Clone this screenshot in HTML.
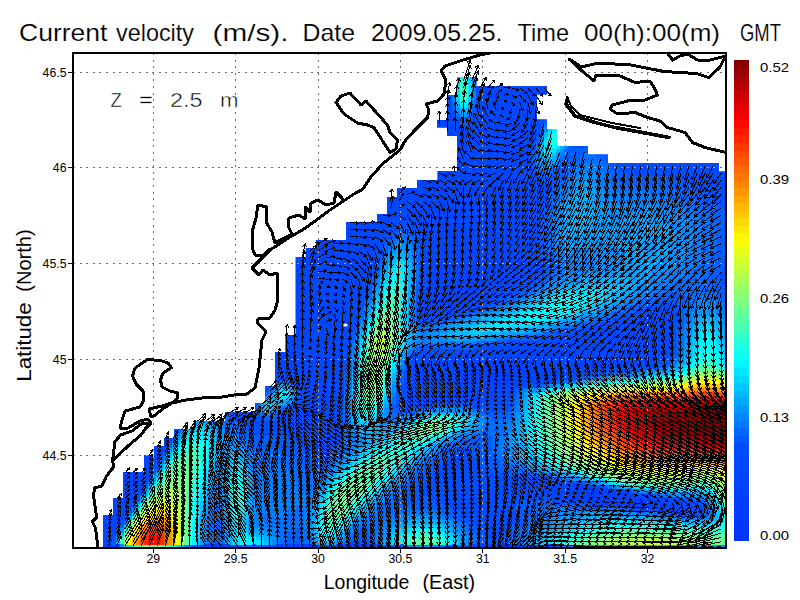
<!DOCTYPE html>
<html lang="en">
<head>
<meta charset="utf-8">
<title>Current velocity (m/s)</title>
<style>
html,body{margin:0;padding:0;background:#fff;}
body{width:800px;height:600px;overflow:hidden;font-family:'Liberation Sans', sans-serif;}
svg{display:block;}
svg text{font-family:'Liberation Sans', sans-serif;fill:#000;}
</style>
</head>
<body>
<svg width="800" height="600" viewBox="0 0 800 600">
<defs>
<clipPath id="sea"><polygon points="103,549 103,515 113,515 113,498 123,498 123,472 144,472 144,455 154,455 154,446 164,446 164,438 174,438 174,429 194,429 194,421 225,421 225,412 255,412 255,403 265,403 265,386 275,386 275,352 285.5,352 285.5,335 295.7,335 295.7,257 305.8,257 305.8,248 316,248 316,240 346,240 346,222 377,222 377,214 387,214 387,197 397,197 397,188 417,188 417,180 437.6,180 437.6,171 457,171 457,136 447,136 447,127.4 437,127.4 437,120 447,120 447,95 457,95 457,77 476.4,77 476.4,86.2 547,86.2 547,94.5 537,94.5 537,119.5 547,119.5 547,129 557,129 557,146 588,146 588,154.5 608,154.5 608,163 719,163 719,171.5 727,171.5 727,549"/></clipPath>
<clipPath id="frame"><rect x="73.0" y="53.0" width="653.0" height="495.0"/></clipPath>
</defs>
<rect width="800" height="600" fill="#fff"/>
<path d="M153.25 53.0V548.0M235.6 53.0V548.0M318.0 53.0V548.0M400.4 53.0V548.0M482.75 53.0V548.0M565.1 53.0V548.0M647.5 53.0V548.0M73.0 72.0H726.0M73.0 167.75H726.0M73.0 263.5H726.0M73.0 359.25H726.0M73.0 455.0H726.0" fill="none" stroke="#6e6e6e" stroke-width="1" stroke-dasharray="2 4.6" shape-rendering="crispEdges"/>
<g clip-path="url(#sea)" shape-rendering="crispEdges">
<rect x="100" y="76" width="627" height="473" fill="#0038ff"/>
<path fill="#0046ff" d="M100 76h344v4.5h-344zM484 76h244v4.5h-244zM100 80h344v4.5h-344zM484 80h244v4.5h-244zM100 84h344v4.5h-344zM484 84h80v4.5h-80zM584 84h144v4.5h-144zM100 88h344v4.5h-344zM484 88h76v4.5h-76zM588 88h140v4.5h-140zM100 92h344v4.5h-344zM484 92h68v4.5h-68zM612 92h116v4.5h-116zM100 96h344v4.5h-344zM484 96h68v4.5h-68zM616 96h112v4.5h-112zM100 100h344v4.5h-344zM484 100h64v4.5h-64zM620 100h108v4.5h-108zM100 104h348v4.5h-348zM480 104h64v4.5h-64zM624 104h104v4.5h-104zM100 108h348v4.5h-348zM480 108h60v4.5h-60zM624 108h104v4.5h-104zM100 112h348v4.5h-348zM480 112h60v4.5h-60zM628 112h100v4.5h-100zM100 116h348v4.5h-348zM480 116h56v4.5h-56zM632 116h96v4.5h-96zM100 120h348v4.5h-348zM480 120h56v4.5h-56zM636 120h92v4.5h-92zM100 124h352v4.5h-352zM476 124h56v4.5h-56zM644 124h84v4.5h-84zM100 128h352v4.5h-352zM476 128h56v4.5h-56zM672 128h56v4.5h-56zM100 132h356v4.5h-356zM472 132h56v4.5h-56zM696 132h32v4.5h-32zM100 136h360v4.5h-360zM468 136h60v4.5h-60zM708 136h20v4.5h-20zM100 140h428v4.5h-428zM720 140h8v4.5h-8zM100 144h424v4.5h-424zM100 148h424v4.5h-424zM100 152h424v4.5h-424zM100 156h420v4.5h-420zM100 160h420v4.5h-420zM100 164h416v4.5h-416zM100 168h416v4.5h-416zM100 172h416v4.5h-416zM100 176h412v4.5h-412zM100 180h408v4.5h-408zM100 184h408v4.5h-408zM100 188h404v4.5h-404zM100 192h404v4.5h-404zM100 196h400v4.5h-400zM100 200h296v4.5h-296zM416 200h84v4.5h-84zM100 204h292v4.5h-292zM420 204h76v4.5h-76zM100 208h288v4.5h-288zM424 208h72v4.5h-72zM100 212h284v4.5h-284zM428 212h64v4.5h-64zM100 216h284v4.5h-284zM428 216h64v4.5h-64zM100 220h280v4.5h-280zM428 220h64v4.5h-64zM100 224h280v4.5h-280zM432 224h60v4.5h-60zM100 228h276v4.5h-276zM432 228h60v4.5h-60zM100 232h276v4.5h-276zM432 232h60v4.5h-60zM100 236h272v4.5h-272zM432 236h60v4.5h-60zM100 240h272v4.5h-272zM432 240h60v4.5h-60zM100 244h272v4.5h-272zM432 244h60v4.5h-60zM100 248h268v4.5h-268zM432 248h60v4.5h-60zM100 252h268v4.5h-268zM436 252h56v4.5h-56zM100 256h268v4.5h-268zM436 256h60v4.5h-60zM100 260h264v4.5h-264zM436 260h60v4.5h-60zM100 264h264v4.5h-264zM436 264h60v4.5h-60zM100 268h264v4.5h-264zM436 268h60v4.5h-60zM100 272h260v4.5h-260zM432 272h64v4.5h-64zM100 276h260v4.5h-260zM432 276h64v4.5h-64zM100 280h260v4.5h-260zM432 280h60v4.5h-60zM100 284h256v4.5h-256zM432 284h56v4.5h-56zM100 288h256v4.5h-256zM432 288h52v4.5h-52zM100 292h252v4.5h-252zM432 292h44v4.5h-44zM100 296h252v4.5h-252zM432 296h36v4.5h-36zM100 300h252v4.5h-252zM432 300h24v4.5h-24zM100 304h248v4.5h-248zM436 304h4v4.5h-4zM100 308h248v4.5h-248zM100 312h248v4.5h-248zM100 316h244v4.5h-244zM100 320h244v4.5h-244zM100 324h244v4.5h-244zM100 328h240v4.5h-240zM100 332h240v4.5h-240zM100 336h236v4.5h-236zM100 340h236v4.5h-236zM100 344h236v4.5h-236zM576 344h72v4.5h-72zM100 348h232v4.5h-232zM516 348h132v4.5h-132zM100 352h232v4.5h-232zM484 352h160v4.5h-160zM100 356h232v4.5h-232zM468 356h24v4.5h-24zM528 356h104v4.5h-104zM100 360h232v4.5h-232zM456 360h24v4.5h-24zM536 360h80v4.5h-80zM100 364h120v4.5h-120zM240 364h92v4.5h-92zM448 364h28v4.5h-28zM540 364h56v4.5h-56zM100 368h116v4.5h-116zM252 368h20v4.5h-20zM292 368h40v4.5h-40zM452 368h20v4.5h-20zM540 368h36v4.5h-36zM100 372h112v4.5h-112zM300 372h32v4.5h-32zM460 372h16v4.5h-16zM544 372h16v4.5h-16zM100 376h108v4.5h-108zM304 376h24v4.5h-24zM468 376h12v4.5h-12zM540 376h8v4.5h-8zM100 380h104v4.5h-104zM308 380h20v4.5h-20zM472 380h12v4.5h-12zM528 380h12v4.5h-12zM100 384h100v4.5h-100zM312 384h12v4.5h-12zM476 384h20v4.5h-20zM500 384h12v4.5h-12zM100 388h100v4.5h-100zM480 388h24v4.5h-24zM100 392h96v4.5h-96zM480 392h20v4.5h-20zM100 396h92v4.5h-92zM484 396h16v4.5h-16zM100 400h88v4.5h-88zM100 404h88v4.5h-88zM100 408h84v4.5h-84zM100 412h80v4.5h-80zM100 416h80v4.5h-80zM100 420h76v4.5h-76zM100 424h72v4.5h-72zM100 428h72v4.5h-72zM100 432h68v4.5h-68zM100 436h68v4.5h-68zM100 440h64v4.5h-64zM100 444h60v4.5h-60zM100 448h60v4.5h-60zM100 452h56v4.5h-56zM100 456h56v4.5h-56zM100 460h52v4.5h-52zM100 464h48v4.5h-48zM100 468h48v4.5h-48zM100 472h44v4.5h-44zM100 476h44v4.5h-44zM100 480h40v4.5h-40zM100 484h40v4.5h-40zM544 484h12v4.5h-12zM584 484h8v4.5h-8zM100 488h36v4.5h-36zM544 488h8v4.5h-8zM608 488h8v4.5h-8zM100 492h32v4.5h-32zM552 492h8v4.5h-8zM632 492h4v4.5h-4zM100 496h32v4.5h-32zM564 496h8v4.5h-8zM652 496h8v4.5h-8zM100 500h28v4.5h-28zM588 500h8v4.5h-8zM668 500h12v4.5h-12zM100 504h28v4.5h-28zM624 504h12v4.5h-12zM676 504h16v4.5h-16zM100 508h24v4.5h-24zM100 512h20v4.5h-20zM100 516h20v4.5h-20zM100 520h16v4.5h-16zM100 524h16v4.5h-16zM100 528h12v4.5h-12zM100 532h12v4.5h-12zM100 536h8v4.5h-8zM100 540h8v4.5h-8zM112 544h4v4.5h-4zM200 544h4v4.5h-4zM228 544h4v4.5h-4zM268 544h8v4.5h-8zM316 544h8v4.5h-8zM328 544h8v4.5h-8zM380 544h4v4.5h-4zM464 544h8v4.5h-8zM520 544h12v4.5h-12zM200 548h4v4.5h-4zM228 548h4v4.5h-4zM264 548h8v4.5h-8zM320 548h8v4.5h-8zM380 548h4v4.5h-4zM464 548h8v4.5h-8zM524 548h8v4.5h-8z"/>
<path fill="#0048ff" d="M444 76h4v4.5h-4zM480 76h4v4.5h-4zM444 80h4v4.5h-4zM480 80h4v4.5h-4zM444 84h4v4.5h-4zM480 84h4v4.5h-4zM564 84h20v4.5h-20zM444 88h4v4.5h-4zM480 88h4v4.5h-4zM560 88h28v4.5h-28zM444 92h4v4.5h-4zM480 92h4v4.5h-4zM552 92h12v4.5h-12zM572 92h40v4.5h-40zM444 96h4v4.5h-4zM480 96h4v4.5h-4zM552 96h8v4.5h-8zM576 96h40v4.5h-40zM444 100h4v4.5h-4zM480 100h4v4.5h-4zM548 100h4v4.5h-4zM580 100h40v4.5h-40zM544 104h8v4.5h-8zM580 104h44v4.5h-44zM448 108h4v4.5h-4zM476 108h4v4.5h-4zM540 108h8v4.5h-8zM584 108h40v4.5h-40zM448 112h4v4.5h-4zM476 112h4v4.5h-4zM540 112h4v4.5h-4zM584 112h44v4.5h-44zM448 116h4v4.5h-4zM476 116h4v4.5h-4zM536 116h8v4.5h-8zM588 116h4v4.5h-4zM600 116h32v4.5h-32zM448 120h8v4.5h-8zM472 120h8v4.5h-8zM536 120h4v4.5h-4zM608 120h28v4.5h-28zM452 124h4v4.5h-4zM472 124h4v4.5h-4zM532 124h4v4.5h-4zM612 124h32v4.5h-32zM452 128h24v4.5h-24zM532 128h4v4.5h-4zM616 128h56v4.5h-56zM456 132h16v4.5h-16zM528 132h8v4.5h-8zM616 132h80v4.5h-80zM460 136h8v4.5h-8zM528 136h4v4.5h-4zM620 136h88v4.5h-88zM528 140h4v4.5h-4zM624 140h96v4.5h-96zM524 144h8v4.5h-8zM628 144h100v4.5h-100zM524 148h4v4.5h-4zM640 148h88v4.5h-88zM524 152h4v4.5h-4zM676 152h52v4.5h-52zM520 156h8v4.5h-8zM692 156h36v4.5h-36zM520 160h8v4.5h-8zM704 160h24v4.5h-24zM516 164h12v4.5h-12zM712 164h16v4.5h-16zM516 168h12v4.5h-12zM720 168h8v4.5h-8zM516 172h12v4.5h-12zM512 176h16v4.5h-16zM508 180h20v4.5h-20zM508 184h20v4.5h-20zM504 188h24v4.5h-24zM504 192h24v4.5h-24zM500 196h28v4.5h-28zM396 200h20v4.5h-20zM500 200h28v4.5h-28zM392 204h28v4.5h-28zM496 204h32v4.5h-32zM388 208h36v4.5h-36zM496 208h28v4.5h-28zM384 212h16v4.5h-16zM408 212h20v4.5h-20zM492 212h32v4.5h-32zM384 216h12v4.5h-12zM416 216h12v4.5h-12zM492 216h32v4.5h-32zM380 220h12v4.5h-12zM420 220h8v4.5h-8zM492 220h32v4.5h-32zM380 224h8v4.5h-8zM420 224h12v4.5h-12zM492 224h32v4.5h-32zM376 228h8v4.5h-8zM424 228h8v4.5h-8zM492 228h28v4.5h-28zM376 232h8v4.5h-8zM424 232h8v4.5h-8zM492 232h28v4.5h-28zM372 236h8v4.5h-8zM424 236h8v4.5h-8zM492 236h28v4.5h-28zM372 240h8v4.5h-8zM424 240h8v4.5h-8zM492 240h28v4.5h-28zM372 244h4v4.5h-4zM424 244h8v4.5h-8zM492 244h28v4.5h-28zM368 248h8v4.5h-8zM428 248h4v4.5h-4zM492 248h28v4.5h-28zM368 252h8v4.5h-8zM428 252h8v4.5h-8zM492 252h32v4.5h-32zM368 256h4v4.5h-4zM428 256h8v4.5h-8zM496 256h28v4.5h-28zM364 260h8v4.5h-8zM428 260h8v4.5h-8zM496 260h28v4.5h-28zM364 264h8v4.5h-8zM428 264h8v4.5h-8zM496 264h28v4.5h-28zM364 268h4v4.5h-4zM428 268h8v4.5h-8zM496 268h28v4.5h-28zM360 272h8v4.5h-8zM428 272h4v4.5h-4zM496 272h28v4.5h-28zM360 276h8v4.5h-8zM428 276h4v4.5h-4zM496 276h24v4.5h-24zM360 280h4v4.5h-4zM428 280h4v4.5h-4zM492 280h24v4.5h-24zM356 284h8v4.5h-8zM428 284h4v4.5h-4zM488 284h24v4.5h-24zM356 288h8v4.5h-8zM424 288h8v4.5h-8zM484 288h20v4.5h-20zM352 292h8v4.5h-8zM424 292h8v4.5h-8zM476 292h20v4.5h-20zM352 296h8v4.5h-8zM424 296h8v4.5h-8zM468 296h20v4.5h-20zM352 300h4v4.5h-4zM424 300h8v4.5h-8zM456 300h24v4.5h-24zM348 304h8v4.5h-8zM424 304h12v4.5h-12zM440 304h28v4.5h-28zM348 308h8v4.5h-8zM424 308h28v4.5h-28zM348 312h4v4.5h-4zM432 312h4v4.5h-4zM344 316h8v4.5h-8zM344 320h8v4.5h-8zM648 320h8v4.5h-8zM344 324h4v4.5h-4zM624 324h40v4.5h-40zM340 328h8v4.5h-8zM604 328h60v4.5h-60zM340 332h8v4.5h-8zM588 332h80v4.5h-80zM336 336h8v4.5h-8zM568 336h100v4.5h-100zM336 340h8v4.5h-8zM552 340h116v4.5h-116zM336 344h8v4.5h-8zM516 344h60v4.5h-60zM648 344h20v4.5h-20zM332 348h12v4.5h-12zM484 348h32v4.5h-32zM648 348h20v4.5h-20zM332 352h8v4.5h-8zM456 352h28v4.5h-28zM644 352h20v4.5h-20zM332 356h8v4.5h-8zM420 356h48v4.5h-48zM632 356h28v4.5h-28zM332 360h8v4.5h-8zM416 360h40v4.5h-40zM616 360h32v4.5h-32zM220 364h20v4.5h-20zM332 364h8v4.5h-8zM416 364h32v4.5h-32zM596 364h28v4.5h-28zM216 368h36v4.5h-36zM272 368h20v4.5h-20zM332 368h8v4.5h-8zM412 368h40v4.5h-40zM576 368h28v4.5h-28zM212 372h88v4.5h-88zM332 372h8v4.5h-8zM412 372h48v4.5h-48zM560 372h20v4.5h-20zM208 376h68v4.5h-68zM296 376h8v4.5h-8zM328 376h12v4.5h-12zM412 376h56v4.5h-56zM548 376h12v4.5h-12zM204 380h64v4.5h-64zM300 380h8v4.5h-8zM328 380h8v4.5h-8zM412 380h60v4.5h-60zM540 380h4v4.5h-4zM200 384h12v4.5h-12zM224 384h40v4.5h-40zM300 384h12v4.5h-12zM324 384h12v4.5h-12zM412 384h64v4.5h-64zM512 384h8v4.5h-8zM200 388h4v4.5h-4zM232 388h28v4.5h-28zM304 388h32v4.5h-32zM412 388h68v4.5h-68zM504 388h4v4.5h-4zM196 392h4v4.5h-4zM240 392h12v4.5h-12zM304 392h32v4.5h-32zM412 392h28v4.5h-28zM460 392h20v4.5h-20zM500 392h8v4.5h-8zM192 396h4v4.5h-4zM304 396h32v4.5h-32zM472 396h12v4.5h-12zM500 396h4v4.5h-4zM188 400h8v4.5h-8zM304 400h28v4.5h-28zM480 400h24v4.5h-24zM188 404h4v4.5h-4zM304 404h28v4.5h-28zM184 408h4v4.5h-4zM300 408h32v4.5h-32zM180 412h4v4.5h-4zM304 412h24v4.5h-24zM180 416h4v4.5h-4zM312 416h12v4.5h-12zM176 420h4v4.5h-4zM172 424h4v4.5h-4zM172 428h4v4.5h-4zM168 432h4v4.5h-4zM168 436h4v4.5h-4zM164 440h4v4.5h-4zM160 444h4v4.5h-4zM160 448h4v4.5h-4zM156 452h4v4.5h-4zM156 456h4v4.5h-4zM152 460h4v4.5h-4zM148 464h4v4.5h-4zM148 468h4v4.5h-4zM144 472h4v4.5h-4zM144 476h4v4.5h-4zM140 480h4v4.5h-4zM540 480h24v4.5h-24zM140 484h4v4.5h-4zM532 484h12v4.5h-12zM592 484h4v4.5h-4zM136 488h4v4.5h-4zM536 488h8v4.5h-8zM616 488h4v4.5h-4zM132 492h4v4.5h-4zM544 492h8v4.5h-8zM636 492h4v4.5h-4zM132 496h4v4.5h-4zM556 496h8v4.5h-8zM660 496h4v4.5h-4zM128 500h4v4.5h-4zM580 500h8v4.5h-8zM680 500h8v4.5h-8zM128 504h4v4.5h-4zM612 504h12v4.5h-12zM692 504h8v4.5h-8zM124 508h4v4.5h-4zM656 508h44v4.5h-44zM120 512h4v4.5h-4zM120 516h4v4.5h-4zM116 520h4v4.5h-4zM116 524h4v4.5h-4zM112 528h4v4.5h-4zM112 532h4v4.5h-4zM108 536h4v4.5h-4zM108 540h4v4.5h-4zM196 544h4v4.5h-4zM232 544h4v4.5h-4zM264 544h4v4.5h-4zM324 544h4v4.5h-4zM384 544h8v4.5h-8zM460 544h4v4.5h-4zM532 544h8v4.5h-8zM112 548h4v4.5h-4zM196 548h4v4.5h-4zM232 548h8v4.5h-8zM256 548h8v4.5h-8zM384 548h8v4.5h-8zM460 548h4v4.5h-4zM532 548h8v4.5h-8z"/>
<path fill="#004bff" d="M448 76h4v4.5h-4zM476 76h4v4.5h-4zM448 80h4v4.5h-4zM476 80h4v4.5h-4zM448 84h4v4.5h-4zM476 84h4v4.5h-4zM448 88h4v4.5h-4zM476 88h4v4.5h-4zM448 92h4v4.5h-4zM476 92h4v4.5h-4zM564 92h8v4.5h-8zM448 96h4v4.5h-4zM476 96h4v4.5h-4zM560 96h16v4.5h-16zM448 100h4v4.5h-4zM476 100h4v4.5h-4zM552 100h8v4.5h-8zM572 100h8v4.5h-8zM448 104h4v4.5h-4zM476 104h4v4.5h-4zM552 104h4v4.5h-4zM576 104h4v4.5h-4zM548 108h4v4.5h-4zM576 108h8v4.5h-8zM544 112h4v4.5h-4zM580 112h4v4.5h-4zM452 116h4v4.5h-4zM472 116h4v4.5h-4zM580 116h8v4.5h-8zM592 116h8v4.5h-8zM540 120h4v4.5h-4zM580 120h28v4.5h-28zM456 124h16v4.5h-16zM536 124h4v4.5h-4zM580 124h32v4.5h-32zM536 128h4v4.5h-4zM580 128h36v4.5h-36zM580 132h4v4.5h-4zM600 132h16v4.5h-16zM532 136h4v4.5h-4zM608 136h12v4.5h-12zM532 140h4v4.5h-4zM608 140h16v4.5h-16zM612 144h16v4.5h-16zM528 148h4v4.5h-4zM616 148h24v4.5h-24zM528 152h4v4.5h-4zM620 152h56v4.5h-56zM528 156h4v4.5h-4zM620 156h72v4.5h-72zM528 160h4v4.5h-4zM628 160h76v4.5h-76zM528 164h4v4.5h-4zM664 164h48v4.5h-48zM528 168h4v4.5h-4zM684 168h36v4.5h-36zM528 172h4v4.5h-4zM696 172h32v4.5h-32zM528 176h4v4.5h-4zM704 176h24v4.5h-24zM528 180h8v4.5h-8zM712 180h16v4.5h-16zM528 184h8v4.5h-8zM716 184h12v4.5h-12zM528 188h12v4.5h-12zM724 188h4v4.5h-4zM528 192h12v4.5h-12zM528 196h12v4.5h-12zM528 200h12v4.5h-12zM528 204h12v4.5h-12zM524 208h12v4.5h-12zM400 212h8v4.5h-8zM524 212h12v4.5h-12zM396 216h20v4.5h-20zM524 216h12v4.5h-12zM392 220h12v4.5h-12zM408 220h12v4.5h-12zM524 220h12v4.5h-12zM388 224h8v4.5h-8zM412 224h8v4.5h-8zM524 224h12v4.5h-12zM384 228h8v4.5h-8zM416 228h8v4.5h-8zM520 228h12v4.5h-12zM384 232h4v4.5h-4zM420 232h4v4.5h-4zM520 232h12v4.5h-12zM380 236h8v4.5h-8zM420 236h4v4.5h-4zM520 236h12v4.5h-12zM380 240h4v4.5h-4zM420 240h4v4.5h-4zM520 240h12v4.5h-12zM376 244h8v4.5h-8zM420 244h4v4.5h-4zM520 244h12v4.5h-12zM376 248h4v4.5h-4zM424 248h4v4.5h-4zM520 248h12v4.5h-12zM376 252h4v4.5h-4zM424 252h4v4.5h-4zM524 252h12v4.5h-12zM372 256h4v4.5h-4zM424 256h4v4.5h-4zM524 256h12v4.5h-12zM372 260h4v4.5h-4zM424 260h4v4.5h-4zM524 260h12v4.5h-12zM372 264h4v4.5h-4zM424 264h4v4.5h-4zM524 264h12v4.5h-12zM368 268h4v4.5h-4zM424 268h4v4.5h-4zM524 268h12v4.5h-12zM368 272h4v4.5h-4zM424 272h4v4.5h-4zM524 272h12v4.5h-12zM368 276h4v4.5h-4zM424 276h4v4.5h-4zM520 276h12v4.5h-12zM364 280h4v4.5h-4zM424 280h4v4.5h-4zM516 280h12v4.5h-12zM364 284h4v4.5h-4zM424 284h4v4.5h-4zM512 284h12v4.5h-12zM364 288h4v4.5h-4zM504 288h12v4.5h-12zM360 292h4v4.5h-4zM420 292h4v4.5h-4zM496 292h12v4.5h-12zM360 296h4v4.5h-4zM420 296h4v4.5h-4zM488 296h12v4.5h-12zM356 300h4v4.5h-4zM420 300h4v4.5h-4zM480 300h12v4.5h-12zM356 304h4v4.5h-4zM420 304h4v4.5h-4zM468 304h12v4.5h-12zM356 308h4v4.5h-4zM420 308h4v4.5h-4zM452 308h16v4.5h-16zM352 312h4v4.5h-4zM420 312h12v4.5h-12zM436 312h16v4.5h-16zM640 312h28v4.5h-28zM352 316h4v4.5h-4zM424 316h12v4.5h-12zM628 316h44v4.5h-44zM352 320h4v4.5h-4zM612 320h36v4.5h-36zM656 320h16v4.5h-16zM348 324h4v4.5h-4zM600 324h24v4.5h-24zM664 324h8v4.5h-8zM348 328h4v4.5h-4zM584 328h20v4.5h-20zM664 328h8v4.5h-8zM348 332h4v4.5h-4zM568 332h20v4.5h-20zM668 332h4v4.5h-4zM344 336h4v4.5h-4zM552 336h16v4.5h-16zM668 336h4v4.5h-4zM344 340h4v4.5h-4zM524 340h28v4.5h-28zM668 340h4v4.5h-4zM344 344h4v4.5h-4zM492 344h24v4.5h-24zM668 344h4v4.5h-4zM344 348h4v4.5h-4zM460 348h24v4.5h-24zM668 348h4v4.5h-4zM340 352h4v4.5h-4zM420 352h36v4.5h-36zM664 352h8v4.5h-8zM340 356h4v4.5h-4zM416 356h4v4.5h-4zM660 356h8v4.5h-8zM340 360h4v4.5h-4zM412 360h4v4.5h-4zM648 360h12v4.5h-12zM340 364h4v4.5h-4zM408 364h8v4.5h-8zM624 364h20v4.5h-20zM340 368h4v4.5h-4zM408 368h4v4.5h-4zM604 368h12v4.5h-12zM340 372h4v4.5h-4zM408 372h4v4.5h-4zM580 372h12v4.5h-12zM276 376h8v4.5h-8zM288 376h8v4.5h-8zM340 376h4v4.5h-4zM408 376h4v4.5h-4zM560 376h8v4.5h-8zM268 380h4v4.5h-4zM296 380h4v4.5h-4zM336 380h4v4.5h-4zM404 380h8v4.5h-8zM544 380h8v4.5h-8zM212 384h12v4.5h-12zM264 384h8v4.5h-8zM336 384h4v4.5h-4zM404 384h8v4.5h-8zM520 384h8v4.5h-8zM204 388h28v4.5h-28zM260 388h4v4.5h-4zM300 388h4v4.5h-4zM336 388h4v4.5h-4zM404 388h8v4.5h-8zM508 388h4v4.5h-4zM200 392h40v4.5h-40zM252 392h8v4.5h-8zM300 392h4v4.5h-4zM336 392h4v4.5h-4zM404 392h8v4.5h-8zM440 392h20v4.5h-20zM508 392h4v4.5h-4zM196 396h8v4.5h-8zM224 396h32v4.5h-32zM300 396h4v4.5h-4zM336 396h4v4.5h-4zM404 396h68v4.5h-68zM504 396h4v4.5h-4zM196 400h4v4.5h-4zM232 400h20v4.5h-20zM300 400h4v4.5h-4zM332 400h8v4.5h-8zM404 400h32v4.5h-32zM468 400h12v4.5h-12zM504 400h4v4.5h-4zM192 404h4v4.5h-4zM236 404h16v4.5h-16zM296 404h8v4.5h-8zM332 404h8v4.5h-8zM404 404h12v4.5h-12zM484 404h20v4.5h-20zM188 408h4v4.5h-4zM240 408h12v4.5h-12zM292 408h8v4.5h-8zM332 408h4v4.5h-4zM184 412h4v4.5h-4zM244 412h8v4.5h-8zM284 412h20v4.5h-20zM328 412h8v4.5h-8zM284 416h28v4.5h-28zM324 416h12v4.5h-12zM180 420h4v4.5h-4zM284 420h52v4.5h-52zM176 424h4v4.5h-4zM292 424h44v4.5h-44zM300 428h32v4.5h-32zM172 432h4v4.5h-4zM308 432h24v4.5h-24zM316 436h8v4.5h-8zM164 444h4v4.5h-4zM160 452h4v4.5h-4zM156 460h4v4.5h-4zM152 464h4v4.5h-4zM148 472h4v4.5h-4zM144 480h4v4.5h-4zM520 480h20v4.5h-20zM564 480h12v4.5h-12zM516 484h16v4.5h-16zM596 484h4v4.5h-4zM464 488h12v4.5h-12zM520 488h16v4.5h-16zM620 488h4v4.5h-4zM136 492h4v4.5h-4zM460 492h24v4.5h-24zM532 492h12v4.5h-12zM640 492h8v4.5h-8zM460 496h28v4.5h-28zM548 496h8v4.5h-8zM664 496h8v4.5h-8zM132 500h4v4.5h-4zM464 500h24v4.5h-24zM568 500h12v4.5h-12zM688 500h8v4.5h-8zM468 504h24v4.5h-24zM600 504h12v4.5h-12zM700 504h4v4.5h-4zM472 508h24v4.5h-24zM644 508h12v4.5h-12zM700 508h4v4.5h-4zM124 512h4v4.5h-4zM476 512h20v4.5h-20zM484 516h12v4.5h-12zM120 520h4v4.5h-4zM116 528h4v4.5h-4zM236 544h4v4.5h-4zM256 544h8v4.5h-8zM392 544h4v4.5h-4zM456 544h4v4.5h-4zM540 544h8v4.5h-8zM240 548h16v4.5h-16zM392 548h4v4.5h-4zM456 548h4v4.5h-4zM540 548h8v4.5h-8z"/>
<path fill="#006eff" d="M452 76h4v4.5h-4zM472 76h4v4.5h-4zM452 100h4v4.5h-4zM472 100h4v4.5h-4zM564 104h4v4.5h-4zM556 108h4v4.5h-4zM568 108h4v4.5h-4zM456 112h4v4.5h-4zM468 112h4v4.5h-4zM552 112h4v4.5h-4zM460 116h8v4.5h-8zM548 116h4v4.5h-4zM568 136h4v4.5h-4zM536 140h4v4.5h-4zM568 140h4v4.5h-4zM536 144h4v4.5h-4zM564 148h4v4.5h-4zM564 152h4v4.5h-4zM584 152h12v4.5h-12zM560 156h4v4.5h-4zM580 156h20v4.5h-20zM576 160h28v4.5h-28zM536 164h4v4.5h-4zM556 164h4v4.5h-4zM572 164h8v4.5h-8zM596 164h12v4.5h-12zM536 168h8v4.5h-8zM548 168h8v4.5h-8zM568 168h8v4.5h-8zM600 168h8v4.5h-8zM544 172h4v4.5h-4zM564 172h8v4.5h-8zM604 172h8v4.5h-8zM564 176h4v4.5h-4zM604 176h12v4.5h-12zM560 180h8v4.5h-8zM608 180h12v4.5h-12zM560 184h4v4.5h-4zM612 184h48v4.5h-48zM556 188h4v4.5h-4zM616 188h60v4.5h-60zM556 192h4v4.5h-4zM652 192h36v4.5h-36zM552 196h8v4.5h-8zM672 196h24v4.5h-24zM552 200h4v4.5h-4zM680 200h20v4.5h-20zM552 204h4v4.5h-4zM688 204h16v4.5h-16zM548 208h8v4.5h-8zM692 208h16v4.5h-16zM548 212h4v4.5h-4zM696 212h16v4.5h-16zM548 216h4v4.5h-4zM700 216h12v4.5h-12zM548 220h4v4.5h-4zM700 220h16v4.5h-16zM548 224h4v4.5h-4zM704 224h12v4.5h-12zM548 228h4v4.5h-4zM704 228h12v4.5h-12zM400 232h8v4.5h-8zM548 232h4v4.5h-4zM704 232h12v4.5h-12zM396 236h16v4.5h-16zM548 236h4v4.5h-4zM704 236h12v4.5h-12zM392 240h4v4.5h-4zM408 240h4v4.5h-4zM548 240h4v4.5h-4zM704 240h12v4.5h-12zM388 244h4v4.5h-4zM412 244h4v4.5h-4zM548 244h4v4.5h-4zM704 244h12v4.5h-12zM412 248h4v4.5h-4zM548 248h4v4.5h-4zM704 248h12v4.5h-12zM384 252h4v4.5h-4zM548 252h8v4.5h-8zM700 252h16v4.5h-16zM548 256h8v4.5h-8zM700 256h12v4.5h-12zM380 260h4v4.5h-4zM552 260h8v4.5h-8zM696 260h16v4.5h-16zM380 264h4v4.5h-4zM416 264h4v4.5h-4zM552 264h8v4.5h-8zM696 264h16v4.5h-16zM416 268h4v4.5h-4zM552 268h12v4.5h-12zM692 268h16v4.5h-16zM376 272h4v4.5h-4zM416 272h4v4.5h-4zM552 272h8v4.5h-8zM688 272h20v4.5h-20zM416 276h4v4.5h-4zM548 276h8v4.5h-8zM680 276h28v4.5h-28zM544 280h4v4.5h-4zM672 280h36v4.5h-36zM372 284h4v4.5h-4zM536 284h8v4.5h-8zM664 284h48v4.5h-48zM532 288h4v4.5h-4zM660 288h52v4.5h-52zM524 292h4v4.5h-4zM652 292h12v4.5h-12zM684 292h32v4.5h-32zM368 296h4v4.5h-4zM516 296h4v4.5h-4zM644 296h12v4.5h-12zM688 296h12v4.5h-12zM708 296h12v4.5h-12zM508 300h4v4.5h-4zM636 300h8v4.5h-8zM688 300h8v4.5h-8zM716 300h8v4.5h-8zM364 304h4v4.5h-4zM412 304h4v4.5h-4zM496 304h8v4.5h-8zM624 304h12v4.5h-12zM688 304h4v4.5h-4zM720 304h4v4.5h-4zM412 308h4v4.5h-4zM484 308h8v4.5h-8zM616 308h8v4.5h-8zM684 308h8v4.5h-8zM724 308h4v4.5h-4zM412 312h4v4.5h-4zM472 312h8v4.5h-8zM604 312h8v4.5h-8zM684 312h4v4.5h-4zM724 312h4v4.5h-4zM360 316h4v4.5h-4zM412 316h4v4.5h-4zM456 316h8v4.5h-8zM596 316h8v4.5h-8zM684 316h4v4.5h-4zM416 320h4v4.5h-4zM440 320h8v4.5h-8zM580 320h8v4.5h-8zM684 320h4v4.5h-4zM416 324h20v4.5h-20zM568 324h8v4.5h-8zM356 328h4v4.5h-4zM552 328h8v4.5h-8zM680 328h4v4.5h-4zM536 332h8v4.5h-8zM680 332h4v4.5h-4zM508 336h12v4.5h-12zM680 336h4v4.5h-4zM352 340h4v4.5h-4zM476 340h16v4.5h-16zM680 340h4v4.5h-4zM416 344h8v4.5h-8zM680 344h4v4.5h-4zM412 348h4v4.5h-4zM680 348h4v4.5h-4zM408 352h4v4.5h-4zM404 356h4v4.5h-4zM676 356h4v4.5h-4zM348 360h4v4.5h-4zM672 360h4v4.5h-4zM348 364h4v4.5h-4zM664 364h4v4.5h-4zM348 368h4v4.5h-4zM400 368h4v4.5h-4zM644 368h8v4.5h-8zM348 372h4v4.5h-4zM400 372h4v4.5h-4zM612 372h12v4.5h-12zM588 376h8v4.5h-8zM280 380h8v4.5h-8zM564 380h4v4.5h-4zM292 384h4v4.5h-4zM396 384h4v4.5h-4zM544 384h4v4.5h-4zM520 388h4v4.5h-4zM344 392h4v4.5h-4zM516 392h4v4.5h-4zM260 396h4v4.5h-4zM344 396h4v4.5h-4zM392 396h4v4.5h-4zM516 396h4v4.5h-4zM292 400h4v4.5h-4zM344 400h4v4.5h-4zM392 400h4v4.5h-4zM516 400h4v4.5h-4zM256 404h4v4.5h-4zM284 404h4v4.5h-4zM344 404h4v4.5h-4zM444 404h16v4.5h-16zM512 404h4v4.5h-4zM196 408h20v4.5h-20zM276 408h4v4.5h-4zM344 408h4v4.5h-4zM420 408h8v4.5h-8zM472 408h8v4.5h-8zM512 408h4v4.5h-4zM192 412h4v4.5h-4zM216 412h8v4.5h-8zM260 412h4v4.5h-4zM272 412h4v4.5h-4zM344 412h4v4.5h-4zM388 412h8v4.5h-8zM404 412h8v4.5h-8zM480 412h8v4.5h-8zM508 412h4v4.5h-4zM188 416h4v4.5h-4zM220 416h8v4.5h-8zM344 416h4v4.5h-4zM392 416h8v4.5h-8zM488 416h4v4.5h-4zM504 416h8v4.5h-8zM224 420h8v4.5h-8zM344 420h4v4.5h-4zM488 420h20v4.5h-20zM228 424h8v4.5h-8zM344 424h4v4.5h-4zM484 424h20v4.5h-20zM232 428h8v4.5h-8zM344 428h4v4.5h-4zM480 428h24v4.5h-24zM176 432h4v4.5h-4zM236 432h8v4.5h-8zM344 432h4v4.5h-4zM472 432h12v4.5h-12zM488 432h16v4.5h-16zM240 436h8v4.5h-8zM344 436h8v4.5h-8zM460 436h12v4.5h-12zM492 436h8v4.5h-8zM244 440h8v4.5h-8zM344 440h8v4.5h-8zM452 440h8v4.5h-8zM492 440h8v4.5h-8zM248 444h4v4.5h-4zM344 444h4v4.5h-4zM444 444h8v4.5h-8zM492 444h8v4.5h-8zM248 448h8v4.5h-8zM264 448h20v4.5h-20zM340 448h8v4.5h-8zM440 448h4v4.5h-4zM492 448h8v4.5h-8zM164 452h4v4.5h-4zM252 452h36v4.5h-36zM340 452h4v4.5h-4zM436 452h4v4.5h-4zM492 452h12v4.5h-12zM252 456h44v4.5h-44zM336 456h4v4.5h-4zM428 456h8v4.5h-8zM496 456h8v4.5h-8zM256 460h44v4.5h-44zM328 460h8v4.5h-8zM424 460h8v4.5h-8zM500 460h8v4.5h-8zM256 464h12v4.5h-12zM284 464h20v4.5h-20zM324 464h8v4.5h-8zM420 464h8v4.5h-8zM504 464h12v4.5h-12zM288 468h20v4.5h-20zM316 468h12v4.5h-12zM416 468h8v4.5h-8zM512 468h12v4.5h-12zM152 472h4v4.5h-4zM292 472h32v4.5h-32zM412 472h8v4.5h-8zM532 472h12v4.5h-12zM292 476h28v4.5h-28zM408 476h8v4.5h-8zM560 476h8v4.5h-8zM148 480h4v4.5h-4zM296 480h20v4.5h-20zM404 480h8v4.5h-8zM588 480h4v4.5h-4zM296 484h16v4.5h-16zM400 484h8v4.5h-8zM608 484h4v4.5h-4zM300 488h8v4.5h-8zM396 488h8v4.5h-8zM632 488h4v4.5h-4zM140 492h4v4.5h-4zM392 492h8v4.5h-8zM656 492h8v4.5h-8zM388 496h12v4.5h-12zM692 496h8v4.5h-8zM384 500h12v4.5h-12zM704 500h4v4.5h-4zM216 504h4v4.5h-4zM296 504h4v4.5h-4zM380 504h36v4.5h-36zM540 504h28v4.5h-28zM708 504h4v4.5h-4zM212 508h8v4.5h-8zM288 508h16v4.5h-16zM380 508h60v4.5h-60zM532 508h20v4.5h-20zM600 508h20v4.5h-20zM708 508h4v4.5h-4zM128 512h4v4.5h-4zM212 512h8v4.5h-8zM260 512h8v4.5h-8zM284 512h20v4.5h-20zM372 512h28v4.5h-28zM440 512h8v4.5h-8zM532 512h12v4.5h-12zM648 512h12v4.5h-12zM212 516h8v4.5h-8zM260 516h44v4.5h-44zM368 516h24v4.5h-24zM448 516h8v4.5h-8zM528 516h12v4.5h-12zM212 520h12v4.5h-12zM264 520h40v4.5h-40zM364 520h20v4.5h-20zM456 520h8v4.5h-8zM528 520h8v4.5h-8zM208 524h8v4.5h-8zM220 524h4v4.5h-4zM272 524h32v4.5h-32zM360 524h20v4.5h-20zM460 524h8v4.5h-8zM524 524h8v4.5h-8zM208 528h8v4.5h-8zM220 528h4v4.5h-4zM276 528h16v4.5h-16zM300 528h8v4.5h-8zM356 528h4v4.5h-4zM368 528h12v4.5h-12zM464 528h8v4.5h-8zM520 528h8v4.5h-8zM208 532h8v4.5h-8zM220 532h4v4.5h-4zM280 532h8v4.5h-8zM300 532h8v4.5h-8zM352 532h4v4.5h-4zM368 532h8v4.5h-8zM468 532h8v4.5h-8zM516 532h8v4.5h-8zM208 536h16v4.5h-16zM280 536h8v4.5h-8zM304 536h4v4.5h-4zM348 536h4v4.5h-4zM372 536h4v4.5h-4zM472 536h4v4.5h-4zM512 536h8v4.5h-8zM208 540h4v4.5h-4zM220 540h4v4.5h-4zM280 540h4v4.5h-4zM304 540h4v4.5h-4zM344 540h4v4.5h-4zM372 540h4v4.5h-4zM472 540h8v4.5h-8zM508 540h8v4.5h-8zM188 544h4v4.5h-4zM404 544h4v4.5h-4zM440 544h4v4.5h-4zM564 544h8v4.5h-8zM404 548h4v4.5h-4zM440 548h4v4.5h-4zM564 548h12v4.5h-12z"/>
<path fill="#00c3ff" d="M456 76h4v4.5h-4zM468 76h4v4.5h-4zM456 100h4v4.5h-4zM468 100h4v4.5h-4zM560 140h4v4.5h-4zM556 148h4v4.5h-4zM552 152h4v4.5h-4zM544 156h8v4.5h-8zM576 212h8v4.5h-8zM576 216h4v4.5h-4zM396 256h8v4.5h-8zM392 260h4v4.5h-4zM404 260h4v4.5h-4zM404 264h4v4.5h-4zM388 268h4v4.5h-4zM384 276h4v4.5h-4zM380 284h4v4.5h-4zM576 284h44v4.5h-44zM560 288h8v4.5h-8zM608 288h12v4.5h-12zM552 292h4v4.5h-4zM608 292h8v4.5h-8zM376 296h4v4.5h-4zM540 296h8v4.5h-8zM604 296h8v4.5h-8zM532 300h8v4.5h-8zM600 300h4v4.5h-4zM372 304h4v4.5h-4zM524 304h8v4.5h-8zM592 304h8v4.5h-8zM516 308h4v4.5h-4zM584 308h4v4.5h-4zM404 312h4v4.5h-4zM504 312h8v4.5h-8zM576 312h4v4.5h-4zM368 316h4v4.5h-4zM404 316h4v4.5h-4zM492 316h8v4.5h-8zM564 316h4v4.5h-4zM480 320h8v4.5h-8zM548 320h8v4.5h-8zM704 320h8v4.5h-8zM364 324h4v4.5h-4zM468 324h8v4.5h-8zM528 324h8v4.5h-8zM700 324h4v4.5h-4zM712 324h4v4.5h-4zM460 328h16v4.5h-16zM500 328h16v4.5h-16zM696 328h4v4.5h-4zM716 328h4v4.5h-4zM468 332h12v4.5h-12zM716 332h4v4.5h-4zM360 336h4v4.5h-4zM692 336h4v4.5h-4zM404 340h4v4.5h-4zM692 340h4v4.5h-4zM720 340h4v4.5h-4zM692 344h4v4.5h-4zM720 344h4v4.5h-4zM400 348h4v4.5h-4zM356 356h4v4.5h-4zM688 356h4v4.5h-4zM724 356h4v4.5h-4zM356 360h4v4.5h-4zM356 364h4v4.5h-4zM676 368h4v4.5h-4zM392 372h4v4.5h-4zM660 372h8v4.5h-8zM624 376h8v4.5h-8zM592 380h4v4.5h-4zM388 384h4v4.5h-4zM564 384h4v4.5h-4zM288 388h4v4.5h-4zM352 388h4v4.5h-4zM544 388h4v4.5h-4zM276 392h4v4.5h-4zM352 392h4v4.5h-4zM276 396h4v4.5h-4zM352 396h4v4.5h-4zM384 396h4v4.5h-4zM528 396h4v4.5h-4zM264 400h12v4.5h-12zM352 400h4v4.5h-4zM528 400h4v4.5h-4zM264 404h4v4.5h-4zM352 404h4v4.5h-4zM352 408h4v4.5h-4zM380 408h4v4.5h-4zM376 412h4v4.5h-4zM432 412h4v4.5h-4zM456 412h8v4.5h-8zM524 412h4v4.5h-4zM356 416h4v4.5h-4zM416 416h4v4.5h-4zM468 416h4v4.5h-4zM524 416h4v4.5h-4zM356 420h4v4.5h-4zM372 420h4v4.5h-4zM468 420h4v4.5h-4zM524 420h4v4.5h-4zM196 424h12v4.5h-12zM364 424h4v4.5h-4zM400 424h4v4.5h-4zM464 424h4v4.5h-4zM524 424h4v4.5h-4zM188 428h4v4.5h-4zM208 428h4v4.5h-4zM392 428h4v4.5h-4zM460 428h4v4.5h-4zM184 432h4v4.5h-4zM388 432h4v4.5h-4zM180 436h4v4.5h-4zM212 436h4v4.5h-4zM384 436h4v4.5h-4zM440 436h4v4.5h-4zM212 440h4v4.5h-4zM376 440h8v4.5h-8zM432 440h4v4.5h-4zM524 440h4v4.5h-4zM212 444h4v4.5h-4zM372 444h4v4.5h-4zM524 444h4v4.5h-4zM172 448h4v4.5h-4zM212 448h4v4.5h-4zM364 448h4v4.5h-4zM420 448h4v4.5h-4zM524 448h4v4.5h-4zM212 452h4v4.5h-4zM360 452h4v4.5h-4zM416 452h4v4.5h-4zM528 452h4v4.5h-4zM212 456h4v4.5h-4zM232 456h8v4.5h-8zM356 456h4v4.5h-4zM412 456h4v4.5h-4zM532 456h4v4.5h-4zM164 460h4v4.5h-4zM212 460h4v4.5h-4zM228 460h4v4.5h-4zM240 460h4v4.5h-4zM408 460h4v4.5h-4zM536 460h4v4.5h-4zM228 464h4v4.5h-4zM544 464h4v4.5h-4zM208 468h4v4.5h-4zM244 468h4v4.5h-4zM340 468h4v4.5h-4zM552 468h8v4.5h-8zM208 472h4v4.5h-4zM244 472h4v4.5h-4zM336 472h4v4.5h-4zM396 472h4v4.5h-4zM568 472h4v4.5h-4zM332 476h4v4.5h-4zM392 476h4v4.5h-4zM588 476h4v4.5h-4zM152 480h4v4.5h-4zM224 480h4v4.5h-4zM388 480h4v4.5h-4zM204 484h4v4.5h-4zM224 484h4v4.5h-4zM384 484h4v4.5h-4zM628 484h4v4.5h-4zM204 488h4v4.5h-4zM224 488h4v4.5h-4zM324 488h4v4.5h-4zM380 488h4v4.5h-4zM656 488h12v4.5h-12zM376 492h4v4.5h-4zM704 492h4v4.5h-4zM320 496h4v4.5h-4zM372 496h4v4.5h-4zM200 500h4v4.5h-4zM368 500h4v4.5h-4zM200 504h4v4.5h-4zM364 504h4v4.5h-4zM716 504h4v4.5h-4zM200 508h4v4.5h-4zM316 508h4v4.5h-4zM360 508h4v4.5h-4zM716 508h4v4.5h-4zM228 512h4v4.5h-4zM244 512h4v4.5h-4zM316 512h4v4.5h-4zM356 512h4v4.5h-4zM716 512h4v4.5h-4zM228 516h4v4.5h-4zM244 516h4v4.5h-4zM352 516h4v4.5h-4zM600 516h32v4.5h-32zM716 516h4v4.5h-4zM348 520h4v4.5h-4zM576 520h16v4.5h-16zM668 520h16v4.5h-16zM708 520h4v4.5h-4zM124 524h4v4.5h-4zM244 524h4v4.5h-4zM344 524h4v4.5h-4zM404 524h8v4.5h-8zM436 524h8v4.5h-8zM568 524h8v4.5h-8zM244 528h4v4.5h-4zM340 528h4v4.5h-4zM396 528h4v4.5h-4zM444 528h4v4.5h-4zM556 528h8v4.5h-8zM120 532h4v4.5h-4zM252 532h4v4.5h-4zM316 532h4v4.5h-4zM392 532h4v4.5h-4zM452 532h4v4.5h-4zM548 532h8v4.5h-8zM260 536h4v4.5h-4zM544 536h4v4.5h-4zM116 540h4v4.5h-4zM196 540h4v4.5h-4zM264 540h4v4.5h-4zM320 540h12v4.5h-12zM388 540h4v4.5h-4zM456 540h4v4.5h-4zM540 540h4v4.5h-4zM124 544h4v4.5h-4zM628 544h44v4.5h-44zM124 548h4v4.5h-4zM176 548h4v4.5h-4z"/>
<path fill="#09fff6" d="M460 76h8v4.5h-8zM460 100h8v4.5h-8zM556 128h4v4.5h-4zM552 132h8v4.5h-8zM548 136h4v4.5h-4zM556 136h4v4.5h-4zM548 140h4v4.5h-4zM548 144h8v4.5h-8zM392 276h8v4.5h-8zM392 280h8v4.5h-8zM388 284h4v4.5h-4zM400 284h4v4.5h-4zM400 288h4v4.5h-4zM384 292h4v4.5h-4zM400 292h4v4.5h-4zM400 296h4v4.5h-4zM380 300h4v4.5h-4zM400 300h4v4.5h-4zM564 300h8v4.5h-8zM400 304h4v4.5h-4zM552 304h16v4.5h-16zM376 308h4v4.5h-4zM400 308h4v4.5h-4zM544 308h16v4.5h-16zM400 320h4v4.5h-4zM400 324h4v4.5h-4zM368 328h4v4.5h-4zM400 328h4v4.5h-4zM400 332h4v4.5h-4zM400 336h4v4.5h-4zM364 340h4v4.5h-4zM704 344h8v4.5h-8zM396 348h4v4.5h-4zM704 348h8v4.5h-8zM700 352h4v4.5h-4zM712 352h4v4.5h-4zM392 356h4v4.5h-4zM716 356h4v4.5h-4zM360 360h4v4.5h-4zM696 360h4v4.5h-4zM360 364h4v4.5h-4zM692 364h4v4.5h-4zM360 368h4v4.5h-4zM388 368h4v4.5h-4zM656 376h8v4.5h-8zM616 380h8v4.5h-8zM384 384h4v4.5h-4zM584 384h4v4.5h-4zM556 388h4v4.5h-4zM536 396h4v4.5h-4zM536 400h4v4.5h-4zM536 404h4v4.5h-4zM360 408h4v4.5h-4zM372 408h4v4.5h-4zM536 408h4v4.5h-4zM364 412h4v4.5h-4zM536 412h4v4.5h-4zM428 416h8v4.5h-8zM452 416h4v4.5h-4zM416 420h4v4.5h-4zM456 420h4v4.5h-4zM408 424h4v4.5h-4zM404 428h4v4.5h-4zM448 428h4v4.5h-4zM536 428h4v4.5h-4zM400 432h4v4.5h-4zM440 432h4v4.5h-4zM536 432h4v4.5h-4zM192 436h8v4.5h-8zM400 436h4v4.5h-4zM428 436h4v4.5h-4zM536 436h4v4.5h-4zM184 440h4v4.5h-4zM200 440h4v4.5h-4zM396 440h4v4.5h-4zM420 440h4v4.5h-4zM536 440h4v4.5h-4zM180 444h4v4.5h-4zM204 444h4v4.5h-4zM388 444h8v4.5h-8zM412 444h4v4.5h-4zM540 444h4v4.5h-4zM204 448h4v4.5h-4zM380 448h8v4.5h-8zM408 448h4v4.5h-4zM540 448h4v4.5h-4zM204 452h4v4.5h-4zM376 452h4v4.5h-4zM404 452h4v4.5h-4zM544 452h4v4.5h-4zM172 456h4v4.5h-4zM204 456h4v4.5h-4zM368 456h4v4.5h-4zM400 456h4v4.5h-4zM548 456h4v4.5h-4zM396 460h4v4.5h-4zM552 460h4v4.5h-4zM356 464h4v4.5h-4zM392 464h4v4.5h-4zM560 464h4v4.5h-4zM164 468h4v4.5h-4zM200 468h4v4.5h-4zM352 468h4v4.5h-4zM388 468h4v4.5h-4zM572 468h4v4.5h-4zM200 472h4v4.5h-4zM236 472h4v4.5h-4zM384 472h4v4.5h-4zM584 472h4v4.5h-4zM232 476h8v4.5h-8zM380 476h4v4.5h-4zM600 476h4v4.5h-4zM156 480h4v4.5h-4zM232 480h4v4.5h-4zM240 480h4v4.5h-4zM376 480h4v4.5h-4zM620 480h4v4.5h-4zM196 484h4v4.5h-4zM240 484h4v4.5h-4zM372 484h4v4.5h-4zM648 484h12v4.5h-12zM680 484h24v4.5h-24zM196 488h4v4.5h-4zM240 488h4v4.5h-4zM332 488h4v4.5h-4zM148 492h4v4.5h-4zM240 492h4v4.5h-4zM240 496h4v4.5h-4zM716 496h4v4.5h-4zM240 500h4v4.5h-4zM232 504h4v4.5h-4zM324 504h4v4.5h-4zM192 508h4v4.5h-4zM236 508h4v4.5h-4zM724 508h4v4.5h-4zM192 512h4v4.5h-4zM724 512h4v4.5h-4zM192 516h4v4.5h-4zM344 516h4v4.5h-4zM724 516h4v4.5h-4zM192 520h4v4.5h-4zM340 520h4v4.5h-4zM724 520h4v4.5h-4zM192 524h4v4.5h-4zM336 524h4v4.5h-4zM608 524h24v4.5h-24zM648 524h24v4.5h-24zM716 524h4v4.5h-4zM124 528h4v4.5h-4zM192 528h4v4.5h-4zM324 528h4v4.5h-4zM332 528h4v4.5h-4zM420 528h8v4.5h-8zM588 528h8v4.5h-8zM192 532h4v4.5h-4zM408 532h4v4.5h-4zM436 532h4v4.5h-4zM572 532h8v4.5h-8zM120 536h4v4.5h-4zM564 536h4v4.5h-4zM400 540h4v4.5h-4zM556 540h8v4.5h-8zM132 544h4v4.5h-4zM132 548h4v4.5h-4zM168 548h4v4.5h-4z"/>
<path fill="#0080ff" d="M452 80h4v4.5h-4zM472 80h4v4.5h-4zM452 84h4v4.5h-4zM472 84h4v4.5h-4zM452 88h4v4.5h-4zM472 88h4v4.5h-4zM452 92h4v4.5h-4zM472 92h4v4.5h-4zM452 96h4v4.5h-4zM472 96h4v4.5h-4zM560 108h8v4.5h-8zM568 112h4v4.5h-4zM568 116h4v4.5h-4zM568 120h4v4.5h-4zM544 124h4v4.5h-4zM568 124h4v4.5h-4zM568 128h4v4.5h-4zM540 132h4v4.5h-4zM568 132h4v4.5h-4zM564 144h4v4.5h-4zM536 148h4v4.5h-4zM536 152h4v4.5h-4zM560 152h4v4.5h-4zM536 156h4v4.5h-4zM536 160h4v4.5h-4zM556 160h4v4.5h-4zM552 164h4v4.5h-4zM580 164h16v4.5h-16zM544 168h4v4.5h-4zM576 168h24v4.5h-24zM572 172h8v4.5h-8zM596 172h8v4.5h-8zM568 176h8v4.5h-8zM596 176h8v4.5h-8zM568 180h4v4.5h-4zM600 180h8v4.5h-8zM564 184h4v4.5h-4zM600 184h12v4.5h-12zM560 188h8v4.5h-8zM604 188h12v4.5h-12zM560 192h4v4.5h-4zM608 192h44v4.5h-44zM560 196h4v4.5h-4zM608 196h64v4.5h-64zM556 200h4v4.5h-4zM616 200h64v4.5h-64zM556 204h4v4.5h-4zM664 204h24v4.5h-24zM556 208h4v4.5h-4zM676 208h16v4.5h-16zM552 212h4v4.5h-4zM680 212h16v4.5h-16zM552 216h4v4.5h-4zM684 216h16v4.5h-16zM552 220h4v4.5h-4zM688 220h12v4.5h-12zM552 224h4v4.5h-4zM688 224h16v4.5h-16zM552 228h4v4.5h-4zM692 228h12v4.5h-12zM552 232h4v4.5h-4zM692 232h12v4.5h-12zM552 236h4v4.5h-4zM692 236h12v4.5h-12zM396 240h12v4.5h-12zM552 240h4v4.5h-4zM692 240h12v4.5h-12zM392 244h4v4.5h-4zM408 244h4v4.5h-4zM552 244h8v4.5h-8zM692 244h12v4.5h-12zM388 248h4v4.5h-4zM552 248h8v4.5h-8zM688 248h16v4.5h-16zM412 252h4v4.5h-4zM556 252h8v4.5h-8zM688 252h12v4.5h-12zM384 256h4v4.5h-4zM412 256h4v4.5h-4zM556 256h16v4.5h-16zM584 256h12v4.5h-12zM684 256h16v4.5h-16zM412 260h4v4.5h-4zM560 260h40v4.5h-40zM680 260h16v4.5h-16zM560 264h36v4.5h-36zM676 264h20v4.5h-20zM380 268h4v4.5h-4zM564 268h20v4.5h-20zM672 268h20v4.5h-20zM560 272h12v4.5h-12zM668 272h20v4.5h-20zM376 276h4v4.5h-4zM556 276h8v4.5h-8zM664 276h16v4.5h-16zM376 280h4v4.5h-4zM548 280h8v4.5h-8zM656 280h16v4.5h-16zM544 284h4v4.5h-4zM652 284h12v4.5h-12zM372 288h4v4.5h-4zM412 288h4v4.5h-4zM536 288h8v4.5h-8zM648 288h12v4.5h-12zM412 292h4v4.5h-4zM528 292h8v4.5h-8zM640 292h12v4.5h-12zM412 296h4v4.5h-4zM520 296h8v4.5h-8zM632 296h12v4.5h-12zM700 296h8v4.5h-8zM368 300h4v4.5h-4zM412 300h4v4.5h-4zM512 300h8v4.5h-8zM624 300h12v4.5h-12zM696 300h20v4.5h-20zM504 304h4v4.5h-4zM616 304h8v4.5h-8zM692 304h8v4.5h-8zM712 304h8v4.5h-8zM364 308h4v4.5h-4zM492 308h8v4.5h-8zM608 308h8v4.5h-8zM692 308h4v4.5h-4zM716 308h8v4.5h-8zM364 312h4v4.5h-4zM480 312h4v4.5h-4zM600 312h4v4.5h-4zM688 312h4v4.5h-4zM720 312h4v4.5h-4zM464 316h8v4.5h-8zM588 316h8v4.5h-8zM688 316h4v4.5h-4zM724 316h4v4.5h-4zM360 320h4v4.5h-4zM412 320h4v4.5h-4zM448 320h8v4.5h-8zM576 320h4v4.5h-4zM688 320h4v4.5h-4zM724 320h4v4.5h-4zM436 324h8v4.5h-8zM560 324h8v4.5h-8zM684 324h4v4.5h-4zM416 328h20v4.5h-20zM544 328h8v4.5h-8zM684 328h4v4.5h-4zM356 332h4v4.5h-4zM420 332h8v4.5h-8zM524 332h12v4.5h-12zM684 332h4v4.5h-4zM420 336h12v4.5h-12zM496 336h12v4.5h-12zM684 336h4v4.5h-4zM416 340h60v4.5h-60zM352 344h4v4.5h-4zM412 344h4v4.5h-4zM352 348h4v4.5h-4zM408 348h4v4.5h-4zM352 352h4v4.5h-4zM404 352h4v4.5h-4zM680 352h4v4.5h-4zM680 356h4v4.5h-4zM676 360h4v4.5h-4zM400 364h4v4.5h-4zM668 364h8v4.5h-8zM652 368h8v4.5h-8zM624 372h8v4.5h-8zM348 376h4v4.5h-4zM396 376h4v4.5h-4zM596 376h4v4.5h-4zM348 380h4v4.5h-4zM396 380h4v4.5h-4zM568 380h8v4.5h-8zM276 384h4v4.5h-4zM348 384h4v4.5h-4zM548 384h4v4.5h-4zM272 388h4v4.5h-4zM524 388h4v4.5h-4zM268 392h4v4.5h-4zM392 392h4v4.5h-4zM520 392h4v4.5h-4zM292 396h4v4.5h-4zM280 404h4v4.5h-4zM388 404h4v4.5h-4zM516 404h4v4.5h-4zM388 408h4v4.5h-4zM428 408h8v4.5h-8zM464 408h8v4.5h-8zM516 408h4v4.5h-4zM196 412h20v4.5h-20zM264 412h8v4.5h-8zM412 412h4v4.5h-4zM476 412h4v4.5h-4zM512 412h4v4.5h-4zM192 416h4v4.5h-4zM212 416h8v4.5h-8zM388 416h4v4.5h-4zM400 416h4v4.5h-4zM480 416h8v4.5h-8zM512 416h4v4.5h-4zM188 420h4v4.5h-4zM216 420h8v4.5h-8zM388 420h4v4.5h-4zM484 420h4v4.5h-4zM508 420h4v4.5h-4zM184 424h4v4.5h-4zM220 424h8v4.5h-8zM348 424h4v4.5h-4zM480 424h4v4.5h-4zM504 424h8v4.5h-8zM180 428h4v4.5h-4zM224 428h8v4.5h-8zM348 428h4v4.5h-4zM472 428h8v4.5h-8zM504 428h8v4.5h-8zM224 432h12v4.5h-12zM348 432h8v4.5h-8zM464 432h8v4.5h-8zM504 432h4v4.5h-4zM232 436h8v4.5h-8zM352 436h4v4.5h-4zM456 436h4v4.5h-4zM500 436h8v4.5h-8zM172 440h4v4.5h-4zM240 440h4v4.5h-4zM352 440h4v4.5h-4zM448 440h4v4.5h-4zM500 440h8v4.5h-8zM244 444h4v4.5h-4zM348 444h8v4.5h-8zM440 444h4v4.5h-4zM500 444h8v4.5h-8zM244 448h4v4.5h-4zM348 448h4v4.5h-4zM436 448h4v4.5h-4zM500 448h8v4.5h-8zM248 452h4v4.5h-4zM344 452h4v4.5h-4zM428 452h8v4.5h-8zM504 452h4v4.5h-4zM248 456h4v4.5h-4zM340 456h4v4.5h-4zM424 456h4v4.5h-4zM504 456h8v4.5h-8zM160 460h4v4.5h-4zM252 460h4v4.5h-4zM336 460h4v4.5h-4zM420 460h4v4.5h-4zM508 460h8v4.5h-8zM252 464h4v4.5h-4zM268 464h16v4.5h-16zM332 464h4v4.5h-4zM416 464h4v4.5h-4zM516 464h8v4.5h-8zM156 468h4v4.5h-4zM252 468h36v4.5h-36zM328 468h4v4.5h-4zM412 468h4v4.5h-4zM524 468h12v4.5h-12zM256 472h36v4.5h-36zM324 472h4v4.5h-4zM408 472h4v4.5h-4zM544 472h8v4.5h-8zM256 476h36v4.5h-36zM320 476h4v4.5h-4zM404 476h4v4.5h-4zM568 476h4v4.5h-4zM256 480h40v4.5h-40zM316 480h4v4.5h-4zM400 480h4v4.5h-4zM592 480h4v4.5h-4zM256 484h40v4.5h-40zM312 484h8v4.5h-8zM396 484h4v4.5h-4zM612 484h4v4.5h-4zM144 488h4v4.5h-4zM256 488h44v4.5h-44zM308 488h8v4.5h-8zM392 488h4v4.5h-4zM636 488h4v4.5h-4zM216 492h4v4.5h-4zM256 492h56v4.5h-56zM388 492h4v4.5h-4zM664 492h8v4.5h-8zM212 496h8v4.5h-8zM256 496h56v4.5h-56zM384 496h4v4.5h-4zM700 496h4v4.5h-4zM136 500h4v4.5h-4zM212 500h8v4.5h-8zM256 500h56v4.5h-56zM380 500h4v4.5h-4zM208 504h8v4.5h-8zM220 504h4v4.5h-4zM256 504h40v4.5h-40zM300 504h8v4.5h-8zM376 504h4v4.5h-4zM208 508h4v4.5h-4zM220 508h4v4.5h-4zM256 508h32v4.5h-32zM304 508h4v4.5h-4zM372 508h8v4.5h-8zM552 508h48v4.5h-48zM208 512h4v4.5h-4zM220 512h4v4.5h-4zM252 512h8v4.5h-8zM268 512h16v4.5h-16zM304 512h4v4.5h-4zM368 512h4v4.5h-4zM400 512h40v4.5h-40zM544 512h16v4.5h-16zM636 512h12v4.5h-12zM708 512h4v4.5h-4zM208 516h4v4.5h-4zM220 516h4v4.5h-4zM252 516h8v4.5h-8zM304 516h4v4.5h-4zM364 516h4v4.5h-4zM392 516h8v4.5h-8zM440 516h8v4.5h-8zM540 516h12v4.5h-12zM680 516h28v4.5h-28zM124 520h4v4.5h-4zM208 520h4v4.5h-4zM252 520h12v4.5h-12zM304 520h4v4.5h-4zM360 520h4v4.5h-4zM384 520h8v4.5h-8zM452 520h4v4.5h-4zM536 520h12v4.5h-12zM256 524h16v4.5h-16zM304 524h4v4.5h-4zM356 524h4v4.5h-4zM380 524h8v4.5h-8zM456 524h4v4.5h-4zM532 524h12v4.5h-12zM268 528h8v4.5h-8zM352 528h4v4.5h-4zM380 528h4v4.5h-4zM460 528h4v4.5h-4zM528 528h8v4.5h-8zM272 532h8v4.5h-8zM308 532h4v4.5h-4zM348 532h4v4.5h-4zM376 532h8v4.5h-8zM464 532h4v4.5h-4zM524 532h8v4.5h-8zM276 536h4v4.5h-4zM308 536h4v4.5h-4zM344 536h4v4.5h-4zM376 536h4v4.5h-4zM468 536h4v4.5h-4zM520 536h8v4.5h-8zM204 540h4v4.5h-4zM276 540h4v4.5h-4zM308 540h4v4.5h-4zM340 540h4v4.5h-4zM376 540h4v4.5h-4zM468 540h4v4.5h-4zM516 540h8v4.5h-8zM408 544h8v4.5h-8zM432 544h8v4.5h-8zM572 544h8v4.5h-8zM724 544h4v4.5h-4zM184 548h4v4.5h-4zM408 548h8v4.5h-8zM432 548h8v4.5h-8zM576 548h8v4.5h-8zM716 548h12v4.5h-12z"/>
<path fill="#00d4ff" d="M456 80h4v4.5h-4zM468 80h4v4.5h-4zM456 96h4v4.5h-4zM468 96h4v4.5h-4zM556 120h8v4.5h-8zM552 124h4v4.5h-4zM548 128h4v4.5h-4zM544 136h4v4.5h-4zM560 136h4v4.5h-4zM544 152h4v4.5h-4zM396 260h8v4.5h-8zM392 264h4v4.5h-4zM404 268h4v4.5h-4zM388 272h4v4.5h-4zM404 272h4v4.5h-4zM404 276h4v4.5h-4zM384 280h4v4.5h-4zM404 280h4v4.5h-4zM380 288h4v4.5h-4zM404 288h4v4.5h-4zM568 288h40v4.5h-40zM404 292h4v4.5h-4zM556 292h8v4.5h-8zM600 292h8v4.5h-8zM404 296h4v4.5h-4zM548 296h4v4.5h-4zM596 296h8v4.5h-8zM376 300h4v4.5h-4zM404 300h4v4.5h-4zM540 300h4v4.5h-4zM592 300h8v4.5h-8zM404 304h4v4.5h-4zM532 304h4v4.5h-4zM588 304h4v4.5h-4zM372 308h4v4.5h-4zM404 308h4v4.5h-4zM520 308h8v4.5h-8zM576 308h8v4.5h-8zM512 312h8v4.5h-8zM568 312h8v4.5h-8zM500 316h8v4.5h-8zM556 316h8v4.5h-8zM404 320h4v4.5h-4zM488 320h12v4.5h-12zM536 320h12v4.5h-12zM404 324h4v4.5h-4zM476 324h20v4.5h-20zM508 324h20v4.5h-20zM704 324h8v4.5h-8zM364 328h4v4.5h-4zM404 328h4v4.5h-4zM476 328h24v4.5h-24zM700 328h16v4.5h-16zM404 332h4v4.5h-4zM696 332h4v4.5h-4zM712 332h4v4.5h-4zM404 336h4v4.5h-4zM696 336h4v4.5h-4zM716 336h4v4.5h-4zM360 340h4v4.5h-4zM716 340h4v4.5h-4zM692 348h4v4.5h-4zM720 348h4v4.5h-4zM692 352h4v4.5h-4zM720 352h4v4.5h-4zM396 356h4v4.5h-4zM688 360h4v4.5h-4zM724 360h4v4.5h-4zM684 364h4v4.5h-4zM356 368h4v4.5h-4zM392 368h4v4.5h-4zM680 368h4v4.5h-4zM356 372h4v4.5h-4zM668 372h4v4.5h-4zM632 376h8v4.5h-8zM388 380h4v4.5h-4zM596 380h8v4.5h-8zM568 384h4v4.5h-4zM280 388h4v4.5h-4zM288 392h4v4.5h-4zM384 392h4v4.5h-4zM532 392h4v4.5h-4zM280 396h8v4.5h-8zM268 404h4v4.5h-4zM380 404h4v4.5h-4zM528 404h4v4.5h-4zM528 408h4v4.5h-4zM356 412h4v4.5h-4zM436 412h20v4.5h-20zM528 412h4v4.5h-4zM372 416h4v4.5h-4zM420 416h4v4.5h-4zM464 416h4v4.5h-4zM528 416h4v4.5h-4zM360 420h12v4.5h-12zM408 420h4v4.5h-4zM192 428h16v4.5h-16zM396 428h4v4.5h-4zM456 428h4v4.5h-4zM524 428h4v4.5h-4zM208 432h4v4.5h-4zM392 432h4v4.5h-4zM448 432h4v4.5h-4zM524 432h4v4.5h-4zM208 436h4v4.5h-4zM388 436h4v4.5h-4zM524 436h4v4.5h-4zM384 440h4v4.5h-4zM428 440h4v4.5h-4zM528 440h4v4.5h-4zM176 444h4v4.5h-4zM376 444h4v4.5h-4zM424 444h4v4.5h-4zM528 444h4v4.5h-4zM368 448h4v4.5h-4zM416 448h4v4.5h-4zM528 448h4v4.5h-4zM364 452h4v4.5h-4zM412 452h4v4.5h-4zM532 452h4v4.5h-4zM168 456h4v4.5h-4zM408 456h4v4.5h-4zM536 456h4v4.5h-4zM208 460h4v4.5h-4zM232 460h8v4.5h-8zM352 460h4v4.5h-4zM404 460h4v4.5h-4zM540 460h4v4.5h-4zM208 464h4v4.5h-4zM240 464h4v4.5h-4zM348 464h4v4.5h-4zM400 464h4v4.5h-4zM548 464h4v4.5h-4zM160 468h4v4.5h-4zM228 468h4v4.5h-4zM344 468h4v4.5h-4zM396 468h4v4.5h-4zM560 468h4v4.5h-4zM228 472h4v4.5h-4zM340 472h4v4.5h-4zM392 472h4v4.5h-4zM572 472h4v4.5h-4zM204 476h4v4.5h-4zM244 476h4v4.5h-4zM336 476h4v4.5h-4zM388 476h4v4.5h-4zM592 476h4v4.5h-4zM204 480h4v4.5h-4zM244 480h4v4.5h-4zM332 480h4v4.5h-4zM384 480h4v4.5h-4zM608 480h4v4.5h-4zM244 484h4v4.5h-4zM328 484h4v4.5h-4zM380 484h4v4.5h-4zM632 484h4v4.5h-4zM148 488h4v4.5h-4zM376 488h4v4.5h-4zM668 488h36v4.5h-36zM200 492h4v4.5h-4zM324 492h4v4.5h-4zM372 492h4v4.5h-4zM708 492h4v4.5h-4zM200 496h4v4.5h-4zM368 496h4v4.5h-4zM712 496h4v4.5h-4zM140 500h4v4.5h-4zM244 500h4v4.5h-4zM320 500h4v4.5h-4zM364 500h4v4.5h-4zM244 504h4v4.5h-4zM360 504h4v4.5h-4zM228 508h4v4.5h-4zM244 508h4v4.5h-4zM356 508h4v4.5h-4zM132 512h4v4.5h-4zM352 512h4v4.5h-4zM196 516h4v4.5h-4zM316 516h4v4.5h-4zM196 520h4v4.5h-4zM232 520h4v4.5h-4zM240 520h4v4.5h-4zM316 520h4v4.5h-4zM592 520h16v4.5h-16zM652 520h16v4.5h-16zM712 520h4v4.5h-4zM196 524h4v4.5h-4zM232 524h4v4.5h-4zM240 524h4v4.5h-4zM316 524h4v4.5h-4zM412 524h24v4.5h-24zM576 524h8v4.5h-8zM196 528h4v4.5h-4zM232 528h4v4.5h-4zM240 528h4v4.5h-4zM316 528h4v4.5h-4zM400 528h8v4.5h-8zM440 528h4v4.5h-4zM564 528h8v4.5h-8zM196 532h4v4.5h-4zM232 532h4v4.5h-4zM248 532h4v4.5h-4zM336 532h4v4.5h-4zM396 532h4v4.5h-4zM448 532h4v4.5h-4zM556 532h4v4.5h-4zM196 536h4v4.5h-4zM232 536h4v4.5h-4zM256 536h4v4.5h-4zM320 536h4v4.5h-4zM332 536h4v4.5h-4zM392 536h4v4.5h-4zM452 536h4v4.5h-4zM548 536h4v4.5h-4zM232 540h4v4.5h-4zM260 540h4v4.5h-4zM392 540h4v4.5h-4zM544 540h4v4.5h-4zM176 544h4v4.5h-4z"/>
<path fill="#2bffd4" d="M460 80h8v4.5h-8zM460 96h8v4.5h-8zM392 288h4v4.5h-4zM388 292h8v4.5h-8zM388 296h4v4.5h-4zM396 296h4v4.5h-4zM384 300h4v4.5h-4zM396 300h4v4.5h-4zM396 304h4v4.5h-4zM380 308h4v4.5h-4zM396 308h4v4.5h-4zM396 312h4v4.5h-4zM376 316h4v4.5h-4zM396 316h4v4.5h-4zM372 324h4v4.5h-4zM368 332h4v4.5h-4zM396 340h4v4.5h-4zM364 348h4v4.5h-4zM364 352h4v4.5h-4zM388 360h4v4.5h-4zM700 360h16v4.5h-16zM696 364h4v4.5h-4zM716 364h4v4.5h-4zM684 372h4v4.5h-4zM384 376h4v4.5h-4zM672 376h4v4.5h-4zM360 380h4v4.5h-4zM632 380h8v4.5h-8zM360 384h4v4.5h-4zM592 384h8v4.5h-8zM360 388h4v4.5h-4zM380 388h4v4.5h-4zM564 388h4v4.5h-4zM360 392h4v4.5h-4zM548 392h4v4.5h-4zM360 396h4v4.5h-4zM376 396h4v4.5h-4zM360 400h4v4.5h-4zM540 400h4v4.5h-4zM364 404h4v4.5h-4zM540 404h4v4.5h-4zM540 408h4v4.5h-4zM540 412h4v4.5h-4zM540 416h4v4.5h-4zM452 420h4v4.5h-4zM540 420h4v4.5h-4zM448 424h4v4.5h-4zM540 424h4v4.5h-4zM540 428h4v4.5h-4zM408 432h4v4.5h-4zM432 432h4v4.5h-4zM540 432h4v4.5h-4zM408 436h16v4.5h-16zM544 440h4v4.5h-4zM188 444h12v4.5h-12zM544 444h4v4.5h-4zM196 448h4v4.5h-4zM548 448h4v4.5h-4zM384 452h12v4.5h-12zM552 452h4v4.5h-4zM176 456h4v4.5h-4zM376 456h20v4.5h-20zM556 456h4v4.5h-4zM172 460h4v4.5h-4zM368 460h8v4.5h-8zM388 460h4v4.5h-4zM560 460h4v4.5h-4zM364 464h4v4.5h-4zM384 464h4v4.5h-4zM568 464h4v4.5h-4zM196 468h4v4.5h-4zM356 468h4v4.5h-4zM580 468h4v4.5h-4zM164 472h4v4.5h-4zM196 472h4v4.5h-4zM352 472h4v4.5h-4zM380 472h4v4.5h-4zM592 472h4v4.5h-4zM348 476h4v4.5h-4zM376 476h4v4.5h-4zM608 476h4v4.5h-4zM372 480h4v4.5h-4zM632 480h4v4.5h-4zM696 480h8v4.5h-8zM156 484h4v4.5h-4zM192 484h4v4.5h-4zM368 484h4v4.5h-4zM708 484h4v4.5h-4zM192 488h4v4.5h-4zM236 488h4v4.5h-4zM336 488h4v4.5h-4zM364 488h4v4.5h-4zM192 492h4v4.5h-4zM236 492h4v4.5h-4zM332 492h4v4.5h-4zM716 492h4v4.5h-4zM236 496h4v4.5h-4zM720 496h4v4.5h-4zM144 500h4v4.5h-4zM328 500h4v4.5h-4zM344 512h4v4.5h-4zM324 516h4v4.5h-4zM340 516h4v4.5h-4zM324 520h4v4.5h-4zM336 520h4v4.5h-4zM328 524h8v4.5h-8zM604 528h16v4.5h-16zM676 528h12v4.5h-12zM716 528h8v4.5h-8zM420 532h8v4.5h-8zM584 532h8v4.5h-8zM408 536h4v4.5h-4zM436 536h4v4.5h-4zM572 536h8v4.5h-8zM188 540h4v4.5h-4zM404 540h4v4.5h-4zM440 540h4v4.5h-4zM568 540h4v4.5h-4zM136 544h4v4.5h-4zM136 548h4v4.5h-4zM164 548h4v4.5h-4z"/>
<path fill="#00e5ff" d="M456 84h4v4.5h-4zM468 84h4v4.5h-4zM456 88h4v4.5h-4zM468 88h4v4.5h-4zM456 92h4v4.5h-4zM468 92h4v4.5h-4zM460 104h8v4.5h-8zM560 124h4v4.5h-4zM560 128h4v4.5h-4zM548 132h4v4.5h-4zM560 132h4v4.5h-4zM544 140h4v4.5h-4zM544 144h4v4.5h-4zM556 144h4v4.5h-4zM544 148h4v4.5h-4zM552 148h4v4.5h-4zM548 152h4v4.5h-4zM396 264h8v4.5h-8zM392 268h4v4.5h-4zM400 268h4v4.5h-4zM388 276h4v4.5h-4zM384 284h4v4.5h-4zM404 284h4v4.5h-4zM380 292h4v4.5h-4zM564 292h36v4.5h-36zM552 296h8v4.5h-8zM588 296h8v4.5h-8zM544 300h8v4.5h-8zM584 300h8v4.5h-8zM376 304h4v4.5h-4zM536 304h8v4.5h-8zM580 304h8v4.5h-8zM528 308h8v4.5h-8zM572 308h4v4.5h-4zM372 312h4v4.5h-4zM520 312h8v4.5h-8zM560 312h8v4.5h-8zM508 316h16v4.5h-16zM544 316h12v4.5h-12zM368 320h4v4.5h-4zM500 320h36v4.5h-36zM496 324h12v4.5h-12zM364 332h4v4.5h-4zM700 332h12v4.5h-12zM700 336h4v4.5h-4zM712 336h4v4.5h-4zM696 340h4v4.5h-4zM360 344h4v4.5h-4zM400 344h4v4.5h-4zM696 344h4v4.5h-4zM716 344h4v4.5h-4zM360 348h4v4.5h-4zM696 348h4v4.5h-4zM716 348h4v4.5h-4zM396 352h4v4.5h-4zM692 356h4v4.5h-4zM720 356h4v4.5h-4zM392 364h4v4.5h-4zM672 372h4v4.5h-4zM356 376h4v4.5h-4zM388 376h4v4.5h-4zM640 376h8v4.5h-8zM356 380h4v4.5h-4zM604 380h4v4.5h-4zM572 384h8v4.5h-8zM284 388h4v4.5h-4zM548 388h4v4.5h-4zM536 392h4v4.5h-4zM532 396h4v4.5h-4zM380 400h4v4.5h-4zM532 400h4v4.5h-4zM532 404h4v4.5h-4zM356 408h4v4.5h-4zM376 408h4v4.5h-4zM372 412h4v4.5h-4zM360 416h12v4.5h-12zM460 416h4v4.5h-4zM412 420h4v4.5h-4zM464 420h4v4.5h-4zM528 420h4v4.5h-4zM404 424h4v4.5h-4zM460 424h4v4.5h-4zM528 424h4v4.5h-4zM400 428h4v4.5h-4zM452 428h4v4.5h-4zM528 428h4v4.5h-4zM188 432h4v4.5h-4zM200 432h8v4.5h-8zM396 432h4v4.5h-4zM444 432h4v4.5h-4zM528 432h4v4.5h-4zM184 436h4v4.5h-4zM392 436h4v4.5h-4zM436 436h4v4.5h-4zM528 436h4v4.5h-4zM180 440h4v4.5h-4zM208 440h4v4.5h-4zM388 440h4v4.5h-4zM208 444h4v4.5h-4zM380 444h4v4.5h-4zM420 444h4v4.5h-4zM532 444h4v4.5h-4zM208 448h4v4.5h-4zM372 448h4v4.5h-4zM532 448h4v4.5h-4zM208 452h4v4.5h-4zM368 452h4v4.5h-4zM536 452h4v4.5h-4zM208 456h4v4.5h-4zM360 456h4v4.5h-4zM404 456h4v4.5h-4zM540 456h4v4.5h-4zM356 460h4v4.5h-4zM400 460h4v4.5h-4zM544 460h4v4.5h-4zM164 464h4v4.5h-4zM232 464h8v4.5h-8zM352 464h4v4.5h-4zM396 464h4v4.5h-4zM552 464h4v4.5h-4zM204 468h4v4.5h-4zM232 468h4v4.5h-4zM240 468h4v4.5h-4zM392 468h4v4.5h-4zM564 468h4v4.5h-4zM204 472h4v4.5h-4zM240 472h4v4.5h-4zM576 472h4v4.5h-4zM156 476h4v4.5h-4zM228 476h4v4.5h-4zM596 476h4v4.5h-4zM228 480h4v4.5h-4zM612 480h4v4.5h-4zM200 484h4v4.5h-4zM228 484h4v4.5h-4zM636 484h8v4.5h-8zM200 488h4v4.5h-4zM228 488h4v4.5h-4zM244 488h4v4.5h-4zM328 488h4v4.5h-4zM704 488h4v4.5h-4zM228 492h4v4.5h-4zM244 492h4v4.5h-4zM228 496h4v4.5h-4zM244 496h4v4.5h-4zM324 496h4v4.5h-4zM196 500h4v4.5h-4zM228 500h4v4.5h-4zM716 500h4v4.5h-4zM196 504h4v4.5h-4zM228 504h4v4.5h-4zM320 504h4v4.5h-4zM196 508h4v4.5h-4zM320 508h4v4.5h-4zM720 508h4v4.5h-4zM196 512h4v4.5h-4zM240 512h4v4.5h-4zM720 512h4v4.5h-4zM232 516h4v4.5h-4zM240 516h4v4.5h-4zM348 516h4v4.5h-4zM720 516h4v4.5h-4zM236 520h4v4.5h-4zM344 520h4v4.5h-4zM608 520h44v4.5h-44zM716 520h4v4.5h-4zM236 524h4v4.5h-4zM340 524h4v4.5h-4zM584 524h12v4.5h-12zM688 524h24v4.5h-24zM236 528h4v4.5h-4zM408 528h4v4.5h-4zM436 528h4v4.5h-4zM572 528h8v4.5h-8zM236 532h12v4.5h-12zM320 532h4v4.5h-4zM332 532h4v4.5h-4zM400 532h4v4.5h-4zM444 532h4v4.5h-4zM560 532h8v4.5h-8zM236 536h4v4.5h-4zM248 536h8v4.5h-8zM324 536h8v4.5h-8zM396 536h4v4.5h-4zM448 536h4v4.5h-4zM552 536h8v4.5h-8zM236 540h4v4.5h-4zM252 540h8v4.5h-8zM452 540h4v4.5h-4zM548 540h4v4.5h-4zM128 544h4v4.5h-4zM128 548h4v4.5h-4zM172 548h4v4.5h-4z"/>
<path fill="#3cffc3" d="M460 84h8v4.5h-8zM460 88h8v4.5h-8zM460 92h8v4.5h-8zM392 296h4v4.5h-4zM388 300h8v4.5h-8zM384 304h4v4.5h-4zM396 320h4v4.5h-4zM396 324h4v4.5h-4zM396 328h4v4.5h-4zM396 332h4v4.5h-4zM368 336h4v4.5h-4zM396 336h4v4.5h-4zM392 348h4v4.5h-4zM364 356h4v4.5h-4zM364 360h4v4.5h-4zM364 364h4v4.5h-4zM700 364h4v4.5h-4zM712 364h4v4.5h-4zM384 368h4v4.5h-4zM692 368h4v4.5h-4zM720 368h4v4.5h-4zM384 372h4v4.5h-4zM676 376h4v4.5h-4zM640 380h8v4.5h-8zM380 384h4v4.5h-4zM600 384h4v4.5h-4zM568 388h4v4.5h-4zM376 392h4v4.5h-4zM552 392h4v4.5h-4zM544 396h4v4.5h-4zM364 400h4v4.5h-4zM372 400h4v4.5h-4zM368 404h4v4.5h-4zM424 420h4v4.5h-4zM448 420h4v4.5h-4zM416 424h4v4.5h-4zM544 424h4v4.5h-4zM412 428h4v4.5h-4zM440 428h4v4.5h-4zM544 428h4v4.5h-4zM412 432h4v4.5h-4zM428 432h4v4.5h-4zM544 432h4v4.5h-4zM544 436h4v4.5h-4zM548 440h4v4.5h-4zM548 444h4v4.5h-4zM184 448h12v4.5h-12zM552 448h4v4.5h-4zM180 452h4v4.5h-4zM196 452h4v4.5h-4zM556 452h4v4.5h-4zM196 456h4v4.5h-4zM560 456h4v4.5h-4zM196 460h4v4.5h-4zM376 460h12v4.5h-12zM564 460h4v4.5h-4zM172 464h4v4.5h-4zM196 464h4v4.5h-4zM368 464h16v4.5h-16zM572 464h4v4.5h-4zM168 468h4v4.5h-4zM360 468h8v4.5h-8zM376 468h8v4.5h-8zM584 468h4v4.5h-4zM356 472h4v4.5h-4zM376 472h4v4.5h-4zM596 472h4v4.5h-4zM192 476h4v4.5h-4zM372 476h4v4.5h-4zM612 476h4v4.5h-4zM160 480h4v4.5h-4zM192 480h4v4.5h-4zM344 480h4v4.5h-4zM368 480h4v4.5h-4zM636 480h8v4.5h-8zM684 480h12v4.5h-12zM704 480h4v4.5h-4zM340 484h4v4.5h-4zM364 484h4v4.5h-4zM712 484h4v4.5h-4zM716 488h4v4.5h-4zM360 492h4v4.5h-4zM148 496h4v4.5h-4zM332 496h4v4.5h-4zM356 496h4v4.5h-4zM188 500h4v4.5h-4zM352 500h4v4.5h-4zM724 500h4v4.5h-4zM188 504h4v4.5h-4zM328 504h4v4.5h-4zM348 504h4v4.5h-4zM188 508h4v4.5h-4zM328 508h4v4.5h-4zM344 508h4v4.5h-4zM136 512h4v4.5h-4zM188 512h4v4.5h-4zM340 512h4v4.5h-4zM188 516h4v4.5h-4zM328 516h4v4.5h-4zM336 516h4v4.5h-4zM188 520h4v4.5h-4zM328 520h8v4.5h-8zM128 524h4v4.5h-4zM188 524h4v4.5h-4zM188 528h4v4.5h-4zM620 528h56v4.5h-56zM724 528h4v4.5h-4zM188 532h4v4.5h-4zM592 532h8v4.5h-8zM700 532h20v4.5h-20zM188 536h4v4.5h-4zM412 536h8v4.5h-8zM428 536h8v4.5h-8zM580 536h4v4.5h-4zM120 540h4v4.5h-4zM408 540h4v4.5h-4zM436 540h4v4.5h-4zM572 540h4v4.5h-4zM164 544h4v4.5h-4z"/>
<path fill="#004dff" d="M560 100h12v4.5h-12zM572 104h4v4.5h-4zM452 112h4v4.5h-4zM472 112h4v4.5h-4zM576 112h4v4.5h-4zM544 116h4v4.5h-4zM576 116h4v4.5h-4zM456 120h4v4.5h-4zM468 120h4v4.5h-4zM576 120h4v4.5h-4zM540 124h4v4.5h-4zM576 124h4v4.5h-4zM576 128h4v4.5h-4zM536 132h4v4.5h-4zM576 132h4v4.5h-4zM584 132h16v4.5h-16zM576 136h32v4.5h-32zM572 140h36v4.5h-36zM532 144h4v4.5h-4zM572 144h12v4.5h-12zM600 144h12v4.5h-12zM532 148h4v4.5h-4zM604 148h12v4.5h-12zM608 152h12v4.5h-12zM608 156h12v4.5h-12zM612 160h16v4.5h-16zM616 164h48v4.5h-48zM532 168h4v4.5h-4zM620 168h64v4.5h-64zM532 172h4v4.5h-4zM628 172h68v4.5h-68zM532 176h8v4.5h-8zM668 176h36v4.5h-36zM536 180h16v4.5h-16zM684 180h28v4.5h-28zM536 184h16v4.5h-16zM692 184h24v4.5h-24zM540 188h12v4.5h-12zM700 188h24v4.5h-24zM540 192h8v4.5h-8zM708 192h20v4.5h-20zM540 196h8v4.5h-8zM712 196h16v4.5h-16zM540 200h8v4.5h-8zM716 200h12v4.5h-12zM540 204h4v4.5h-4zM720 204h8v4.5h-8zM536 208h8v4.5h-8zM724 208h4v4.5h-4zM536 212h8v4.5h-8zM724 212h4v4.5h-4zM536 216h8v4.5h-8zM404 220h4v4.5h-4zM536 220h4v4.5h-4zM396 224h16v4.5h-16zM536 224h4v4.5h-4zM392 228h8v4.5h-8zM408 228h8v4.5h-8zM532 228h8v4.5h-8zM388 232h4v4.5h-4zM412 232h8v4.5h-8zM532 232h8v4.5h-8zM388 236h4v4.5h-4zM416 236h4v4.5h-4zM532 236h8v4.5h-8zM384 240h4v4.5h-4zM416 240h4v4.5h-4zM532 240h8v4.5h-8zM532 244h8v4.5h-8zM380 248h4v4.5h-4zM420 248h4v4.5h-4zM532 248h8v4.5h-8zM380 252h4v4.5h-4zM420 252h4v4.5h-4zM536 252h4v4.5h-4zM376 256h4v4.5h-4zM420 256h4v4.5h-4zM536 256h8v4.5h-8zM376 260h4v4.5h-4zM420 260h4v4.5h-4zM536 260h8v4.5h-8zM724 260h4v4.5h-4zM420 264h4v4.5h-4zM536 264h8v4.5h-8zM724 264h4v4.5h-4zM372 268h4v4.5h-4zM420 268h4v4.5h-4zM536 268h8v4.5h-8zM724 268h4v4.5h-4zM372 272h4v4.5h-4zM420 272h4v4.5h-4zM536 272h8v4.5h-8zM720 272h8v4.5h-8zM420 276h4v4.5h-4zM532 276h8v4.5h-8zM720 276h8v4.5h-8zM368 280h4v4.5h-4zM420 280h4v4.5h-4zM528 280h8v4.5h-8zM720 280h8v4.5h-8zM368 284h4v4.5h-4zM420 284h4v4.5h-4zM524 284h8v4.5h-8zM724 284h4v4.5h-4zM420 288h4v4.5h-4zM516 288h8v4.5h-8zM724 288h4v4.5h-4zM364 292h4v4.5h-4zM508 292h8v4.5h-8zM724 292h4v4.5h-4zM364 296h4v4.5h-4zM500 296h8v4.5h-8zM360 300h4v4.5h-4zM492 300h8v4.5h-8zM664 300h8v4.5h-8zM360 304h4v4.5h-4zM480 304h8v4.5h-8zM648 304h28v4.5h-28zM416 308h4v4.5h-4zM468 308h8v4.5h-8zM636 308h44v4.5h-44zM356 312h4v4.5h-4zM452 312h12v4.5h-12zM624 312h16v4.5h-16zM668 312h12v4.5h-12zM356 316h4v4.5h-4zM420 316h4v4.5h-4zM436 316h12v4.5h-12zM612 316h16v4.5h-16zM672 316h8v4.5h-8zM424 320h4v4.5h-4zM600 320h12v4.5h-12zM672 320h8v4.5h-8zM352 324h4v4.5h-4zM584 324h16v4.5h-16zM672 324h8v4.5h-8zM352 328h4v4.5h-4zM572 328h12v4.5h-12zM672 328h4v4.5h-4zM556 332h12v4.5h-12zM672 332h4v4.5h-4zM348 336h4v4.5h-4zM536 336h16v4.5h-16zM672 336h4v4.5h-4zM348 340h4v4.5h-4zM508 340h16v4.5h-16zM672 340h4v4.5h-4zM476 344h16v4.5h-16zM672 344h4v4.5h-4zM420 348h40v4.5h-40zM672 348h4v4.5h-4zM344 352h4v4.5h-4zM412 352h8v4.5h-8zM672 352h4v4.5h-4zM344 356h4v4.5h-4zM412 356h4v4.5h-4zM668 356h4v4.5h-4zM344 360h4v4.5h-4zM408 360h4v4.5h-4zM660 360h8v4.5h-8zM344 364h4v4.5h-4zM644 364h12v4.5h-12zM344 368h4v4.5h-4zM404 368h4v4.5h-4zM616 368h16v4.5h-16zM404 372h4v4.5h-4zM592 372h12v4.5h-12zM284 376h4v4.5h-4zM404 376h4v4.5h-4zM568 376h12v4.5h-12zM272 380h4v4.5h-4zM292 380h4v4.5h-4zM340 380h4v4.5h-4zM552 380h4v4.5h-4zM296 384h4v4.5h-4zM340 384h4v4.5h-4zM400 384h4v4.5h-4zM528 384h12v4.5h-12zM264 388h4v4.5h-4zM340 388h4v4.5h-4zM400 388h4v4.5h-4zM512 388h4v4.5h-4zM260 392h4v4.5h-4zM340 392h4v4.5h-4zM400 392h4v4.5h-4zM512 392h4v4.5h-4zM204 396h20v4.5h-20zM256 396h4v4.5h-4zM340 396h4v4.5h-4zM400 396h4v4.5h-4zM508 396h4v4.5h-4zM200 400h8v4.5h-8zM212 400h20v4.5h-20zM252 400h4v4.5h-4zM296 400h4v4.5h-4zM340 400h4v4.5h-4zM396 400h8v4.5h-8zM436 400h32v4.5h-32zM508 400h4v4.5h-4zM196 404h4v4.5h-4zM224 404h12v4.5h-12zM252 404h4v4.5h-4zM292 404h4v4.5h-4zM396 404h8v4.5h-8zM416 404h16v4.5h-16zM472 404h12v4.5h-12zM504 404h8v4.5h-8zM192 408h4v4.5h-4zM228 408h12v4.5h-12zM252 408h4v4.5h-4zM284 408h8v4.5h-8zM336 408h4v4.5h-4zM400 408h12v4.5h-12zM484 408h24v4.5h-24zM188 412h4v4.5h-4zM232 412h12v4.5h-12zM252 412h4v4.5h-4zM280 412h4v4.5h-4zM336 412h4v4.5h-4zM184 416h4v4.5h-4zM236 416h28v4.5h-28zM276 416h8v4.5h-8zM336 416h4v4.5h-4zM240 420h44v4.5h-44zM336 420h4v4.5h-4zM244 424h48v4.5h-48zM336 424h4v4.5h-4zM176 428h4v4.5h-4zM248 428h52v4.5h-52zM332 428h8v4.5h-8zM252 432h56v4.5h-56zM332 432h8v4.5h-8zM288 436h28v4.5h-28zM324 436h16v4.5h-16zM168 440h4v4.5h-4zM296 440h44v4.5h-44zM300 444h36v4.5h-36zM164 448h4v4.5h-4zM304 448h28v4.5h-28zM460 448h12v4.5h-12zM312 452h16v4.5h-16zM452 452h20v4.5h-20zM448 456h28v4.5h-28zM444 460h36v4.5h-36zM440 464h44v4.5h-44zM152 468h4v4.5h-4zM436 468h56v4.5h-56zM432 472h76v4.5h-76zM148 476h4v4.5h-4zM428 476h124v4.5h-124zM424 480h96v4.5h-96zM576 480h4v4.5h-4zM424 484h92v4.5h-92zM600 484h4v4.5h-4zM140 488h4v4.5h-4zM420 488h44v4.5h-44zM476 488h44v4.5h-44zM624 488h4v4.5h-4zM420 492h40v4.5h-40zM484 492h48v4.5h-48zM648 492h4v4.5h-4zM136 496h4v4.5h-4zM428 496h32v4.5h-32zM488 496h60v4.5h-60zM672 496h8v4.5h-8zM436 500h28v4.5h-28zM488 500h32v4.5h-32zM552 500h16v4.5h-16zM696 500h4v4.5h-4zM444 504h24v4.5h-24zM492 504h24v4.5h-24zM588 504h12v4.5h-12zM128 508h4v4.5h-4zM452 508h20v4.5h-20zM496 508h20v4.5h-20zM632 508h12v4.5h-12zM704 508h4v4.5h-4zM460 512h16v4.5h-16zM496 512h20v4.5h-20zM676 512h28v4.5h-28zM124 516h4v4.5h-4zM464 516h20v4.5h-20zM496 516h20v4.5h-20zM472 520h44v4.5h-44zM476 524h36v4.5h-36zM480 528h28v4.5h-28zM484 532h20v4.5h-20zM112 536h4v4.5h-4zM488 536h12v4.5h-12zM352 540h8v4.5h-8zM116 544h4v4.5h-4zM192 544h4v4.5h-4zM240 544h16v4.5h-16zM396 544h4v4.5h-4zM448 544h8v4.5h-8zM548 544h8v4.5h-8zM192 548h4v4.5h-4zM396 548h4v4.5h-4zM448 548h8v4.5h-8zM548 548h8v4.5h-8z"/>
<path fill="#005eff" d="M452 104h4v4.5h-4zM472 104h4v4.5h-4zM556 104h8v4.5h-8zM568 104h4v4.5h-4zM452 108h4v4.5h-4zM472 108h4v4.5h-4zM552 108h4v4.5h-4zM572 108h4v4.5h-4zM548 112h4v4.5h-4zM572 112h4v4.5h-4zM456 116h4v4.5h-4zM468 116h4v4.5h-4zM572 116h4v4.5h-4zM460 120h8v4.5h-8zM544 120h4v4.5h-4zM572 120h4v4.5h-4zM572 124h4v4.5h-4zM540 128h4v4.5h-4zM572 128h4v4.5h-4zM572 132h4v4.5h-4zM536 136h4v4.5h-4zM572 136h4v4.5h-4zM568 144h4v4.5h-4zM584 144h16v4.5h-16zM568 148h36v4.5h-36zM532 152h4v4.5h-4zM568 152h16v4.5h-16zM596 152h12v4.5h-12zM532 156h4v4.5h-4zM564 156h16v4.5h-16zM600 156h8v4.5h-8zM532 160h4v4.5h-4zM560 160h16v4.5h-16zM604 160h8v4.5h-8zM532 164h4v4.5h-4zM560 164h12v4.5h-12zM608 164h8v4.5h-8zM556 168h12v4.5h-12zM608 168h12v4.5h-12zM536 172h8v4.5h-8zM548 172h16v4.5h-16zM612 172h16v4.5h-16zM540 176h24v4.5h-24zM616 176h52v4.5h-52zM552 180h8v4.5h-8zM620 180h64v4.5h-64zM552 184h8v4.5h-8zM660 184h32v4.5h-32zM552 188h4v4.5h-4zM676 188h24v4.5h-24zM548 192h8v4.5h-8zM688 192h20v4.5h-20zM548 196h4v4.5h-4zM696 196h16v4.5h-16zM548 200h4v4.5h-4zM700 200h16v4.5h-16zM544 204h8v4.5h-8zM704 204h16v4.5h-16zM544 208h4v4.5h-4zM708 208h16v4.5h-16zM544 212h4v4.5h-4zM712 212h12v4.5h-12zM544 216h4v4.5h-4zM712 216h16v4.5h-16zM540 220h8v4.5h-8zM716 220h12v4.5h-12zM540 224h8v4.5h-8zM716 224h12v4.5h-12zM400 228h8v4.5h-8zM540 228h8v4.5h-8zM716 228h12v4.5h-12zM392 232h8v4.5h-8zM408 232h4v4.5h-4zM540 232h8v4.5h-8zM716 232h12v4.5h-12zM392 236h4v4.5h-4zM412 236h4v4.5h-4zM540 236h8v4.5h-8zM716 236h12v4.5h-12zM388 240h4v4.5h-4zM412 240h4v4.5h-4zM540 240h8v4.5h-8zM716 240h12v4.5h-12zM384 244h4v4.5h-4zM416 244h4v4.5h-4zM540 244h8v4.5h-8zM716 244h12v4.5h-12zM384 248h4v4.5h-4zM416 248h4v4.5h-4zM540 248h8v4.5h-8zM716 248h12v4.5h-12zM416 252h4v4.5h-4zM540 252h8v4.5h-8zM716 252h12v4.5h-12zM380 256h4v4.5h-4zM416 256h4v4.5h-4zM544 256h4v4.5h-4zM712 256h16v4.5h-16zM416 260h4v4.5h-4zM544 260h8v4.5h-8zM712 260h12v4.5h-12zM376 264h4v4.5h-4zM544 264h8v4.5h-8zM712 264h12v4.5h-12zM376 268h4v4.5h-4zM544 268h8v4.5h-8zM708 268h16v4.5h-16zM544 272h8v4.5h-8zM708 272h12v4.5h-12zM372 276h4v4.5h-4zM540 276h8v4.5h-8zM708 276h12v4.5h-12zM372 280h4v4.5h-4zM416 280h4v4.5h-4zM536 280h8v4.5h-8zM708 280h12v4.5h-12zM416 284h4v4.5h-4zM532 284h4v4.5h-4zM712 284h12v4.5h-12zM368 288h4v4.5h-4zM416 288h4v4.5h-4zM524 288h8v4.5h-8zM712 288h12v4.5h-12zM368 292h4v4.5h-4zM416 292h4v4.5h-4zM516 292h8v4.5h-8zM664 292h20v4.5h-20zM716 292h8v4.5h-8zM416 296h4v4.5h-4zM508 296h8v4.5h-8zM656 296h32v4.5h-32zM720 296h8v4.5h-8zM364 300h4v4.5h-4zM416 300h4v4.5h-4zM500 300h8v4.5h-8zM644 300h20v4.5h-20zM672 300h16v4.5h-16zM724 300h4v4.5h-4zM416 304h4v4.5h-4zM488 304h8v4.5h-8zM636 304h12v4.5h-12zM676 304h12v4.5h-12zM724 304h4v4.5h-4zM360 308h4v4.5h-4zM476 308h8v4.5h-8zM624 308h12v4.5h-12zM680 308h4v4.5h-4zM360 312h4v4.5h-4zM416 312h4v4.5h-4zM464 312h8v4.5h-8zM612 312h12v4.5h-12zM680 312h4v4.5h-4zM416 316h4v4.5h-4zM448 316h8v4.5h-8zM604 316h8v4.5h-8zM680 316h4v4.5h-4zM356 320h4v4.5h-4zM420 320h4v4.5h-4zM428 320h12v4.5h-12zM588 320h12v4.5h-12zM680 320h4v4.5h-4zM356 324h4v4.5h-4zM576 324h8v4.5h-8zM680 324h4v4.5h-4zM560 328h12v4.5h-12zM676 328h4v4.5h-4zM352 332h4v4.5h-4zM544 332h12v4.5h-12zM676 332h4v4.5h-4zM352 336h4v4.5h-4zM520 336h16v4.5h-16zM676 336h4v4.5h-4zM492 340h16v4.5h-16zM676 340h4v4.5h-4zM348 344h4v4.5h-4zM424 344h52v4.5h-52zM676 344h4v4.5h-4zM348 348h4v4.5h-4zM416 348h4v4.5h-4zM676 348h4v4.5h-4zM348 352h4v4.5h-4zM676 352h4v4.5h-4zM348 356h4v4.5h-4zM408 356h4v4.5h-4zM672 356h4v4.5h-4zM404 360h4v4.5h-4zM668 360h4v4.5h-4zM404 364h4v4.5h-4zM656 364h8v4.5h-8zM632 368h12v4.5h-12zM344 372h4v4.5h-4zM604 372h8v4.5h-8zM344 376h4v4.5h-4zM400 376h4v4.5h-4zM580 376h8v4.5h-8zM276 380h4v4.5h-4zM288 380h4v4.5h-4zM344 380h4v4.5h-4zM400 380h4v4.5h-4zM556 380h8v4.5h-8zM272 384h4v4.5h-4zM344 384h4v4.5h-4zM540 384h4v4.5h-4zM268 388h4v4.5h-4zM296 388h4v4.5h-4zM344 388h4v4.5h-4zM396 388h4v4.5h-4zM516 388h4v4.5h-4zM264 392h4v4.5h-4zM296 392h4v4.5h-4zM396 392h4v4.5h-4zM296 396h4v4.5h-4zM396 396h4v4.5h-4zM512 396h4v4.5h-4zM208 400h4v4.5h-4zM256 400h4v4.5h-4zM512 400h4v4.5h-4zM200 404h24v4.5h-24zM288 404h4v4.5h-4zM340 404h4v4.5h-4zM392 404h4v4.5h-4zM432 404h12v4.5h-12zM460 404h12v4.5h-12zM216 408h12v4.5h-12zM256 408h4v4.5h-4zM280 408h4v4.5h-4zM340 408h4v4.5h-4zM392 408h8v4.5h-8zM412 408h8v4.5h-8zM480 408h4v4.5h-4zM508 408h4v4.5h-4zM224 412h8v4.5h-8zM256 412h4v4.5h-4zM276 412h4v4.5h-4zM340 412h4v4.5h-4zM396 412h8v4.5h-8zM488 412h20v4.5h-20zM228 416h8v4.5h-8zM264 416h12v4.5h-12zM340 416h4v4.5h-4zM492 416h12v4.5h-12zM184 420h4v4.5h-4zM232 420h8v4.5h-8zM340 420h4v4.5h-4zM180 424h4v4.5h-4zM236 424h8v4.5h-8zM340 424h4v4.5h-4zM240 428h8v4.5h-8zM340 428h4v4.5h-4zM244 432h8v4.5h-8zM340 432h4v4.5h-4zM484 432h4v4.5h-4zM172 436h4v4.5h-4zM248 436h40v4.5h-40zM340 436h4v4.5h-4zM472 436h20v4.5h-20zM252 440h44v4.5h-44zM340 440h4v4.5h-4zM460 440h32v4.5h-32zM168 444h4v4.5h-4zM252 444h48v4.5h-48zM336 444h8v4.5h-8zM452 444h40v4.5h-40zM256 448h8v4.5h-8zM284 448h20v4.5h-20zM332 448h8v4.5h-8zM444 448h16v4.5h-16zM472 448h20v4.5h-20zM288 452h24v4.5h-24zM328 452h12v4.5h-12zM440 452h12v4.5h-12zM472 452h20v4.5h-20zM160 456h4v4.5h-4zM296 456h40v4.5h-40zM436 456h12v4.5h-12zM476 456h20v4.5h-20zM300 460h28v4.5h-28zM432 460h12v4.5h-12zM480 460h20v4.5h-20zM156 464h4v4.5h-4zM304 464h20v4.5h-20zM428 464h12v4.5h-12zM484 464h20v4.5h-20zM308 468h8v4.5h-8zM424 468h12v4.5h-12zM492 468h20v4.5h-20zM420 472h12v4.5h-12zM508 472h24v4.5h-24zM416 476h12v4.5h-12zM552 476h8v4.5h-8zM412 480h12v4.5h-12zM580 480h8v4.5h-8zM144 484h4v4.5h-4zM408 484h16v4.5h-16zM604 484h4v4.5h-4zM404 488h16v4.5h-16zM628 488h4v4.5h-4zM400 492h20v4.5h-20zM652 492h4v4.5h-4zM400 496h28v4.5h-28zM680 496h12v4.5h-12zM396 500h40v4.5h-40zM520 500h32v4.5h-32zM700 500h4v4.5h-4zM132 504h4v4.5h-4zM416 504h28v4.5h-28zM516 504h24v4.5h-24zM568 504h20v4.5h-20zM704 504h4v4.5h-4zM440 508h12v4.5h-12zM516 508h16v4.5h-16zM620 508h12v4.5h-12zM448 512h12v4.5h-12zM516 512h16v4.5h-16zM660 512h16v4.5h-16zM704 512h4v4.5h-4zM456 516h8v4.5h-8zM516 516h12v4.5h-12zM464 520h8v4.5h-8zM516 520h12v4.5h-12zM120 524h4v4.5h-4zM216 524h4v4.5h-4zM468 524h8v4.5h-8zM512 524h12v4.5h-12zM216 528h4v4.5h-4zM292 528h8v4.5h-8zM360 528h8v4.5h-8zM472 528h8v4.5h-8zM508 528h12v4.5h-12zM116 532h4v4.5h-4zM216 532h4v4.5h-4zM288 532h12v4.5h-12zM356 532h12v4.5h-12zM476 532h8v4.5h-8zM504 532h12v4.5h-12zM288 536h16v4.5h-16zM352 536h20v4.5h-20zM476 536h12v4.5h-12zM500 536h12v4.5h-12zM112 540h4v4.5h-4zM212 540h8v4.5h-8zM284 540h20v4.5h-20zM348 540h4v4.5h-4zM360 540h12v4.5h-12zM480 540h28v4.5h-28zM400 544h4v4.5h-4zM444 544h4v4.5h-4zM556 544h8v4.5h-8zM116 548h4v4.5h-4zM188 548h4v4.5h-4zM400 548h4v4.5h-4zM444 548h4v4.5h-4zM556 548h8v4.5h-8z"/>
<path fill="#00a2ff" d="M456 104h4v4.5h-4zM468 104h4v4.5h-4zM560 112h4v4.5h-4zM564 116h4v4.5h-4zM564 136h4v4.5h-4zM540 140h4v4.5h-4zM556 152h4v4.5h-4zM540 156h4v4.5h-4zM540 160h12v4.5h-12zM580 180h12v4.5h-12zM576 184h20v4.5h-20zM572 188h24v4.5h-24zM568 192h8v4.5h-8zM588 192h12v4.5h-12zM568 196h4v4.5h-4zM592 196h8v4.5h-8zM564 200h8v4.5h-8zM592 200h8v4.5h-8zM564 204h4v4.5h-4zM592 204h12v4.5h-12zM564 208h4v4.5h-4zM596 208h8v4.5h-8zM564 212h4v4.5h-4zM596 212h12v4.5h-12zM636 212h16v4.5h-16zM560 216h8v4.5h-8zM596 216h16v4.5h-16zM620 216h44v4.5h-44zM560 220h8v4.5h-8zM592 220h76v4.5h-76zM560 224h8v4.5h-8zM592 224h80v4.5h-80zM560 228h8v4.5h-8zM588 228h88v4.5h-88zM560 232h8v4.5h-8zM584 232h92v4.5h-92zM564 236h112v4.5h-112zM564 240h32v4.5h-32zM612 240h64v4.5h-64zM568 244h20v4.5h-20zM616 244h56v4.5h-56zM396 248h12v4.5h-12zM620 248h52v4.5h-52zM392 252h4v4.5h-4zM404 252h4v4.5h-4zM620 252h48v4.5h-48zM388 256h4v4.5h-4zM408 256h4v4.5h-4zM624 256h40v4.5h-40zM388 260h4v4.5h-4zM408 260h4v4.5h-4zM624 260h36v4.5h-36zM620 264h36v4.5h-36zM384 268h4v4.5h-4zM612 268h40v4.5h-40zM596 272h56v4.5h-56zM380 276h4v4.5h-4zM580 276h20v4.5h-20zM628 276h20v4.5h-20zM564 280h16v4.5h-16zM632 280h12v4.5h-12zM556 284h8v4.5h-8zM632 284h8v4.5h-8zM376 288h4v4.5h-4zM548 288h4v4.5h-4zM628 288h8v4.5h-8zM540 292h4v4.5h-4zM624 292h8v4.5h-8zM372 296h4v4.5h-4zM408 296h4v4.5h-4zM532 296h4v4.5h-4zM620 296h4v4.5h-4zM408 300h4v4.5h-4zM524 300h4v4.5h-4zM612 300h8v4.5h-8zM408 304h4v4.5h-4zM516 304h4v4.5h-4zM604 304h8v4.5h-8zM368 308h4v4.5h-4zM408 308h4v4.5h-4zM504 308h4v4.5h-4zM596 308h4v4.5h-4zM408 312h4v4.5h-4zM492 312h8v4.5h-8zM584 312h8v4.5h-8zM700 312h16v4.5h-16zM408 316h4v4.5h-4zM480 316h4v4.5h-4zM576 316h4v4.5h-4zM696 316h4v4.5h-4zM712 316h8v4.5h-8zM408 320h4v4.5h-4zM464 320h8v4.5h-8zM560 320h8v4.5h-8zM692 320h4v4.5h-4zM716 320h4v4.5h-4zM408 324h4v4.5h-4zM452 324h8v4.5h-8zM548 324h4v4.5h-4zM692 324h4v4.5h-4zM720 324h4v4.5h-4zM360 328h4v4.5h-4zM444 328h8v4.5h-8zM528 328h8v4.5h-8zM720 328h4v4.5h-4zM412 332h4v4.5h-4zM440 332h8v4.5h-8zM500 332h12v4.5h-12zM688 332h4v4.5h-4zM448 336h32v4.5h-32zM688 336h4v4.5h-4zM724 336h4v4.5h-4zM356 340h4v4.5h-4zM408 340h4v4.5h-4zM688 340h4v4.5h-4zM724 340h4v4.5h-4zM356 344h4v4.5h-4zM404 348h4v4.5h-4zM400 356h4v4.5h-4zM684 356h4v4.5h-4zM396 364h4v4.5h-4zM676 364h4v4.5h-4zM352 368h4v4.5h-4zM396 368h4v4.5h-4zM668 368h4v4.5h-4zM352 372h4v4.5h-4zM640 372h12v4.5h-12zM608 376h8v4.5h-8zM392 380h4v4.5h-4zM580 380h4v4.5h-4zM280 384h4v4.5h-4zM556 384h4v4.5h-4zM536 388h4v4.5h-4zM272 392h4v4.5h-4zM388 392h4v4.5h-4zM524 392h4v4.5h-4zM268 396h4v4.5h-4zM388 396h4v4.5h-4zM524 396h4v4.5h-4zM280 400h8v4.5h-8zM260 404h4v4.5h-4zM384 404h4v4.5h-4zM520 408h4v4.5h-4zM380 412h4v4.5h-4zM420 412h8v4.5h-8zM468 412h4v4.5h-4zM520 412h4v4.5h-4zM380 416h4v4.5h-4zM408 416h4v4.5h-4zM192 420h8v4.5h-8zM204 420h8v4.5h-8zM352 420h4v4.5h-4zM400 420h4v4.5h-4zM476 420h4v4.5h-4zM516 420h4v4.5h-4zM188 424h4v4.5h-4zM212 424h4v4.5h-4zM352 424h4v4.5h-4zM376 424h8v4.5h-8zM388 424h8v4.5h-8zM472 424h4v4.5h-4zM516 424h4v4.5h-4zM184 428h4v4.5h-4zM216 428h4v4.5h-4zM356 428h4v4.5h-4zM372 428h16v4.5h-16zM464 428h4v4.5h-4zM516 428h4v4.5h-4zM180 432h4v4.5h-4zM216 432h4v4.5h-4zM360 432h24v4.5h-24zM456 432h4v4.5h-4zM512 432h8v4.5h-8zM220 436h4v4.5h-4zM364 436h12v4.5h-12zM448 436h4v4.5h-4zM512 436h4v4.5h-4zM220 440h4v4.5h-4zM364 440h4v4.5h-4zM440 440h4v4.5h-4zM512 440h4v4.5h-4zM172 444h4v4.5h-4zM220 444h16v4.5h-16zM360 444h4v4.5h-4zM432 444h4v4.5h-4zM512 444h8v4.5h-8zM220 448h24v4.5h-24zM356 448h4v4.5h-4zM428 448h4v4.5h-4zM516 448h4v4.5h-4zM220 452h8v4.5h-8zM240 452h4v4.5h-4zM352 452h4v4.5h-4zM516 452h4v4.5h-4zM220 456h8v4.5h-8zM244 456h4v4.5h-4zM348 456h4v4.5h-4zM416 456h4v4.5h-4zM520 456h4v4.5h-4zM216 460h8v4.5h-8zM244 460h4v4.5h-4zM344 460h4v4.5h-4zM412 460h4v4.5h-4zM524 460h4v4.5h-4zM160 464h4v4.5h-4zM216 464h8v4.5h-8zM340 464h4v4.5h-4zM408 464h4v4.5h-4zM532 464h4v4.5h-4zM216 468h8v4.5h-8zM248 468h4v4.5h-4zM336 468h4v4.5h-4zM404 468h4v4.5h-4zM544 468h4v4.5h-4zM212 472h12v4.5h-12zM248 472h4v4.5h-4zM332 472h4v4.5h-4zM400 472h4v4.5h-4zM560 472h4v4.5h-4zM212 476h4v4.5h-4zM220 476h4v4.5h-4zM248 476h4v4.5h-4zM328 476h4v4.5h-4zM396 476h4v4.5h-4zM580 476h4v4.5h-4zM212 480h4v4.5h-4zM220 480h4v4.5h-4zM324 480h4v4.5h-4zM392 480h4v4.5h-4zM600 480h4v4.5h-4zM148 484h4v4.5h-4zM208 484h4v4.5h-4zM220 484h4v4.5h-4zM388 484h4v4.5h-4zM620 484h4v4.5h-4zM208 488h4v4.5h-4zM320 488h4v4.5h-4zM384 488h4v4.5h-4zM644 488h8v4.5h-8zM208 492h4v4.5h-4zM316 492h4v4.5h-4zM380 492h4v4.5h-4zM688 492h16v4.5h-16zM140 496h4v4.5h-4zM316 496h4v4.5h-4zM376 496h4v4.5h-4zM204 500h4v4.5h-4zM372 500h4v4.5h-4zM204 504h4v4.5h-4zM248 504h4v4.5h-4zM312 504h4v4.5h-4zM368 504h4v4.5h-4zM712 504h4v4.5h-4zM204 508h4v4.5h-4zM224 508h4v4.5h-4zM248 508h4v4.5h-4zM312 508h4v4.5h-4zM364 508h4v4.5h-4zM224 512h4v4.5h-4zM248 512h4v4.5h-4zM312 512h4v4.5h-4zM360 512h4v4.5h-4zM580 512h36v4.5h-36zM128 516h4v4.5h-4zM248 516h4v4.5h-4zM312 516h4v4.5h-4zM356 516h4v4.5h-4zM412 516h16v4.5h-16zM564 516h16v4.5h-16zM652 516h16v4.5h-16zM248 520h4v4.5h-4zM352 520h4v4.5h-4zM400 520h8v4.5h-8zM436 520h8v4.5h-8zM556 520h12v4.5h-12zM248 524h4v4.5h-4zM348 524h4v4.5h-4zM392 524h8v4.5h-8zM448 524h4v4.5h-4zM552 524h8v4.5h-8zM252 528h8v4.5h-8zM312 528h4v4.5h-4zM344 528h4v4.5h-4zM388 528h4v4.5h-4zM452 528h4v4.5h-4zM544 528h8v4.5h-8zM200 532h4v4.5h-4zM264 532h4v4.5h-4zM312 532h4v4.5h-4zM456 532h4v4.5h-4zM536 532h8v4.5h-8zM200 536h4v4.5h-4zM268 536h4v4.5h-4zM312 536h4v4.5h-4zM384 536h4v4.5h-4zM460 536h4v4.5h-4zM532 536h8v4.5h-8zM200 540h4v4.5h-4zM268 540h4v4.5h-4zM316 540h4v4.5h-4zM384 540h4v4.5h-4zM528 540h8v4.5h-8zM592 544h12v4.5h-12zM692 544h16v4.5h-16zM180 548h4v4.5h-4zM596 548h16v4.5h-16zM684 548h20v4.5h-20z"/>
<path fill="#0090ff" d="M456 108h4v4.5h-4zM468 108h4v4.5h-4zM460 112h8v4.5h-8zM556 112h4v4.5h-4zM564 112h4v4.5h-4zM552 116h4v4.5h-4zM548 120h4v4.5h-4zM544 128h4v4.5h-4zM540 136h4v4.5h-4zM564 140h4v4.5h-4zM560 148h4v4.5h-4zM556 156h4v4.5h-4zM552 160h4v4.5h-4zM540 164h12v4.5h-12zM580 172h16v4.5h-16zM576 176h20v4.5h-20zM572 180h8v4.5h-8zM592 180h8v4.5h-8zM568 184h8v4.5h-8zM596 184h4v4.5h-4zM568 188h4v4.5h-4zM596 188h8v4.5h-8zM564 192h4v4.5h-4zM600 192h8v4.5h-8zM564 196h4v4.5h-4zM600 196h8v4.5h-8zM560 200h4v4.5h-4zM600 200h16v4.5h-16zM560 204h4v4.5h-4zM604 204h60v4.5h-60zM560 208h4v4.5h-4zM604 208h72v4.5h-72zM556 212h8v4.5h-8zM608 212h28v4.5h-28zM652 212h28v4.5h-28zM556 216h4v4.5h-4zM612 216h8v4.5h-8zM664 216h20v4.5h-20zM556 220h4v4.5h-4zM668 220h20v4.5h-20zM556 224h4v4.5h-4zM672 224h16v4.5h-16zM556 228h4v4.5h-4zM676 228h16v4.5h-16zM556 232h4v4.5h-4zM676 232h16v4.5h-16zM556 236h8v4.5h-8zM676 236h16v4.5h-16zM556 240h8v4.5h-8zM596 240h16v4.5h-16zM676 240h16v4.5h-16zM396 244h12v4.5h-12zM560 244h8v4.5h-8zM588 244h28v4.5h-28zM672 244h20v4.5h-20zM392 248h4v4.5h-4zM408 248h4v4.5h-4zM560 248h60v4.5h-60zM672 248h16v4.5h-16zM388 252h4v4.5h-4zM408 252h4v4.5h-4zM564 252h56v4.5h-56zM668 252h20v4.5h-20zM572 256h12v4.5h-12zM596 256h28v4.5h-28zM664 256h20v4.5h-20zM384 260h4v4.5h-4zM600 260h24v4.5h-24zM660 260h20v4.5h-20zM384 264h4v4.5h-4zM412 264h4v4.5h-4zM596 264h24v4.5h-24zM656 264h20v4.5h-20zM412 268h4v4.5h-4zM584 268h28v4.5h-28zM652 268h20v4.5h-20zM380 272h4v4.5h-4zM412 272h4v4.5h-4zM572 272h24v4.5h-24zM652 272h16v4.5h-16zM412 276h4v4.5h-4zM564 276h16v4.5h-16zM648 276h16v4.5h-16zM412 280h4v4.5h-4zM556 280h8v4.5h-8zM644 280h12v4.5h-12zM376 284h4v4.5h-4zM412 284h4v4.5h-4zM548 284h8v4.5h-8zM640 284h12v4.5h-12zM544 288h4v4.5h-4zM636 288h12v4.5h-12zM372 292h4v4.5h-4zM536 292h4v4.5h-4zM632 292h8v4.5h-8zM528 296h4v4.5h-4zM624 296h8v4.5h-8zM520 300h4v4.5h-4zM620 300h4v4.5h-4zM368 304h4v4.5h-4zM508 304h8v4.5h-8zM612 304h4v4.5h-4zM700 304h12v4.5h-12zM500 308h4v4.5h-4zM600 308h8v4.5h-8zM696 308h20v4.5h-20zM484 312h8v4.5h-8zM592 312h8v4.5h-8zM692 312h8v4.5h-8zM716 312h4v4.5h-4zM364 316h4v4.5h-4zM472 316h8v4.5h-8zM580 316h8v4.5h-8zM692 316h4v4.5h-4zM720 316h4v4.5h-4zM456 320h8v4.5h-8zM568 320h8v4.5h-8zM720 320h4v4.5h-4zM360 324h4v4.5h-4zM412 324h4v4.5h-4zM444 324h8v4.5h-8zM552 324h8v4.5h-8zM688 324h4v4.5h-4zM724 324h4v4.5h-4zM412 328h4v4.5h-4zM436 328h8v4.5h-8zM536 328h8v4.5h-8zM688 328h4v4.5h-4zM724 328h4v4.5h-4zM416 332h4v4.5h-4zM428 332h12v4.5h-12zM512 332h12v4.5h-12zM724 332h4v4.5h-4zM356 336h4v4.5h-4zM412 336h8v4.5h-8zM432 336h16v4.5h-16zM480 336h16v4.5h-16zM412 340h4v4.5h-4zM684 340h4v4.5h-4zM408 344h4v4.5h-4zM684 344h4v4.5h-4zM684 348h4v4.5h-4zM684 352h4v4.5h-4zM352 356h4v4.5h-4zM352 360h4v4.5h-4zM400 360h4v4.5h-4zM680 360h4v4.5h-4zM352 364h4v4.5h-4zM660 368h8v4.5h-8zM396 372h4v4.5h-4zM632 372h8v4.5h-8zM600 376h8v4.5h-8zM576 380h4v4.5h-4zM288 384h4v4.5h-4zM392 384h4v4.5h-4zM552 384h4v4.5h-4zM292 388h4v4.5h-4zM348 388h4v4.5h-4zM392 388h4v4.5h-4zM528 388h8v4.5h-8zM292 392h4v4.5h-4zM348 392h4v4.5h-4zM264 396h4v4.5h-4zM348 396h4v4.5h-4zM520 396h4v4.5h-4zM260 400h4v4.5h-4zM288 400h4v4.5h-4zM348 400h4v4.5h-4zM388 400h4v4.5h-4zM520 400h4v4.5h-4zM276 404h4v4.5h-4zM348 404h4v4.5h-4zM520 404h4v4.5h-4zM260 408h4v4.5h-4zM272 408h4v4.5h-4zM348 408h4v4.5h-4zM384 408h4v4.5h-4zM436 408h28v4.5h-28zM348 412h4v4.5h-4zM384 412h4v4.5h-4zM416 412h4v4.5h-4zM472 412h4v4.5h-4zM516 412h4v4.5h-4zM196 416h16v4.5h-16zM348 416h4v4.5h-4zM384 416h4v4.5h-4zM404 416h4v4.5h-4zM476 416h4v4.5h-4zM516 416h4v4.5h-4zM212 420h4v4.5h-4zM348 420h4v4.5h-4zM380 420h8v4.5h-8zM392 420h8v4.5h-8zM480 420h4v4.5h-4zM512 420h4v4.5h-4zM216 424h4v4.5h-4zM384 424h4v4.5h-4zM476 424h4v4.5h-4zM512 424h4v4.5h-4zM220 428h4v4.5h-4zM352 428h4v4.5h-4zM468 428h4v4.5h-4zM512 428h4v4.5h-4zM220 432h4v4.5h-4zM356 432h4v4.5h-4zM460 432h4v4.5h-4zM508 432h4v4.5h-4zM176 436h4v4.5h-4zM224 436h8v4.5h-8zM356 436h8v4.5h-8zM452 436h4v4.5h-4zM508 436h4v4.5h-4zM224 440h16v4.5h-16zM356 440h8v4.5h-8zM444 440h4v4.5h-4zM508 440h4v4.5h-4zM236 444h8v4.5h-8zM356 444h4v4.5h-4zM436 444h4v4.5h-4zM508 444h4v4.5h-4zM168 448h4v4.5h-4zM352 448h4v4.5h-4zM432 448h4v4.5h-4zM508 448h8v4.5h-8zM244 452h4v4.5h-4zM348 452h4v4.5h-4zM424 452h4v4.5h-4zM508 452h8v4.5h-8zM164 456h4v4.5h-4zM344 456h4v4.5h-4zM420 456h4v4.5h-4zM512 456h8v4.5h-8zM248 460h4v4.5h-4zM340 460h4v4.5h-4zM416 460h4v4.5h-4zM516 460h8v4.5h-8zM248 464h4v4.5h-4zM336 464h4v4.5h-4zM412 464h4v4.5h-4zM524 464h8v4.5h-8zM332 468h4v4.5h-4zM408 468h4v4.5h-4zM536 468h8v4.5h-8zM252 472h4v4.5h-4zM328 472h4v4.5h-4zM404 472h4v4.5h-4zM552 472h8v4.5h-8zM152 476h4v4.5h-4zM216 476h4v4.5h-4zM252 476h4v4.5h-4zM324 476h4v4.5h-4zM400 476h4v4.5h-4zM572 476h8v4.5h-8zM216 480h4v4.5h-4zM252 480h4v4.5h-4zM320 480h4v4.5h-4zM396 480h4v4.5h-4zM596 480h4v4.5h-4zM212 484h8v4.5h-8zM252 484h4v4.5h-4zM320 484h4v4.5h-4zM392 484h4v4.5h-4zM616 484h4v4.5h-4zM212 488h12v4.5h-12zM252 488h4v4.5h-4zM316 488h4v4.5h-4zM388 488h4v4.5h-4zM640 488h4v4.5h-4zM212 492h4v4.5h-4zM220 492h4v4.5h-4zM252 492h4v4.5h-4zM312 492h4v4.5h-4zM384 492h4v4.5h-4zM672 492h16v4.5h-16zM208 496h4v4.5h-4zM220 496h4v4.5h-4zM252 496h4v4.5h-4zM312 496h4v4.5h-4zM380 496h4v4.5h-4zM704 496h4v4.5h-4zM208 500h4v4.5h-4zM220 500h4v4.5h-4zM252 500h4v4.5h-4zM312 500h4v4.5h-4zM376 500h4v4.5h-4zM708 500h4v4.5h-4zM252 504h4v4.5h-4zM308 504h4v4.5h-4zM372 504h4v4.5h-4zM132 508h4v4.5h-4zM252 508h4v4.5h-4zM308 508h4v4.5h-4zM368 508h4v4.5h-4zM712 508h4v4.5h-4zM204 512h4v4.5h-4zM308 512h4v4.5h-4zM364 512h4v4.5h-4zM560 512h20v4.5h-20zM616 512h20v4.5h-20zM712 512h4v4.5h-4zM204 516h4v4.5h-4zM224 516h4v4.5h-4zM308 516h4v4.5h-4zM360 516h4v4.5h-4zM400 516h12v4.5h-12zM428 516h12v4.5h-12zM552 516h12v4.5h-12zM668 516h12v4.5h-12zM708 516h4v4.5h-4zM204 520h4v4.5h-4zM224 520h4v4.5h-4zM308 520h4v4.5h-4zM356 520h4v4.5h-4zM392 520h8v4.5h-8zM444 520h8v4.5h-8zM548 520h8v4.5h-8zM204 524h4v4.5h-4zM224 524h4v4.5h-4zM252 524h4v4.5h-4zM308 524h4v4.5h-4zM352 524h4v4.5h-4zM388 524h4v4.5h-4zM452 524h4v4.5h-4zM544 524h8v4.5h-8zM120 528h4v4.5h-4zM204 528h4v4.5h-4zM224 528h4v4.5h-4zM260 528h8v4.5h-8zM308 528h4v4.5h-4zM348 528h4v4.5h-4zM384 528h4v4.5h-4zM456 528h4v4.5h-4zM536 528h8v4.5h-8zM204 532h4v4.5h-4zM224 532h4v4.5h-4zM268 532h4v4.5h-4zM344 532h4v4.5h-4zM384 532h4v4.5h-4zM460 532h4v4.5h-4zM532 532h4v4.5h-4zM116 536h4v4.5h-4zM204 536h4v4.5h-4zM224 536h4v4.5h-4zM272 536h4v4.5h-4zM340 536h4v4.5h-4zM380 536h4v4.5h-4zM464 536h4v4.5h-4zM528 536h4v4.5h-4zM224 540h4v4.5h-4zM272 540h4v4.5h-4zM312 540h4v4.5h-4zM336 540h4v4.5h-4zM380 540h4v4.5h-4zM464 540h4v4.5h-4zM524 540h4v4.5h-4zM120 544h4v4.5h-4zM184 544h4v4.5h-4zM416 544h16v4.5h-16zM580 544h12v4.5h-12zM708 544h16v4.5h-16zM120 548h4v4.5h-4zM416 548h16v4.5h-16zM584 548h12v4.5h-12zM704 548h12v4.5h-12z"/>
<path fill="#00b2ff" d="M460 108h8v4.5h-8zM556 116h8v4.5h-8zM552 120h4v4.5h-4zM564 120h4v4.5h-4zM548 124h4v4.5h-4zM564 124h4v4.5h-4zM564 128h4v4.5h-4zM544 132h4v4.5h-4zM564 132h4v4.5h-4zM540 144h4v4.5h-4zM560 144h4v4.5h-4zM540 148h4v4.5h-4zM540 152h4v4.5h-4zM552 156h4v4.5h-4zM576 192h12v4.5h-12zM572 196h20v4.5h-20zM572 200h20v4.5h-20zM568 204h24v4.5h-24zM568 208h28v4.5h-28zM568 212h8v4.5h-8zM584 212h12v4.5h-12zM568 216h8v4.5h-8zM580 216h16v4.5h-16zM568 220h24v4.5h-24zM568 224h24v4.5h-24zM568 228h20v4.5h-20zM568 232h16v4.5h-16zM396 252h8v4.5h-8zM392 256h4v4.5h-4zM404 256h4v4.5h-4zM388 264h4v4.5h-4zM408 264h4v4.5h-4zM408 268h4v4.5h-4zM384 272h4v4.5h-4zM408 272h4v4.5h-4zM408 276h4v4.5h-4zM600 276h28v4.5h-28zM380 280h4v4.5h-4zM408 280h4v4.5h-4zM580 280h52v4.5h-52zM408 284h4v4.5h-4zM564 284h12v4.5h-12zM620 284h12v4.5h-12zM408 288h4v4.5h-4zM552 288h8v4.5h-8zM620 288h8v4.5h-8zM376 292h4v4.5h-4zM408 292h4v4.5h-4zM544 292h8v4.5h-8zM616 292h8v4.5h-8zM536 296h4v4.5h-4zM612 296h8v4.5h-8zM372 300h4v4.5h-4zM528 300h4v4.5h-4zM604 300h8v4.5h-8zM520 304h4v4.5h-4zM600 304h4v4.5h-4zM508 308h8v4.5h-8zM588 308h8v4.5h-8zM368 312h4v4.5h-4zM500 312h4v4.5h-4zM580 312h4v4.5h-4zM484 316h8v4.5h-8zM568 316h8v4.5h-8zM700 316h12v4.5h-12zM364 320h4v4.5h-4zM472 320h8v4.5h-8zM556 320h4v4.5h-4zM696 320h8v4.5h-8zM712 320h4v4.5h-4zM460 324h8v4.5h-8zM536 324h12v4.5h-12zM696 324h4v4.5h-4zM716 324h4v4.5h-4zM408 328h4v4.5h-4zM452 328h8v4.5h-8zM516 328h12v4.5h-12zM692 328h4v4.5h-4zM360 332h4v4.5h-4zM408 332h4v4.5h-4zM448 332h20v4.5h-20zM480 332h20v4.5h-20zM692 332h4v4.5h-4zM720 332h4v4.5h-4zM408 336h4v4.5h-4zM720 336h4v4.5h-4zM404 344h4v4.5h-4zM688 344h4v4.5h-4zM724 344h4v4.5h-4zM356 348h4v4.5h-4zM688 348h4v4.5h-4zM724 348h4v4.5h-4zM356 352h4v4.5h-4zM400 352h4v4.5h-4zM688 352h4v4.5h-4zM724 352h4v4.5h-4zM396 360h4v4.5h-4zM684 360h4v4.5h-4zM680 364h4v4.5h-4zM672 368h4v4.5h-4zM652 372h8v4.5h-8zM352 376h4v4.5h-4zM392 376h4v4.5h-4zM616 376h8v4.5h-8zM352 380h4v4.5h-4zM584 380h8v4.5h-8zM284 384h4v4.5h-4zM352 384h4v4.5h-4zM560 384h4v4.5h-4zM276 388h4v4.5h-4zM388 388h4v4.5h-4zM540 388h4v4.5h-4zM528 392h4v4.5h-4zM272 396h4v4.5h-4zM288 396h4v4.5h-4zM276 400h4v4.5h-4zM384 400h4v4.5h-4zM524 400h4v4.5h-4zM272 404h4v4.5h-4zM524 404h4v4.5h-4zM264 408h8v4.5h-8zM524 408h4v4.5h-4zM352 412h4v4.5h-4zM428 412h4v4.5h-4zM464 412h4v4.5h-4zM352 416h4v4.5h-4zM376 416h4v4.5h-4zM412 416h4v4.5h-4zM472 416h4v4.5h-4zM520 416h4v4.5h-4zM200 420h4v4.5h-4zM376 420h4v4.5h-4zM404 420h4v4.5h-4zM472 420h4v4.5h-4zM520 420h4v4.5h-4zM192 424h4v4.5h-4zM208 424h4v4.5h-4zM356 424h8v4.5h-8zM368 424h8v4.5h-8zM396 424h4v4.5h-4zM468 424h4v4.5h-4zM520 424h4v4.5h-4zM212 428h4v4.5h-4zM360 428h12v4.5h-12zM388 428h4v4.5h-4zM520 428h4v4.5h-4zM212 432h4v4.5h-4zM384 432h4v4.5h-4zM452 432h4v4.5h-4zM520 432h4v4.5h-4zM216 436h4v4.5h-4zM376 436h8v4.5h-8zM444 436h4v4.5h-4zM516 436h8v4.5h-8zM176 440h4v4.5h-4zM216 440h4v4.5h-4zM368 440h8v4.5h-8zM436 440h4v4.5h-4zM516 440h8v4.5h-8zM216 444h4v4.5h-4zM364 444h8v4.5h-8zM428 444h4v4.5h-4zM520 444h4v4.5h-4zM216 448h4v4.5h-4zM360 448h4v4.5h-4zM424 448h4v4.5h-4zM520 448h4v4.5h-4zM168 452h4v4.5h-4zM216 452h4v4.5h-4zM228 452h12v4.5h-12zM356 452h4v4.5h-4zM420 452h4v4.5h-4zM520 452h8v4.5h-8zM216 456h4v4.5h-4zM228 456h4v4.5h-4zM240 456h4v4.5h-4zM352 456h4v4.5h-4zM524 456h8v4.5h-8zM224 460h4v4.5h-4zM348 460h4v4.5h-4zM528 460h8v4.5h-8zM212 464h4v4.5h-4zM224 464h4v4.5h-4zM244 464h4v4.5h-4zM344 464h4v4.5h-4zM404 464h4v4.5h-4zM536 464h8v4.5h-8zM212 468h4v4.5h-4zM224 468h4v4.5h-4zM400 468h4v4.5h-4zM548 468h4v4.5h-4zM156 472h4v4.5h-4zM224 472h4v4.5h-4zM564 472h4v4.5h-4zM208 476h4v4.5h-4zM224 476h4v4.5h-4zM584 476h4v4.5h-4zM208 480h4v4.5h-4zM248 480h4v4.5h-4zM328 480h4v4.5h-4zM604 480h4v4.5h-4zM248 484h4v4.5h-4zM324 484h4v4.5h-4zM624 484h4v4.5h-4zM248 488h4v4.5h-4zM652 488h4v4.5h-4zM144 492h4v4.5h-4zM204 492h4v4.5h-4zM224 492h4v4.5h-4zM248 492h4v4.5h-4zM320 492h4v4.5h-4zM204 496h4v4.5h-4zM224 496h4v4.5h-4zM248 496h4v4.5h-4zM708 496h4v4.5h-4zM224 500h4v4.5h-4zM248 500h4v4.5h-4zM316 500h4v4.5h-4zM712 500h4v4.5h-4zM136 504h4v4.5h-4zM224 504h4v4.5h-4zM316 504h4v4.5h-4zM200 512h4v4.5h-4zM200 516h4v4.5h-4zM580 516h20v4.5h-20zM632 516h20v4.5h-20zM712 516h4v4.5h-4zM200 520h4v4.5h-4zM228 520h4v4.5h-4zM244 520h4v4.5h-4zM312 520h4v4.5h-4zM408 520h28v4.5h-28zM568 520h8v4.5h-8zM684 520h24v4.5h-24zM200 524h4v4.5h-4zM228 524h4v4.5h-4zM312 524h4v4.5h-4zM400 524h4v4.5h-4zM444 524h4v4.5h-4zM560 524h8v4.5h-8zM200 528h4v4.5h-4zM228 528h4v4.5h-4zM248 528h4v4.5h-4zM392 528h4v4.5h-4zM448 528h4v4.5h-4zM552 528h4v4.5h-4zM228 532h4v4.5h-4zM256 532h8v4.5h-8zM340 532h4v4.5h-4zM388 532h4v4.5h-4zM544 532h4v4.5h-4zM228 536h4v4.5h-4zM264 536h4v4.5h-4zM316 536h4v4.5h-4zM336 536h4v4.5h-4zM388 536h4v4.5h-4zM456 536h4v4.5h-4zM540 536h4v4.5h-4zM228 540h4v4.5h-4zM332 540h4v4.5h-4zM460 540h4v4.5h-4zM536 540h4v4.5h-4zM180 544h4v4.5h-4zM604 544h24v4.5h-24zM672 544h20v4.5h-20zM612 548h72v4.5h-72z"/>
<path fill="#00f6ff" d="M556 124h4v4.5h-4zM552 128h4v4.5h-4zM556 140h4v4.5h-4zM548 148h4v4.5h-4zM396 268h4v4.5h-4zM392 272h12v4.5h-12zM400 276h4v4.5h-4zM388 280h4v4.5h-4zM400 280h4v4.5h-4zM384 288h4v4.5h-4zM380 296h4v4.5h-4zM560 296h28v4.5h-28zM552 300h12v4.5h-12zM572 300h12v4.5h-12zM544 304h8v4.5h-8zM568 304h12v4.5h-12zM536 308h8v4.5h-8zM560 308h12v4.5h-12zM400 312h4v4.5h-4zM528 312h32v4.5h-32zM372 316h4v4.5h-4zM400 316h4v4.5h-4zM524 316h20v4.5h-20zM368 324h4v4.5h-4zM364 336h4v4.5h-4zM704 336h8v4.5h-8zM400 340h4v4.5h-4zM700 340h16v4.5h-16zM700 344h4v4.5h-4zM712 344h4v4.5h-4zM700 348h4v4.5h-4zM712 348h4v4.5h-4zM360 352h4v4.5h-4zM696 352h4v4.5h-4zM716 352h4v4.5h-4zM360 356h4v4.5h-4zM696 356h4v4.5h-4zM392 360h4v4.5h-4zM692 360h4v4.5h-4zM720 360h4v4.5h-4zM688 364h4v4.5h-4zM724 364h4v4.5h-4zM684 368h4v4.5h-4zM388 372h4v4.5h-4zM676 372h4v4.5h-4zM648 376h8v4.5h-8zM608 380h8v4.5h-8zM356 384h4v4.5h-4zM580 384h4v4.5h-4zM356 388h4v4.5h-4zM384 388h4v4.5h-4zM552 388h4v4.5h-4zM280 392h8v4.5h-8zM356 392h4v4.5h-4zM540 392h4v4.5h-4zM356 396h4v4.5h-4zM380 396h4v4.5h-4zM356 400h4v4.5h-4zM356 404h4v4.5h-4zM376 404h4v4.5h-4zM532 408h4v4.5h-4zM360 412h4v4.5h-4zM368 412h4v4.5h-4zM532 412h4v4.5h-4zM424 416h4v4.5h-4zM456 416h4v4.5h-4zM532 416h4v4.5h-4zM460 420h4v4.5h-4zM532 420h4v4.5h-4zM456 424h4v4.5h-4zM532 424h4v4.5h-4zM532 428h4v4.5h-4zM192 432h8v4.5h-8zM532 432h4v4.5h-4zM188 436h4v4.5h-4zM200 436h8v4.5h-8zM396 436h4v4.5h-4zM432 436h4v4.5h-4zM532 436h4v4.5h-4zM204 440h4v4.5h-4zM392 440h4v4.5h-4zM424 440h4v4.5h-4zM532 440h4v4.5h-4zM384 444h4v4.5h-4zM416 444h4v4.5h-4zM536 444h4v4.5h-4zM176 448h4v4.5h-4zM376 448h4v4.5h-4zM412 448h4v4.5h-4zM536 448h4v4.5h-4zM172 452h4v4.5h-4zM372 452h4v4.5h-4zM408 452h4v4.5h-4zM540 452h4v4.5h-4zM364 456h4v4.5h-4zM544 456h4v4.5h-4zM168 460h4v4.5h-4zM204 460h4v4.5h-4zM360 460h4v4.5h-4zM548 460h4v4.5h-4zM204 464h4v4.5h-4zM556 464h4v4.5h-4zM236 468h4v4.5h-4zM348 468h4v4.5h-4zM568 468h4v4.5h-4zM160 472h4v4.5h-4zM232 472h4v4.5h-4zM344 472h4v4.5h-4zM388 472h4v4.5h-4zM580 472h4v4.5h-4zM200 476h4v4.5h-4zM240 476h4v4.5h-4zM340 476h4v4.5h-4zM384 476h4v4.5h-4zM200 480h4v4.5h-4zM336 480h4v4.5h-4zM380 480h4v4.5h-4zM616 480h4v4.5h-4zM152 484h4v4.5h-4zM332 484h4v4.5h-4zM376 484h4v4.5h-4zM644 484h4v4.5h-4zM372 488h4v4.5h-4zM708 488h4v4.5h-4zM196 492h4v4.5h-4zM328 492h4v4.5h-4zM368 492h4v4.5h-4zM712 492h4v4.5h-4zM144 496h4v4.5h-4zM196 496h4v4.5h-4zM364 496h4v4.5h-4zM324 500h4v4.5h-4zM360 500h4v4.5h-4zM240 504h4v4.5h-4zM356 504h4v4.5h-4zM720 504h4v4.5h-4zM136 508h4v4.5h-4zM232 508h4v4.5h-4zM240 508h4v4.5h-4zM352 508h4v4.5h-4zM232 512h8v4.5h-8zM320 512h4v4.5h-4zM348 512h4v4.5h-4zM236 516h4v4.5h-4zM320 516h4v4.5h-4zM128 520h4v4.5h-4zM320 520h4v4.5h-4zM720 520h4v4.5h-4zM320 524h4v4.5h-4zM596 524h12v4.5h-12zM672 524h16v4.5h-16zM712 524h4v4.5h-4zM320 528h4v4.5h-4zM336 528h4v4.5h-4zM412 528h8v4.5h-8zM428 528h8v4.5h-8zM580 528h8v4.5h-8zM324 532h8v4.5h-8zM404 532h4v4.5h-4zM440 532h4v4.5h-4zM568 532h4v4.5h-4zM192 536h4v4.5h-4zM240 536h8v4.5h-8zM400 536h4v4.5h-4zM444 536h4v4.5h-4zM560 536h4v4.5h-4zM192 540h4v4.5h-4zM240 540h12v4.5h-12zM396 540h4v4.5h-4zM448 540h4v4.5h-4zM552 540h4v4.5h-4zM172 544h4v4.5h-4z"/>
<path fill="#1affe5" d="M552 136h4v4.5h-4zM552 140h4v4.5h-4zM392 284h8v4.5h-8zM388 288h4v4.5h-4zM396 288h4v4.5h-4zM396 292h4v4.5h-4zM384 296h4v4.5h-4zM380 304h4v4.5h-4zM376 312h4v4.5h-4zM372 320h4v4.5h-4zM364 344h4v4.5h-4zM396 344h4v4.5h-4zM392 352h4v4.5h-4zM704 352h8v4.5h-8zM700 356h16v4.5h-16zM716 360h4v4.5h-4zM388 364h4v4.5h-4zM720 364h4v4.5h-4zM688 368h4v4.5h-4zM724 368h4v4.5h-4zM360 372h4v4.5h-4zM680 372h4v4.5h-4zM360 376h4v4.5h-4zM664 376h8v4.5h-8zM384 380h4v4.5h-4zM624 380h8v4.5h-8zM588 384h4v4.5h-4zM560 388h4v4.5h-4zM380 392h4v4.5h-4zM544 392h4v4.5h-4zM540 396h4v4.5h-4zM376 400h4v4.5h-4zM360 404h4v4.5h-4zM372 404h4v4.5h-4zM364 408h8v4.5h-8zM436 416h16v4.5h-16zM536 416h4v4.5h-4zM420 420h4v4.5h-4zM536 420h4v4.5h-4zM412 424h4v4.5h-4zM452 424h4v4.5h-4zM536 424h4v4.5h-4zM408 428h4v4.5h-4zM444 428h4v4.5h-4zM404 432h4v4.5h-4zM436 432h4v4.5h-4zM404 436h4v4.5h-4zM424 436h4v4.5h-4zM540 436h4v4.5h-4zM188 440h12v4.5h-12zM400 440h20v4.5h-20zM540 440h4v4.5h-4zM184 444h4v4.5h-4zM200 444h4v4.5h-4zM396 444h16v4.5h-16zM180 448h4v4.5h-4zM200 448h4v4.5h-4zM388 448h20v4.5h-20zM544 448h4v4.5h-4zM176 452h4v4.5h-4zM200 452h4v4.5h-4zM380 452h4v4.5h-4zM396 452h8v4.5h-8zM548 452h4v4.5h-4zM200 456h4v4.5h-4zM372 456h4v4.5h-4zM396 456h4v4.5h-4zM552 456h4v4.5h-4zM200 460h4v4.5h-4zM364 460h4v4.5h-4zM392 460h4v4.5h-4zM556 460h4v4.5h-4zM168 464h4v4.5h-4zM200 464h4v4.5h-4zM360 464h4v4.5h-4zM388 464h4v4.5h-4zM564 464h4v4.5h-4zM384 468h4v4.5h-4zM576 468h4v4.5h-4zM348 472h4v4.5h-4zM588 472h4v4.5h-4zM160 476h4v4.5h-4zM196 476h4v4.5h-4zM344 476h4v4.5h-4zM604 476h4v4.5h-4zM196 480h4v4.5h-4zM236 480h4v4.5h-4zM340 480h4v4.5h-4zM624 480h8v4.5h-8zM232 484h8v4.5h-8zM336 484h4v4.5h-4zM660 484h20v4.5h-20zM704 484h4v4.5h-4zM152 488h4v4.5h-4zM232 488h4v4.5h-4zM368 488h4v4.5h-4zM712 488h4v4.5h-4zM232 492h4v4.5h-4zM364 492h4v4.5h-4zM192 496h4v4.5h-4zM232 496h4v4.5h-4zM328 496h4v4.5h-4zM360 496h4v4.5h-4zM192 500h4v4.5h-4zM232 500h8v4.5h-8zM356 500h4v4.5h-4zM720 500h4v4.5h-4zM140 504h4v4.5h-4zM192 504h4v4.5h-4zM236 504h4v4.5h-4zM352 504h4v4.5h-4zM724 504h4v4.5h-4zM324 508h4v4.5h-4zM348 508h4v4.5h-4zM324 512h4v4.5h-4zM132 516h4v4.5h-4zM324 524h4v4.5h-4zM632 524h16v4.5h-16zM720 524h8v4.5h-8zM328 528h4v4.5h-4zM596 528h8v4.5h-8zM688 528h28v4.5h-28zM412 532h8v4.5h-8zM428 532h8v4.5h-8zM580 532h4v4.5h-4zM404 536h4v4.5h-4zM440 536h4v4.5h-4zM568 536h4v4.5h-4zM444 540h4v4.5h-4zM564 540h4v4.5h-4zM168 544h4v4.5h-4z"/>
<path fill="#4dffb2" d="M388 304h8v4.5h-8zM384 308h4v4.5h-4zM392 308h4v4.5h-4zM380 312h4v4.5h-4zM392 312h4v4.5h-4zM376 320h4v4.5h-4zM372 328h4v4.5h-4zM368 340h4v4.5h-4zM392 344h4v4.5h-4zM388 356h4v4.5h-4zM384 364h4v4.5h-4zM704 364h8v4.5h-8zM364 368h4v4.5h-4zM696 368h4v4.5h-4zM716 368h4v4.5h-4zM364 372h4v4.5h-4zM688 372h4v4.5h-4zM724 372h4v4.5h-4zM364 376h4v4.5h-4zM680 376h4v4.5h-4zM380 380h4v4.5h-4zM648 380h8v4.5h-8zM604 384h4v4.5h-4zM572 388h8v4.5h-8zM556 392h4v4.5h-4zM364 396h4v4.5h-4zM372 396h4v4.5h-4zM368 400h4v4.5h-4zM544 400h4v4.5h-4zM544 404h4v4.5h-4zM544 408h4v4.5h-4zM544 412h4v4.5h-4zM544 416h4v4.5h-4zM428 420h20v4.5h-20zM544 420h4v4.5h-4zM420 424h4v4.5h-4zM444 424h4v4.5h-4zM416 428h4v4.5h-4zM436 428h4v4.5h-4zM416 432h12v4.5h-12zM548 432h4v4.5h-4zM548 436h4v4.5h-4zM552 444h4v4.5h-4zM556 448h4v4.5h-4zM184 452h12v4.5h-12zM180 456h16v4.5h-16zM176 460h4v4.5h-4zM192 460h4v4.5h-4zM568 460h4v4.5h-4zM192 464h4v4.5h-4zM576 464h4v4.5h-4zM172 468h4v4.5h-4zM192 468h4v4.5h-4zM368 468h8v4.5h-8zM588 468h4v4.5h-4zM168 472h4v4.5h-4zM192 472h4v4.5h-4zM360 472h16v4.5h-16zM600 472h4v4.5h-4zM164 476h4v4.5h-4zM352 476h8v4.5h-8zM368 476h4v4.5h-4zM616 476h8v4.5h-8zM348 480h4v4.5h-4zM364 480h4v4.5h-4zM644 480h40v4.5h-40zM708 480h4v4.5h-4zM188 484h4v4.5h-4zM344 484h4v4.5h-4zM156 488h4v4.5h-4zM188 488h4v4.5h-4zM340 488h4v4.5h-4zM360 488h4v4.5h-4zM152 492h4v4.5h-4zM188 492h4v4.5h-4zM336 492h4v4.5h-4zM356 492h4v4.5h-4zM720 492h4v4.5h-4zM188 496h4v4.5h-4zM352 496h4v4.5h-4zM332 500h4v4.5h-4zM348 500h4v4.5h-4zM328 512h4v4.5h-4zM332 516h4v4.5h-4zM124 532h4v4.5h-4zM600 532h12v4.5h-12zM688 532h12v4.5h-12zM720 532h8v4.5h-8zM420 536h8v4.5h-8zM584 536h8v4.5h-8zM412 540h4v4.5h-4zM432 540h4v4.5h-4zM576 540h4v4.5h-4zM140 544h4v4.5h-4zM160 544h4v4.5h-4zM140 548h4v4.5h-4zM160 548h4v4.5h-4z"/>
<path fill="#5effa2" d="M388 308h4v4.5h-4zM384 312h8v4.5h-8zM380 316h4v4.5h-4zM392 316h4v4.5h-4zM392 320h4v4.5h-4zM376 324h4v4.5h-4zM392 324h4v4.5h-4zM372 332h4v4.5h-4zM392 340h4v4.5h-4zM368 344h4v4.5h-4zM368 348h4v4.5h-4zM388 352h4v4.5h-4zM384 360h4v4.5h-4zM700 368h4v4.5h-4zM712 368h4v4.5h-4zM380 372h4v4.5h-4zM692 372h4v4.5h-4zM380 376h4v4.5h-4zM364 380h4v4.5h-4zM656 380h8v4.5h-8zM364 384h4v4.5h-4zM376 384h4v4.5h-4zM608 384h8v4.5h-8zM364 388h4v4.5h-4zM376 388h4v4.5h-4zM580 388h4v4.5h-4zM364 392h4v4.5h-4zM372 392h4v4.5h-4zM368 396h4v4.5h-4zM548 396h4v4.5h-4zM548 400h4v4.5h-4zM548 404h4v4.5h-4zM548 408h4v4.5h-4zM548 412h4v4.5h-4zM548 416h4v4.5h-4zM548 420h4v4.5h-4zM424 424h4v4.5h-4zM436 424h8v4.5h-8zM548 424h4v4.5h-4zM420 428h16v4.5h-16zM548 428h4v4.5h-4zM552 436h4v4.5h-4zM552 440h4v4.5h-4zM556 444h4v4.5h-4zM560 452h4v4.5h-4zM564 456h4v4.5h-4zM180 460h12v4.5h-12zM572 460h4v4.5h-4zM176 464h16v4.5h-16zM580 464h4v4.5h-4zM176 468h4v4.5h-4zM188 468h4v4.5h-4zM592 468h4v4.5h-4zM172 472h4v4.5h-4zM188 472h4v4.5h-4zM604 472h4v4.5h-4zM168 476h4v4.5h-4zM188 476h4v4.5h-4zM360 476h8v4.5h-8zM624 476h4v4.5h-4zM692 476h12v4.5h-12zM164 480h4v4.5h-4zM188 480h4v4.5h-4zM352 480h12v4.5h-12zM712 480h4v4.5h-4zM160 484h4v4.5h-4zM348 484h4v4.5h-4zM356 484h8v4.5h-8zM716 484h4v4.5h-4zM344 488h4v4.5h-4zM356 488h4v4.5h-4zM340 492h4v4.5h-4zM352 492h4v4.5h-4zM336 496h4v4.5h-4zM348 496h4v4.5h-4zM724 496h4v4.5h-4zM336 500h4v4.5h-4zM332 504h4v4.5h-4zM344 504h4v4.5h-4zM140 508h4v4.5h-4zM332 508h12v4.5h-12zM332 512h8v4.5h-8zM612 532h12v4.5h-12zM676 532h12v4.5h-12zM592 536h8v4.5h-8zM704 536h24v4.5h-24zM416 540h16v4.5h-16zM580 540h8v4.5h-8zM724 540h4v4.5h-4zM144 544h8v4.5h-8zM156 544h4v4.5h-4zM144 548h16v4.5h-16z"/>
<path fill="#6eff90" d="M384 316h8v4.5h-8zM380 320h4v4.5h-4zM392 328h4v4.5h-4zM392 332h4v4.5h-4zM372 336h4v4.5h-4zM392 336h4v4.5h-4zM388 348h4v4.5h-4zM368 352h4v4.5h-4zM368 356h4v4.5h-4zM368 360h4v4.5h-4zM368 364h4v4.5h-4zM368 368h4v4.5h-4zM380 368h4v4.5h-4zM704 368h8v4.5h-8zM368 372h4v4.5h-4zM720 372h4v4.5h-4zM684 376h4v4.5h-4zM376 380h4v4.5h-4zM664 380h8v4.5h-8zM368 384h4v4.5h-4zM616 384h8v4.5h-8zM368 388h8v4.5h-8zM584 388h4v4.5h-4zM368 392h4v4.5h-4zM560 392h4v4.5h-4zM552 396h4v4.5h-4zM428 424h8v4.5h-8zM552 424h4v4.5h-4zM552 428h4v4.5h-4zM552 432h4v4.5h-4zM556 436h4v4.5h-4zM556 440h4v4.5h-4zM560 444h4v4.5h-4zM560 448h4v4.5h-4zM564 452h4v4.5h-4zM568 456h4v4.5h-4zM576 460h4v4.5h-4zM584 464h4v4.5h-4zM180 468h8v4.5h-8zM596 468h4v4.5h-4zM176 472h12v4.5h-12zM608 472h4v4.5h-4zM172 476h4v4.5h-4zM184 476h4v4.5h-4zM628 476h8v4.5h-8zM680 476h12v4.5h-12zM704 476h4v4.5h-4zM168 480h4v4.5h-4zM184 480h4v4.5h-4zM164 484h4v4.5h-4zM184 484h4v4.5h-4zM352 484h4v4.5h-4zM160 488h4v4.5h-4zM184 488h4v4.5h-4zM348 488h8v4.5h-8zM720 488h4v4.5h-4zM156 492h4v4.5h-4zM184 492h4v4.5h-4zM344 492h8v4.5h-8zM724 492h4v4.5h-4zM152 496h4v4.5h-4zM184 496h4v4.5h-4zM340 496h8v4.5h-8zM148 500h4v4.5h-4zM184 500h4v4.5h-4zM340 500h8v4.5h-8zM144 504h4v4.5h-4zM184 504h4v4.5h-4zM336 504h8v4.5h-8zM184 508h4v4.5h-4zM184 512h4v4.5h-4zM184 516h4v4.5h-4zM132 520h4v4.5h-4zM184 520h4v4.5h-4zM184 524h4v4.5h-4zM184 528h4v4.5h-4zM184 532h4v4.5h-4zM624 532h52v4.5h-52zM184 536h4v4.5h-4zM600 536h8v4.5h-8zM692 536h12v4.5h-12zM184 540h4v4.5h-4zM588 540h4v4.5h-4zM708 540h16v4.5h-16zM152 544h4v4.5h-4z"/>
<path fill="#80ff80" d="M384 320h8v4.5h-8zM380 324h4v4.5h-4zM388 324h4v4.5h-4zM376 328h4v4.5h-4zM372 340h4v4.5h-4zM388 344h4v4.5h-4zM384 356h4v4.5h-4zM380 364h4v4.5h-4zM376 372h4v4.5h-4zM696 372h4v4.5h-4zM716 372h4v4.5h-4zM368 376h12v4.5h-12zM688 376h4v4.5h-4zM368 380h8v4.5h-8zM672 380h4v4.5h-4zM372 384h4v4.5h-4zM624 384h8v4.5h-8zM588 388h4v4.5h-4zM564 392h4v4.5h-4zM556 396h4v4.5h-4zM552 400h4v4.5h-4zM552 404h4v4.5h-4zM552 408h4v4.5h-4zM552 412h4v4.5h-4zM552 416h4v4.5h-4zM552 420h4v4.5h-4zM556 428h4v4.5h-4zM556 432h4v4.5h-4zM560 440h4v4.5h-4zM564 448h4v4.5h-4zM568 452h4v4.5h-4zM572 456h4v4.5h-4zM580 460h4v4.5h-4zM588 464h4v4.5h-4zM600 468h4v4.5h-4zM612 472h8v4.5h-8zM176 476h8v4.5h-8zM636 476h12v4.5h-12zM664 476h16v4.5h-16zM708 476h4v4.5h-4zM172 480h12v4.5h-12zM716 480h4v4.5h-4zM180 484h4v4.5h-4zM720 484h4v4.5h-4zM180 488h4v4.5h-4zM136 516h4v4.5h-4zM128 528h4v4.5h-4zM124 536h4v4.5h-4zM608 536h8v4.5h-8zM684 536h8v4.5h-8zM592 540h8v4.5h-8zM700 540h8v4.5h-8z"/>
<path fill="#91ff6e" d="M384 324h4v4.5h-4zM380 328h4v4.5h-4zM388 328h4v4.5h-4zM376 332h4v4.5h-4zM388 332h4v4.5h-4zM388 336h4v4.5h-4zM388 340h4v4.5h-4zM372 344h4v4.5h-4zM372 348h4v4.5h-4zM372 352h4v4.5h-4zM384 352h4v4.5h-4zM372 356h4v4.5h-4zM372 360h4v4.5h-4zM380 360h4v4.5h-4zM372 364h8v4.5h-8zM372 368h8v4.5h-8zM372 372h4v4.5h-4zM700 372h16v4.5h-16zM724 376h4v4.5h-4zM676 380h4v4.5h-4zM632 384h8v4.5h-8zM592 388h4v4.5h-4zM568 392h4v4.5h-4zM556 416h4v4.5h-4zM556 420h4v4.5h-4zM556 424h4v4.5h-4zM560 432h4v4.5h-4zM560 436h4v4.5h-4zM564 444h4v4.5h-4zM568 448h4v4.5h-4zM572 452h4v4.5h-4zM576 456h4v4.5h-4zM584 460h4v4.5h-4zM592 464h4v4.5h-4zM604 468h4v4.5h-4zM620 472h4v4.5h-4zM692 472h12v4.5h-12zM648 476h16v4.5h-16zM712 476h4v4.5h-4zM168 484h12v4.5h-12zM164 488h4v4.5h-4zM176 488h4v4.5h-4zM724 488h4v4.5h-4zM160 492h4v4.5h-4zM180 492h4v4.5h-4zM156 496h4v4.5h-4zM180 496h4v4.5h-4zM180 500h4v4.5h-4zM180 504h4v4.5h-4zM140 512h4v4.5h-4zM616 536h20v4.5h-20zM668 536h16v4.5h-16zM600 540h8v4.5h-8zM692 540h8v4.5h-8z"/>
<path fill="#a2ff5e" d="M384 328h4v4.5h-4zM380 332h4v4.5h-4zM376 336h4v4.5h-4zM384 348h4v4.5h-4zM380 352h4v4.5h-4zM376 356h8v4.5h-8zM376 360h4v4.5h-4zM692 376h4v4.5h-4zM720 376h4v4.5h-4zM680 380h4v4.5h-4zM640 384h12v4.5h-12zM596 388h8v4.5h-8zM572 392h4v4.5h-4zM560 396h4v4.5h-4zM556 400h4v4.5h-4zM556 404h4v4.5h-4zM556 408h4v4.5h-4zM556 412h4v4.5h-4zM560 424h4v4.5h-4zM560 428h4v4.5h-4zM564 436h4v4.5h-4zM564 440h4v4.5h-4zM568 444h4v4.5h-4zM572 448h4v4.5h-4zM576 452h4v4.5h-4zM580 456h4v4.5h-4zM588 460h4v4.5h-4zM596 464h4v4.5h-4zM608 468h4v4.5h-4zM624 472h8v4.5h-8zM680 472h12v4.5h-12zM704 472h8v4.5h-8zM716 476h4v4.5h-4zM720 480h4v4.5h-4zM724 484h4v4.5h-4zM168 488h8v4.5h-8zM164 492h4v4.5h-4zM176 492h4v4.5h-4zM176 496h4v4.5h-4zM152 500h4v4.5h-4zM148 504h4v4.5h-4zM144 508h4v4.5h-4zM180 508h4v4.5h-4zM180 512h4v4.5h-4zM180 516h4v4.5h-4zM636 536h32v4.5h-32zM124 540h4v4.5h-4zM608 540h12v4.5h-12zM680 540h12v4.5h-12z"/>
<path fill="#b3ff4c" d="M384 332h4v4.5h-4zM380 336h8v4.5h-8zM376 340h4v4.5h-4zM384 340h4v4.5h-4zM376 344h12v4.5h-12zM376 348h8v4.5h-8zM376 352h4v4.5h-4zM696 376h4v4.5h-4zM716 376h4v4.5h-4zM684 380h4v4.5h-4zM652 384h12v4.5h-12zM604 388h4v4.5h-4zM576 392h4v4.5h-4zM564 396h4v4.5h-4zM560 400h4v4.5h-4zM560 404h4v4.5h-4zM560 408h4v4.5h-4zM560 412h4v4.5h-4zM560 416h4v4.5h-4zM560 420h4v4.5h-4zM564 428h4v4.5h-4zM564 432h4v4.5h-4zM568 440h4v4.5h-4zM572 444h4v4.5h-4zM576 448h4v4.5h-4zM580 452h4v4.5h-4zM584 456h4v4.5h-4zM592 460h4v4.5h-4zM600 464h4v4.5h-4zM612 468h8v4.5h-8zM632 472h16v4.5h-16zM664 472h16v4.5h-16zM712 472h4v4.5h-4zM724 480h4v4.5h-4zM168 492h8v4.5h-8zM160 496h4v4.5h-4zM172 496h4v4.5h-4zM176 500h4v4.5h-4zM176 504h4v4.5h-4zM180 520h4v4.5h-4zM132 524h4v4.5h-4zM180 524h4v4.5h-4zM180 528h4v4.5h-4zM128 532h4v4.5h-4zM180 532h4v4.5h-4zM180 536h4v4.5h-4zM180 540h4v4.5h-4zM620 540h24v4.5h-24zM660 540h20v4.5h-20z"/>
<path fill="#c3ff3c" d="M380 340h4v4.5h-4zM700 376h16v4.5h-16zM688 380h4v4.5h-4zM664 384h8v4.5h-8zM608 388h8v4.5h-8zM580 392h4v4.5h-4zM568 396h4v4.5h-4zM564 420h4v4.5h-4zM564 424h4v4.5h-4zM568 432h4v4.5h-4zM568 436h4v4.5h-4zM572 440h4v4.5h-4zM588 456h4v4.5h-4zM596 460h4v4.5h-4zM604 464h4v4.5h-4zM620 468h4v4.5h-4zM696 468h8v4.5h-8zM648 472h16v4.5h-16zM716 472h4v4.5h-4zM720 476h4v4.5h-4zM164 496h8v4.5h-8zM156 500h4v4.5h-4zM172 500h4v4.5h-4zM152 504h4v4.5h-4zM176 508h4v4.5h-4zM136 520h4v4.5h-4zM644 540h16v4.5h-16z"/>
<path fill="#0044ff" d="M492 356h36v4.5h-36zM480 360h20v4.5h-20zM512 360h24v4.5h-24zM476 364h12v4.5h-12zM524 364h16v4.5h-16zM472 368h12v4.5h-12zM528 368h12v4.5h-12zM476 372h8v4.5h-8zM532 372h12v4.5h-12zM480 376h8v4.5h-8zM532 376h8v4.5h-8zM484 380h12v4.5h-12zM516 380h12v4.5h-12zM496 384h4v4.5h-4zM556 484h28v4.5h-28zM552 488h8v4.5h-8zM604 488h4v4.5h-4zM560 492h8v4.5h-8zM628 492h4v4.5h-4zM572 496h8v4.5h-8zM644 496h8v4.5h-8zM596 500h12v4.5h-12zM660 500h8v4.5h-8zM636 504h40v4.5h-40zM204 544h8v4.5h-8zM220 544h8v4.5h-8zM276 544h8v4.5h-8zM308 544h8v4.5h-8zM336 544h4v4.5h-4zM372 544h8v4.5h-8zM472 544h8v4.5h-8zM508 544h12v4.5h-12zM204 548h8v4.5h-8zM224 548h4v4.5h-4zM272 548h8v4.5h-8zM312 548h8v4.5h-8zM328 548h8v4.5h-8zM372 548h8v4.5h-8zM472 548h8v4.5h-8zM512 548h12v4.5h-12z"/>
<path fill="#0042ff" d="M500 360h12v4.5h-12zM488 364h36v4.5h-36zM484 368h12v4.5h-12zM516 368h12v4.5h-12zM484 372h8v4.5h-8zM520 372h12v4.5h-12zM488 376h8v4.5h-8zM520 376h12v4.5h-12zM496 380h20v4.5h-20zM560 488h8v4.5h-8zM596 488h8v4.5h-8zM568 492h4v4.5h-4zM620 492h8v4.5h-8zM580 496h8v4.5h-8zM636 496h8v4.5h-8zM608 500h12v4.5h-12zM648 500h12v4.5h-12zM212 544h8v4.5h-8zM284 544h24v4.5h-24zM340 544h32v4.5h-32zM480 544h28v4.5h-28zM108 548h4v4.5h-4zM212 548h12v4.5h-12zM280 548h32v4.5h-32zM336 548h12v4.5h-12zM360 548h12v4.5h-12zM480 548h32v4.5h-32z"/>
<path fill="#0040ff" d="M496 368h20v4.5h-20zM492 372h28v4.5h-28zM496 376h24v4.5h-24zM568 488h28v4.5h-28zM572 492h48v4.5h-48zM588 496h48v4.5h-48zM620 500h28v4.5h-28zM108 544h4v4.5h-4zM104 548h4v4.5h-4zM348 548h12v4.5h-12z"/>
<path fill="#d5ff2a" d="M692 380h4v4.5h-4zM724 380h4v4.5h-4zM672 384h4v4.5h-4zM616 388h4v4.5h-4zM584 392h4v4.5h-4zM564 400h4v4.5h-4zM564 404h4v4.5h-4zM564 408h4v4.5h-4zM564 412h4v4.5h-4zM564 416h4v4.5h-4zM568 424h4v4.5h-4zM568 428h4v4.5h-4zM572 436h4v4.5h-4zM576 440h4v4.5h-4zM576 444h4v4.5h-4zM580 448h4v4.5h-4zM584 452h4v4.5h-4zM592 456h4v4.5h-4zM600 460h4v4.5h-4zM608 464h8v4.5h-8zM624 468h12v4.5h-12zM680 468h16v4.5h-16zM704 468h8v4.5h-8zM724 476h4v4.5h-4zM160 500h12v4.5h-12zM172 504h4v4.5h-4zM148 508h4v4.5h-4zM144 512h4v4.5h-4zM176 512h4v4.5h-4zM140 516h4v4.5h-4zM176 516h4v4.5h-4z"/>
<path fill="#f7ff08" d="M696 380h8v4.5h-8zM712 380h8v4.5h-8zM680 384h4v4.5h-4zM628 388h12v4.5h-12zM592 392h8v4.5h-8zM576 396h4v4.5h-4zM572 400h4v4.5h-4zM572 420h4v4.5h-4zM572 424h4v4.5h-4zM576 432h4v4.5h-4zM580 440h4v4.5h-4zM584 444h4v4.5h-4zM588 448h4v4.5h-4zM592 452h4v4.5h-4zM600 456h4v4.5h-4zM608 460h4v4.5h-4zM620 464h8v4.5h-8zM716 468h4v4.5h-4zM724 472h4v4.5h-4zM160 504h8v4.5h-8zM152 508h4v4.5h-4zM172 512h4v4.5h-4zM136 524h4v4.5h-4zM176 528h4v4.5h-4zM176 532h4v4.5h-4zM176 536h4v4.5h-4zM128 540h4v4.5h-4zM176 540h4v4.5h-4z"/>
<path fill="#fff700" d="M704 380h8v4.5h-8zM684 384h4v4.5h-4zM640 388h12v4.5h-12zM600 392h4v4.5h-4zM580 396h4v4.5h-4zM572 404h4v4.5h-4zM572 408h4v4.5h-4zM572 412h4v4.5h-4zM572 416h4v4.5h-4zM576 424h4v4.5h-4zM576 428h4v4.5h-4zM580 432h4v4.5h-4zM580 436h4v4.5h-4zM584 440h4v4.5h-4zM588 444h4v4.5h-4zM592 448h4v4.5h-4zM596 452h4v4.5h-4zM604 456h4v4.5h-4zM612 460h8v4.5h-8zM628 464h12v4.5h-12zM684 464h28v4.5h-28zM720 468h4v4.5h-4zM156 508h4v4.5h-4zM164 508h8v4.5h-8zM148 512h4v4.5h-4zM144 516h4v4.5h-4zM172 516h4v4.5h-4zM140 520h4v4.5h-4zM132 532h4v4.5h-4z"/>
<path fill="#e5ff1a" d="M720 380h4v4.5h-4zM676 384h4v4.5h-4zM620 388h8v4.5h-8zM588 392h4v4.5h-4zM572 396h4v4.5h-4zM568 400h4v4.5h-4zM568 404h4v4.5h-4zM568 408h4v4.5h-4zM568 412h4v4.5h-4zM568 416h4v4.5h-4zM568 420h4v4.5h-4zM572 428h4v4.5h-4zM572 432h4v4.5h-4zM576 436h4v4.5h-4zM580 444h4v4.5h-4zM584 448h4v4.5h-4zM588 452h4v4.5h-4zM596 456h4v4.5h-4zM604 460h4v4.5h-4zM616 464h4v4.5h-4zM636 468h44v4.5h-44zM712 468h4v4.5h-4zM720 472h4v4.5h-4zM156 504h4v4.5h-4zM168 504h4v4.5h-4zM172 508h4v4.5h-4zM176 520h4v4.5h-4zM176 524h4v4.5h-4zM132 528h4v4.5h-4zM128 536h4v4.5h-4z"/>
<path fill="#ffe500" d="M688 384h4v4.5h-4zM724 384h4v4.5h-4zM652 388h16v4.5h-16zM604 392h4v4.5h-4zM584 396h4v4.5h-4zM576 400h4v4.5h-4zM576 404h4v4.5h-4zM576 408h4v4.5h-4zM576 412h4v4.5h-4zM576 416h4v4.5h-4zM576 420h4v4.5h-4zM580 428h4v4.5h-4zM584 436h4v4.5h-4zM588 440h4v4.5h-4zM592 444h4v4.5h-4zM596 448h4v4.5h-4zM600 452h4v4.5h-4zM608 456h4v4.5h-4zM620 460h8v4.5h-8zM640 464h44v4.5h-44zM712 464h4v4.5h-4zM724 468h4v4.5h-4zM160 508h4v4.5h-4zM152 512h4v4.5h-4zM168 512h4v4.5h-4zM172 520h4v4.5h-4z"/>
<path fill="#ffd500" d="M692 384h8v4.5h-8zM720 384h4v4.5h-4zM668 388h8v4.5h-8zM608 392h8v4.5h-8zM588 396h4v4.5h-4zM580 400h4v4.5h-4zM580 420h4v4.5h-4zM580 424h4v4.5h-4zM584 432h4v4.5h-4zM588 436h4v4.5h-4zM600 448h4v4.5h-4zM604 452h4v4.5h-4zM612 456h8v4.5h-8zM628 460h8v4.5h-8zM716 464h8v4.5h-8zM156 512h4v4.5h-4zM164 512h4v4.5h-4zM148 516h4v4.5h-4zM168 516h4v4.5h-4zM172 524h4v4.5h-4zM136 528h4v4.5h-4zM172 528h4v4.5h-4zM132 536h4v4.5h-4z"/>
<path fill="#ffc300" d="M700 384h20v4.5h-20zM676 388h8v4.5h-8zM616 392h8v4.5h-8zM592 396h4v4.5h-4zM584 400h4v4.5h-4zM580 404h4v4.5h-4zM580 408h4v4.5h-4zM580 412h4v4.5h-4zM580 416h4v4.5h-4zM584 424h4v4.5h-4zM584 428h4v4.5h-4zM588 432h4v4.5h-4zM592 440h4v4.5h-4zM596 444h4v4.5h-4zM604 448h4v4.5h-4zM608 452h8v4.5h-8zM620 456h4v4.5h-4zM636 460h16v4.5h-16zM688 460h20v4.5h-20zM724 464h4v4.5h-4zM160 512h4v4.5h-4zM144 520h4v4.5h-4zM168 520h4v4.5h-4zM140 524h4v4.5h-4zM172 532h4v4.5h-4zM172 536h4v4.5h-4zM172 540h4v4.5h-4z"/>
<path fill="#ffb300" d="M684 388h4v4.5h-4zM624 392h8v4.5h-8zM596 396h4v4.5h-4zM588 400h4v4.5h-4zM584 404h4v4.5h-4zM584 408h4v4.5h-4zM584 412h4v4.5h-4zM584 416h4v4.5h-4zM584 420h4v4.5h-4zM588 428h4v4.5h-4zM592 436h4v4.5h-4zM596 440h4v4.5h-4zM600 444h4v4.5h-4zM608 448h4v4.5h-4zM616 452h4v4.5h-4zM624 456h8v4.5h-8zM652 460h36v4.5h-36zM708 460h8v4.5h-8zM152 516h4v4.5h-4zM164 516h4v4.5h-4zM168 524h4v4.5h-4zM136 532h4v4.5h-4zM132 540h4v4.5h-4z"/>
<path fill="#ffa200" d="M688 388h4v4.5h-4zM724 388h4v4.5h-4zM632 392h16v4.5h-16zM600 396h8v4.5h-8zM588 404h4v4.5h-4zM588 416h4v4.5h-4zM588 420h4v4.5h-4zM588 424h4v4.5h-4zM592 428h4v4.5h-4zM592 432h4v4.5h-4zM596 436h4v4.5h-4zM600 440h4v4.5h-4zM604 444h4v4.5h-4zM612 448h4v4.5h-4zM620 452h8v4.5h-8zM632 456h12v4.5h-12zM716 460h8v4.5h-8zM156 516h8v4.5h-8zM148 520h4v4.5h-4zM164 520h4v4.5h-4zM168 528h4v4.5h-4z"/>
<path fill="#ff9100" d="M692 388h8v4.5h-8zM716 388h8v4.5h-8zM648 392h20v4.5h-20zM608 396h4v4.5h-4zM592 400h4v4.5h-4zM588 408h4v4.5h-4zM588 412h4v4.5h-4zM592 420h4v4.5h-4zM592 424h4v4.5h-4zM596 432h4v4.5h-4zM600 436h4v4.5h-4zM604 440h4v4.5h-4zM608 444h4v4.5h-4zM616 448h4v4.5h-4zM628 452h4v4.5h-4zM644 456h20v4.5h-20zM696 456h4v4.5h-4zM724 460h4v4.5h-4zM152 520h4v4.5h-4zM160 520h4v4.5h-4zM144 524h4v4.5h-4zM140 528h4v4.5h-4zM168 532h4v4.5h-4zM136 536h4v4.5h-4zM168 536h4v4.5h-4zM168 540h4v4.5h-4z"/>
<path fill="#ff8000" d="M700 388h16v4.5h-16zM668 392h12v4.5h-12zM612 396h4v4.5h-4zM596 400h4v4.5h-4zM592 404h4v4.5h-4zM592 408h4v4.5h-4zM592 412h4v4.5h-4zM592 416h4v4.5h-4zM596 424h4v4.5h-4zM596 428h4v4.5h-4zM600 432h4v4.5h-4zM604 436h4v4.5h-4zM608 440h4v4.5h-4zM612 444h8v4.5h-8zM620 448h8v4.5h-8zM632 452h8v4.5h-8zM664 456h32v4.5h-32zM700 456h16v4.5h-16zM156 520h4v4.5h-4zM164 524h4v4.5h-4zM136 540h4v4.5h-4z"/>
<path fill="#ff6e00" d="M680 392h8v4.5h-8zM616 396h8v4.5h-8zM600 400h4v4.5h-4zM596 404h4v4.5h-4zM596 408h4v4.5h-4zM596 412h4v4.5h-4zM596 416h4v4.5h-4zM596 420h4v4.5h-4zM600 428h4v4.5h-4zM604 432h4v4.5h-4zM608 436h4v4.5h-4zM612 440h4v4.5h-4zM620 444h4v4.5h-4zM628 448h4v4.5h-4zM640 452h12v4.5h-12zM716 456h12v4.5h-12zM148 524h4v4.5h-4zM160 524h4v4.5h-4zM144 528h4v4.5h-4zM164 528h4v4.5h-4zM140 532h4v4.5h-4z"/>
<path fill="#ff5e00" d="M688 392h4v4.5h-4zM720 392h8v4.5h-8zM624 396h12v4.5h-12zM604 400h8v4.5h-8zM600 404h4v4.5h-4zM600 416h4v4.5h-4zM600 420h4v4.5h-4zM600 424h4v4.5h-4zM604 428h4v4.5h-4zM608 432h4v4.5h-4zM612 436h4v4.5h-4zM616 440h4v4.5h-4zM624 444h4v4.5h-4zM632 448h8v4.5h-8zM652 452h28v4.5h-28zM152 524h8v4.5h-8zM164 532h4v4.5h-4zM140 536h4v4.5h-4zM164 536h4v4.5h-4zM164 540h4v4.5h-4z"/>
<path fill="#ff4c00" d="M692 392h8v4.5h-8zM716 392h4v4.5h-4zM636 396h16v4.5h-16zM612 400h4v4.5h-4zM604 404h4v4.5h-4zM600 408h4v4.5h-4zM600 412h4v4.5h-4zM604 420h4v4.5h-4zM604 424h4v4.5h-4zM608 428h4v4.5h-4zM612 432h4v4.5h-4zM616 436h4v4.5h-4zM620 440h4v4.5h-4zM628 444h8v4.5h-8zM640 448h12v4.5h-12zM680 452h40v4.5h-40zM148 528h4v4.5h-4zM160 528h4v4.5h-4zM144 532h4v4.5h-4zM140 540h4v4.5h-4z"/>
<path fill="#ff3c00" d="M700 392h16v4.5h-16zM652 396h28v4.5h-28zM616 400h8v4.5h-8zM608 404h4v4.5h-4zM604 408h4v4.5h-4zM604 412h4v4.5h-4zM604 416h4v4.5h-4zM608 420h4v4.5h-4zM608 424h4v4.5h-4zM612 428h4v4.5h-4zM616 432h4v4.5h-4zM620 436h4v4.5h-4zM624 440h8v4.5h-8zM636 444h4v4.5h-4zM652 448h12v4.5h-12zM720 452h8v4.5h-8zM152 528h8v4.5h-8zM160 532h4v4.5h-4z"/>
<path fill="#ff2a00" d="M680 396h8v4.5h-8zM724 396h4v4.5h-4zM624 400h4v4.5h-4zM612 404h4v4.5h-4zM608 408h4v4.5h-4zM608 412h4v4.5h-4zM608 416h4v4.5h-4zM612 424h4v4.5h-4zM616 428h4v4.5h-4zM620 432h4v4.5h-4zM624 436h4v4.5h-4zM632 440h4v4.5h-4zM640 444h8v4.5h-8zM664 448h28v4.5h-28zM148 532h12v4.5h-12zM144 536h4v4.5h-4zM160 536h4v4.5h-4zM144 540h4v4.5h-4zM160 540h4v4.5h-4z"/>
<path fill="#ff1a00" d="M688 396h12v4.5h-12zM716 396h8v4.5h-8zM628 400h12v4.5h-12zM616 404h4v4.5h-4zM612 408h4v4.5h-4zM612 412h4v4.5h-4zM612 416h4v4.5h-4zM612 420h4v4.5h-4zM616 424h4v4.5h-4zM620 428h4v4.5h-4zM624 432h4v4.5h-4zM628 436h4v4.5h-4zM636 440h8v4.5h-8zM648 444h12v4.5h-12zM692 448h32v4.5h-32zM148 536h4v4.5h-4zM156 536h4v4.5h-4zM156 540h4v4.5h-4z"/>
<path fill="#ff0800" d="M700 396h16v4.5h-16zM640 400h28v4.5h-28zM620 404h8v4.5h-8zM616 408h8v4.5h-8zM616 412h4v4.5h-4zM616 416h4v4.5h-4zM616 420h8v4.5h-8zM620 424h4v4.5h-4zM624 428h4v4.5h-4zM628 432h4v4.5h-4zM632 436h8v4.5h-8zM644 440h8v4.5h-8zM660 444h16v4.5h-16zM724 448h4v4.5h-4zM152 536h4v4.5h-4zM148 540h8v4.5h-8z"/>
<path fill="#f70000" d="M668 400h20v4.5h-20zM724 400h4v4.5h-4zM628 404h8v4.5h-8zM624 408h4v4.5h-4zM620 412h4v4.5h-4zM620 416h4v4.5h-4zM624 420h4v4.5h-4zM624 424h4v4.5h-4zM628 428h4v4.5h-4zM632 432h8v4.5h-8zM640 436h8v4.5h-8zM652 440h8v4.5h-8zM676 444h32v4.5h-32z"/>
<path fill="#e50000" d="M688 400h12v4.5h-12zM716 400h8v4.5h-8zM636 404h12v4.5h-12zM628 408h4v4.5h-4zM624 412h8v4.5h-8zM624 416h8v4.5h-8zM628 420h4v4.5h-4zM628 424h8v4.5h-8zM632 428h8v4.5h-8zM640 432h4v4.5h-4zM648 436h8v4.5h-8zM660 440h16v4.5h-16zM708 444h20v4.5h-20z"/>
<path fill="#d50000" d="M700 400h16v4.5h-16zM648 404h32v4.5h-32zM632 408h12v4.5h-12zM632 412h4v4.5h-4zM632 416h4v4.5h-4zM632 420h4v4.5h-4zM636 424h4v4.5h-4zM640 428h4v4.5h-4zM644 432h8v4.5h-8zM656 436h12v4.5h-12zM676 440h20v4.5h-20z"/>
<path fill="#c30000" d="M680 404h20v4.5h-20zM716 404h12v4.5h-12zM644 408h12v4.5h-12zM636 412h8v4.5h-8zM636 416h8v4.5h-8zM636 420h8v4.5h-8zM640 424h8v4.5h-8zM644 428h8v4.5h-8zM652 432h12v4.5h-12zM668 436h12v4.5h-12zM696 440h32v4.5h-32z"/>
<path fill="#b30000" d="M700 404h16v4.5h-16zM656 408h28v4.5h-28zM724 408h4v4.5h-4zM644 412h16v4.5h-16zM644 416h12v4.5h-12zM644 420h8v4.5h-8zM648 424h8v4.5h-8zM652 428h12v4.5h-12zM664 432h12v4.5h-12zM680 436h24v4.5h-24z"/>
<path fill="#a20000" d="M684 408h40v4.5h-40zM660 412h24v4.5h-24zM724 412h4v4.5h-4zM656 416h16v4.5h-16zM652 420h16v4.5h-16zM656 424h16v4.5h-16zM664 428h16v4.5h-16zM676 432h20v4.5h-20zM704 436h24v4.5h-24z"/>
<path fill="#910000" d="M684 412h40v4.5h-40zM672 416h28v4.5h-28zM716 416h12v4.5h-12zM668 420h28v4.5h-28zM720 420h8v4.5h-8zM672 424h28v4.5h-28zM716 424h12v4.5h-12zM680 428h48v4.5h-48zM696 432h32v4.5h-32z"/>
<path fill="#800000" d="M700 416h16v4.5h-16zM696 420h24v4.5h-24zM700 424h16v4.5h-16z"/>
<path fill="#003dff" d="M100 544h8v4.5h-8zM100 548h4v4.5h-4z"/>
<path d="M153.25 53.0V548.0M235.6 53.0V548.0M318.0 53.0V548.0M400.4 53.0V548.0M482.75 53.0V548.0M565.1 53.0V548.0M647.5 53.0V548.0M73.0 72.0H726.0M73.0 167.75H726.0M73.0 263.5H726.0M73.0 359.25H726.0M73.0 455.0H726.0" fill="none" stroke="#c9a67a" stroke-width="1" stroke-dasharray="2 4.6"/>
</g>
<g clip-path="url(#frame)">
<path d="M108.7 546l1.6 -7.5m-1.7 1.7l1.7 -1.7l.9 2.2M116.8 546l4.5 -9.7m-2 1.3l2 -1.3l.3 2.4M124.9 546l7.7 -12.3m-2.2 1l2.2 -1l0 2.4M132.9 546l9 -14.3m-2.2 1l2.2 -1l0 2.4M141 546l7.8 -16.6m-2 1.3l2 -1.3l.3 2.4M149 546l8 -17.1m-2 1.3l2 -1.3l.3 2.4M157.1 546l6.5 -17.4m-1.9 1.4l1.9 -1.4l.5 2.3M165.2 546l5.2 -16.7m-1.8 1.5l1.8 -1.5l.6 2.3M173.2 546l3.6 -15.4m-1.7 1.7l1.7 -1.7l.8 2.3M181.3 546l2.4 -13.8m-1.6 1.8l1.6 -1.8l1 2.2M189.3 546l0 -12.3m-1.3 2l1.3 -2l1.3 2M197.4 546l-1.1 -10.8m-1.1 2.1l1.1 -2.1l1.5 1.9M205.5 546l-4.5 -9m-.3 2.4l.3 -2.4l2.1 1.2M213.5 546l-6.5 -7.4m.4 2.4l-.4 -2.4l2.3 .6M221.6 546l-7.3 -7.6m.6 3.1l-.6 -3.1l3.1 .7M229.6 546l-7.8 -9.7m.4 3.7l-.4 -3.7l3.6 1.2M237.7 546l-8.3 -12.1m.1 3.9l-.1 -3.9l3.6 1.5M245.8 546l-7 -13.9m-.4 3.9l.4 -3.9l3.4 2M253.8 546l-3 -15.1m-1.4 3.6l1.4 -3.6l2.7 2.8M261.9 546l-.9 -14.4m-1.9 3.4l1.9 -3.4l2.3 3.1M269.9 546l-.5 -13m-2 3.3l2 -3.3l2.2 3.2M278 546l-.4 -11.6m-1.8 3l1.8 -3l2 2.9M286.1 546l-.5 -10.6m-1.6 2.8l1.6 -2.8l1.9 2.6M294.1 546l-.7 -10m-1.5 2.6l1.5 -2.6l1.8 2.4M302.2 546l-1.1 -9.9m-1.3 2.7l1.3 -2.7l1.9 2.3M310.2 546l-2 -10.2m-1.1 2.9l1.1 -2.9l2.2 2.2M318.3 546l-6 -.2m2.2 1.5l-2.2 -1.5l2.3 -1.4M326.4 546l-4.4 10.6m2.8 -2l-2.8 2l-.6 -3.4M334.4 546l-3.5 10.2m2.5 -2l-2.5 2l-.8 -3.1M342.5 546l-3.3 9.1m2.3 -1.8l-2.3 1.8l-.7 -2.8M350.5 546l-3.2 8.6m2.2 -1.6l-2.2 1.6l-.6 -2.7M358.6 546l-3.2 8.6m2.2 -1.6l-2.2 1.6l-.6 -2.7M366.7 546l-3.5 9m2.3 -1.7l-2.3 1.7l-.6 -2.8M374.7 546l-3.8 9.7m2.5 -1.8l-2.5 1.8l-.6 -3.1M382.8 546l-4.2 10.8m2.8 -2l-2.8 2l-.7 -3.4M390.8 546l-4.6 12.3m3.1 -2.3l-3.1 2.3l-.8 -3.8M398.9 546l-4.5 14.3m3 -2.5l-3 2.5l-1 -3.8M407 546l-2.4 16.8m2.6 -2.9l-2.6 2.9l-1.6 -3.5M415 546l-.5 18.6m2.2 -3.2l-2.2 3.2l-2 -3.3M423.1 546l-.1 19.6m2.1 -3.3l-2.1 3.3l-2.1 -3.3M431.1 546l0 19.7m2.1 -3.3l-2.1 3.3l-2.1 -3.3M439.2 546l-.1 18.8m2.1 -3.3l-2.1 3.3l-2.1 -3.3M447.3 546l-.2 17.3m2.2 -3.2l-2.2 3.2l-2.1 -3.3M455.3 546l-.7 15.5m2.3 -3.2l-2.3 3.2l-2 -3.4M463.4 546l-1.3 13.6m2.4 -3.1l-2.4 3.1l-1.8 -3.5M471.4 546l-1.6 12.1m2.4 -2.8l-2.4 2.8l-1.6 -3.3M479.5 546l-1.7 11m2.2 -2.5l-2.2 2.5l-1.4 -3M487.6 546l-1.8 10.4m2.2 -2.3l-2.2 2.3l-1.2 -2.9M495.6 546l-2.6 9.9m2.3 -2.1l-2.3 2.1l-1 -2.9M503.7 546l-5 9m2.7 -1.4l-2.7 1.4l-.2 -3.1M511.7 546l-6.9 8.1m3.1 -.9l-3.1 .9l.4 -3.2M519.8 546l-7.7 8m3.2 -.8l-3.2 .8l.6 -3.3M527.9 546l-8.2 8.4m3.4 -.8l-3.4 .8l.7 -3.5M535.9 546l-9.3 8.5m3.7 -.6l-3.7 .6l.9 -3.7M544 546l-13.1 3.4m3.7 1.2l-3.7 -1.2l2.6 -2.9M552 546l-14.5 -.8m3.1 2.3l-3.1 -2.3l3.4 -1.9M560.1 546l-15.5 -1.3m3.1 2.4l-3.1 -2.4l3.4 -1.8M568.2 546l-16.5 -1.4m3.1 2.4l-3.1 -2.4l3.4 -1.8M576.2 546l-17.5 -1.4m3.1 2.4l-3.1 -2.4l3.4 -1.9M584.3 546l-18.5 -.2m3.2 2.2l-3.2 -2.2l3.3 -2.1M592.3 546l-19.4 0m3.3 2.1l-3.3 -2.1l3.3 -2.1M600.4 546l-20.2 0m3.3 2.1l-3.3 -2.1l3.3 -2.1M608.5 546l-20.8 0m3.3 2.1l-3.3 -2.1l3.3 -2.1M616.5 546l-21.3 0m3.3 2.1l-3.3 -2.1l3.3 -2.1M624.6 546l-21.8 0m3.3 2.1l-3.3 -2.1l3.3 -2.1M632.6 546l-22.1 0m3.3 2.1l-3.3 -2.1l3.3 -2.1M640.7 546l-22.2 0m3.3 2.1l-3.3 -2.1l3.3 -2.1M648.8 546l-22.3 0m3.3 2.1l-3.3 -2.1l3.3 -2.1M656.8 546l-22.3 .1m3.3 2.1l-3.3 -2.1l3.3 -2.1M664.9 546l-22.1 .7m3.3 2l-3.3 -2l3.2 -2.2M672.9 546l-21.8 .8m3.3 2l-3.3 -2l3.2 -2.2M681 546l-21.4 .8m3.3 2l-3.3 -2l3.2 -2.2M689.1 546l-20.8 .8m3.3 2l-3.3 -2l3.2 -2.2M697.1 546l-20.1 2.6m3.5 1.7l-3.5 -1.7l3 -2.5M705.2 546l-19.1 4.3m3.7 1.4l-3.7 -1.4l2.7 -2.8M713.2 546l-18.5 4m3.6 1.4l-3.6 -1.4l2.7 -2.8M721.3 546l-17.9 3.9m3.6 1.4l-3.6 -1.4l2.8 -2.8M108.7 541.7l1.4 -7.2m-1.7 1.7l1.7 -1.7l.9 2.2M116.8 541.7l3.3 -8.9m-1.9 1.4l1.9 -1.4l.5 2.3M124.9 541.7l7.3 -11.7m-2.2 1l2.2 -1l0 2.4M132.9 541.7l8.7 -13.9m-2.2 1l2.2 -1l0 2.4M141 541.7l9.4 -15.1m-2.2 1l2.2 -1l0 2.4M149 541.7l7.8 -16.7m-2 1.3l2 -1.3l.3 2.4M157.1 541.7l6.4 -17m-1.9 1.4l1.9 -1.4l.5 2.3M165.2 541.7l5.1 -16.4m-1.8 1.5l1.8 -1.5l.6 2.3M173.2 541.7l3.6 -15.3m-1.7 1.7l1.7 -1.7l.8 2.3M181.3 541.7l2.4 -13.8m-1.6 1.8l1.6 -1.8l1 2.2M189.3 541.7l0 -12.3m-1.3 2l1.3 -2l1.3 2M197.4 541.7l-1.1 -10.9m-1.1 2.1l1.1 -2.1l1.5 1.9M205.5 541.7l-4.7 -9m-.2 2.4l.2 -2.4l2.1 1.2M213.5 541.7l-6.6 -7.4m.4 2.4l-.4 -2.4l2.3 .6M221.6 541.7l-7.4 -7.8m.6 3.2l-.6 -3.2l3.1 .8M229.6 541.7l-8.1 -10.1m.4 3.9l-.4 -3.9l3.7 1.2M237.7 541.7l-8.7 -12.6m.1 3.9l-.1 -3.9l3.6 1.5M245.8 541.7l-7.2 -14.4m-.4 3.9l.4 -3.9l3.4 2M253.8 541.7l-3.1 -15.5m-1.4 3.6l1.4 -3.6l2.7 2.8M261.9 541.7l-.9 -14.8m-1.9 3.4l1.9 -3.4l2.3 3.1M269.9 541.7l-.5 -13.4m-2 3.3l2 -3.3l2.2 3.2M278 541.7l-.4 -11.9m-1.8 3.1l1.8 -3.1l2.1 2.9M286.1 541.7l-.5 -10.9m-1.7 2.8l1.7 -2.8l1.9 2.7M294.1 541.7l-.8 -10.3m-1.5 2.7l1.5 -2.7l1.9 2.5M302.2 541.7l-1.2 -10.1m-1.3 2.7l1.3 -2.7l2 2.3M310.2 541.7l-2.2 -10.5m-1.1 3l1.1 -3l2.3 2.3M318.3 541.7l-6.3 1.2m2.5 1l-2.5 -1l1.9 -1.9M326.4 541.7l-4.6 11.4m3 -2.1l-3 2.1l-.7 -3.6M334.4 541.7l-3.8 10.9m2.7 -2.1l-2.7 2.1l-.8 -3.4M342.5 541.7l-3.5 9.6m2.4 -1.9l-2.4 1.9l-.7 -3M350.5 541.7l-3.3 8.9m2.3 -1.7l-2.3 1.7l-.6 -2.8M358.6 541.7l-3.3 8.7m2.3 -1.7l-2.3 1.7l-.6 -2.7M366.7 541.7l-3.5 9m2.4 -1.7l-2.4 1.7l-.6 -2.9M374.7 541.7l-3.8 9.7m2.6 -1.8l-2.6 1.8l-.6 -3.1M382.8 541.7l-4.2 10.8m2.8 -2l-2.8 2l-.7 -3.4M390.8 541.7l-4.5 12.3m3.1 -2.3l-3.1 2.3l-.9 -3.8M398.9 541.7l-4.3 14.3m3 -2.5l-3 2.5l-1.1 -3.7M407 541.7l-2.5 16.6m2.6 -2.9l-2.6 2.9l-1.6 -3.6M415 541.7l-.7 18.4m2.2 -3.2l-2.2 3.2l-2 -3.3M423.1 541.7l-.2 19.4m2.2 -3.3l-2.2 3.3l-2.1 -3.3M431.1 541.7l-.1 19.6m2.1 -3.3l-2.1 3.3l-2.1 -3.3M439.2 541.7l-.1 18.8m2.1 -3.3l-2.1 3.3l-2.1 -3.3M447.3 541.7l-.2 17.3m2.2 -3.2l-2.2 3.2l-2.1 -3.3M455.3 541.7l-.6 15.5m2.3 -3.2l-2.3 3.2l-2 -3.4M463.4 541.7l-1.1 13.7m2.4 -3.1l-2.4 3.1l-1.8 -3.4M471.4 541.7l-1.5 12.2m2.4 -2.8l-2.4 2.8l-1.6 -3.3M479.5 541.7l-1.6 11.1m2.2 -2.5l-2.2 2.5l-1.4 -3.1M487.6 541.7l-1.8 10.4m2.2 -2.3l-2.2 2.3l-1.3 -2.9M495.6 541.7l-2.7 10m2.3 -2.1l-2.3 2.1l-1 -2.9M503.7 541.7l-5.1 9.1m2.8 -1.5l-2.8 1.5l-.2 -3.1M511.7 541.7l-6.9 8.2m3.1 -.9l-3.1 .9l.4 -3.2M519.8 541.7l-7.6 8.1m3.2 -.8l-3.2 .8l.6 -3.3M527.9 541.7l-8.2 8.5m3.4 -.8l-3.4 .8l.7 -3.5M535.9 541.7l-9.2 8.6m3.7 -.7l-3.7 .7l.9 -3.7M544 541.7l-13 3.5m3.7 1.2l-3.7 -1.2l2.6 -2.9M552 541.7l-14.4 -.8m3.2 2.3l-3.2 -2.3l3.4 -2M560.1 541.7l-15.4 -1.2m3.1 2.4l-3.1 -2.4l3.4 -1.9M568.2 541.7l-16.5 -1.4m3.1 2.4l-3.1 -2.4l3.4 -1.8M576.2 541.7l-17.5 -1.4m3.1 2.4l-3.1 -2.4l3.4 -1.9M584.3 541.7l-18.6 -.2m3.2 2.2l-3.2 -2.2l3.3 -2.1M592.3 541.7l-19.5 0m3.3 2.1l-3.3 -2.1l3.3 -2.1M600.4 541.7l-20.3 0m3.3 2.1l-3.3 -2.1l3.3 -2.1M608.5 541.7l-21 0m3.3 2.1l-3.3 -2.1l3.3 -2.1M616.5 541.7l-21.6 0m3.3 2.1l-3.3 -2.1l3.3 -2.1M624.6 541.7l-22 0m3.3 2.1l-3.3 -2.1l3.3 -2.1M632.6 541.7l-22.4 0m3.3 2.1l-3.3 -2.1l3.3 -2.1M640.7 541.7l-22.6 0m3.3 2.1l-3.3 -2.1l3.3 -2.1M648.8 541.7l-22.7 0m3.3 2.1l-3.3 -2.1l3.3 -2.1M656.8 541.7l-22.6 .1m3.3 2.1l-3.3 -2.1l3.3 -2.1M664.9 541.7l-22.5 .7m3.3 2l-3.3 -2l3.2 -2.2M672.9 541.7l-22.1 .8m3.3 2l-3.3 -2l3.2 -2.2M681 541.7l-21.7 .8m3.3 2l-3.3 -2l3.2 -2.2M689.1 541.7l-21.1 .9m3.4 2l-3.4 -2l3.2 -2.3M697.1 541.7l-20.2 3.4m3.6 1.6l-3.6 -1.6l2.9 -2.6M705.2 541.7l-19.2 4.9m3.7 1.3l-3.7 -1.3l2.6 -2.9M713.2 541.7l-18.8 4.3m3.7 1.3l-3.7 -1.3l2.7 -2.8M721.3 541.7l-18.3 4m3.7 1.4l-3.7 -1.4l2.7 -2.8M108.7 537.4l1.3 -7m-1.7 1.7l1.7 -1.7l.9 2.2M116.8 537.4l2.9 -7.9m-1.9 1.4l1.9 -1.4l.5 2.3M124.9 537.4l6.7 -10.7m-2.2 1l2.2 -1l0 2.4M132.9 537.4l8.3 -13.3m-2.2 1l2.2 -1l0 2.4M141 537.4l9.1 -14.5m-2.2 1l2.2 -1l0 2.4M149 537.4l7.5 -16.1m-2 1.3l2 -1.3l.3 2.4M157.1 537.4l6.2 -16.5m-1.9 1.4l1.9 -1.4l.5 2.3M165.2 537.4l5 -16m-1.8 1.5l1.8 -1.5l.6 2.3M173.2 537.4l3.5 -15.1m-1.7 1.7l1.7 -1.7l.8 2.3M181.3 537.4l2.3 -13.7m-1.6 1.8l1.6 -1.8l1 2.2M189.3 537.4l0 -12.3m-1.3 2l1.3 -2l1.3 2M197.4 537.4l-1.1 -11m-1.1 2.1l1.1 -2.1l1.5 1.9M205.5 537.4l-4.7 -9.1m-.2 2.4l.2 -2.4l2.1 1.2M213.5 537.4l-6.7 -7.5m.4 2.4l-.4 -2.4l2.3 .6M221.6 537.4l-7.5 -7.9m.6 3.2l-.6 -3.2l3.2 .8M229.6 537.4l-8.3 -10.3m.4 3.9l-.4 -3.9l3.7 1.2M237.7 537.4l-8.8 -12.8m.1 3.9l-.1 -3.9l3.6 1.5M245.8 537.4l-7.2 -14.4m-.4 3.9l.4 -3.9l3.4 2M253.8 537.4l-3.1 -15.2m-1.4 3.6l1.4 -3.6l2.7 2.8M261.9 537.4l-.9 -14.6m-1.9 3.4l1.9 -3.4l2.3 3.1M269.9 537.4l-.5 -13.3m-2 3.3l2 -3.3l2.2 3.2M278 537.4l-.5 -12.1m-1.9 3.1l1.9 -3.1l2.1 3M286.1 537.4l-.6 -11.1m-1.7 2.9l1.7 -2.9l2 2.7M294.1 537.4l-.9 -10.5m-1.5 2.8l1.5 -2.8l1.9 2.5M302.2 537.4l-1.3 -10.3m-1.4 2.8l1.4 -2.8l2 2.4M310.2 537.4l-2.4 -10.7m-1.2 3.1l1.2 -3.1l2.3 2.3M318.3 537.4l-6.5 1.9m2.6 .8l-2.6 -.8l1.8 -2M326.4 537.4l-4.9 12.1m3.2 -2.2l-3.2 2.2l-.8 -3.8M334.4 537.4l-4.1 11.7m2.9 -2.3l-2.9 2.3l-.9 -3.6M342.5 537.4l-3.7 10.2m2.6 -2l-2.6 2l-.7 -3.2M350.5 537.4l-3.4 9.2m2.4 -1.8l-2.4 1.8l-.6 -2.9M358.6 537.4l-3.4 8.9m2.3 -1.7l-2.3 1.7l-.6 -2.8M366.7 537.4l-3.6 9.1m2.4 -1.7l-2.4 1.7l-.6 -2.9M374.7 537.4l-3.8 9.7m2.5 -1.8l-2.5 1.8l-.6 -3.1M382.8 537.4l-4 10.8m2.8 -2l-2.8 2l-.7 -3.4M390.8 537.4l-4.2 12.2m3.1 -2.4l-3.1 2.4l-.9 -3.8M398.9 537.4l-3.9 14.1m2.9 -2.6l-2.9 2.6l-1.2 -3.7M407 537.4l-2.5 16.2m2.6 -2.9l-2.6 2.9l-1.6 -3.6M415 537.4l-.9 17.9m2.3 -3.2l-2.3 3.2l-2 -3.4M423.1 537.4l-.3 18.9m2.2 -3.2l-2.2 3.2l-2.1 -3.3M431.1 537.4l-.1 19m2.1 -3.3l-2.1 3.3l-2.1 -3.3M439.2 537.4l-.1 18.3m2.1 -3.3l-2.1 3.3l-2.1 -3.3M447.3 537.4l-.2 17m2.2 -3.2l-2.2 3.2l-2.1 -3.3M455.3 537.4l-.5 15.3m2.2 -3.2l-2.2 3.2l-2 -3.3M463.4 537.4l-.9 13.6m2.3 -3.1l-2.3 3.1l-1.9 -3.4M471.4 537.4l-1.3 12.2m2.3 -2.9l-2.3 2.9l-1.7 -3.3M479.5 537.4l-1.5 11.1m2.2 -2.6l-2.2 2.6l-1.4 -3M487.6 537.4l-1.7 10.5m2.1 -2.4l-2.1 2.4l-1.3 -2.9M495.6 537.4l-2.6 10m2.3 -2.1l-2.3 2.1l-1 -2.9M503.7 537.4l-5 9.1m2.7 -1.5l-2.7 1.5l-.2 -3.1M511.7 537.4l-6.7 8.2m3 -1l-3 1l.3 -3.2M519.8 537.4l-7.4 8.2m3.2 -.9l-3.2 .9l.5 -3.3M527.9 537.4l-7.9 8.6m3.4 -.9l-3.4 .9l.6 -3.4M535.9 537.4l-8.8 8.7m3.6 -.8l-3.6 .8l.8 -3.6M544 537.4l-12.6 3.9m3.8 1.1l-3.8 -1.1l2.5 -3M552 537.4l-14.1 -.6m3.2 2.3l-3.2 -2.3l3.4 -2M560.1 537.4l-15.1 -1.1m3.1 2.3l-3.1 -2.3l3.4 -1.9M568.2 537.4l-16.1 -1.2m3.1 2.4l-3.1 -2.4l3.4 -1.9M576.2 537.4l-17.1 -1.3m3.1 2.4l-3.1 -2.4l3.4 -1.9M584.3 537.4l-18.1 -.2m3.2 2.2l-3.2 -2.2l3.3 -2.1M592.3 537.4l-19 0m3.3 2.1l-3.3 -2.1l3.3 -2.1M600.4 537.4l-19.8 0m3.3 2.1l-3.3 -2.1l3.3 -2.1M608.5 537.4l-20.5 0m3.3 2.1l-3.3 -2.1l3.3 -2.1M616.5 537.4l-21.1 -.1m3.3 2.1l-3.3 -2.1l3.3 -2.1M624.6 537.4l-21.6 -.1m3.3 2.1l-3.3 -2.1l3.3 -2.1M632.6 537.4l-22 0m3.3 2.1l-3.3 -2.1l3.3 -2.1M640.7 537.4l-22.2 0m3.3 2.1l-3.3 -2.1l3.3 -2.1M648.8 537.4l-22.3 0m3.3 2.1l-3.3 -2.1l3.3 -2.1M656.8 537.4l-22.3 0m3.3 2.1l-3.3 -2.1l3.3 -2.1M664.9 537.4l-22.1 .6m3.3 2l-3.3 -2l3.2 -2.2M672.9 537.4l-21.8 .7m3.3 2l-3.3 -2l3.2 -2.2M681 537.4l-21.3 .7m3.3 2l-3.3 -2l3.2 -2.2M689.1 537.4l-20.7 1m3.4 2l-3.4 -2l3.2 -2.3M697.1 537.4l-19.4 5m3.7 1.2l-3.7 -1.2l2.6 -2.9M705.2 537.4l-18.5 6.1m3.8 1l-3.8 -1l2.4 -3M713.2 537.4l-18.4 5m3.7 1.2l-3.7 -1.2l2.6 -2.9M721.3 537.4l-18.2 4.3m3.7 1.3l-3.7 -1.3l2.7 -2.8M108.7 533.1l1.4 -6.8m-1.7 1.7l1.7 -1.7l.9 2.2M116.8 533.1l2.7 -7.1m-1.9 1.4l1.9 -1.4l.5 2.3M124.9 533.1l5.9 -9.5m-2.2 1l2.2 -1l0 2.4M132.9 533.1l7.8 -12.4m-2.2 1l2.2 -1l0 2.4M141 533.1l8.6 -13.8m-2.2 1l2.2 -1l0 2.4M149 533.1l7.2 -15.4m-2 1.3l2 -1.3l.3 2.4M157.1 533.1l6 -15.9m-1.9 1.4l1.9 -1.4l.5 2.3M165.2 533.1l4.9 -15.6m-1.8 1.5l1.8 -1.5l.6 2.3M173.2 533.1l3.5 -14.8m-1.7 1.7l1.7 -1.7l.8 2.3M181.3 533.1l2.3 -13.6m-1.6 1.8l1.6 -1.8l1 2.2M189.3 533.1l0 -12.3m-1.3 2l1.3 -2l1.3 2M197.4 533.1l-1 -11m-1.1 2.1l1.1 -2.1l1.5 1.9M205.5 533.1l-4.5 -9.3m-.3 2.4l.3 -2.4l2.1 1.2M213.5 533.1l-6.6 -7.6m.3 2.4l-.3 -2.4l2.3 .7M221.6 533.1l-7.6 -8m.6 3.3l-.6 -3.3l3.2 .8M229.6 533.1l-8.4 -10.4m.4 3.9l-.4 -3.9l3.7 1.2M237.7 533.1l-8.9 -12.8m.1 3.9l-.1 -3.9l3.6 1.5M245.8 533.1l-7.2 -14m-.4 3.9l.4 -3.9l3.4 1.9M253.8 533.1l-3.1 -14.5m-1.4 3.6l1.4 -3.6l2.8 2.8M261.9 533.1l-1 -14m-1.9 3.4l1.9 -3.4l2.3 3.1M269.9 533.1l-.6 -13.1m-2 3.4l2 -3.4l2.3 3.2M278 533.1l-.5 -12.1m-1.8 3.1l1.8 -3.1l2.1 3M286.1 533.1l-.7 -11.3m-1.7 2.9l1.7 -2.9l2 2.7M294.1 533.1l-1 -10.7m-1.5 2.8l1.5 -2.8l2 2.5M302.2 533.1l-1.4 -10.5m-1.4 2.9l1.4 -2.9l2.1 2.4M310.2 533.1l-2.4 -10.9m-1.2 3.1l1.2 -3.1l2.4 2.3M318.3 533.1l-6.7 1.7m2.6 .9l-2.6 -.9l1.8 -2M326.4 533.1l-5.2 12.7m3.2 -2.2l-3.2 2.2l-.7 -3.8M334.4 533.1l-4.5 12.5m3.1 -2.4l-3.1 2.4l-.9 -3.8M342.5 533.1l-4.1 10.9m2.8 -2.1l-2.8 2.1l-.8 -3.4M350.5 533.1l-3.6 9.6m2.5 -1.8l-2.5 1.8l-.6 -3M358.6 533.1l-3.5 9.1m2.4 -1.7l-2.4 1.7l-.6 -2.9M366.7 533.1l-3.6 9.2m2.4 -1.7l-2.4 1.7l-.6 -2.9M374.7 533.1l-3.8 9.7m2.5 -1.8l-2.5 1.8l-.6 -3.1M382.8 533.1l-3.9 10.7m2.7 -2.1l-2.7 2.1l-.8 -3.3M390.8 533.1l-3.8 12m2.9 -2.4l-2.9 2.4l-1 -3.7M398.9 533.1l-3.4 13.7m2.9 -2.7l-2.9 2.7l-1.3 -3.7M407 533.1l-2.4 15.6m2.6 -2.9l-2.6 2.9l-1.6 -3.6M415 533.1l-1.1 17.1m2.3 -3.1l-2.3 3.1l-1.9 -3.4M423.1 533.1l-.4 18.1m2.2 -3.2l-2.2 3.2l-2.1 -3.3M431.1 533.1l-.2 18.2m2.2 -3.3l-2.2 3.3l-2.1 -3.3M439.2 533.1l-.1 17.6m2.1 -3.3l-2.1 3.3l-2.1 -3.3M447.3 533.1l-.2 16.4m2.2 -3.2l-2.2 3.2l-2.1 -3.3M455.3 533.1l-.4 14.9m2.2 -3.2l-2.2 3.2l-2 -3.3M463.4 533.1l-.7 13.4m2.3 -3.1l-2.3 3.1l-1.9 -3.4M471.4 533.1l-1.1 12.1m2.2 -2.9l-2.2 2.9l-1.7 -3.2M479.5 533.1l-1.4 11.1m2.2 -2.6l-2.2 2.6l-1.5 -3M487.6 533.1l-1.6 10.5m2.1 -2.4l-2.1 2.4l-1.3 -2.9M495.6 533.1l-2.5 10m2.3 -2.1l-2.3 2.1l-1 -2.9M503.7 533.1l-4.7 9.2m2.7 -1.5l-2.7 1.5l-.3 -3.1M511.7 533.1l-6.3 8.4m3 -1.1l-3 1.1l.2 -3.1M519.8 533.1l-6.9 8.4m3.1 -1l-3.1 1l.4 -3.2M527.9 533.1l-7.3 8.8m3.3 -1l-3.3 1l.4 -3.4M535.9 533.1l-8.1 8.9m3.5 -.9l-3.5 .9l.6 -3.6M544 533.1l-12.1 4.4m3.8 .9l-3.8 -.9l2.3 -3.1M552 533.1l-13.7 -.3m3.2 2.2l-3.2 -2.2l3.3 -2.1M560.1 533.1l-14.5 -.7m3.2 2.3l-3.2 -2.3l3.4 -2M568.2 533.1l-15.4 -.9m3.1 2.3l-3.1 -2.3l3.4 -1.9M576.2 533.1l-16.3 -1m3.1 2.3l-3.1 -2.3l3.4 -1.9M584.3 533.1l-17.2 -.3m3.2 2.2l-3.2 -2.2l3.3 -2.1M592.3 533.1l-18.1 0m3.3 2.1l-3.3 -2.1l3.3 -2.1M600.4 533.1l-18.9 0m3.3 2.1l-3.3 -2.1l3.3 -2.1M608.5 533.1l-19.6 0m3.3 2.1l-3.3 -2.1l3.3 -2.1M616.5 533.1l-20.2 -.3m3.2 2.2l-3.2 -2.2l3.3 -2.1M624.6 533.1l-20.6 -.4m3.2 2.2l-3.2 -2.2l3.3 -2.1M632.6 533.1l-21 -.1m3.3 2.1l-3.3 -2.1l3.3 -2.1M640.7 533.1l-21.2 -.1m3.3 2.1l-3.3 -2.1l3.3 -2.1M648.8 533.1l-21.3 -.1m3.3 2.1l-3.3 -2.1l3.3 -2.1M656.8 533.1l-21.2 -.3m3.2 2.2l-3.2 -2.2l3.3 -2.1M664.9 533.1l-21.1 .4m3.3 2.1l-3.3 -2.1l3.2 -2.2M672.9 533.1l-20.7 .7m3.3 2l-3.3 -2l3.2 -2.2M681 533.1l-20.3 .7m3.3 2l-3.3 -2l3.2 -2.2M689.1 533.1l-19.7 1.4m3.4 1.9l-3.4 -1.9l3.1 -2.4M697.1 533.1l-17.7 7.2m3.8 .7l-3.8 -.7l2.2 -3.2M705.2 533.1l-16.8 8m3.9 .5l-3.9 -.5l2 -3.3M713.2 533.1l-17.2 6.4m3.8 .9l-3.8 -.9l2.3 -3.1M721.3 533.1l-17.6 5.1m3.7 1.1l-3.7 -1.1l2.6 -3M108.7 528.8l1.6 -6.7m-1.7 1.7l1.7 -1.7l.8 2.3M116.8 528.8l3 -6.4m-2 1.3l2 -1.3l.3 2.4M124.9 528.8l5.1 -8.2m-2.2 1l2.2 -1l0 2.4M132.9 528.8l7.2 -11.5m-2.2 1l2.2 -1l0 2.4M141 528.8l8.1 -13m-2.2 1l2.2 -1l0 2.4M149 528.8l6.8 -14.6m-2 1.3l2 -1.3l.3 2.4M157.1 528.8l5.7 -15.2m-1.9 1.4l1.9 -1.4l.5 2.3M165.2 528.8l4.7 -15m-1.8 1.5l1.8 -1.5l.6 2.3M173.2 528.8l3.4 -14.4m-1.7 1.7l1.7 -1.7l.8 2.3M181.3 528.8l2.3 -13.4m-1.6 1.8l1.6 -1.8l1 2.2M189.3 528.8l0 -12.3m-1.3 2l1.3 -2l1.3 2M197.4 528.8l-.7 -11.1m-1.2 2.1l1.2 -2.1l1.4 1.9M205.5 528.8l-4.1 -9.5m-.4 2.4l.4 -2.4l2 1.3M213.5 528.8l-6.5 -7.9m.3 2.4l-.3 -2.4l2.3 .7M221.6 528.8l-7.6 -8.1m.6 3.3l-.6 -3.3l3.2 .8M229.6 528.8l-8.6 -10.5m.4 3.9l-.4 -3.9l3.7 1.2M237.7 528.8l-9.1 -12.8m.2 3.9l-.2 -3.9l3.6 1.4M245.8 528.8l-7.4 -13.4m-.3 3.9l.3 -3.9l3.4 1.8M253.8 528.8l-3.4 -13.8m-1.3 3.7l1.3 -3.7l2.9 2.7M261.9 528.8l-1.3 -13.4m-1.8 3.5l1.8 -3.5l2.4 3.1M269.9 528.8l-.8 -12.8m-1.9 3.4l1.9 -3.4l2.3 3.1M278 528.8l-.7 -12.1m-1.8 3.2l1.8 -3.2l2.2 2.9M286.1 528.8l-.8 -11.4m-1.7 3l1.7 -3l2.1 2.8M294.1 528.8l-1 -10.9m-1.5 2.9l1.5 -2.9l2 2.6M302.2 528.8l-1.4 -10.6m-1.4 2.9l1.4 -2.9l2.1 2.4M310.2 528.8l-2.4 -11m-1.2 3.2l1.2 -3.2l2.4 2.4M318.3 528.8l-6.9 .2m2.3 1.4l-2.3 -1.4l2.2 -1.5M326.4 528.8l-5.8 13.1m3.3 -2.1l-3.3 2.1l-.6 -3.8M334.4 528.8l-5.2 13.1m3.2 -2.3l-3.2 2.3l-.8 -3.8M342.5 528.8l-4.7 11.5m3.1 -2.1l-3.1 2.1l-.7 -3.7M350.5 528.8l-4 10m2.7 -1.9l-2.7 1.9l-.6 -3.2M358.6 528.8l-3.7 9.3m2.5 -1.7l-2.5 1.7l-.6 -3M366.7 528.8l-3.7 9.3m2.4 -1.7l-2.4 1.7l-.6 -2.9M374.7 528.8l-3.7 9.7m2.5 -1.8l-2.5 1.8l-.6 -3M382.8 528.8l-3.6 10.5m2.6 -2.1l-2.6 2.1l-.8 -3.2M390.8 528.8l-3.4 11.8m2.8 -2.4l-2.8 2.4l-1.1 -3.5M398.9 528.8l-3 13.3m2.8 -2.7l-2.8 2.7l-1.4 -3.7M407 528.8l-2.2 14.8m2.6 -2.9l-2.6 2.9l-1.6 -3.5M415 528.8l-1.2 16.2m2.4 -3.1l-2.4 3.1l-1.9 -3.4M423.1 528.8l-.5 17m2.2 -3.2l-2.2 3.2l-2 -3.3M431.1 528.8l-.2 17.2m2.2 -3.2l-2.2 3.2l-2.1 -3.3M439.2 528.8l-.2 16.7m2.2 -3.2l-2.2 3.2l-2.1 -3.3M447.3 528.8l-.2 15.7m2.2 -3.2l-2.2 3.2l-2.1 -3.3M455.3 528.8l-.3 14.4m2.2 -3.2l-2.2 3.2l-2.1 -3.3M463.4 528.8l-.6 13.1m2.3 -3.2l-2.3 3.2l-2 -3.4M471.4 528.8l-.9 11.9m2.2 -2.9l-2.2 2.9l-1.7 -3.1M479.5 528.8l-1.2 11m2.1 -2.6l-2.1 2.6l-1.5 -3M487.6 528.8l-1.5 10.5m2.1 -2.4l-2.1 2.4l-1.3 -2.9M495.6 528.8l-2.4 10m2.2 -2.1l-2.2 2.1l-1 -2.9M503.7 528.8l-4.4 9.3m2.6 -1.6l-2.6 1.6l-.4 -3.1M511.7 528.8l-5.7 8.7m2.9 -1.3l-2.9 1.3l0 -3.1M519.8 528.8l-6.2 8.8m3 -1.2l-3 1.2l.1 -3.2M527.9 528.8l-6.6 9.1m3.1 -1.2l-3.1 1.2l.2 -3.4M535.9 528.8l-7.2 9.3m3.3 -1.2l-3.3 1.2l.3 -3.5M544 528.8l-11.4 4.9m3.7 .6l-3.7 -.6l2.1 -3.1M552 528.8l-13.2 .1m3.3 2.1l-3.3 -2.1l3.3 -2.1M560.1 528.8l-14 -.4m3.2 2.2l-3.2 -2.2l3.3 -2M568.2 528.8l-14.8 -.5m3.2 2.2l-3.2 -2.2l3.3 -2M576.2 528.8l-15.6 -.6m3.2 2.3l-3.2 -2.3l3.4 -2M584.3 528.8l-16.3 -.4m3.2 2.2l-3.2 -2.2l3.3 -2M592.3 528.8l-17 -.1m3.3 2.1l-3.3 -2.1l3.3 -2.1M600.4 528.8l-17.8 -.1m3.3 2.1l-3.3 -2.1l3.3 -2.1M608.5 528.8l-18.4 -.2m3.3 2.2l-3.3 -2.2l3.3 -2.1M616.5 528.8l-19 -1.1m3.1 2.3l-3.1 -2.3l3.4 -1.9M624.6 528.8l-19.4 -1.3m3.1 2.3l-3.1 -2.3l3.4 -1.9M632.6 528.8l-19.8 -.6m3.2 2.2l-3.2 -2.2l3.3 -2M640.7 528.8l-19.9 -.4m3.2 2.2l-3.2 -2.2l3.3 -2.1M648.8 528.8l-19.9 -.5m3.2 2.2l-3.2 -2.2l3.3 -2M656.8 528.8l-19.7 -.7m3.2 2.2l-3.2 -2.2l3.3 -2M664.9 528.8l-19.5 0m3.3 2.1l-3.3 -2.1l3.3 -2.1M672.9 528.8l-19.3 .5m3.3 2l-3.3 -2l3.2 -2.2M681 528.8l-18.8 .8m3.4 2l-3.4 -2l3.2 -2.3M689.1 528.8l-18.1 2.4m3.5 1.7l-3.5 -1.7l3 -2.5M697.1 528.8l-15.7 8.2m3.9 .4l-3.9 -.4l1.9 -3.4M705.2 528.8l-14.7 9.2m3.9 .1l-3.9 -.1l1.6 -3.5M713.2 528.8l-15.4 8.2m3.9 .3l-3.9 -.3l1.9 -3.4M721.3 528.8l-16.5 6.7m3.8 .7l-3.8 -.7l2.2 -3.2M108.7 524.5l2.1 -6.6m-1.8 1.5l1.8 -1.5l.6 2.3M116.8 524.5l2.9 -6.1m-2 1.3l2 -1.3l.3 2.4M124.9 524.5l4.4 -7m-2.2 1l2.2 -1l0 2.4M132.9 524.5l6.4 -10.3m-2.2 1l2.2 -1l0 2.4M141 524.5l7.6 -12.2m-2.2 1l2.2 -1l0 2.4M149 524.5l6.5 -13.8m-2 1.3l2 -1.3l.3 2.4M157.1 524.5l6.6 -14m-2 1.3l2 -1.3l.3 2.4M165.2 524.5l5.3 -14.2m-1.9 1.4l1.9 -1.4l.5 2.3M173.2 524.5l3.7 -14m-1.8 1.6l1.8 -1.6l.7 2.3M181.3 524.5l2.5 -13.2m-1.7 1.7l1.7 -1.7l.9 2.2M189.3 524.5l2.1 -12m-1.6 1.8l1.6 -1.8l1 2.2M197.4 524.5l-.2 -11.2m-1.3 2l1.3 -2l1.3 2M205.5 524.5l-3.2 -10m-.6 2.3l.6 -2.3l1.9 1.5M213.5 524.5l-6.1 -8.3m.1 2.4l-.1 -2.4l2.2 .9M221.6 524.5l-7.5 -8.4m.5 3.3l-.5 -3.3l3.3 .9M229.6 524.5l-9 -10.6m.5 3.9l-.5 -3.9l3.7 1.1M237.7 524.5l-9.8 -12.6m.3 3.9l-.3 -3.9l3.7 1.3M245.8 524.5l-8.4 -12.7m0 3.9l0 -3.9l3.6 1.6M253.8 524.5l-4.8 -13m-.9 3.8l.9 -3.8l3.1 2.3M261.9 524.5l-2.3 -13m-1.5 3.6l1.5 -3.6l2.7 2.9M269.9 524.5l-1.4 -12.7m-1.7 3.4l1.7 -3.4l2.4 3M278 524.5l-1 -12.2m-1.7 3.2l1.7 -3.2l2.2 2.9M286.1 524.5l-.9 -11.6m-1.7 3.1l1.7 -3.1l2.1 2.8M294.1 524.5l-1.1 -11.1m-1.5 3l1.5 -3l2.1 2.6M302.2 524.5l-1.5 -10.8m-1.4 3l1.4 -3l2.1 2.5M310.2 524.5l-2.3 -11.2m-1.2 3.2l1.2 -3.2l2.4 2.4M318.3 524.5l-6.7 -3.1m1.4 2.3l-1.4 -2.3l2.7 -.4M326.4 524.5l-6.9 12.9m3.4 -1.9l-3.4 1.9l-.3 -3.9M334.4 524.5l-6.4 13.4m3.3 -2l-3.3 2l-.5 -3.9M342.5 524.5l-5.8 11.9m3.3 -2l-3.3 2l-.5 -3.9M350.5 524.5l-4.6 10.5m2.9 -1.9l-2.9 1.9l-.6 -3.4M358.6 524.5l-4 9.7m2.6 -1.8l-2.6 1.8l-.6 -3.1M366.7 524.5l-3.8 9.4m2.5 -1.7l-2.5 1.7l-.6 -3M374.7 524.5l-3.7 9.7m2.5 -1.8l-2.5 1.8l-.6 -3M382.8 524.5l-3.5 10.4m2.6 -2l-2.6 2l-.8 -3.2M390.8 524.5l-3 11.5m2.6 -2.4l-2.6 2.4l-1.1 -3.4M398.9 524.5l-2.6 12.7m2.7 -2.8l-2.7 2.8l-1.4 -3.6M407 524.5l-2.1 14m2.6 -2.9l-2.6 2.9l-1.6 -3.5M415 524.5l-1.3 15.2m2.4 -3.1l-2.4 3.1l-1.8 -3.4M423.1 524.5l-.6 15.9m2.2 -3.2l-2.2 3.2l-2 -3.3M431.1 524.5l-.3 16.1m2.2 -3.2l-2.2 3.2l-2.1 -3.3M439.2 524.5l-.2 15.7m2.2 -3.2l-2.2 3.2l-2.1 -3.3M447.3 524.5l-.2 14.9m2.2 -3.2l-2.2 3.2l-2.1 -3.3M455.3 524.5l-.2 13.8m2.2 -3.2l-2.2 3.2l-2.1 -3.3M463.4 524.5l-.4 12.7m2.2 -3.1l-2.2 3.1l-2 -3.3M471.4 524.5l-.7 11.7m2.1 -2.8l-2.1 2.8l-1.7 -3.1M479.5 524.5l-1 11m2 -2.6l-2 2.6l-1.6 -2.9M487.6 524.5l-1.3 10.4m2 -2.4l-2 2.4l-1.4 -2.8M495.6 524.5l-2.2 10m2.2 -2.2l-2.2 2.2l-1.1 -2.9M503.7 524.5l-4 9.4m2.5 -1.7l-2.5 1.7l-.5 -3M511.7 524.5l-5 9.1m2.7 -1.5l-2.7 1.5l-.2 -3.1M519.8 524.5l-5.4 9.2m2.9 -1.4l-2.9 1.4l-.2 -3.2M527.9 524.5l-5.6 9.5m3 -1.5l-3 1.5l-.1 -3.3M535.9 524.5l-6.2 9.8m3.2 -1.4l-3.2 1.4l0 -3.5M544 524.5l-10.8 5.6m3.6 .4l-3.6 -.4l1.8 -3.2M552 524.5l-12.8 .4m3.3 2l-3.3 -2l3.1 -2.2M560.1 524.5l-13.4 -.1m3.3 2.1l-3.3 -2.1l3.3 -2.1M568.2 524.5l-14.1 -.2m3.2 2.2l-3.2 -2.2l3.3 -2.1M576.2 524.5l-14.8 -.5m3.2 2.2l-3.2 -2.2l3.3 -2M584.3 524.5l-15.4 -1m3.1 2.3l-3.1 -2.3l3.4 -1.9M592.3 524.5l-15.9 -.2m3.2 2.2l-3.2 -2.2l3.3 -2.1M600.4 524.5l-16.6 -.1m3.3 2.2l-3.3 -2.2l3.3 -2.1M608.5 524.5l-17.2 -.4m3.2 2.2l-3.2 -2.2l3.3 -2M616.5 524.5l-17.6 -2m3 2.5l-3 -2.5l3.5 -1.7M624.6 524.5l-18 -2.1m3 2.5l-3 -2.5l3.5 -1.7M632.6 524.5l-18.3 -1.5m3.1 2.4l-3.1 -2.4l3.4 -1.9M640.7 524.5l-18.4 -1.1m3.1 2.3l-3.1 -2.3l3.4 -1.9M648.8 524.5l-18.2 -.9m3.2 2.3l-3.2 -2.3l3.4 -2M656.8 524.5l-17.8 -.5m3.2 2.2l-3.2 -2.2l3.3 -2M664.9 524.5l-17.6 0m3.3 2.1l-3.3 -2.1l3.3 -2.1M672.9 524.5l-17.4 .6m3.3 2l-3.3 -2l3.2 -2.2M681 524.5l-17.1 1.4m3.4 1.9l-3.4 -1.9l3.1 -2.4M689.1 524.5l-16.3 3.4m3.6 1.4l-3.6 -1.4l2.8 -2.8M697.1 524.5l-14.2 7.5m3.9 .3l-3.9 -.3l1.9 -3.4M705.2 524.5l-13.1 9m3.9 -.1l-3.9 .1l1.5 -3.6M713.2 524.5l-13.5 9m3.9 0l-3.9 0l1.5 -3.6M721.3 524.5l-14.8 8.4m3.9 .2l-3.9 -.2l1.8 -3.5M108.7 520.2l2.4 -6.4m-1.9 1.4l1.9 -1.4l.5 2.3M116.8 520.2l3.5 -5.6m-2.2 1l2.2 -1l0 2.4M124.9 520.2l3.9 -6.2m-2.2 1l2.2 -1l0 2.4M132.9 520.2l5.7 -9.1m-2.2 1l2.2 -1l0 2.4M141 520.2l7 -11.3m-2.2 1l2.2 -1l0 2.4M149 520.2l6.1 -13m-2 1.3l2 -1.3l.3 2.4M157.1 520.2l6.2 -13.3m-2 1.3l2 -1.3l.3 2.4M165.2 520.2l5.1 -13.7m-1.9 1.4l1.9 -1.4l.5 2.3M173.2 520.2l4.2 -13.4m-1.8 1.5l1.8 -1.5l.6 2.3M181.3 520.2l2.7 -13m-1.7 1.7l1.7 -1.7l.9 2.2M189.3 520.2l2 -12m-1.6 1.8l1.6 -1.8l1 2.2M197.4 520.2l0 -11.2m-1.3 2l1.3 -2l1.3 2M205.5 520.2l-2.1 -10.4m-.9 2.2l.9 -2.2l1.7 1.7M213.5 520.2l-5.3 -9m-.1 2.4l.1 -2.4l2.1 1.1M221.6 520.2l-7.4 -8.8m.4 3.4l-.4 -3.4l3.3 1M229.6 520.2l-9.6 -10.6m.6 3.9l-.6 -3.9l3.8 1M237.7 520.2l-11.2 -12.1m.7 3.8l-.7 -3.8l3.8 1M245.8 520.2l-10.1 -11.7m.5 3.9l-.5 -3.9l3.7 1.1M253.8 520.2l-7.2 -11.8m-.1 3.9l.1 -3.9l3.5 1.7M261.9 520.2l-4.3 -12.4m-.9 3.8l.9 -3.8l3.1 2.4M269.9 520.2l-2.8 -12.6m-1.4 3.6l1.4 -3.6l2.7 2.7M278 520.2l-1.7 -12.3m-1.6 3.4l1.6 -3.4l2.4 2.8M286.1 520.2l-1.2 -11.8m-1.6 3.2l1.6 -3.2l2.2 2.8M294.1 520.2l-1.3 -11.2m-1.5 3l1.5 -3l2.2 2.6M302.2 520.2l-1.6 -10.9m-1.4 3l1.4 -3l2.2 2.5M310.2 520.2l-2.3 -11.2m-1.2 3.2l1.2 -3.2l2.4 2.4M318.3 520.2l-5.8 -7m.3 2.7l-.3 -2.7l2.6 .8M326.4 520.2l-8.4 10.8m3.7 -1.3l-3.7 1.3l.3 -3.9M334.4 520.2l-8 13.2m3.5 -1.7l-3.5 1.7l-.1 -3.9M342.5 520.2l-7.1 12.2m3.5 -1.8l-3.5 1.8l-.2 -3.9M350.5 520.2l-5.4 11m3.1 -1.9l-3.1 1.9l-.5 -3.6M358.6 520.2l-4.3 10.1m2.7 -1.8l-2.7 1.8l-.6 -3.2M366.7 520.2l-4 9.6m2.6 -1.8l-2.6 1.8l-.6 -3.1M374.7 520.2l-3.8 9.7m2.5 -1.8l-2.5 1.8l-.6 -3.1M382.8 520.2l-3.4 10.3m2.5 -2l-2.5 2l-.8 -3.1M390.8 520.2l-2.9 11.2m2.6 -2.3l-2.6 2.3l-1.1 -3.3M398.9 520.2l-2.5 12.2m2.6 -2.7l-2.6 2.7l-1.4 -3.5M407 520.2l-2 13.3m2.6 -2.9l-2.6 2.9l-1.6 -3.6M415 520.2l-1.3 14.3m2.4 -3.1l-2.4 3.1l-1.8 -3.5M423.1 520.2l-.7 14.9m2.3 -3.2l-2.3 3.2l-2 -3.4M431.1 520.2l-.4 15.1m2.2 -3.2l-2.2 3.2l-2 -3.3M439.2 520.2l-.3 14.8m2.2 -3.2l-2.2 3.2l-2.1 -3.3M447.3 520.2l-.2 14.2m2.2 -3.2l-2.2 3.2l-2.1 -3.3M455.3 520.2l-.2 13.3m2.2 -3.2l-2.2 3.2l-2.1 -3.3M463.4 520.2l-.3 12.4m2.1 -3.1l-2.1 3.1l-2 -3.2M471.4 520.2l-.5 11.5m2 -2.8l-2 2.8l-1.8 -3M479.5 520.2l-.7 10.9m2 -2.6l-2 2.6l-1.6 -2.9M487.6 520.2l-1.1 10.4m2 -2.5l-2 2.5l-1.4 -2.8M495.6 520.2l-2 10.1m2.2 -2.2l-2.2 2.2l-1.1 -2.9M503.7 520.2l-3.6 9.6m2.5 -1.8l-2.5 1.8l-.7 -3M511.7 520.2l-4.3 9.4m2.6 -1.7l-2.6 1.7l-.4 -3.1M519.8 520.2l-4.6 9.6m2.7 -1.7l-2.7 1.7l-.4 -3.2M527.9 520.2l-4.8 9.9m2.8 -1.7l-2.8 1.7l-.4 -3.3M535.9 520.2l-5.3 10.1m3 -1.7l-3 1.7l-.3 -3.4M544 520.2l-9.8 6.8m3.6 -.1l-3.6 .1l1.4 -3.3M552 520.2l-12.4 1m3.3 1.8l-3.3 -1.8l3 -2.3M560.1 520.2l-12.9 .1m3.3 2.1l-3.3 -2.1l3.2 -2.1M568.2 520.2l-13.4 -.2m3.2 2.2l-3.2 -2.2l3.3 -2.1M576.2 520.2l-13.9 -.9m3.1 2.3l-3.1 -2.3l3.4 -1.9M584.3 520.2l-14.2 -2m2.9 2.6l-2.9 -2.6l3.5 -1.6M592.3 520.2l-14.6 -.7m3.2 2.3l-3.2 -2.3l3.4 -2M600.4 520.2l-15.2 -.4m3.2 2.2l-3.2 -2.2l3.3 -2M608.5 520.2l-15.8 -1.1m3.1 2.3l-3.1 -2.3l3.4 -1.9M616.5 520.2l-16.1 -2.3m2.9 2.6l-2.9 -2.6l3.5 -1.6M624.6 520.2l-16.3 -2.1m3 2.5l-3 -2.5l3.5 -1.7M632.6 520.2l-16.6 -1.7m3 2.4l-3 -2.4l3.5 -1.8M640.7 520.2l-16.7 -1.2m3.1 2.4l-3.1 -2.4l3.4 -1.9M648.8 520.2l-16.1 -.7m3.2 2.3l-3.2 -2.3l3.4 -2M656.8 520.2l-15.1 -.2m3.2 2.2l-3.2 -2.2l3.3 -2.1M664.9 520.2l-14.9 .4m3.3 2l-3.3 -2l3.2 -2.2M672.9 520.2l-15.2 1.1m3.4 1.9l-3.4 -1.9l3.1 -2.4M681 520.2l-15 2.2m3.5 1.6l-3.5 -1.6l2.9 -2.6M689.1 520.2l-14.3 3.6m3.7 1.3l-3.7 -1.3l2.6 -2.9M697.1 520.2l-12.9 6.1m3.9 .5l-3.9 -.5l2 -3.3M705.2 520.2l-11.7 8.3m3.9 -.2l-3.9 .2l1.4 -3.6M713.2 520.2l-12 9.2m3.9 -.3l-3.9 .3l1.3 -3.7M721.3 520.2l-13 10m3.9 -.3l-3.9 .3l1.3 -3.7M108.7 515.9l2.9 -6.2m-2 1.3l2 -1.3l.3 2.4M116.8 515.9l3.5 -5.6m-2.2 1l2.2 -1l0 2.4M124.9 515.9l3.6 -5.7m-2.2 1l2.2 -1l0 2.4M132.9 515.9l4.9 -7.8m-2.2 1l2.2 -1l0 2.4M141 515.9l6.4 -10.3m-2.2 1l2.2 -1l0 2.4M149 515.9l7.1 -11.4m-2.2 1l2.2 -1l0 2.4M157.1 515.9l5.9 -12.6m-2 1.3l2 -1.3l.3 2.4M165.2 515.9l4.9 -13.2m-1.9 1.4l1.9 -1.4l.5 2.3M173.2 515.9l4.1 -13.1m-1.8 1.5l1.8 -1.5l.6 2.3M181.3 515.9l3 -12.8m-1.7 1.7l1.7 -1.7l.8 2.3M189.3 515.9l2.1 -12m-1.6 1.8l1.6 -1.8l1 2.2M197.4 515.9l0 -11.3m-1.3 2l1.3 -2l1.3 2M205.5 515.9l-1.4 -10.6m-1 2.2l1 -2.2l1.6 1.8M213.5 515.9l-4.8 -9.5m-.3 2.4l.3 -2.4l2.1 1.2M221.6 515.9l-7.3 -9.2m.3 3.5l-.3 -3.5l3.3 1.1M229.6 515.9l-10.2 -10.7m.7 3.8l-.7 -3.8l3.8 .9M237.7 515.9l-12.4 -11.8m.9 3.8l-.9 -3.8l3.8 .7M245.8 515.9l-11.4 -11m.9 3.8l-.9 -3.8l3.8 .7M253.8 515.9l-8.8 -10.9m.4 3.9l-.4 -3.9l3.7 1.2M261.9 515.9l-5.9 -11.9m-.5 3.9l.5 -3.9l3.4 2M269.9 515.9l-4 -12.4m-1 3.8l1 -3.8l3 2.5M278 515.9l-2.7 -12.3m-1.3 3.5l1.3 -3.5l2.7 2.7M286.1 515.9l-1.7 -11.9m-1.5 3.3l1.5 -3.3l2.4 2.7M294.1 515.9l-1.6 -11.4m-1.5 3.1l1.5 -3.1l2.3 2.6M302.2 515.9l-1.9 -11m-1.3 3.1l1.3 -3.1l2.3 2.5M310.2 515.9l-2.5 -11.2m-1.2 3.2l1.2 -3.2l2.5 2.4M318.3 515.9l-5.4 -10m-.3 3.4l.3 -3.4l3 1.6M326.4 515.9l-9.9 7.9m3.8 -.4l-3.8 .4l1.2 -3.6M334.4 515.9l-9.1 12.9m3.6 -1.4l-3.6 1.4l.1 -3.9M342.5 515.9l-8.1 12.5m3.6 -1.6l-3.6 1.6l0 -3.9M350.5 515.9l-6.2 11.5m3.4 -1.9l-3.4 1.9l-.3 -3.9M358.6 515.9l-4.8 10.6m2.9 -1.9l-2.9 1.9l-.5 -3.4M366.7 515.9l-4.2 10m2.7 -1.8l-2.7 1.8l-.6 -3.2M374.7 515.9l-3.9 9.8m2.6 -1.8l-2.6 1.8l-.6 -3.1M382.8 515.9l-3.6 10.1m2.5 -2l-2.5 2l-.8 -3.1M390.8 515.9l-3 10.8m2.5 -2.2l-2.5 2.2l-1 -3.2M398.9 515.9l-2.5 11.7m2.5 -2.5l-2.5 2.5l-1.3 -3.4M407 515.9l-2 12.6m2.6 -2.9l-2.6 2.9l-1.6 -3.5M415 515.9l-1.3 13.5m2.4 -3l-2.4 3l-1.8 -3.5M423.1 515.9l-.7 14m2.3 -3.2l-2.3 3.2l-1.9 -3.4M431.1 515.9l-.5 14.2m2.2 -3.2l-2.2 3.2l-2 -3.3M439.2 515.9l-.3 14m2.2 -3.2l-2.2 3.2l-2 -3.3M447.3 515.9l-.2 13.5m2.2 -3.2l-2.2 3.2l-2.1 -3.3M455.3 515.9l-.2 12.8m2.1 -3.2l-2.1 3.2l-2.1 -3.2M463.4 515.9l-.2 12.1m2 -3l-2 3l-1.9 -3.1M471.4 515.9l-.3 11.4m1.9 -2.8l-1.9 2.8l-1.8 -2.9M479.5 515.9l-.4 10.8m1.9 -2.7l-1.9 2.7l-1.7 -2.8M487.6 515.9l-.8 10.4m1.9 -2.5l-1.9 2.5l-1.5 -2.7M495.6 515.9l-1.8 10.1m2.1 -2.3l-2.1 2.3l-1.2 -2.8M503.7 515.9l-3.2 9.7m2.4 -1.9l-2.4 1.9l-.8 -3M511.7 515.9l-3.8 9.6m2.5 -1.8l-2.5 1.8l-.6 -3M519.8 515.9l-4 9.8m2.6 -1.8l-2.6 1.8l-.6 -3.1M527.9 515.9l-4.2 10.1m2.7 -1.9l-2.7 1.9l-.6 -3.2M535.9 515.9l-4.7 10.3m2.9 -1.8l-2.9 1.8l-.5 -3.4M544 515.9l-8.2 8.3m3.4 -.8l-3.4 .8l.7 -3.4M552 515.9l-11.6 2.6m3.4 1.2l-3.4 -1.2l2.5 -2.6M560.1 515.9l-12.1 .4m3.1 1.9l-3.1 -1.9l3 -2.1M568.2 515.9l-12.5 -.3m3.1 2.1l-3.1 -2.1l3.2 -2M576.2 515.9l-12.7 -1.8m2.9 2.5l-2.9 -2.5l3.5 -1.6M584.3 515.9l-12.7 -2.8m2.7 2.8l-2.7 -2.8l3.6 -1.4M592.3 515.9l-12.8 -1.7m3 2.5l-3 -2.5l3.5 -1.7M600.4 515.9l-13.3 -1.3m3.1 2.4l-3.1 -2.4l3.5 -1.8M608.5 515.9l-14 -2m2.9 2.6l-2.9 -2.6l3.5 -1.7M616.5 515.9l-14.1 -2.2m2.9 2.6l-2.9 -2.6l3.6 -1.6M624.6 515.9l-14.1 -1.9m3 2.5l-3 -2.5l3.5 -1.7M632.6 515.9l-14.5 -1.4m3 2.4l-3 -2.4l3.5 -1.8M640.7 515.9l-14.6 -.9m3.1 2.3l-3.1 -2.3l3.4 -1.9M648.8 515.9l-13.4 -.3m3.2 2.2l-3.2 -2.2l3.3 -2.1M656.8 515.9l-11.5 .3m2.9 1.8l-2.9 -1.8l2.8 -1.9M664.9 515.9l-11.4 .9m3 1.6l-3 -1.6l2.7 -2.1M672.9 515.9l-12.5 1.8m3.4 1.6l-3.4 -1.6l2.8 -2.5M681 515.9l-12.8 2.9m3.7 1.3l-3.7 -1.3l2.7 -2.8M689.1 515.9l-12.3 3.7m3.7 1.1l-3.7 -1.1l2.5 -2.9M697.1 515.9l-11.5 5.3m3.7 .6l-3.7 -.6l2 -3.2M705.2 515.9l-10.2 7.9m3.9 -.3l-3.9 .3l1.3 -3.7M713.2 515.9l-9.9 10.1m3.8 -.9l-3.8 .9l.8 -3.8M721.3 515.9l-9.6 12.7m3.7 -1.3l-3.7 1.3l.3 -3.9M116.8 511.6l3.5 -5.5m-2.2 1l2.2 -1l0 2.4M124.9 511.6l3.4 -5.4m-2.2 1l2.2 -1l0 2.4M132.9 511.6l4.2 -6.7m-2.2 1l2.2 -1l0 2.4M141 511.6l5.8 -9.3m-2.2 1l2.2 -1l0 2.4M149 511.6l6.7 -10.7m-2.2 1l2.2 -1l0 2.4M157.1 511.6l5.6 -12m-2 1.3l2 -1.3l.3 2.4M165.2 511.6l4.8 -12.7m-1.9 1.4l1.9 -1.4l.5 2.3M173.2 511.6l4.7 -12.6m-1.9 1.4l1.9 -1.4l.5 2.3M181.3 511.6l3.4 -12.6m-1.8 1.6l1.8 -1.6l.7 2.3M189.3 511.6l2.1 -12.1m-1.6 1.8l1.6 -1.8l1 2.2M197.4 511.6l0 -11.5m-1.3 2l1.3 -2l1.3 2M205.5 511.6l-1.5 -10.8m-1 2.2l1 -2.2l1.6 1.8M213.5 511.6l-4.9 -9.6m-.2 2.4l.2 -2.4l2.1 1.2M221.6 511.6l-7.4 -9.4m.3 3.6l-.3 -3.6l3.4 1.2M229.6 511.6l-10.5 -11m.7 3.8l-.7 -3.8l3.8 .9M237.7 511.6l-13.1 -11.9m1 3.8l-1 -3.8l3.8 .6M245.8 511.6l-12.1 -11m1 3.8l-1 -3.8l3.8 .6M253.8 511.6l-9.4 -10.7m.6 3.9l-.6 -3.9l3.8 1.1M261.9 511.6l-6.5 -11.9m-.3 3.9l.3 -3.9l3.4 1.9M269.9 511.6l-4.6 -12.4m-.8 3.8l.8 -3.8l3.1 2.3M278 511.6l-3.4 -12.4m-1.2 3.7l1.2 -3.7l2.9 2.6M286.1 511.6l-2.1 -12.1m-1.4 3.4l1.4 -3.4l2.5 2.7M294.1 511.6l-1.8 -11.5m-1.4 3.2l1.4 -3.2l2.3 2.6M302.2 511.6l-2.1 -11.1m-1.3 3.1l1.3 -3.1l2.3 2.4M310.2 511.6l-2.7 -11.2m-1.1 3.3l1.1 -3.3l2.5 2.4M318.3 511.6l-5.3 -11.6m-.6 3.8l.6 -3.8l3.2 2M326.4 511.6l-10.5 5.2m3.5 .4l-3.5 -.4l1.8 -3M334.4 511.6l-9.7 12.7m3.7 -1.3l-3.7 1.3l.3 -3.9M342.5 511.6l-8.8 12.9m3.6 -1.5l-3.6 1.5l.1 -3.9M350.5 511.6l-7.2 12m3.5 -1.7l-3.5 1.7l-.1 -3.9M358.6 511.6l-5.5 11.1m3.2 -1.9l-3.2 1.9l-.4 -3.7M366.7 511.6l-4.6 10.3m2.9 -1.8l-2.9 1.8l-.5 -3.4M374.7 511.6l-4.2 9.9m2.7 -1.8l-2.7 1.8l-.6 -3.2M382.8 511.6l-3.8 10m2.6 -1.9l-2.6 1.9l-.7 -3.1M390.8 511.6l-3.3 10.6m2.6 -2.1l-2.6 2.1l-.9 -3.2M398.9 511.6l-2.7 11.3m2.5 -2.4l-2.5 2.4l-1.2 -3.3M407 511.6l-2 12.1m2.5 -2.7l-2.5 2.7l-1.5 -3.4M415 511.6l-1.3 12.8m2.4 -3l-2.4 3l-1.8 -3.4M423.1 511.6l-.8 13.3m2.3 -3.1l-2.3 3.1l-1.9 -3.4M431.1 511.6l-.5 13.5m2.3 -3.2l-2.3 3.2l-2 -3.4M439.2 511.6l-.4 13.3m2.2 -3.2l-2.2 3.2l-2 -3.3M447.3 511.6l-.2 13m2.2 -3.2l-2.2 3.2l-2.1 -3.3M455.3 511.6l-.1 12.4m2.1 -3.1l-2.1 3.1l-2 -3.1M463.4 511.6l-.1 11.8m2 -3l-2 3l-1.9 -3M471.4 511.6l-.1 11.2m1.9 -2.8l-1.9 2.8l-1.8 -2.8M479.5 511.6l-.1 10.8m1.8 -2.7l-1.8 2.7l-1.7 -2.7M487.6 511.6l-.3 10.4m1.8 -2.6l-1.8 2.6l-1.6 -2.7M495.6 511.6l-1.3 10.2m2 -2.3l-2 2.3l-1.3 -2.8M503.7 511.6l-2.8 9.8m2.3 -2l-2.3 2l-.9 -2.9M511.7 511.6l-3.3 9.8m2.4 -1.9l-2.4 1.9l-.8 -3M519.8 511.6l-3.5 9.9m2.5 -1.9l-2.5 1.9l-.7 -3.1M527.9 511.6l-3.7 10.2m2.6 -2l-2.6 2l-.7 -3.2M535.9 511.6l-4.5 10.2m2.8 -1.8l-2.8 1.8l-.5 -3.3M544 511.6l-6.7 9.1m3.2 -1.2l-3.2 1.2l.2 -3.4M552 511.6l-9.7 5.5m3.4 .2l-3.4 -.2l1.5 -3M560.1 511.6l-10.9 1.3m2.9 1.5l-2.9 -1.5l2.5 -2.1M568.2 511.6l-11 -.9m2.6 2l-2.6 -2l2.9 -1.6M576.2 511.6l-11 -2.6m2.3 2.5l-2.3 -2.5l3.2 -1.1M584.3 511.6l-10.6 -2.9m2.2 2.5l-2.2 -2.5l3.1 -1M592.3 511.6l-10.3 -2.4m2.2 2.3l-2.2 -2.3l3 -1.1M600.4 511.6l-10.7 -2.1m2.4 2.3l-2.4 -2.3l3 -1.2M608.5 511.6l-11.5 -2.2m2.5 2.4l-2.5 -2.4l3.3 -1.3M616.5 511.6l-11.3 -1.9m2.5 2.3l-2.5 -2.3l3.2 -1.4M624.6 511.6l-10.7 -1.4m2.5 2.1l-2.5 -2.1l2.9 -1.4M632.6 511.6l-11.4 -1m2.7 2.1l-2.7 -2.1l3 -1.6M640.7 511.6l-12 -.5m2.9 2.1l-2.9 -2.1l3.1 -1.8M648.8 511.6l-10.2 .2m2.6 1.6l-2.6 -1.6l2.5 -1.7M656.8 511.6l-7.4 .7m2.4 1.3l-2.4 -1.3l2.1 -1.7M664.9 511.6l-7.5 1.3m2.5 1.1l-2.5 -1.1l2 -1.8M672.9 511.6l-9.6 2.7m2.8 .9l-2.8 -.9l2 -2.2M681 511.6l-10.4 4m3.3 .7l-3.3 -.7l2 -2.7M689.1 511.6l-10.4 4.3m3.3 .6l-3.3 -.6l1.9 -2.8M697.1 511.6l-9.7 5.9m3.4 .1l-3.4 -.1l1.5 -3.1M705.2 511.6l-7.7 9.2m3.4 -1.1l-3.4 1.1l.4 -3.6M713.2 511.6l-5.9 12.2m3.3 -2l-3.3 2l-.5 -3.9M721.3 511.6l-4.3 15.2m2.9 -2.6l-2.9 2.6l-1.2 -3.7M116.8 507.3l3.5 -5.5m-2.2 1l2.2 -1l0 2.4M124.9 507.3l3.3 -5.3m-2.2 1l2.2 -1l0 2.4M132.9 507.3l3.7 -5.9m-2.2 1l2.2 -1l0 2.4M141 507.3l5.2 -8.3m-2.2 1l2.2 -1l0 2.4M149 507.3l6.2 -10m-2.2 1l2.2 -1l0 2.4M157.1 507.3l5.4 -11.5m-2 1.3l2 -1.3l.3 2.4M165.2 507.3l4.6 -12.3m-1.9 1.4l1.9 -1.4l.5 2.3M173.2 507.3l4.7 -12.4m-1.9 1.4l1.9 -1.4l.5 2.3M181.3 507.3l3.4 -12.5m-1.8 1.6l1.8 -1.6l.7 2.3M189.3 507.3l2.1 -12.2m-1.6 1.8l1.6 -1.8l1 2.2M197.4 507.3l0 -11.7m-1.3 2l1.3 -2l1.3 2M205.5 507.3l-1.7 -11m-1 2.2l1 -2.2l1.6 1.8M213.5 507.3l-5.2 -9.7m-.2 2.4l.2 -2.4l2.1 1.2M221.6 507.3l-7.6 -9.6m.3 3.7l-.3 -3.7l3.5 1.2M229.6 507.3l-10.8 -11.3m.7 3.8l-.7 -3.8l3.8 .9M237.7 507.3l-13.5 -12.3m1 3.8l-1 -3.8l3.8 .6M245.8 507.3l-12.5 -11.2m1 3.8l-1 -3.8l3.9 .6M253.8 507.3l-9.6 -10.8m.6 3.9l-.6 -3.9l3.8 1M261.9 507.3l-6.7 -12m-.3 3.9l.3 -3.9l3.4 1.8M269.9 507.3l-4.9 -12.5m-.8 3.8l.8 -3.8l3.2 2.3M278 507.3l-3.7 -12.5m-1.1 3.7l1.1 -3.7l3 2.5M286.1 507.3l-2.4 -12.2m-1.4 3.5l1.4 -3.5l2.6 2.7M294.1 507.3l-2 -11.6m-1.4 3.3l1.4 -3.3l2.4 2.6M302.2 507.3l-2.4 -11.1m-1.2 3.2l1.2 -3.2l2.4 2.4M310.2 507.3l-2.9 -11.1m-1.1 3.3l1.1 -3.3l2.5 2.3M318.3 507.3l-4.8 -11.6m-.7 3.7l.7 -3.7l3.1 2.1M326.4 507.3l-10.6 2.3m3 1.2l-3 -1.2l2.3 -2.3M334.4 507.3l-10.1 12.4m3.7 -1.2l-3.7 1.2l.4 -3.9M342.5 507.3l-9.4 13.1m3.6 -1.4l-3.6 1.4l.2 -3.9M350.5 507.3l-8.2 12.3m3.6 -1.5l-3.6 1.5l.1 -3.9M358.6 507.3l-6.6 11.4m3.5 -1.8l-3.5 1.8l-.2 -3.9M366.7 507.3l-5.4 10.7m3.1 -1.8l-3.1 1.8l-.4 -3.6M374.7 507.3l-4.6 10.1m2.8 -1.8l-2.8 1.8l-.5 -3.3M382.8 507.3l-4.1 10.1m2.7 -1.9l-2.7 1.9l-.6 -3.2M390.8 507.3l-3.6 10.4m2.6 -2l-2.6 2l-.8 -3.2M398.9 507.3l-3 11m2.5 -2.3l-2.5 2.3l-1.1 -3.3M407 507.3l-2.2 11.7m2.5 -2.6l-2.5 2.6l-1.4 -3.3M415 507.3l-1.4 12.3m2.4 -2.9l-2.4 2.9l-1.7 -3.3M423.1 507.3l-.9 12.7m2.3 -3l-2.3 3l-1.8 -3.4M431.1 507.3l-.7 12.9m2.3 -3.1l-2.3 3.1l-1.9 -3.4M439.2 507.3l-.5 12.8m2.2 -3.2l-2.2 3.2l-2 -3.3M447.3 507.3l-.3 12.5m2.1 -3.1l-2.1 3.1l-2 -3.2M455.3 507.3l-.1 12.1m2 -3l-2 3l-1.9 -3.1M463.4 507.3l0 11.6m1.9 -2.9l-1.9 2.9l-1.9 -2.9M471.4 507.3l.1 11.1m1.8 -2.8l-1.8 2.8l-1.8 -2.8M479.5 507.3l.2 10.7m1.7 -2.7l-1.7 2.7l-1.8 -2.7M487.6 507.3l.2 10.4m1.7 -2.6l-1.7 2.6l-1.7 -2.6M495.6 507.3l-.6 10.2m1.8 -2.5l-1.8 2.5l-1.5 -2.7M503.7 507.3l-2.1 10m2.2 -2.2l-2.2 2.2l-1.1 -2.9M511.7 507.3l-2.7 9.9m2.3 -2.1l-2.3 2.1l-1 -2.9M519.8 507.3l-2.9 10.1m2.4 -2.1l-2.4 2.1l-.9 -3M527.9 507.3l-3.2 10.2m2.5 -2l-2.5 2l-.9 -3.1M535.9 507.3l-4.5 9.9m2.7 -1.8l-2.7 1.8l-.5 -3.2M544 507.3l-6.1 8.8m3 -1.2l-3 1.2l.1 -3.2M552 507.3l-7.4 6.8m3 -.5l-3 .5l.8 -2.9M560.1 507.3l-9 2.1m2.6 .9l-2.6 -.9l1.9 -2M568.2 507.3l-8.8 -1.8m1.9 1.9l-1.9 -1.9l2.5 -1M576.2 507.3l-8.7 -2.8m1.7 2.1l-1.7 -2.1l2.7 -.7M584.3 507.3l-8.2 -2.6m1.7 2.1l-1.7 -2.1l2.6 -.7M592.3 507.3l-7.3 -2.1m1.8 2l-1.8 -2l2.6 -.8M600.4 507.3l-7.7 -2m1.8 2l-1.8 -2l2.6 -.9M608.5 507.3l-8.6 -1.9m1.9 1.9l-1.9 -1.9l2.5 -.9M616.5 507.3l-7.9 -1.5m2 1.9l-2 -1.9l2.5 -1M624.6 507.3l-6.7 -.9m2 1.8l-2 -1.8l2.4 -1.2M632.6 507.3l-7.9 -.6m2.2 1.6l-2.2 -1.6l2.4 -1.3M640.7 507.3l-9.2 .1m2.3 1.5l-2.3 -1.5l2.3 -1.5M648.8 507.3l-7.3 .8m2.4 1.2l-2.4 -1.2l2.1 -1.7M656.8 507.3l-4.1 1m2.5 .9l-2.5 -.9l1.9 -2M664.9 507.3l-4.3 1.9m2.7 .5l-2.7 -.5l1.5 -2.2M672.9 507.3l-6.5 4.6m2.7 -.1l-2.7 .1l1 -2.5M681 507.3l-7 7m2.9 -.6l-2.9 .6l.6 -2.9M689.1 507.3l-7.5 7.3m3.1 -.6l-3.1 .6l.7 -3.1M697.1 507.3l-5.5 9.2m2.9 -1.4l-2.9 1.4l-.1 -3.2M705.2 507.3l-2.2 11.4m2.4 -2.5l-2.4 2.5l-1.3 -3.2M713.2 507.3l-1.4 13.4m2.5 -3l-2.5 3l-1.8 -3.5M721.3 507.3l-.6 16m2.2 -3.2l-2.2 3.2l-2 -3.3M116.8 503l3.5 -5.6m-2.2 1l2.2 -1l0 2.4M124.9 503l4.3 -4.6m-2.3 .6l2.3 -.6l-.4 2.4M132.9 503l3.4 -5.5m-2.2 1l2.2 -1l0 2.4M141 503l4.6 -7.3m-2.2 1l2.2 -1l0 2.4M149 503l5.8 -9.3m-2.2 1l2.2 -1l0 2.4M157.1 503l5.1 -11m-2 1.3l2 -1.3l.3 2.4M165.2 503l4.5 -12m-1.9 1.4l1.9 -1.4l.5 2.3M173.2 503l4.6 -12.3m-1.9 1.4l1.9 -1.4l.5 2.3M181.3 503l3 -12.7m-1.7 1.7l1.7 -1.7l.8 2.3M189.3 503l2.1 -12.4m-1.6 1.8l1.6 -1.8l1 2.2M197.4 503l0 -11.9m-1.3 2l1.3 -2l1.3 2M205.5 503l-1.8 -11.2m-1 2.2l1 -2.2l1.6 1.8M213.5 503l-5.4 -9.8m-.2 2.4l.2 -2.4l2.1 1.1M221.6 503l-7.7 -9.8m.3 3.7l-.3 -3.7l3.5 1.2M229.6 503l-11 -11.6m.7 3.8l-.7 -3.8l3.8 .9M237.7 503l-13.9 -12.6m1 3.8l-1 -3.8l3.8 .6M245.8 503l-12.7 -11.4m1 3.8l-1 -3.8l3.9 .6M253.8 503l-9.8 -10.9m.6 3.9l-.6 -3.9l3.8 1M261.9 503l-6.8 -12.1m-.2 3.9l.2 -3.9l3.5 1.8M269.9 503l-5 -12.7m-.8 3.8l.8 -3.8l3.2 2.3M278 503l-3.8 -12.6m-1.1 3.7l1.1 -3.7l3 2.5M286.1 503l-2.5 -12.3m-1.4 3.5l1.4 -3.5l2.6 2.7M294.1 503l-2.1 -11.7m-1.4 3.3l1.4 -3.3l2.4 2.6M302.2 503l-2.5 -11.1m-1.2 3.2l1.2 -3.2l2.4 2.4M310.2 503l-2.9 -11m-1.1 3.2l1.1 -3.2l2.5 2.3M318.3 503l-4.4 -11.4m-.8 3.6l.8 -3.6l3 2.2M326.4 503l-10.2 -1.1m2.4 1.9l-2.4 -1.9l2.7 -1.4M334.4 503l-10.5 11.8m3.8 -1l-3.8 1l.6 -3.9M342.5 503l-9.9 13m3.7 -1.3l-3.7 1.3l.3 -3.9M350.5 503l-9.4 12.4m3.7 -1.3l-3.7 1.3l.3 -3.9M358.6 503l-8.1 11.5m3.6 -1.4l-3.6 1.4l.2 -3.9M366.7 503l-6.4 10.9m3.4 -1.7l-3.4 1.7l-.2 -3.8M374.7 503l-5.2 10.4m3 -1.8l-3 1.8l-.4 -3.5M382.8 503l-4.5 10.2m2.8 -1.8l-2.8 1.8l-.5 -3.3M390.8 503l-4 10.3m2.7 -1.9l-2.7 1.9l-.7 -3.2M398.9 503l-3.3 10.8m2.6 -2.2l-2.6 2.2l-.9 -3.3M407 503l-2.4 11.4m2.5 -2.5l-2.5 2.5l-1.2 -3.3M415 503l-1.7 11.9m2.4 -2.7l-2.4 2.7l-1.5 -3.3M423.1 503l-1.2 12.3m2.3 -2.9l-2.3 2.9l-1.7 -3.3M431.1 503l-.9 12.5m2.3 -3l-2.3 3l-1.8 -3.3M439.2 503l-.6 12.4m2.2 -3l-2.2 3l-1.9 -3.2M447.3 503l-.4 12.2m2.1 -3l-2.1 3l-1.9 -3.1M455.3 503l-.2 11.9m2 -3l-2 3l-1.9 -3M463.4 503l0 11.4m1.9 -2.9l-1.9 2.9l-1.9 -2.9M471.4 503l.3 11m1.7 -2.8l-1.7 2.8l-1.9 -2.7M479.5 503l.5 10.6m1.6 -2.8l-1.6 2.8l-1.9 -2.6M487.6 503l.6 10.4m1.5 -2.7l-1.5 2.7l-1.9 -2.5M495.6 503l.2 10.2m1.6 -2.6l-1.6 2.6l-1.7 -2.5M503.7 503l-.9 10.1m1.9 -2.4l-1.9 2.4l-1.4 -2.7M511.7 503l-1.6 10.1m2 -2.3l-2 2.3l-1.3 -2.8M519.8 503l-1.8 10.2m2.1 -2.3l-2.1 2.3l-1.2 -2.9M527.9 503l-2.4 10.2m2.3 -2.2l-2.3 2.2l-1.1 -3M535.9 503l-4.5 9.5m2.7 -1.7l-2.7 1.7l-.4 -3.1M544 503l-5.8 8m2.8 -1.1l-2.8 1.1l.2 -3M552 503l-6.2 5.9m2.7 -.5l-2.7 .5l.6 -2.6M560.1 503l-6.9 1.4m2.5 1l-2.5 -1l1.9 -1.9M568.2 503l-6.2 -2.1m1.7 2.1l-1.7 -2.1l2.6 -.7M576.2 503l-6.3 -2.6m1.5 2.2l-1.5 -2.2l2.7 -.5M584.3 503l-5.6 -2.2m1.6 2.2l-1.6 -2.2l2.6 -.6M592.3 503l-4.5 -1.6m1.6 2.1l-1.6 -2.1l2.6 -.6M600.4 503l-4.8 -1.6m1.7 2.1l-1.7 -2.1l2.6 -.7M608.5 503l-5.9 -1.6m1.8 2l-1.8 -2l2.6 -.8M616.5 503l-5 -1.1m1.9 1.9l-1.9 -1.9l2.5 -1M624.6 503l-3.5 -.5m2 1.8l-2 -1.8l2.4 -1.2M632.6 503l-5.2 -.1m2.2 1.5l-2.2 -1.5l2.3 -1.4M640.7 503l-7.1 1.1m2.5 1.1l-2.5 -1.1l2 -1.8M648.8 503l-5.3 2.5m2.7 .4l-2.7 -.4l1.4 -2.3M656.8 503l-1.9 2.1m2.6 -.7l-2.6 .7l.4 -2.7M664.9 503l-.9 3.3m2 -1.8l-2 1.8l-.8 -2.6M672.9 503l.5 7.4m1.3 -2.4l-1.3 2.4l-1.6 -2.2M681 503l2.2 9.6m1 -2.8l-1 2.8l-2.1 -2.1M689.1 503l1.8 10.5m1.3 -2.9l-1.3 2.9l-2.2 -2.3M697.1 503l4.2 10.2m.6 -3.3l-.6 3.3l-2.7 -1.9M705.2 503l3.3 11.6m1.1 -3.5l-1.1 3.5l-2.7 -2.4M713.2 503l.8 13.9m1.9 -3.4l-1.9 3.4l-2.3 -3.2M721.3 503l.7 16.5m2 -3.4l-2 3.4l-2.3 -3.2M116.8 498.7l4.5 -4.8m-2.3 .6l2.3 -.6l-.4 2.4M124.9 498.7l4.3 -4.6m-2.3 .6l2.3 -.6l-.4 2.4M132.9 498.7l4.2 -4.5m-2.3 .6l2.3 -.6l-.4 2.4M141 498.7l4 -6.5m-2.2 1l2.2 -1l0 2.4M149 498.7l5.4 -8.6m-2.2 1l2.2 -1l0 2.4M157.1 498.7l4.9 -10.5m-2 1.3l2 -1.3l.3 2.4M165.2 498.7l4.4 -11.7m-1.9 1.4l1.9 -1.4l.5 2.3M173.2 498.7l3.9 -12.4m-1.8 1.5l1.8 -1.5l.6 2.3M181.3 498.7l3 -12.7m-1.7 1.7l1.7 -1.7l.8 2.3M189.3 498.7l2.1 -12.6m-1.6 1.8l1.6 -1.8l1 2.2M197.4 498.7l0 -12.2m-1.3 2l1.3 -2l1.3 2M205.5 498.7l-1.9 -11.4m-1 2.2l1 -2.2l1.6 1.8M213.5 498.7l-5.5 -10m-.2 2.4l.2 -2.4l2.1 1.1M221.6 498.7l-7.8 -10m.3 3.8l-.3 -3.8l3.6 1.2M229.6 498.7l-11.2 -11.8m.7 3.8l-.7 -3.8l3.8 .9M237.7 498.7l-14.1 -12.8m1 3.8l-1 -3.8l3.8 .6M245.8 498.7l-12.9 -11.5m1 3.8l-1 -3.8l3.9 .6M253.8 498.7l-10 -10.9m.6 3.8l-.6 -3.8l3.8 1M261.9 498.7l-7 -12.1m-.2 3.9l.2 -3.9l3.5 1.8M269.9 498.7l-5.1 -12.7m-.7 3.8l.7 -3.8l3.2 2.2M278 498.7l-3.9 -12.7m-1.1 3.7l1.1 -3.7l3 2.5M286.1 498.7l-2.5 -12.4m-1.4 3.5l1.4 -3.5l2.7 2.7M294.1 498.7l-2.2 -11.7m-1.4 3.3l1.4 -3.3l2.5 2.6M302.2 498.7l-2.5 -11.1m-1.2 3.2l1.2 -3.2l2.4 2.4M310.2 498.7l-2.9 -10.9m-1 3.2l1 -3.2l2.5 2.3M318.3 498.7l-4.1 -11.3m-.8 3.5l.8 -3.5l2.9 2.2M326.4 498.7l-9.2 -4.6m1.6 2.7l-1.6 -2.7l3.1 -.3M334.4 498.7l-11.1 10.6m3.8 -.7l-3.8 .7l.9 -3.8M342.5 498.7l-10.5 12.5m3.7 -1.1l-3.7 1.1l.5 -3.9M350.5 498.7l-10.5 12.1m3.8 -1.1l-3.8 1.1l.5 -3.9M358.6 498.7l-9.6 11.3m3.7 -1.1l-3.7 1.1l.5 -3.9M366.7 498.7l-7.7 11m3.6 -1.5l-3.6 1.5l.1 -3.9M374.7 498.7l-5.9 10.7m3.2 -1.7l-3.2 1.7l-.3 -3.7M382.8 498.7l-4.9 10.3m2.9 -1.8l-2.9 1.8l-.4 -3.4M390.8 498.7l-4.4 10.3m2.8 -1.9l-2.8 1.9l-.6 -3.3M398.9 498.7l-3.8 10.6m2.7 -2l-2.7 2l-.8 -3.3M407 498.7l-2.9 11.1m2.5 -2.3l-2.5 2.3l-1.1 -3.3M415 498.7l-2 11.6m2.4 -2.6l-2.4 2.6l-1.4 -3.3M423.1 498.7l-1.5 12m2.3 -2.8l-2.3 2.8l-1.6 -3.3M431.1 498.7l-1.1 12.1m2.3 -2.9l-2.3 2.9l-1.7 -3.2M439.2 498.7l-.8 12.1m2.2 -2.9l-2.2 2.9l-1.8 -3.2M447.3 498.7l-.5 12m2.1 -2.9l-2.1 2.9l-1.8 -3.1M455.3 498.7l-.2 11.7m2 -2.9l-2 2.9l-1.9 -3M463.4 498.7l.1 11.3m1.8 -2.9l-1.8 2.9l-1.9 -2.8M471.4 498.7l.4 10.9m1.7 -2.8l-1.7 2.8l-1.9 -2.7M479.5 498.7l.7 10.6m1.5 -2.8l-1.5 2.8l-1.9 -2.5M487.6 498.7l.9 10.3m1.4 -2.7l-1.4 2.7l-1.9 -2.4M495.6 498.7l.9 10.1m1.4 -2.7l-1.4 2.7l-1.9 -2.4M503.7 498.7l.5 10.1m1.5 -2.6l-1.5 2.6l-1.8 -2.4M511.7 498.7l.2 10.1m1.6 -2.6l-1.6 2.6l-1.7 -2.5M519.8 498.7l-.1 10.1m1.7 -2.5l-1.7 2.5l-1.6 -2.6M527.9 498.7l-1 10.1m1.9 -2.4l-1.9 2.4l-1.4 -2.7M535.9 498.7l-4.1 9m2.5 -1.6l-2.5 1.6l-.4 -2.9M544 498.7l-5.6 7m2.6 -.9l-2.6 .9l.3 -2.7M552 498.7l-5.4 4.3m2.7 -.3l-2.7 .3l.9 -2.6M560.1 498.7l-4.8 -.1m2.2 1.5l-2.2 -1.5l2.3 -1.4M568.2 498.7l-3.8 -1.9m1.4 2.3l-1.4 -2.3l2.7 -.3M576.2 498.7l-4.1 -2.3m1.3 2.4l-1.3 -2.4l2.7 -.2M584.3 498.7l-3.6 -1.9m1.3 2.4l-1.3 -2.4l2.7 -.2M592.3 498.7l-2.4 -1.3m1.3 2.4l-1.3 -2.4l2.7 -.3M600.4 498.7l-2.8 -1.4m1.4 2.3l-1.4 -2.3l2.7 -.3M608.5 498.7l-4.2 -1.8m1.5 2.3l-1.5 -2.3l2.7 -.4M616.5 498.7l-3.6 -1.2m1.7 2.1l-1.7 -2.1l2.6 -.6M624.6 498.7l-2.1 -.3m2 1.8l-2 -1.8l2.5 -1.1M632.6 498.7l-3.4 2.2m2.7 0l-2.7 0l1.1 -2.5M640.7 498.7l2 6.5m.8 -2.6l-.8 2.6l-2.1 -1.7M648.8 498.7l3.7 5m-.2 -2.7l.2 2.7l-2.5 -.9M656.8 498.7l2.3 2.5m-.5 -2.7l.5 2.7l-2.6 -.6M664.9 498.7l3 2.9m-.6 -2.6l.6 2.6l-2.7 -.5M672.9 498.7l6.2 5.5m-.7 -2.6l.7 2.6l-2.7 -.4M681 498.7l8.3 7.3m-.9 -3.2l.9 3.2l-3.3 -.5M689.1 498.7l8.8 7.9m-.9 -3.4l.9 3.4l-3.5 -.5M697.1 498.7l9.2 7.8m-1 -3.5l1 3.5l-3.6 -.5M705.2 498.7l6.7 11m.1 -3.9l-.1 3.9l-3.5 -1.7M713.2 498.7l2.2 14.6m1.6 -3.5l-1.6 3.5l-2.6 -2.9M721.3 498.7l1.5 17.1m1.8 -3.4l-1.8 3.4l-2.4 -3.1M124.9 494.4l4.3 -4.6m-2.3 .6l2.3 -.6l-.4 2.4M132.9 494.4l4.2 -4.4m-2.3 .6l2.3 -.6l-.4 2.4M141 494.4l3.6 -5.8m-2.2 1l2.2 -1l0 2.4M149 494.4l5 -8m-2.2 1l2.2 -1l0 2.4M157.1 494.4l4.7 -10.1m-2 1.3l2 -1.3l.3 2.4M165.2 494.4l4.3 -11.5m-1.9 1.4l1.9 -1.4l.5 2.3M173.2 494.4l3.9 -12.3m-1.8 1.5l1.8 -1.5l.6 2.3M181.3 494.4l3 -12.8m-1.7 1.7l1.7 -1.7l.8 2.3M189.3 494.4l2.2 -12.8m-1.6 1.8l1.6 -1.8l1 2.2M197.4 494.4l0 -12.5m-1.3 2l1.3 -2l1.3 2M205.5 494.4l-1.8 -11.7m-1 2.2l1 -2.2l1.6 1.8M213.5 494.4l-5.4 -10.3m-.2 2.4l.2 -2.4l2.1 1.2M221.6 494.4l-7.9 -10.2m.3 3.8l-.3 -3.8l3.6 1.3M229.6 494.4l-11.3 -11.9m.7 3.8l-.7 -3.8l3.8 .9M237.7 494.4l-14.2 -12.8m1 3.8l-1 -3.8l3.9 .6M245.8 494.4l-13 -11.5m1 3.8l-1 -3.8l3.9 .6M253.8 494.4l-10.2 -10.8m.7 3.8l-.7 -3.8l3.8 .9M261.9 494.4l-7.3 -12m-.1 3.9l.1 -3.9l3.5 1.7M269.9 494.4l-5.3 -12.7m-.7 3.8l.7 -3.8l3.2 2.2M278 494.4l-3.9 -12.7m-1.1 3.8l1.1 -3.8l3 2.5M286.1 494.4l-2.5 -12.4m-1.4 3.5l1.4 -3.5l2.7 2.7M294.1 494.4l-2.2 -11.7m-1.4 3.3l1.4 -3.3l2.5 2.6M302.2 494.4l-2.5 -11.1m-1.2 3.2l1.2 -3.2l2.5 2.4M310.2 494.4l-3 -10.8m-1 3.2l1 -3.2l2.5 2.2M318.3 494.4l-3.9 -11m-.8 3.4l.8 -3.4l2.8 2.1M326.4 494.4l-8.2 -7.7m.8 3.3l-.8 -3.3l3.3 .6M334.4 494.4l-12 7.9m3.9 0l-3.9 0l1.6 -3.6M342.5 494.4l-11.3 11.5m3.8 -.9l-3.8 .9l.8 -3.8M350.5 494.4l-11.5 11.6m3.8 -.8l-3.8 .8l.8 -3.8M358.6 494.4l-10.8 11.2m3.8 -.9l-3.8 .9l.7 -3.8M366.7 494.4l-9 11m3.7 -1.2l-3.7 1.2l.4 -3.9M374.7 494.4l-6.9 10.9m3.5 -1.6l-3.5 1.6l0 -3.9M382.8 494.4l-5.5 10.6m3.1 -1.8l-3.1 1.8l-.3 -3.6M390.8 494.4l-4.9 10.4m2.9 -1.8l-2.9 1.8l-.5 -3.4M398.9 494.4l-4.2 10.5m2.8 -1.9l-2.8 1.9l-.6 -3.3M407 494.4l-3.3 10.9m2.6 -2.2l-2.6 2.2l-.9 -3.3M415 494.4l-2.4 11.4m2.5 -2.5l-2.5 2.5l-1.2 -3.3M423.1 494.4l-1.8 11.7m2.4 -2.6l-2.4 2.6l-1.5 -3.2M431.1 494.4l-1.4 11.9m2.3 -2.8l-2.3 2.8l-1.6 -3.2M439.2 494.4l-1 11.9m2.2 -2.8l-2.2 2.8l-1.7 -3.2M447.3 494.4l-.6 11.8m2.1 -2.9l-2.1 2.9l-1.8 -3.1M455.3 494.4l-.3 11.5m2 -2.8l-2 2.8l-1.8 -3M463.4 494.4l0 11.2m1.8 -2.8l-1.8 2.8l-1.8 -2.8M471.4 494.4l.5 10.8m1.7 -2.8l-1.7 2.8l-1.9 -2.6M479.5 494.4l.9 10.5m1.5 -2.8l-1.5 2.8l-1.9 -2.5M487.6 494.4l1.1 10.2m1.4 -2.7l-1.4 2.7l-1.9 -2.4M495.6 494.4l1.4 10m1.3 -2.7l-1.3 2.7l-2 -2.3M503.7 494.4l1.8 9.8m1.1 -2.8l-1.1 2.8l-2.1 -2.2M511.7 494.4l2.1 9.6m1 -2.8l-1 2.8l-2.1 -2.1M519.8 494.4l2 9.6m1.1 -2.7l-1.1 2.7l-2.1 -2.1M527.9 494.4l1.1 9.3m1.2 -2.5l-1.2 2.5l-1.8 -2.1M535.9 494.4l-2.4 7.3m2.1 -1.7l-2.1 1.7l-.7 -2.6M544 494.4l-4.6 5.4m2.6 -.8l-2.6 .8l.4 -2.7M552 494.4l-4.4 2.2m2.7 .3l-2.7 -.3l1.4 -2.3M560.1 494.4l-3 -1.2m1.5 2.2l-1.5 -2.2l2.7 -.5M568.2 494.4l-1.9 -1.8m.7 2.6l-.7 -2.6l2.7 .5M576.2 494.4l-2.3 -2.5m.5 2.7l-.5 -2.7l2.6 .7M584.3 494.4l-2 -2.4m.3 2.7l-.3 -2.7l2.6 .8M592.3 494.4l-1.1 -1.7m0 2.7l0 -2.7l2.5 1.1M600.4 494.4l-.8 -2.4m-.7 2.6l.7 -2.6l2.1 1.7M608.5 494.4l1.5 -3.9m-2.2 1.6l2.2 -1.6l.5 2.6M616.5 494.4l3.6 -1m-2.6 -.8l2.6 .8l-1.8 2M624.6 494.4l2.3 .3m-2.1 -1.7l2.1 1.7l-2.4 1.2M632.6 494.4l4.5 1.3m-1.8 -2l1.8 2l-2.6 .8M640.7 494.4l7.7 2.9m-1.6 -2.2l1.6 2.2l-2.6 .6M648.8 494.4l7.6 3.2m-1.5 -2.2l1.5 2.2l-2.7 .5M656.8 494.4l5.4 2.5m-1.4 -2.3l1.4 2.3l-2.7 .4M664.9 494.4l6.1 3m-1.4 -2.3l1.4 2.3l-2.7 .3M672.9 494.4l9.4 4.9m-1.6 -2.8l1.6 2.8l-3.1 .3M681 494.4l11.2 6.2m-1.8 -3.4l1.8 3.4l-3.8 .3M689.1 494.4l11.2 7.1m-1.6 -3.5l1.6 3.5l-3.9 0M697.1 494.4l10.9 7.6m-1.5 -3.6l1.5 3.6l-3.9 -.1M705.2 494.4l9 10.7m-.5 -3.9l.5 3.9l-3.7 -1.1M713.2 494.4l4.7 14.8m1 -3.8l-1 3.8l-3 -2.5M721.3 494.4l3.6 17.3m1.4 -3.6l-1.4 3.6l-2.7 -2.8M124.9 490.1l4.4 -4.6m-2.3 .6l2.3 -.6l-.4 2.4M132.9 490.1l4.2 -4.5m-2.3 .6l2.3 -.6l-.4 2.4M141 490.1l4.4 -4.7m-2.3 .6l2.3 -.6l-.4 2.4M149 490.1l4.5 -7.3m-2.2 1l2.2 -1l0 2.4M157.1 490.1l4.6 -9.7m-2 1.3l2 -1.3l.3 2.4M165.2 490.1l5.1 -10.9m-2 1.3l2 -1.3l.3 2.4M173.2 490.1l3.8 -12.3m-1.8 1.5l1.8 -1.5l.6 2.3M181.3 490.1l3 -13m-1.7 1.7l1.7 -1.7l.8 2.3M189.3 490.1l2.2 -13.1m-1.6 1.8l1.6 -1.8l1 2.2M197.4 490.1l0 -12.8m-1.3 2l1.3 -2l1.3 2M205.5 490.1l-1.7 -12.1m-1 2.2l1 -2.2l1.6 1.8M213.5 490.1l-5.2 -10.7m-.3 2.4l.3 -2.4l2.1 1.2M221.6 490.1l-7.7 -10.4m.2 3.9l-.2 -3.9l3.7 1.4M229.6 490.1l-11.2 -12m.7 3.8l-.7 -3.8l3.8 .9M237.7 490.1l-14.2 -12.8m1 3.8l-1 -3.8l3.9 .6M245.8 490.1l-13.1 -11.4m1.1 3.8l-1.1 -3.8l3.9 .6M253.8 490.1l-10.5 -10.5m.8 3.8l-.8 -3.8l3.8 .8M261.9 490.1l-7.8 -11.7m.1 3.9l-.1 -3.9l3.6 1.5M269.9 490.1l-5.7 -12.5m-.6 3.9l.6 -3.9l3.3 2.1M278 490.1l-4.1 -12.7m-1 3.8l1 -3.8l3 2.5M286.1 490.1l-2.6 -12.4m-1.4 3.5l1.4 -3.5l2.7 2.7M294.1 490.1l-2.3 -11.7m-1.3 3.3l1.3 -3.3l2.5 2.6M302.2 490.1l-2.6 -11m-1.1 3.2l1.1 -3.2l2.5 2.3M310.2 490.1l-3.1 -10.6m-1 3.2l1 -3.2l2.5 2.2M318.3 490.1l-4 -10.6m-.7 3.3l.7 -3.3l2.8 2M326.4 490.1l-7.7 -9.8m.3 3.7l-.3 -3.7l3.5 1.2M334.4 490.1l-12.3 2.8m3.6 1.3l-3.6 -1.3l2.6 -2.7M342.5 490.1l-12 10m3.9 -.5l-3.9 .5l1.2 -3.7M350.5 490.1l-12 11.1m3.8 -.7l-3.8 .7l1 -3.8M358.6 490.1l-11.5 11.1m3.8 -.7l-3.8 .7l.9 -3.8M366.7 490.1l-10.1 10.9m3.8 -1l-3.8 1l.7 -3.8M374.7 490.1l-8.1 11m3.7 -1.4l-3.7 1.4l.2 -3.9M382.8 490.1l-6.4 10.8m3.4 -1.7l-3.4 1.7l-.1 -3.8M390.8 490.1l-5.5 10.5m3.1 -1.7l-3.1 1.7l-.3 -3.5M398.9 490.1l-4.7 10.4m2.9 -1.9l-2.9 1.9l-.5 -3.4M407 490.1l-3.8 10.8m2.7 -2.1l-2.7 2.1l-.8 -3.3M415 490.1l-2.9 11.2m2.5 -2.3l-2.5 2.3l-1.1 -3.3M423.1 490.1l-2.2 11.5m2.4 -2.5l-2.4 2.5l-1.3 -3.2M431.1 490.1l-1.7 11.7m2.3 -2.7l-2.3 2.7l-1.5 -3.2M439.2 490.1l-1.3 11.7m2.2 -2.7l-2.2 2.7l-1.6 -3.1M447.3 490.1l-.8 11.6m2.1 -2.8l-2.1 2.8l-1.7 -3.1M455.3 490.1l-.4 11.4m2 -2.8l-2 2.8l-1.7 -2.9M463.4 490.1l0 11.1m1.8 -2.8l-1.8 2.8l-1.8 -2.8M471.4 490.1l.5 10.7m1.6 -2.8l-1.6 2.8l-1.9 -2.6M479.5 490.1l.9 10.4m1.5 -2.8l-1.5 2.8l-1.9 -2.5M487.6 490.1l1.2 10.1m1.4 -2.7l-1.4 2.7l-1.9 -2.4M495.6 490.1l1.6 9.8m1.2 -2.7l-1.2 2.7l-2 -2.2M503.7 490.1l2.7 9.4m.9 -2.8l-.9 2.8l-2.2 -1.9M511.7 490.1l3.6 9m.6 -2.8l-.6 2.8l-2.4 -1.7M519.8 490.1l3.7 8.8m.5 -2.8l-.5 2.8l-2.4 -1.6M527.9 490.1l3.1 7.9m.5 -2.6l-.5 2.6l-2.2 -1.6M535.9 490.1l.8 5.9m1.1 -2.4l-1.1 2.4l-1.8 -2M544 490.1l-1.7 4m2.2 -1.5l-2.2 1.5l-.5 -2.7M552 490.1l-2.7 -.1m2.2 1.5l-2.2 -1.5l2.3 -1.4M560.1 490.1l-1 -2.2m-.4 2.7l.4 -2.7l2.3 1.4M568.2 490.1l-.2 -2m-1.2 2.4l1.2 -2.4l1.7 2.1M576.2 490.1l.7 -2.9m-2 1.9l2 -1.9l.9 2.5M584.3 490.1l1.7 -2.5m-2.5 1.1l2.5 -1.1l0 2.7M592.3 490.1l1.7 -1.2m-2.7 .2l2.7 -.2l-.9 2.5M600.4 490.1l2.6 -.9m-2.6 -.6l2.6 .6l-1.7 2.1M608.5 490.1l4.8 -.6m-2.4 -1.2l2.4 1.2l-2.1 1.7M616.5 490.1l5.3 .1m-2.2 -1.5l2.2 1.5l-2.3 1.4M624.6 490.1l4.6 .6m-2.1 -1.7l2.1 1.7l-2.4 1.2M632.6 490.1l7 1.4m-1.9 -1.9l1.9 1.9l-2.5 1M640.7 490.1l10.5 2.7m-2.2 -2.4l2.2 2.4l-3.1 1M648.8 490.1l11 3.3m-2.2 -2.6l2.2 2.6l-3.3 1M656.8 490.1l9.5 3.2m-1.9 -2.4l1.9 2.4l-2.9 .8M664.9 490.1l10.1 3.6m-1.9 -2.6l1.9 2.6l-3.1 .7M672.9 490.1l12.3 4.8m-2.3 -3.2l2.3 3.2l-3.8 .8M681 490.1l13.3 5.9m-2.1 -3.3l2.1 3.3l-3.9 .6M689.1 490.1l12.6 7.5m-1.7 -3.5l1.7 3.5l-3.9 .2M697.1 490.1l12 8.1m-1.5 -3.6l1.5 3.6l-3.9 -.1M705.2 490.1l10 11.1m-.6 -3.9l.6 3.9l-3.8 -1M713.2 490.1l7.4 14.4m.4 -3.9l-.4 3.9l-3.4 -1.9M721.3 490.1l7.1 16.7m.7 -3.8l-.7 3.8l-3.2 -2.2M124.9 485.8l4.4 -4.7m-2.3 .6l2.3 -.6l-.4 2.4M132.9 485.8l4.2 -4.5m-2.3 .6l2.3 -.6l-.4 2.4M141 485.8l4.2 -4.5m-2.3 .6l2.3 -.6l-.4 2.4M149 485.8l4.1 -6.6m-2.2 1l2.2 -1l0 2.4M157.1 485.8l5.4 -8.7m-2.2 1l2.2 -1l0 2.4M165.2 485.8l5 -10.7m-2 1.3l2 -1.3l.3 2.4M173.2 485.8l4.5 -12.1m-1.9 1.4l1.9 -1.4l.5 2.3M181.3 485.8l3.1 -13.1m-1.7 1.7l1.7 -1.7l.8 2.3M189.3 485.8l2.3 -13.3m-1.6 1.8l1.6 -1.8l1 2.2M197.4 485.8l0 -13.1m-1.3 2l1.3 -2l1.3 2M205.5 485.8l-1.5 -12.4m-1.1 2.2l1.1 -2.2l1.5 1.8M213.5 485.8l-4.7 -11.2m-.4 2.4l.4 -2.4l2 1.4M221.6 485.8l-7.2 -10.9m0 3.9l0 -3.9l3.6 1.6M229.6 485.8l-10.9 -12.2m.6 3.9l-.6 -3.9l3.8 1M237.7 485.8l-14 -12.7m1 3.8l-1 -3.8l3.9 .6M245.8 485.8l-13 -11.3m1.1 3.7l-1.1 -3.7l3.9 .5M253.8 485.8l-10.6 -10.3m.9 3.8l-.9 -3.8l3.8 .7M261.9 485.8l-8.4 -11.2m.3 3.9l-.3 -3.9l3.7 1.3M269.9 485.8l-6.4 -12.1m-.3 3.9l.3 -3.9l3.4 1.9M278 485.8l-4.7 -12.4m-.8 3.8l.8 -3.8l3.1 2.3M286.1 485.8l-3 -12.3m-1.3 3.6l1.3 -3.6l2.7 2.6M294.1 485.8l-2.5 -11.6m-1.3 3.3l1.3 -3.3l2.5 2.5M302.2 485.8l-2.8 -10.9m-1.1 3.2l1.1 -3.2l2.5 2.3M310.2 485.8l-3.4 -10.4m-.8 3.2l.8 -3.2l2.6 2M318.3 485.8l-4.5 -10.1m-.5 3.3l.5 -3.3l2.8 1.8M326.4 485.8l-6.9 -9.7m.1 3.6l-.1 -3.6l3.3 1.3M334.4 485.8l-11.9 -2.6m2.6 2.6l-2.6 -2.6l3.4 -1.3M342.5 485.8l-12.6 8.1m3.9 0l-3.9 0l1.6 -3.6M350.5 485.8l-12.1 10.5m3.9 -.5l-3.9 .5l1.1 -3.7M358.6 485.8l-11.9 10.9m3.8 -.6l-3.8 .6l1 -3.8M366.7 485.8l-11.1 10.8m3.8 -.8l-3.8 .8l.9 -3.8M374.7 485.8l-9.5 10.8m3.8 -1.1l-3.8 1.1l.6 -3.9M382.8 485.8l-7.7 10.7m3.6 -1.4l-3.6 1.4l.2 -3.9M390.8 485.8l-6.3 10.5m3.3 -1.6l-3.3 1.6l-.1 -3.7M398.9 485.8l-5.2 10.5m3 -1.8l-3 1.8l-.4 -3.5M407 485.8l-4.2 10.7m2.8 -2l-2.8 2l-.7 -3.4M415 485.8l-3.3 11m2.6 -2.2l-2.6 2.2l-1 -3.3M423.1 485.8l-2.5 11.3m2.5 -2.4l-2.5 2.4l-1.2 -3.3M431.1 485.8l-2 11.4m2.4 -2.5l-2.4 2.5l-1.4 -3.2M439.2 485.8l-1.6 11.5m2.3 -2.6l-2.3 2.6l-1.5 -3.2M447.3 485.8l-1 11.4m2.1 -2.7l-2.1 2.7l-1.6 -3M455.3 485.8l-.6 11.2m2 -2.7l-2 2.7l-1.7 -2.9M463.4 485.8l-.1 11m1.8 -2.7l-1.8 2.7l-1.8 -2.8M471.4 485.8l.4 10.6m1.6 -2.7l-1.6 2.7l-1.8 -2.6M479.5 485.8l.8 10.3m1.5 -2.7l-1.5 2.7l-1.9 -2.5M487.6 485.8l1.2 10m1.3 -2.7l-1.3 2.7l-1.9 -2.3M495.6 485.8l1.7 9.7m1.1 -2.7l-1.1 2.7l-2 -2.2M503.7 485.8l3.2 9.1m.7 -2.8l-.7 2.8l-2.3 -1.8M511.7 485.8l4.4 8.4m.3 -2.8l-.3 2.8l-2.5 -1.4M519.8 485.8l4.9 7.9m.1 -2.8l-.1 2.8l-2.5 -1.2M527.9 485.8l5 6.9m-.2 -2.7l.2 2.7l-2.5 -1M535.9 485.8l4.8 4.7m-.6 -2.6l.6 2.6l-2.6 -.5M544 485.8l4.1 2.9m-1 -2.5l1 2.5l-2.7 -.1M552 485.8l3 -.6m-2.5 -1l2.5 1l-1.9 1.9M560.1 485.8l1.8 -2m-2.6 .7l2.6 -.7l-.4 2.7M568.2 485.8l1.8 -1.4m-2.7 .2l2.7 -.2l-.9 2.6M576.2 485.8l3.4 -1.3m-2.6 -.6l2.6 .6l-1.6 2.2M584.3 485.8l3.9 -.9m-2.5 -.9l2.5 .9l-1.9 2M592.3 485.8l3.4 -.6m-2.5 -1l2.5 1l-2 1.8M600.4 485.8l4.3 -.4m-2.4 -1.3l2.4 1.3l-2.1 1.7M608.5 485.8l7 0m-2.3 -1.5l2.3 1.5l-2.3 1.5M616.5 485.8l8.4 .7m-2.1 -1.6l2.1 1.6l-2.4 1.3M624.6 485.8l8.5 1.1m-2.1 -1.8l2.1 1.8l-2.4 1.2M632.6 485.8l10.8 1.9m-2.4 -2.2l2.4 2.2l-3 1.3M640.7 485.8l13.6 2.9m-2.7 -2.8l2.7 2.8l-3.6 1.4M648.8 485.8l14.3 3.5m-2.7 -2.8l2.7 2.8l-3.7 1.3M656.8 485.8l13.6 3.6m-2.6 -2.9l2.6 2.9l-3.7 1.2M664.9 485.8l13.9 3.9m-2.6 -2.9l2.6 2.9l-3.7 1.2M672.9 485.8l14.9 4.8m-2.5 -3l2.5 3l-3.8 1M681 485.8l15 5.7m-2.3 -3.2l2.3 3.2l-3.8 .8M689.1 485.8l13.9 7.7m-1.8 -3.4l1.8 3.4l-3.9 .3M697.1 485.8l13.2 8.2m-1.7 -3.5l1.7 3.5l-3.9 .1M705.2 485.8l10.9 11.4m-.7 -3.8l.7 3.8l-3.8 -.9M713.2 485.8l8.8 14.4m.1 -3.9l-.1 3.9l-3.5 -1.7M721.3 485.8l9.1 16.2m.3 -3.9l-.3 3.9l-3.5 -1.8M124.9 481.5l4.5 -4.8m-2.3 .6l2.3 -.6l-.4 2.4M132.9 481.5l4.3 -4.6m-2.3 .6l2.3 -.6l-.4 2.4M141 481.5l4.2 -4.5m-2.3 .6l2.3 -.6l-.4 2.4M149 481.5l3.8 -6m-2.2 1l2.2 -1l0 2.4M157.1 481.5l5.2 -8.3m-2.2 1l2.2 -1l0 2.4M165.2 481.5l4.9 -10.5m-2 1.3l2 -1.3l.3 2.4M173.2 481.5l4.5 -12m-1.9 1.4l1.9 -1.4l.5 2.3M181.3 481.5l3.5 -13.1m-1.8 1.6l1.8 -1.6l.7 2.3M189.3 481.5l2.3 -13.6m-1.6 1.8l1.6 -1.8l1 2.2M197.4 481.5l0 -13.4m-1.3 2l1.3 -2l1.3 2M205.5 481.5l-1.5 -12.7m-1.1 2.1l1.1 -2.1l1.5 1.9M213.5 481.5l-4.1 -11.6m-.6 2.3l.6 -2.3l1.9 1.5M221.6 481.5l-6.4 -11.5m-.3 3.9l.3 -3.9l3.4 1.8M229.6 481.5l-10.3 -12.5m.4 3.9l-.4 -3.9l3.7 1.2M237.7 481.5l-13.6 -12.5m1 3.8l-1 -3.8l3.8 .7M245.8 481.5l-12.8 -11.1m1.1 3.7l-1.1 -3.7l3.9 .5M253.8 481.5l-10.6 -10m.9 3.8l-.9 -3.8l3.8 .7M261.9 481.5l-8.7 -10.7m.4 3.9l-.4 -3.9l3.7 1.2M269.9 481.5l-7.2 -11.5m-.1 3.9l.1 -3.9l3.5 1.6M278 481.5l-5.7 -11.9m-.5 3.9l.5 -3.9l3.3 2M286.1 481.5l-3.7 -12m-1 3.6l1 -3.6l2.9 2.4M294.1 481.5l-3 -11.4m-1.1 3.4l1.1 -3.4l2.6 2.4M302.2 481.5l-3.3 -10.7m-.9 3.2l.9 -3.2l2.6 2.2M310.2 481.5l-4 -10m-.6 3.2l.6 -3.2l2.6 1.9M318.3 481.5l-5 -9.6m-.3 3.2l.3 -3.2l2.8 1.6M326.4 481.5l-6.6 -9.3m.1 3.4l-.1 -3.4l3.2 1.3M334.4 481.5l-10.9 -6.2m1.7 3.4l-1.7 -3.4l3.8 -.2M342.5 481.5l-13 5.7m3.8 .6l-3.8 -.6l2.1 -3.3M350.5 481.5l-12 9.7m3.9 -.4l-3.9 .4l1.2 -3.7M358.6 481.5l-12 10.6m3.9 -.6l-3.9 .6l1.1 -3.8M366.7 481.5l-11.7 10.6m3.9 -.6l-3.9 .6l1 -3.8M374.7 481.5l-10.7 10.4m3.8 -.8l-3.8 .8l.9 -3.8M382.8 481.5l-9.1 10.5m3.8 -1.1l-3.8 1.1l.5 -3.9M390.8 481.5l-7.3 10.6m3.6 -1.5l-3.6 1.5l.1 -3.9M398.9 481.5l-5.8 10.6m3.2 -1.7l-3.2 1.7l-.3 -3.6M407 481.5l-4.7 10.6m2.9 -1.9l-2.9 1.9l-.6 -3.4M415 481.5l-3.6 10.9m2.7 -2.1l-2.7 2.1l-.9 -3.3M423.1 481.5l-2.9 11.1m2.5 -2.3l-2.5 2.3l-1.1 -3.3M431.1 481.5l-2.4 11.2m2.4 -2.4l-2.4 2.4l-1.2 -3.2M439.2 481.5l-2 11.3m2.3 -2.5l-2.3 2.5l-1.3 -3.2M447.3 481.5l-1.3 11.2m2.2 -2.6l-2.2 2.6l-1.5 -3M455.3 481.5l-.8 11.1m2 -2.7l-2 2.7l-1.6 -2.9M463.4 481.5l-.3 10.8m1.8 -2.7l-1.8 2.7l-1.7 -2.8M471.4 481.5l.3 10.5m1.7 -2.7l-1.7 2.7l-1.8 -2.6M479.5 481.5l.7 10.2m1.5 -2.7l-1.5 2.7l-1.9 -2.5M487.6 481.5l1.1 9.9m1.3 -2.7l-1.3 2.7l-1.9 -2.3M495.6 481.5l1.8 9.6m1.1 -2.7l-1.1 2.7l-2 -2.1M503.7 481.5l3.6 8.9m.6 -2.8l-.6 2.8l-2.4 -1.7M511.7 481.5l5 8m0 -2.8l0 2.8l-2.6 -1.2M519.8 481.5l5.7 7.4m-.2 -2.8l.2 2.8l-2.6 -.9M527.9 481.5l6.4 6.5m-.6 -2.7l.6 2.7l-2.7 -.6M535.9 481.5l7.1 5.2m-1 -2.5l1 2.5l-2.7 -.1M544 481.5l6.6 4.1m-1.1 -2.4l1.1 2.4l-2.7 0M552 481.5l5.6 1.6m-1.8 -2l1.8 2l-2.6 .8M560.1 481.5l3.8 -.9m-2.5 -.9l2.5 .9l-1.9 2M568.2 481.5l3.6 -.7m-2.5 -1l2.5 1l-1.9 1.9M576.2 481.5l5.1 0m-2.3 -1.5l2.3 1.5l-2.3 1.5M584.3 481.5l6.1 .2m-2.2 -1.5l2.2 1.5l-2.3 1.4M592.3 481.5l6 -.1m-2.3 -1.4l2.3 1.4l-2.2 1.5M600.4 481.5l7.2 0m-2.3 -1.5l2.3 1.5l-2.3 1.5M608.5 481.5l10 .6m-2.4 -1.8l2.4 1.8l-2.6 1.5M616.5 481.5l12 1.4m-2.8 -2.3l2.8 2.3l-3.2 1.6M624.6 481.5l12.8 1.9m-2.9 -2.6l2.9 2.6l-3.5 1.6M632.6 481.5l14.5 2.5m-2.9 -2.6l2.9 2.6l-3.6 1.5M640.7 481.5l16.3 3.2m-2.8 -2.7l2.8 2.7l-3.6 1.5M648.8 481.5l16.8 3.6m-2.7 -2.8l2.7 2.8l-3.6 1.4M656.8 481.5l16.6 3.4m-2.8 -2.7l2.8 2.7l-3.6 1.4M664.9 481.5l16.6 3.5m-2.8 -2.8l2.8 2.8l-3.6 1.4M672.9 481.5l16.7 4.4m-2.6 -2.9l2.6 2.9l-3.7 1.2M681 481.5l16.4 5.4m-2.4 -3l2.4 3l-3.8 1M689.1 481.5l15.5 6.9m-2.1 -3.3l2.1 3.3l-3.9 .6M697.1 481.5l14.9 7.3m-2 -3.3l2 3.3l-3.9 .5M705.2 481.5l12.8 10.7m-1.2 -3.7l1.2 3.7l-3.9 -.5M713.2 481.5l9.9 14.6m-.1 -3.9l.1 3.9l-3.6 -1.5M721.3 481.5l9.9 16.2m.1 -3.9l-.1 3.9l-3.5 -1.7M124.9 477.2l4.5 -4.8m-2.3 .6l2.3 -.6l-.4 2.4M132.9 477.2l4.4 -4.6m-2.3 .6l2.3 -.6l-.4 2.4M141 477.2l4.2 -4.5m-2.3 .6l2.3 -.6l-.4 2.4M149 477.2l3.6 -5.7m-2.2 1l2.2 -1l0 2.4M157.1 477.2l4.8 -7.7m-2.2 1l2.2 -1l0 2.4M165.2 477.2l4.8 -10.3m-2 1.3l2 -1.3l.3 2.4M173.2 477.2l4.5 -12m-1.9 1.4l1.9 -1.4l.5 2.3M181.3 477.2l3.6 -13.3m-1.8 1.6l1.8 -1.6l.7 2.3M189.3 477.2l2.4 -13.9m-1.6 1.8l1.6 -1.8l1 2.2M197.4 477.2l0 -13.8m-1.3 2l1.3 -2l1.3 2M205.5 477.2l-1.6 -13m-1 2.2l1 -2.2l1.5 1.8M213.5 477.2l-3.8 -12m-.6 2.3l.6 -2.3l1.9 1.5M221.6 477.2l-5.8 -11.9m-.5 3.9l.5 -3.9l3.3 2M229.6 477.2l-9.5 -12.7m.3 3.9l-.3 -3.9l3.7 1.3M237.7 477.2l-13.1 -12.4m.9 3.8l-.9 -3.8l3.8 .7M245.8 477.2l-12.4 -10.9m1.1 3.8l-1.1 -3.8l3.9 .6M253.8 477.2l-10.4 -9.9m.9 3.8l-.9 -3.8l3.8 .7M261.9 477.2l-8.7 -10.6m.4 3.9l-.4 -3.9l3.7 1.2M269.9 477.2l-7.5 -11.2m.1 3.9l-.1 -3.9l3.6 1.5M278 477.2l-6.2 -11.4m-.3 3.9l.3 -3.9l3.4 1.9M286.1 477.2l-4.3 -11.6m-.8 3.6l.8 -3.6l3 2.2M294.1 477.2l-3.5 -11.2m-1 3.4l1 -3.4l2.7 2.2M302.2 477.2l-3.7 -10.4m-.8 3.2l.8 -3.2l2.6 2M310.2 477.2l-4.4 -9.6m-.5 3.2l.5 -3.2l2.7 1.7M318.3 477.2l-5.3 -9.1m-.2 3.2l.2 -3.2l2.8 1.4M326.4 477.2l-6.3 -8.9m.1 3.3l-.1 -3.3l3 1.2M334.4 477.2l-9.3 -7.5m1.1 3.4l-1.1 -3.4l3.6 .4M342.5 477.2l-13.1 2.5m3.6 1.5l-3.6 -1.5l2.8 -2.7M350.5 477.2l-12 8.5m3.9 -.1l-3.9 .1l1.5 -3.6M358.6 477.2l-12 10m3.9 -.5l-3.9 .5l1.2 -3.7M366.7 477.2l-12.1 10.2m3.9 -.5l-3.9 .5l1.1 -3.7M374.7 477.2l-11.7 10.1m3.9 -.5l-3.9 .5l1.1 -3.7M382.8 477.2l-10.4 10.1m3.8 -.7l-3.8 .7l.9 -3.8M390.8 477.2l-8.5 10.5m3.7 -1.2l-3.7 1.2l.4 -3.9M398.9 477.2l-6.6 10.6m3.4 -1.6l-3.4 1.6l-.1 -3.7M407 477.2l-5.2 10.6m3 -1.8l-3 1.8l-.4 -3.5M415 477.2l-4.1 10.8m2.8 -2l-2.8 2l-.7 -3.4M423.1 477.2l-3.3 10.9m2.6 -2.2l-2.6 2.2l-1 -3.3M431.1 477.2l-2.9 11m2.5 -2.3l-2.5 2.3l-1.1 -3.2M439.2 477.2l-2.4 11m2.4 -2.4l-2.4 2.4l-1.2 -3.2M447.3 477.2l-1.7 11m2.2 -2.5l-2.2 2.5l-1.4 -3M455.3 477.2l-1 10.9m2 -2.6l-2 2.6l-1.5 -2.9M463.4 477.2l-.4 10.7m1.9 -2.6l-1.9 2.6l-1.6 -2.8M471.4 477.2l.1 10.4m1.7 -2.6l-1.7 2.6l-1.7 -2.6M479.5 477.2l.6 10.2m1.5 -2.7l-1.5 2.7l-1.8 -2.5M487.6 477.2l1.1 9.9m1.3 -2.7l-1.3 2.7l-1.9 -2.3M495.6 477.2l1.9 9.6m1.1 -2.7l-1.1 2.7l-2 -2.1M503.7 477.2l3.8 8.8m.5 -2.9l-.5 2.9l-2.4 -1.6M511.7 477.2l5.4 7.9m-.1 -2.9l.1 2.9l-2.7 -1.1M519.8 477.2l6.1 7.3m-.3 -2.8l.3 2.8l-2.7 -.8M527.9 477.2l6.9 6.5m-.7 -2.8l.7 2.8l-2.8 -.5M535.9 477.2l7.4 5.7m-.9 -2.6l.9 2.6l-2.8 -.2M544 477.2l7.1 5.1m-1 -2.5l1 2.5l-2.7 -.1M552 477.2l6.7 3.3m-1.4 -2.3l1.4 2.3l-2.7 .3M560.1 477.2l6 .3m-2.2 -1.6l2.2 1.6l-2.3 1.4M568.2 477.2l6 .1m-2.2 -1.5l2.2 1.5l-2.3 1.4M576.2 477.2l7.5 1.2m-2 -1.8l2 1.8l-2.5 1.1M584.3 477.2l8.7 1.5m-2 -1.8l2 1.8l-2.5 1.1M592.3 477.2l9.2 .8m-2.2 -1.7l2.2 1.7l-2.5 1.3M600.4 477.2l10.6 .5m-2.6 -1.9l2.6 1.9l-2.8 1.6M608.5 477.2l13.1 1.4m-3 -2.5l3 2.5l-3.5 1.8M616.5 477.2l15 2.4m-2.9 -2.6l2.9 2.6l-3.6 1.6M624.6 477.2l16 2.8m-2.9 -2.6l2.9 2.6l-3.6 1.5M632.6 477.2l17.2 3.1m-2.8 -2.7l2.8 2.7l-3.6 1.5M640.7 477.2l18.1 3.5m-2.8 -2.7l2.8 2.7l-3.6 1.5M648.8 477.2l18.4 3.7m-2.8 -2.7l2.8 2.7l-3.6 1.4M656.8 477.2l18.4 3.3m-2.8 -2.7l2.8 2.7l-3.6 1.5M664.9 477.2l18.3 3.4m-2.8 -2.7l2.8 2.7l-3.6 1.5M672.9 477.2l18.1 4.2m-2.7 -2.8l2.7 2.8l-3.7 1.3M681 477.2l17.6 5.1m-2.6 -2.9l2.6 2.9l-3.7 1.1M689.1 477.2l16.9 6m-2.4 -3.1l2.4 3.1l-3.8 .9M697.1 477.2l16.3 6.5m-2.3 -3.2l2.3 3.2l-3.8 .8M705.2 477.2l15.1 9.1m-1.7 -3.5l1.7 3.5l-3.9 .1M713.2 477.2l11.7 14.2m-.4 -3.9l.4 3.9l-3.7 -1.2M721.3 477.2l10.9 16.2m-.1 -3.9l.1 3.9l-3.6 -1.5M124.9 472.9l4.6 -4.9m-2.3 .6l2.3 -.6l-.4 2.4M132.9 472.9l4.4 -4.7m-2.3 .6l2.3 -.6l-.4 2.4M141 472.9l4.3 -4.6m-2.3 .6l2.3 -.6l-.4 2.4M149 472.9l3.5 -5.5m-2.2 1l2.2 -1l0 2.4M157.1 472.9l4.5 -7.1m-2.2 1l2.2 -1l0 2.4M165.2 472.9l4.7 -10m-2 1.3l2 -1.3l.3 2.4M173.2 472.9l4.5 -11.9m-1.9 1.4l1.9 -1.4l.5 2.3M181.3 472.9l3.2 -13.5m-1.7 1.7l1.7 -1.7l.8 2.3M189.3 472.9l2.4 -14.1m-1.6 1.8l1.6 -1.8l1 2.2M197.4 472.9l0 -14.1m-1.3 2l1.3 -2l1.3 2M205.5 472.9l-1.7 -13.3m-1 2.2l1 -2.2l1.6 1.8M213.5 472.9l-3.8 -12.2m-.7 2.3l.7 -2.3l1.8 1.5M221.6 472.9l-5.5 -12m-.6 3.9l.6 -3.9l3.3 2.1M229.6 472.9l-9 -12.7m.2 3.9l-.2 -3.9l3.6 1.4M237.7 472.9l-12.6 -12.1m.9 3.8l-.9 -3.8l3.8 .7M245.8 472.9l-12 -10.6m1.1 3.8l-1.1 -3.8l3.9 .6M253.8 472.9l-10.1 -9.8m.9 3.8l-.9 -3.8l3.8 .8M261.9 472.9l-8.4 -10.5m.4 3.9l-.4 -3.9l3.7 1.2M269.9 472.9l-7.2 -11.1m0 3.9l0 -3.9l3.6 1.6M278 472.9l-6.1 -11.3m-.3 3.8l.3 -3.8l3.4 1.8M286.1 472.9l-4.4 -11.4m-.8 3.6l.8 -3.6l3 2.2M294.1 472.9l-3.7 -10.9m-.9 3.4l.9 -3.4l2.7 2.1M302.2 472.9l-4 -10.2m-.7 3.2l.7 -3.2l2.7 1.9M310.2 472.9l-4.7 -9.4m-.4 3.1l.4 -3.1l2.7 1.6M318.3 472.9l-5.3 -8.8m-.1 3.1l.1 -3.1l2.8 1.3M326.4 472.9l-6.1 -8.6m.1 3.2l-.1 -3.2l2.9 1.2M334.4 472.9l-8.2 -7.8m.8 3.3l-.8 -3.3l3.3 .6M342.5 472.9l-12.4 -1.5m2.9 2.4l-2.9 -2.4l3.4 -1.7M350.5 472.9l-12.5 6.1m3.9 .5l-3.9 -.5l2 -3.3M358.6 472.9l-12.1 9m3.9 -.3l-3.9 .3l1.3 -3.7M366.7 472.9l-12.3 9.7m3.9 -.4l-3.9 .4l1.3 -3.7M374.7 472.9l-12.3 9.7m3.9 -.4l-3.9 .4l1.3 -3.7M382.8 472.9l-11.5 9.8m3.9 -.5l-3.9 .5l1.1 -3.7M390.8 472.9l-9.7 10.3m3.8 -.9l-3.8 .9l.7 -3.8M398.9 472.9l-7.6 10.6m3.6 -1.4l-3.6 1.4l.2 -3.9M407 472.9l-5.9 10.6m3.2 -1.7l-3.2 1.7l-.2 -3.6M415 472.9l-4.6 10.7m2.9 -1.9l-2.9 1.9l-.6 -3.4M423.1 472.9l-3.7 10.7m2.7 -2.1l-2.7 2.1l-.8 -3.3M431.1 472.9l-3.4 10.7m2.6 -2.1l-2.6 2.1l-.9 -3.2M439.2 472.9l-2.9 10.7m2.5 -2.2l-2.5 2.2l-1 -3.2M447.3 472.9l-2 10.8m2.3 -2.4l-2.3 2.4l-1.3 -3M455.3 472.9l-1.2 10.7m2.1 -2.5l-2.1 2.5l-1.4 -2.9M463.4 472.9l-.7 10.6m1.9 -2.5l-1.9 2.5l-1.6 -2.8M471.4 472.9l-.1 10.3m1.7 -2.6l-1.7 2.6l-1.7 -2.6M479.5 472.9l.4 10.1m1.6 -2.6l-1.6 2.6l-1.7 -2.5M487.6 472.9l.9 9.9m1.4 -2.6l-1.4 2.6l-1.8 -2.4M495.6 472.9l1.8 9.6m1.1 -2.7l-1.1 2.7l-2 -2.1M503.7 472.9l3.9 8.9m.5 -2.9l-.5 2.9l-2.5 -1.6M511.7 472.9l5.6 8m-.1 -2.9l.1 2.9l-2.7 -1.1M519.8 472.9l6.4 7.5m-.4 -2.9l.4 2.9l-2.8 -.8M527.9 472.9l7.3 6.9m-.7 -2.9l.7 2.9l-3 -.5M535.9 472.9l8 6.2m-1 -2.9l1 2.9l-3 -.3M544 472.9l8 6m-1 -2.8l1 2.8l-3 -.2M552 472.9l8 4.8m-1.2 -2.5l1.2 2.5l-2.8 .1M560.1 472.9l8.3 1.8m-1.9 -1.9l1.9 1.9l-2.5 1M568.2 472.9l8.7 1.4m-2 -1.8l2 1.8l-2.5 1.1M576.2 472.9l10 2.6m-2.1 -2.3l2.1 2.3l-2.9 1M584.3 472.9l11.3 3m-2.4 -2.6l2.4 2.6l-3.3 1.1M592.3 472.9l12.3 2.3m-2.7 -2.6l2.7 2.6l-3.5 1.4M600.4 472.9l13.7 1.6m-3 -2.5l3 2.5l-3.5 1.7M608.5 472.9l15.5 2.5m-2.9 -2.6l2.9 2.6l-3.6 1.6M616.5 472.9l17.1 3.2m-2.8 -2.7l2.8 2.7l-3.6 1.5M624.6 472.9l18.1 3.6m-2.8 -2.7l2.8 2.7l-3.6 1.4M632.6 472.9l18.7 3.9m-2.8 -2.7l2.8 2.7l-3.6 1.4M640.7 472.9l19.2 4.1m-2.8 -2.8l2.8 2.8l-3.6 1.4M648.8 472.9l19.4 4.1m-2.8 -2.8l2.8 2.8l-3.6 1.4M656.8 472.9l19.5 3.6m-2.8 -2.7l2.8 2.7l-3.6 1.5M664.9 472.9l19.4 3.7m-2.8 -2.7l2.8 2.7l-3.6 1.5M672.9 472.9l19.1 4.4m-2.7 -2.8l2.7 2.8l-3.7 1.3M681 472.9l18.7 5.1m-2.6 -2.9l2.6 2.9l-3.7 1.2M689.1 472.9l18.2 5.7m-2.5 -3l2.5 3l-3.8 1.1M697.1 472.9l17.6 6.2m-2.4 -3.1l2.4 3.1l-3.8 .9M705.2 472.9l17.1 7.7m-2.1 -3.3l2.1 3.3l-3.9 .6M713.2 472.9l15 12.2m-1.2 -3.7l1.2 3.7l-3.9 -.4M721.3 472.9l13.6 14.9m-.6 -3.8l.6 3.8l-3.8 -1M149 468.6l3.4 -5.5m-2.2 1l2.2 -1l0 2.4M157.1 468.6l4.1 -6.6m-2.2 1l2.2 -1l0 2.4M165.2 468.6l4.5 -9.6m-2 1.3l2 -1.3l.3 2.4M173.2 468.6l4.4 -11.8m-1.9 1.4l1.9 -1.4l.5 2.3M181.3 468.6l3.2 -13.5m-1.7 1.7l1.7 -1.7l.8 2.3M189.3 468.6l2.4 -14.3m-1.6 1.8l1.6 -1.8l1 2.2M197.4 468.6l.3 -14.4m-1.3 2l1.3 -2l1.3 2M205.5 468.6l-1.7 -13.6m-1 2.2l1 -2.2l1.6 1.8M213.5 468.6l-3.7 -12.4m-.7 2.3l.7 -2.3l1.8 1.5M221.6 468.6l-5.3 -12m-.6 3.8l.6 -3.8l3.3 2.1M229.6 468.6l-8.6 -12.5m.1 3.9l-.1 -3.9l3.6 1.5M237.7 468.6l-12 -11.7m.9 3.8l-.9 -3.8l3.8 .8M245.8 468.6l-11.6 -10.3m1 3.8l-1 -3.8l3.9 .6M253.8 468.6l-9.6 -9.8m.8 3.8l-.8 -3.8l3.8 .8M261.9 468.6l-7.8 -10.6m.2 3.9l-.2 -3.9l3.6 1.4M269.9 468.6l-6.6 -11.2m-.2 3.9l.2 -3.9l3.5 1.7M278 468.6l-5.4 -11.4m-.5 3.7l.5 -3.7l3.2 2M286.1 468.6l-4 -11.3m-.8 3.5l.8 -3.5l2.9 2.2M294.1 468.6l-3.6 -10.8m-.9 3.3l.9 -3.3l2.7 2.1M302.2 468.6l-4 -10m-.6 3.2l.6 -3.2l2.6 1.9M310.2 468.6l-4.7 -9.2m-.3 3.1l.3 -3.1l2.7 1.5M318.3 468.6l-5.3 -8.6m-.1 3l.1 -3l2.7 1.3M326.4 468.6l-6 -8.3m.2 3.1l-.2 -3.1l2.9 1.1M334.4 468.6l-7.6 -7.6m.7 3.1l-.7 -3.1l3.2 .7M342.5 468.6l-10.9 -4.3m2.1 2.9l-2.1 -2.9l3.4 -.7M350.5 468.6l-12.9 1.9m3.6 1.6l-3.6 -1.6l2.9 -2.6M358.6 468.6l-12.3 7.3m3.9 .2l-3.9 -.2l1.7 -3.5M366.7 468.6l-12.3 9m3.9 -.2l-3.9 .2l1.4 -3.6M374.7 468.6l-12.6 9.4m3.9 -.3l-3.9 .3l1.4 -3.7M382.8 468.6l-12.1 9.5m3.9 -.3l-3.9 .3l1.3 -3.7M390.8 468.6l-10.8 9.9m3.8 -.7l-3.8 .7l1 -3.8M398.9 468.6l-8.8 10.3m3.7 -1.1l-3.7 1.1l.5 -3.9M407 468.6l-7 10.5m3.5 -1.5l-3.5 1.5l0 -3.8M415 468.6l-5.3 10.6m3.1 -1.8l-3.1 1.8l-.4 -3.5M423.1 468.6l-4.3 10.5m2.8 -2l-2.8 2l-.7 -3.4M431.1 468.6l-3.8 10.4m2.7 -2l-2.7 2l-.7 -3.3M439.2 468.6l-3.3 10.5m2.5 -2.1l-2.5 2.1l-.9 -3.2M447.3 468.6l-2.4 10.6m2.3 -2.3l-2.3 2.3l-1.1 -3.1M455.3 468.6l-1.5 10.5m2.1 -2.4l-2.1 2.4l-1.3 -2.9M463.4 468.6l-.9 10.4m1.9 -2.5l-1.9 2.5l-1.5 -2.8M471.4 468.6l-.4 10.2m1.8 -2.5l-1.8 2.5l-1.6 -2.6M479.5 468.6l0 10.1m1.6 -2.5l-1.6 2.5l-1.6 -2.5M487.6 468.6l.4 9.9m1.5 -2.6l-1.5 2.6l-1.7 -2.4M495.6 468.6l1.5 9.8m1.2 -2.7l-1.2 2.7l-2 -2.2M503.7 468.6l4 9.1m.5 -2.9l-.5 2.9l-2.5 -1.6M511.7 468.6l5.9 8.2m-.1 -3l.1 3l-2.8 -1.1M519.8 468.6l6.8 7.7m-.4 -3.1l.4 3.1l-3 -.8M527.9 468.6l7.9 7.1m-.8 -3.1l.8 3.1l-3.1 -.5M535.9 468.6l8.8 6.5m-1.1 -3.1l1.1 3.1l-3.3 -.2M544 468.6l9.1 6.5m-1.2 -3.1l1.2 3.1l-3.4 -.1M552 468.6l9.4 5.9m-1.4 -3l1.4 3l-3.3 .1M560.1 468.6l10.4 3.4m-2.1 -2.6l2.1 2.6l-3.2 .8M568.2 468.6l11.1 3m-2.3 -2.6l2.3 2.6l-3.3 1.1M576.2 468.6l12.2 3.9m-2.4 -3l2.4 3l-3.7 1M584.3 468.6l13.5 4.4m-2.5 -3l2.5 3l-3.8 1M592.3 468.6l14.6 4m-2.6 -2.9l2.6 2.9l-3.7 1.2M600.4 468.6l15.9 3.2m-2.8 -2.7l2.8 2.7l-3.6 1.4M608.5 468.6l17.3 3.8m-2.7 -2.8l2.7 2.8l-3.7 1.4M616.5 468.6l18.4 4.1m-2.7 -2.8l2.7 2.8l-3.7 1.4M624.6 468.6l19.2 4.4m-2.7 -2.8l2.7 2.8l-3.7 1.3M632.6 468.6l19.6 4.9m-2.7 -2.8l2.7 2.8l-3.7 1.3M640.7 468.6l20 5m-2.7 -2.9l2.7 2.9l-3.7 1.3M648.8 468.6l20.2 4.8m-2.7 -2.8l2.7 2.8l-3.7 1.3M656.8 468.6l20.4 4.3m-2.8 -2.8l2.8 2.8l-3.6 1.4M664.9 468.6l20.3 4.4m-2.8 -2.8l2.8 2.8l-3.6 1.4M672.9 468.6l20 5m-2.7 -2.9l2.7 2.9l-3.7 1.3M681 468.6l19.7 5.4m-2.6 -2.9l2.6 2.9l-3.7 1.2M689.1 468.6l19.4 5.6m-2.5 -3l2.5 3l-3.7 1.1M697.1 468.6l19 6m-2.5 -3l2.5 3l-3.8 1M705.2 468.6l18.8 6.5m-2.4 -3.1l2.4 3.1l-3.8 .9M713.2 468.6l18.5 8.5m-2.1 -3.3l2.1 3.3l-3.9 .6M721.3 468.6l18.2 10.5m-1.8 -3.5l1.8 3.5l-3.9 .2M149 464.3l3.5 -5.5m-2.2 1l2.2 -1l0 2.4M157.1 464.3l3.9 -6.2m-2.2 1l2.2 -1l0 2.4M165.2 464.3l4.3 -9.1m-2 1.3l2 -1.3l.3 2.4M173.2 464.3l4.3 -11.6m-1.9 1.4l1.9 -1.4l.5 2.3M181.3 464.3l3.2 -13.5m-1.7 1.7l1.7 -1.7l.8 2.3M189.3 464.3l2.5 -14.4m-1.6 1.8l1.6 -1.8l1 2.2M197.4 464.3l0 -14.6m-1.3 2l1.3 -2l1.3 2M205.5 464.3l-1.5 -13.8m-1.1 2.1l1.1 -2.1l1.5 1.9M213.5 464.3l-3.6 -12.6m-.7 2.3l.7 -2.3l1.8 1.6M221.6 464.3l-5.2 -12m-.7 3.8l.7 -3.8l3.2 2.2M229.6 464.3l-8.2 -12.2m.1 3.9l-.1 -3.9l3.6 1.5M237.7 464.3l-11.4 -11.3m.8 3.8l-.8 -3.8l3.8 .8M245.8 464.3l-11 -10m1 3.8l-1 -3.8l3.8 .6M253.8 464.3l-9 -9.9m.6 3.8l-.6 -3.8l3.8 1M261.9 464.3l-6.8 -10.9m-.1 3.9l.1 -3.9l3.5 1.6M269.9 464.3l-5.4 -11.5m-.5 3.8l.5 -3.8l3.2 2M278 464.3l-4.3 -11.6m-.8 3.6l.8 -3.6l3 2.2M286.1 464.3l-3.4 -11.3m-1 3.4l1 -3.4l2.7 2.3M294.1 464.3l-3.4 -10.7m-.9 3.2l.9 -3.2l2.6 2.1M302.2 464.3l-3.9 -9.9m-.6 3.1l.6 -3.1l2.6 1.8M310.2 464.3l-4.7 -9m-.3 3l.3 -3l2.7 1.5M318.3 464.3l-5.4 -8.3m0 3l0 -3l2.7 1.2M326.4 464.3l-6 -7.9m.2 3l-.2 -3l2.8 1M334.4 464.3l-7.5 -7.1m.7 3l-.7 -3l3 .6M342.5 464.3l-9.7 -5.3m1.6 2.9l-1.6 -2.9l3.3 -.3M350.5 464.3l-12 -2.1m2.7 2.5l-2.7 -2.5l3.4 -1.4M358.6 464.3l-12.7 4.5m3.8 .9l-3.8 -.9l2.4 -3.1M366.7 464.3l-12.1 8.1m3.9 -.1l-3.9 .1l1.5 -3.6M374.7 464.3l-12.5 8.9m3.9 -.2l-3.9 .2l1.4 -3.6M382.8 464.3l-12.5 9.2m3.9 -.2l-3.9 .2l1.4 -3.6M390.8 464.3l-11.7 9.5m3.9 -.4l-3.9 .4l1.2 -3.7M398.9 464.3l-10.3 9.8m3.8 -.7l-3.8 .7l.9 -3.8M407 464.3l-8.4 10.1m3.7 -1.2l-3.7 1.2l.5 -3.9M415 464.3l-6.3 10.4m3.3 -1.6l-3.3 1.6l-.1 -3.7M423.1 464.3l-4.9 10.4m2.9 -1.8l-2.9 1.8l-.5 -3.4M431.1 464.3l-4.3 10.3m2.7 -1.9l-2.7 1.9l-.6 -3.3M439.2 464.3l-3.7 10.2m2.6 -2l-2.6 2l-.7 -3.2M447.3 464.3l-2.8 10.3m2.4 -2.1l-2.4 2.1l-1 -3M455.3 464.3l-1.9 10.3m2.2 -2.3l-2.2 2.3l-1.2 -2.9M463.4 464.3l-1.3 10.2m2 -2.4l-2 2.4l-1.3 -2.8M471.4 464.3l-.8 10.1m1.9 -2.4l-1.9 2.4l-1.4 -2.7M479.5 464.3l-.5 10m1.8 -2.4l-1.8 2.4l-1.5 -2.6M487.6 464.3l-.2 9.9m1.7 -2.5l-1.7 2.5l-1.6 -2.5M495.6 464.3l.9 9.9m1.4 -2.6l-1.4 2.6l-1.8 -2.3M503.7 464.3l4 9.2m.5 -3l-.5 3l-2.5 -1.7M511.7 464.3l6.2 8.2m-.2 -3.1l.2 3.1l-2.9 -1.1M519.8 464.3l7.1 7.9m-.5 -3.2l.5 3.2l-3.1 -.8M527.9 464.3l8.3 7.3m-.9 -3.2l.9 3.2l-3.3 -.5M535.9 464.3l9.5 6.7m-1.3 -3.2l1.3 3.2l-3.5 -.1M544 464.3l10.2 6.6m-1.5 -3.3l1.5 3.3l-3.6 0M552 464.3l10.7 6.5m-1.6 -3.4l1.6 3.4l-3.7 .1M560.1 464.3l11.9 4.9m-2.2 -3.2l2.2 3.2l-3.8 .7M568.2 464.3l12.9 4.5m-2.4 -3.1l2.4 3.1l-3.8 .9M576.2 464.3l13.9 5.1m-2.3 -3.1l2.3 3.1l-3.8 .9M584.3 464.3l15 5.6m-2.3 -3.1l2.3 3.1l-3.8 .9M592.3 464.3l16 5.6m-2.4 -3.1l2.4 3.1l-3.8 .9M600.4 464.3l17.3 4.9m-2.6 -2.9l2.6 2.9l-3.7 1.1M608.5 464.3l18.4 5m-2.6 -2.9l2.6 2.9l-3.7 1.2M616.5 464.3l19.3 5.1m-2.6 -2.9l2.6 2.9l-3.7 1.2M624.6 464.3l19.9 5.4m-2.6 -2.9l2.6 2.9l-3.7 1.2M632.6 464.3l20.3 5.7m-2.6 -2.9l2.6 2.9l-3.7 1.2M640.7 464.3l20.6 5.7m-2.6 -2.9l2.6 2.9l-3.7 1.2M648.8 464.3l20.9 5.6m-2.6 -2.9l2.6 2.9l-3.7 1.2M656.8 464.3l21.1 5.3m-2.7 -2.9l2.7 2.9l-3.7 1.3M664.9 464.3l21.1 5.3m-2.7 -2.9l2.7 2.9l-3.7 1.3M672.9 464.3l20.9 5.7m-2.6 -2.9l2.6 2.9l-3.7 1.2M681 464.3l20.7 5.8m-2.6 -2.9l2.6 2.9l-3.7 1.2M689.1 464.3l20.5 5.8m-2.6 -2.9l2.6 2.9l-3.7 1.2M697.1 464.3l20.3 5.9m-2.5 -3l2.5 3l-3.7 1.1M705.2 464.3l20.3 6m-2.5 -3l2.5 3l-3.7 1.1M713.2 464.3l20.5 6.5m-2.5 -3l2.5 3l-3.8 1M721.3 464.3l20.8 7.1m-2.4 -3.1l2.4 3.1l-3.8 1M149 460l3.5 -5.6m-2.2 1l2.2 -1l0 2.4M157.1 460l3.7 -6m-2.2 1l2.2 -1l0 2.4M165.2 460l4 -8.5m-2 1.3l2 -1.3l.3 2.4M173.2 460l4.2 -11.3m-1.9 1.4l1.9 -1.4l.5 2.3M181.3 460l3.1 -13.4m-1.7 1.7l1.7 -1.7l.8 2.3M189.3 460l2.5 -14.4m-1.6 1.8l1.6 -1.8l1 2.2M197.4 460l0 -14.7m-1.3 2l1.3 -2l1.3 2M205.5 460l-1.1 -14.1m-1.1 2.1l1.1 -2.1l1.5 1.9M213.5 460l-3.3 -12.8m-.8 2.3l.8 -2.3l1.8 1.6M221.6 460l-4.9 -12.1m-.7 3.8l.7 -3.8l3.2 2.2M229.6 460l-7.7 -12m0 3.9l0 -3.9l3.6 1.6M237.7 460l-10.7 -10.9m.8 3.8l-.8 -3.8l3.8 .9M245.8 460l-10.3 -9.9m.9 3.8l-.9 -3.8l3.8 .7M253.8 460l-8.1 -10.2m.4 3.9l-.4 -3.9l3.7 1.2M261.9 460l-5.2 -11.4m-.6 3.7l.6 -3.7l3.2 2M269.9 460l-3.7 -11.8m-1 3.6l1 -3.6l2.9 2.4M278 460l-2.9 -11.7m-1.2 3.4l1.2 -3.4l2.6 2.5M286.1 460l-2.7 -11.2m-1.2 3.3l1.2 -3.3l2.5 2.4M294.1 460l-3.1 -10.6m-1 3.2l1 -3.2l2.5 2.2M302.2 460l-3.8 -9.7m-.6 3.1l.6 -3.1l2.5 1.8M310.2 460l-4.7 -8.8m-.3 3l.3 -3l2.6 1.4M318.3 460l-5.5 -8m.1 2.9l-.1 -2.9l2.7 1.1M326.4 460l-6.1 -7.5m.3 2.9l-.3 -2.9l2.8 .9M334.4 460l-7.5 -6.5m.8 2.9l-.8 -2.9l2.9 .4M342.5 460l-9 -5.4m1.4 2.8l-1.4 -2.8l3.2 -.1M350.5 460l-10.7 -4.1m2 2.8l-2 -2.8l3.4 -.7M358.6 460l-12.6 1.2m3.4 1.7l-3.4 -1.7l3 -2.4M366.7 460l-12 6.8m3.9 .2l-3.9 -.2l1.8 -3.5M374.7 460l-12.2 8.3m3.9 -.1l-3.9 .1l1.5 -3.6M382.8 460l-12.6 8.7m3.9 -.1l-3.9 .1l1.5 -3.6M390.8 460l-12.4 8.9m3.9 -.2l-3.9 .2l1.4 -3.6M398.9 460l-11.5 9m3.9 -.3l-3.9 .3l1.3 -3.7M407 460l-10 9.4m3.8 -.7l-3.8 .7l.9 -3.8M415 460l-7.7 10.1m3.6 -1.3l-3.6 1.3l.3 -3.8M423.1 460l-5.8 10.3m3.1 -1.6l-3.1 1.6l-.2 -3.5M431.1 460l-4.8 10.1m2.9 -1.8l-2.9 1.8l-.4 -3.3M439.2 460l-4 10m2.6 -1.9l-2.6 1.9l-.6 -3.2M447.3 460l-3.1 10.1m2.4 -2l-2.4 2l-.9 -3M455.3 460l-2.4 10.1m2.2 -2.1l-2.2 2.1l-1 -2.9M463.4 460l-1.8 10m2.1 -2.2l-2.1 2.2l-1.2 -2.8M471.4 460l-1.3 10m1.9 -2.3l-1.9 2.3l-1.3 -2.7M479.5 460l-1 9.9m1.9 -2.3l-1.9 2.3l-1.4 -2.7M487.6 460l-.7 9.9m1.8 -2.4l-1.8 2.4l-1.4 -2.6M495.6 460l.3 10m1.6 -2.6l-1.6 2.6l-1.7 -2.5M503.7 460l4.2 9.2m.5 -3l-.5 3l-2.6 -1.6M511.7 460l6.5 8.2m-.3 -3.1l.3 3.1l-3 -1M519.8 460l7.3 8.1m-.5 -3.2l.5 3.2l-3.2 -.8M527.9 460l8.6 7.6m-.9 -3.3l.9 3.3l-3.4 -.5M535.9 460l10 6.8m-1.4 -3.4l1.4 3.4l-3.6 -.1M544 460l10.9 6.7m-1.7 -3.5l1.7 3.5l-3.8 .1M552 460l11.7 6.7m-1.8 -3.5l1.8 3.5l-3.9 .2M560.1 460l12.9 5.9m-2.1 -3.3l2.1 3.3l-3.9 .6M568.2 460l14 5.6m-2.3 -3.2l2.3 3.2l-3.8 .8M576.2 460l15 6m-2.2 -3.2l2.2 3.2l-3.8 .8M584.3 460l16 6.4m-2.2 -3.2l2.2 3.2l-3.8 .8M592.3 460l16.9 6.7m-2.3 -3.2l2.3 3.2l-3.8 .8M600.4 460l18.1 6.1m-2.4 -3.1l2.4 3.1l-3.8 1M608.5 460l19.1 5.9m-2.5 -3l2.5 3l-3.7 1.1M616.5 460l19.9 6m-2.5 -3l2.5 3l-3.7 1.1M624.6 460l20.5 6.2m-2.5 -3l2.5 3l-3.7 1.1M632.6 460l20.9 6.4m-2.5 -3l2.5 3l-3.7 1.1M640.7 460l21.3 6.4m-2.5 -3l2.5 3l-3.7 1.1M648.8 460l21.6 6.3m-2.6 -3l2.6 3l-3.7 1.1M656.8 460l21.8 6.2m-2.6 -2.9l2.6 2.9l-3.7 1.1M664.9 460l21.8 6.2m-2.6 -2.9l2.6 2.9l-3.7 1.1M672.9 460l21.8 6.3m-2.5 -3l2.5 3l-3.7 1.1M681 460l21.8 6.4m-2.5 -3l2.5 3l-3.7 1.1M689.1 460l21.7 6.3m-2.5 -3l2.5 3l-3.7 1.1M697.1 460l21.6 6.3m-2.5 -3l2.5 3l-3.7 1.1M705.2 460l21.6 6.3m-2.5 -3l2.5 3l-3.7 1.1M713.2 460l21.8 6.4m-2.5 -3l2.5 3l-3.7 1.1M721.3 460l22.1 6.6m-2.5 -3l2.5 3l-3.7 1.1M149 455.7l3.6 -5.7m-2.2 1l2.2 -1l0 2.4M157.1 455.7l3.7 -5.9m-2.2 1l2.2 -1l0 2.4M165.2 455.7l3.7 -7.8m-2 1.3l2 -1.3l.3 2.4M173.2 455.7l4.1 -10.8m-1.9 1.4l1.9 -1.4l.5 2.3M181.3 455.7l3.5 -13m-1.8 1.6l1.8 -1.6l.7 2.3M189.3 455.7l2.4 -14.4m-1.6 1.8l1.6 -1.8l1 2.2M197.4 455.7l0 -14.8m-1.3 2l1.3 -2l1.3 2M205.5 455.7l-.5 -14.2m-1.2 2.1l1.2 -2.1l1.4 2M213.5 455.7l-2.8 -13m-.9 2.2l.9 -2.2l1.7 1.7M221.6 455.7l-4.4 -12.1m-.9 3.8l.9 -3.8l3.1 2.3M229.6 455.7l-6.7 -12m-.2 3.9l.2 -3.9l3.5 1.8M237.7 455.7l-9.6 -10.9m.6 3.9l-.6 -3.9l3.8 1M245.8 455.7l-9.2 -10.1m.6 3.8l-.6 -3.8l3.8 1M253.8 455.7l-6.6 -10.7m-.1 3.8l.1 -3.8l3.4 1.6M261.9 455.7l-3.1 -11.8m-1.2 3.5l1.2 -3.5l2.7 2.5M269.9 455.7l-1.6 -12m-1.5 3.3l1.5 -3.3l2.4 2.7M278 455.7l-1.6 -11.7m-1.5 3.2l1.5 -3.2l2.3 2.7M286.1 455.7l-2.1 -11.1m-1.3 3.1l1.3 -3.1l2.3 2.5M294.1 455.7l-2.8 -10.4m-1 3.1l1 -3.1l2.4 2.2M302.2 455.7l-3.8 -9.5m-.6 3l.6 -3l2.5 1.8M310.2 455.7l-5 -8.5m-.1 3l.1 -3l2.6 1.3M318.3 455.7l-5.8 -7.7m.2 2.9l-.2 -2.9l2.7 1M326.4 455.7l-6.4 -7m.5 2.8l-.5 -2.8l2.8 .7M334.4 455.7l-7.5 -6.1m.9 2.8l-.9 -2.8l2.9 .3M342.5 455.7l-8.6 -5.3m1.3 2.7l-1.3 -2.7l3 -.1M350.5 455.7l-9.9 -4.6m1.7 2.8l-1.7 -2.8l3.2 -.5M358.6 455.7l-11.8 -1.3m2.8 2.3l-2.8 -2.3l3.2 -1.6M366.7 455.7l-12.1 4.6m3.8 .8l-3.8 -.8l2.3 -3.2M374.7 455.7l-11.9 7.4m3.9 .1l-3.9 -.1l1.7 -3.5M382.8 455.7l-12.4 8.1m3.9 0l-3.9 0l1.6 -3.6M390.8 455.7l-12.8 8.2m3.9 0l-3.9 0l1.6 -3.6M398.9 455.7l-12.4 8.2m3.9 0l-3.9 0l1.6 -3.6M407 455.7l-11.3 8.6m3.9 -.3l-3.9 .3l1.3 -3.7M415 455.7l-9.3 9.5m3.8 -.9l-3.8 .9l.8 -3.8M423.1 455.7l-7.3 9.8m3.4 -1.3l-3.4 1.3l.2 -3.7M431.1 455.7l-5.7 9.9m3 -1.6l-3 1.6l-.2 -3.4M439.2 455.7l-4.4 9.9m2.7 -1.8l-2.7 1.8l-.5 -3.2M447.3 455.7l-3.5 9.9m2.5 -1.9l-2.5 1.9l-.7 -3.1M455.3 455.7l-2.9 9.8m2.3 -2l-2.3 2l-.9 -2.9M463.4 455.7l-2.3 9.8m2.2 -2.1l-2.2 2.1l-1 -2.8M471.4 455.7l-1.7 9.8m2 -2.2l-2 2.2l-1.2 -2.7M479.5 455.7l-1.4 9.8m1.9 -2.2l-1.9 2.2l-1.2 -2.7M487.6 455.7l-1.2 9.8m1.9 -2.3l-1.9 2.3l-1.3 -2.7M495.6 455.7l-.2 9.9m1.7 -2.5l-1.7 2.5l-1.6 -2.5M503.7 455.7l4.4 9.2m.4 -3l-.4 3l-2.6 -1.6M511.7 455.7l6.7 8.2m-.3 -3.1l.3 3.1l-3 -1M519.8 455.7l7.5 8.2m-.5 -3.3l.5 3.3l-3.2 -.8M527.9 455.7l8.8 7.7m-1 -3.4l1 3.4l-3.5 -.5M535.9 455.7l10.4 7m-1.5 -3.4l1.5 3.4l-3.7 -.1M544 455.7l11.5 6.8m-1.7 -3.5l1.7 3.5l-3.9 .2M552 455.7l12.3 6.9m-1.8 -3.5l1.8 3.5l-3.9 .3M560.1 455.7l13.5 6.5m-2 -3.3l2 3.3l-3.9 .5M568.2 455.7l14.7 6.3m-2.2 -3.2l2.2 3.2l-3.8 .7M576.2 455.7l15.7 6.7m-2.2 -3.2l2.2 3.2l-3.8 .7M584.3 455.7l16.7 7.1m-2.2 -3.2l2.2 3.2l-3.8 .7M592.3 455.7l17.6 7.4m-2.2 -3.2l2.2 3.2l-3.8 .7M600.4 455.7l18.7 7m-2.3 -3.1l2.3 3.1l-3.8 .8M608.5 455.7l19.7 6.7m-2.4 -3.1l2.4 3.1l-3.8 1M616.5 455.7l20.4 6.9m-2.4 -3.1l2.4 3.1l-3.8 1M624.6 455.7l21 7.1m-2.4 -3.1l2.4 3.1l-3.8 1M632.6 455.7l21.5 7.2m-2.4 -3.1l2.4 3.1l-3.8 1M640.7 455.7l21.9 7.2m-2.5 -3l2.5 3l-3.8 1M648.8 455.7l22.3 7.1m-2.5 -3l2.5 3l-3.8 1M656.8 455.7l22.5 7.1m-2.5 -3l2.5 3l-3.8 1M664.9 455.7l22.6 7.2m-2.5 -3l2.5 3l-3.8 1M672.9 455.7l22.7 7.2m-2.5 -3l2.5 3l-3.8 1M681 455.7l22.7 7.2m-2.5 -3l2.5 3l-3.8 1M689.1 455.7l22.7 7.1m-2.5 -3l2.5 3l-3.8 1M697.1 455.7l22.7 7.1m-2.5 -3l2.5 3l-3.8 1M705.2 455.7l22.7 7.1m-2.5 -3l2.5 3l-3.8 1M713.2 455.7l22.8 7.2m-2.5 -3l2.5 3l-3.8 1M721.3 455.7l23 7.3m-2.5 -3l2.5 3l-3.8 1M157.1 451.4l3.4 -6.1m-2.4 1.3l2.4 -1.3l.2 2.7M165.2 451.4l3.5 -7.2m-2.3 1.4l2.3 -1.4l.3 2.7M173.2 451.4l3.9 -10.2m-2.6 1.9l2.6 -1.9l.7 3.2M181.3 451.4l3.6 -12.6m-2.9 2.6l2.9 -2.6l1.1 3.7M189.3 451.4l2.5 -14.2m-2.7 2.8l2.7 -2.8l1.5 3.6M197.4 451.4l1.2 -14.7m-2.4 3.1l2.4 -3.1l1.8 3.4M205.5 451.4l0 -14.3m-2.1 3.3l2.1 -3.3l2.1 3.3M213.5 451.4l-2.2 -13.1m-1.6 3.6l1.6 -3.6l2.6 2.9M221.6 451.4l-3.8 -12.2m-1 3.7l1 -3.7l2.9 2.5M229.6 451.4l-5.5 -12.1m-.6 3.9l.6 -3.9l3.3 2.1M237.7 451.4l-8.1 -11.2m.2 3.9l-.2 -3.9l3.6 1.4M245.8 451.4l-7.8 -10.5m.3 3.9l-.3 -3.9l3.7 1.3M253.8 451.4l-5 -11.1m-.6 3.6l.6 -3.6l3.1 2M261.9 451.4l-1.2 -11.8m-1.6 3.2l1.6 -3.2l2.2 2.8M269.9 451.4l0 -11.8m-1.9 3l1.9 -3l1.9 3M278 451.4l-.6 -11.4m-1.7 3l1.7 -3l2 2.8M286.1 451.4l-1.7 -10.9m-1.4 3l1.4 -3l2.2 2.5M294.1 451.4l-2.8 -10.2m-1 3l1 -3l2.4 2.1M302.2 451.4l-4.1 -9.2m-.5 3l.5 -3l2.5 1.7M310.2 451.4l-5.4 -8.1m0 2.9l0 -2.9l2.7 1.2M318.3 451.4l-6.1 -7.2m.4 2.8l-.4 -2.8l2.7 .8M326.4 451.4l-6.6 -6.6m.6 2.7l-.6 -2.7l2.7 .6M334.4 451.4l-7.5 -5.8m.9 2.7l-.9 -2.7l2.8 .2M342.5 451.4l-8.4 -5.2m1.3 2.7l-1.3 -2.7l2.9 -.1M350.5 451.4l-9.4 -4.6m1.6 2.7l-1.6 -2.7l3.1 -.4M358.6 451.4l-11 -2.5m2.4 2.4l-2.4 -2.4l3.2 -1.2M366.7 451.4l-12.1 1.5m3.3 1.6l-3.3 -1.6l2.8 -2.4M374.7 451.4l-11.9 5.8m3.9 .5l-3.9 -.5l2 -3.3M382.8 451.4l-12.2 7.1m3.9 .2l-3.9 -.2l1.7 -3.5M390.8 451.4l-12.8 7.3m3.9 .2l-3.9 -.2l1.8 -3.5M398.9 451.4l-12.9 7.5m3.9 .2l-3.9 -.2l1.8 -3.5M407 451.4l-12.2 7.9m3.9 0l-3.9 0l1.6 -3.6M415 451.4l-10.8 8.6m3.9 -.4l-3.9 .4l1.2 -3.7M423.1 451.4l-9.1 8.9m3.8 -.8l-3.8 .8l.8 -3.7M431.1 451.4l-7.1 9.3m3.3 -1.2l-3.3 1.2l.3 -3.5M439.2 451.4l-5.1 9.7m2.9 -1.6l-2.9 1.6l-.3 -3.3M447.3 451.4l-4 9.7m2.6 -1.8l-2.6 1.8l-.6 -3.1M455.3 451.4l-3.4 9.6m2.4 -1.8l-2.4 1.8l-.7 -3M463.4 451.4l-3 9.5m2.3 -1.9l-2.3 1.9l-.8 -2.9M471.4 451.4l-2.4 9.5m2.1 -2l-2.1 2l-1 -2.8M479.5 451.4l-1.8 9.6m2 -2.1l-2 2.1l-1.1 -2.7M487.6 451.4l-1.4 9.6m1.9 -2.2l-1.9 2.2l-1.2 -2.7M495.6 451.4l-.4 9.8m1.7 -2.4l-1.7 2.4l-1.5 -2.5M503.7 451.4l4.7 8.9m.3 -3l-.3 3l-2.6 -1.5M511.7 451.4l6.8 8.1m-.4 -3.1l.4 3.1l-3 -.9M519.8 451.4l7.6 8.2m-.6 -3.3l.6 3.3l-3.2 -.8M527.9 451.4l8.9 7.8m-1 -3.4l1 3.4l-3.5 -.5M535.9 451.4l10.6 7m-1.5 -3.5l1.5 3.5l-3.8 0M544 451.4l11.8 6.8m-1.8 -3.5l1.8 3.5l-3.9 .2M552 451.4l12.8 7m-1.8 -3.4l1.8 3.4l-3.9 .3M560.1 451.4l14 6.9m-2 -3.4l2 3.4l-3.9 .5M568.2 451.4l15.1 6.8m-2.1 -3.3l2.1 3.3l-3.9 .6M576.2 451.4l16.1 7.2m-2.1 -3.3l2.1 3.3l-3.9 .6M584.3 451.4l17.1 7.6m-2.1 -3.3l2.1 3.3l-3.9 .6M592.3 451.4l18 8m-2.1 -3.3l2.1 3.3l-3.9 .6M600.4 451.4l19.1 7.8m-2.2 -3.2l2.2 3.2l-3.8 .7M608.5 451.4l20 7.6m-2.3 -3.1l2.3 3.1l-3.8 .8M616.5 451.4l20.8 7.9m-2.3 -3.1l2.3 3.1l-3.8 .8M624.6 451.4l21.4 8.1m-2.3 -3.1l2.3 3.1l-3.8 .8M632.6 451.4l21.9 8.3m-2.3 -3.1l2.3 3.1l-3.8 .8M640.7 451.4l22.4 8.2m-2.3 -3.1l2.3 3.1l-3.8 .9M648.8 451.4l22.8 8.2m-2.4 -3.1l2.4 3.1l-3.8 .9M656.8 451.4l23 8.3m-2.4 -3.1l2.4 3.1l-3.8 .9M664.9 451.4l23.2 8.3m-2.4 -3.1l2.4 3.1l-3.8 .9M672.9 451.4l23.3 8.4m-2.4 -3.1l2.4 3.1l-3.8 .9M681 451.4l23.5 8.3m-2.4 -3.1l2.4 3.1l-3.8 .9M689.1 451.4l23.5 8.3m-2.4 -3.1l2.4 3.1l-3.8 .9M697.1 451.4l23.6 8.3m-2.4 -3.1l2.4 3.1l-3.8 .9M705.2 451.4l23.6 8.3m-2.4 -3.1l2.4 3.1l-3.8 .9M713.2 451.4l23.7 8.3m-2.4 -3.1l2.4 3.1l-3.8 .9M721.3 451.4l23.8 8.4m-2.4 -3.1l2.4 3.1l-3.8 .9M157.1 447.1l3.4 -6.1m-2.4 1.3l2.4 -1.3l.2 2.7M165.2 447.1l3.4 -6.8m-2.3 1.4l2.3 -1.4l.3 2.7M173.2 447.1l3.7 -9.4m-2.5 1.8l2.5 -1.8l.6 3M181.3 447.1l4 -12m-3 2.4l3 -2.4l1 3.7M189.3 447.1l3 -13.7m-2.8 2.7l2.8 -2.7l1.4 3.6M197.4 447.1l1.5 -14.5m-2.4 3l2.4 -3l1.8 3.5M205.5 447.1l.4 -14.2m-2.2 3.2l2.2 -3.2l2 3.3M213.5 447.1l-1.9 -13.1m-1.6 3.5l1.6 -3.5l2.6 2.9M221.6 447.1l-3.3 -12.2m-1.2 3.6l1.2 -3.6l2.8 2.5M229.6 447.1l-4.5 -12m-.8 3.8l.8 -3.8l3.1 2.3M237.7 447.1l-6.7 -11.4m-.2 3.9l.2 -3.9l3.5 1.7M245.8 447.1l-6.6 -10.6m-.1 3.8l.1 -3.8l3.4 1.6M253.8 447.1l-4 -11.1m-.8 3.4l.8 -3.4l2.8 2.1M261.9 447.1l-.2 -11.5m-1.8 2.9l1.8 -2.9l1.9 2.9M269.9 447.1l.9 -11.4m-2.1 2.7l2.1 -2.7l1.6 3M278 447.1l.1 -11.2m-1.9 2.8l1.9 -2.8l1.8 2.8M286.1 447.1l-1.4 -10.7m-1.4 2.9l1.4 -2.9l2.1 2.4M294.1 447.1l-3 -9.9m-.8 3l.8 -3l2.4 2M302.2 447.1l-4.6 -8.7m-.3 3l.3 -3l2.6 1.4M310.2 447.1l-5.9 -7.5m.2 2.8l-.2 -2.8l2.7 .9M318.3 447.1l-6.5 -6.7m.5 2.7l-.5 -2.7l2.7 .6M326.4 447.1l-6.8 -6.2m.7 2.7l-.7 -2.7l2.7 .5M334.4 447.1l-7.4 -5.7m.9 2.6l-.9 -2.6l2.8 .2M342.5 447.1l-8.2 -5.1m1.2 2.6l-1.2 -2.6l2.9 -.1M350.5 447.1l-9.3 -4.3m1.6 2.6l-1.6 -2.6l3 -.4M358.6 447.1l-10.5 -2.8m2.2 2.4l-2.2 -2.4l3.1 -1M366.7 447.1l-11.6 -.9m2.8 2.1l-2.8 -2.1l3.1 -1.7M374.7 447.1l-12 3.3m3.6 1.1l-3.6 -1.1l2.5 -2.8M382.8 447.1l-12 5.7m3.9 .5l-3.9 -.5l2 -3.3M390.8 447.1l-12.8 6.1m3.9 .5l-3.9 -.5l2 -3.3M398.9 447.1l-13.1 6.7m3.9 .4l-3.9 -.4l1.9 -3.4M407 447.1l-12.9 7.2m3.9 .3l-3.9 -.3l1.8 -3.5M415 447.1l-12.2 7.5m3.9 .1l-3.9 -.1l1.7 -3.5M423.1 447.1l-10.9 7.8m3.9 -.2l-3.9 .2l1.4 -3.6M431.1 447.1l-8.9 8.5m3.6 -.7l-3.6 .7l.9 -3.6M439.2 447.1l-6.3 9.4m3.1 -1.3l-3.1 1.3l.1 -3.4M447.3 447.1l-4.8 9.4m2.8 -1.6l-2.8 1.6l-.3 -3.2M455.3 447.1l-4.2 9.2m2.6 -1.6l-2.6 1.6l-.4 -3M463.4 447.1l-4 9m2.5 -1.6l-2.5 1.6l-.5 -2.9M471.4 447.1l-3.5 9m2.4 -1.7l-2.4 1.7l-.6 -2.8M479.5 447.1l-2.4 9.2m2.1 -1.9l-2.1 1.9l-.9 -2.7M487.6 447.1l-1.7 9.3m2 -2.1l-2 2.1l-1.1 -2.6M495.6 447.1l-.4 9.6m1.7 -2.3l-1.7 2.3l-1.5 -2.5M503.7 447.1l5 8.5m.1 -3l-.1 3l-2.6 -1.3M511.7 447.1l6.8 7.8m-.4 -3.1l.4 3.1l-3 -.9M519.8 447.1l7.6 8m-.6 -3.3l.6 3.3l-3.2 -.8M527.9 447.1l9 7.7m-1 -3.4l1 3.4l-3.5 -.5M535.9 447.1l10.8 7m-1.6 -3.5l1.6 3.5l-3.9 0M544 447.1l12.1 6.8m-1.8 -3.5l1.8 3.5l-3.9 .3M552 447.1l13.1 7m-1.9 -3.4l1.9 3.4l-3.9 .3M560.1 447.1l14.3 7.2m-2 -3.4l2 3.4l-3.9 .4M568.2 447.1l15.4 7.3m-2 -3.3l2 3.3l-3.9 .5M576.2 447.1l16.4 7.7m-2.1 -3.3l2.1 3.3l-3.9 .5M584.3 447.1l17.4 8.2m-2.1 -3.3l2.1 3.3l-3.9 .5M592.3 447.1l18.3 8.6m-2.1 -3.3l2.1 3.3l-3.9 .5M600.4 447.1l19.3 8.6m-2.1 -3.3l2.1 3.3l-3.9 .6M608.5 447.1l20.3 8.7m-2.2 -3.2l2.2 3.2l-3.8 .7M616.5 447.1l21 9m-2.2 -3.2l2.2 3.2l-3.8 .7M624.6 447.1l21.6 9.2m-2.2 -3.2l2.2 3.2l-3.8 .7M632.6 447.1l22.2 9.5m-2.2 -3.2l2.2 3.2l-3.8 .7M640.7 447.1l22.7 9.5m-2.2 -3.2l2.2 3.2l-3.8 .7M648.8 447.1l23.2 9.4m-2.2 -3.2l2.2 3.2l-3.8 .7M656.8 447.1l23.5 9.6m-2.2 -3.2l2.2 3.2l-3.8 .7M664.9 447.1l23.7 9.6m-2.2 -3.2l2.2 3.2l-3.8 .7M672.9 447.1l23.9 9.7m-2.2 -3.2l2.2 3.2l-3.8 .7M681 447.1l24.1 9.6m-2.2 -3.2l2.2 3.2l-3.8 .8M689.1 447.1l24.2 9.6m-2.3 -3.2l2.3 3.2l-3.8 .8M697.1 447.1l24.3 9.6m-2.3 -3.2l2.3 3.2l-3.8 .8M705.2 447.1l24.4 9.6m-2.3 -3.2l2.3 3.2l-3.8 .8M713.2 447.1l24.4 9.6m-2.3 -3.2l2.3 3.2l-3.8 .8M721.3 447.1l24.5 9.7m-2.3 -3.2l2.3 3.2l-3.8 .8M165.2 442.8l3.3 -6.6m-2.3 1.4l2.3 -1.4l.3 2.7M173.2 442.8l3.7 -8.5m-2.3 1.5l2.3 -1.5l.5 2.8M181.3 442.8l4.7 -11.1m-3 2l3 -2l.6 3.6M189.3 442.8l3.8 -13.1m-3 2.5l3 -2.5l1.1 3.7M197.4 442.8l1.8 -14.1m-2.5 3l2.5 -3l1.7 3.5M205.5 442.8l.8 -13.9m-2.3 3.1l2.3 -3.1l1.9 3.4M213.5 442.8l-1.5 -13m-1.7 3.5l1.7 -3.5l2.5 3M221.6 442.8l-3 -12m-1.2 3.5l1.2 -3.5l2.7 2.5M229.6 442.8l-3.9 -11.8m-.9 3.6l.9 -3.6l2.9 2.3M237.7 442.8l-5.8 -11.1m-.4 3.8l.4 -3.8l3.3 1.9M245.8 442.8l-5.8 -10.5m-.2 3.6l.2 -3.6l3.2 1.7M253.8 442.8l-3.7 -10.8m-.8 3.3l.8 -3.3l2.7 2.1M261.9 442.8l.1 -11.2m-1.9 2.8l1.9 -2.8l1.8 2.8M269.9 442.8l1.3 -11m-2.1 2.6l2.1 -2.6l1.5 3M278 442.8l.6 -10.8m-1.9 2.6l1.9 -2.6l1.6 2.8M286.1 442.8l-1.5 -10.4m-1.3 2.9l1.3 -2.9l2.1 2.4M294.1 442.8l-3.8 -9.4m-.6 3l.6 -3l2.5 1.7M302.2 442.8l-5.3 -8.1m0 2.9l0 -2.9l2.7 1.2M310.2 442.8l-6.2 -7m.4 2.8l-.4 -2.8l2.7 .7M318.3 442.8l-6.6 -6.3m.6 2.7l-.6 -2.7l2.7 .5M326.4 442.8l-6.8 -6m.7 2.6l-.7 -2.6l2.7 .4M334.4 442.8l-7.2 -5.7m.9 2.6l-.9 -2.6l2.7 .2M342.5 442.8l-8.1 -5m1.2 2.6l-1.2 -2.6l2.9 0M350.5 442.8l-9.3 -3.9m1.7 2.5l-1.7 -2.5l3 -.5M358.6 442.8l-10.3 -2.8m2.1 2.4l-2.1 -2.4l3.1 -1M366.7 442.8l-11.1 -2m2.5 2.3l-2.5 -2.3l3.1 -1.3M374.7 442.8l-11.8 1.1m3.1 1.6l-3.1 -1.6l2.8 -2.2M382.8 442.8l-12 3.8m3.6 1l-3.6 -1l2.4 -2.9M390.8 442.8l-12.7 4.4m3.8 .9l-3.8 -.9l2.4 -3.1M398.9 442.8l-13.1 5.6m3.8 .7l-3.8 -.7l2.2 -3.2M407 442.8l-13.4 6.4m3.9 .5l-3.9 -.5l2 -3.3M415 442.8l-13.2 6.5m3.9 .5l-3.9 -.5l2 -3.4M423.1 442.8l-12.4 6.9m3.9 .3l-3.9 -.3l1.8 -3.4M431.1 442.8l-10.7 7.5m3.9 -.2l-3.9 .2l1.4 -3.6M439.2 442.8l-8.2 8.7m3.5 -.9l-3.5 .9l.6 -3.5M447.3 442.8l-6.3 9m3.1 -1.2l-3.1 1.2l.1 -3.3M455.3 442.8l-5.5 8.7m2.8 -1.3l-2.8 1.3l0 -3.1M463.4 442.8l-5.7 8.1m2.8 -1.1l-2.8 1.1l.1 -3M471.4 442.8l-5.5 7.9m2.7 -1.1l-2.7 1.1l.1 -2.9M479.5 442.8l-3.8 8.5m2.3 -1.5l-2.3 1.5l-.4 -2.8M487.6 442.8l-2.2 8.8m2 -1.9l-2 1.9l-.9 -2.6M495.6 442.8l-.2 9.1m1.5 -2.3l-1.5 2.3l-1.4 -2.3M503.7 442.8l5.3 7.8m0 -2.8l0 2.8l-2.6 -1.1M511.7 442.8l6.8 7.4m-.5 -3l.5 3l-2.9 -.8M519.8 442.8l7.6 7.7m-.7 -3.2l.7 3.2l-3.2 -.7M527.9 442.8l9.1 7.5m-1.1 -3.4l1.1 3.4l-3.5 -.4M535.9 442.8l10.9 6.8m-1.6 -3.5l1.6 3.5l-3.9 .1M544 442.8l12.3 6.7m-1.9 -3.4l1.9 3.4l-3.9 .3M552 442.8l13.4 7m-1.9 -3.4l1.9 3.4l-3.9 .4M560.1 442.8l14.5 7.3m-2 -3.4l2 3.4l-3.9 .4M568.2 442.8l15.6 7.7m-2 -3.3l2 3.3l-3.9 .5M576.2 442.8l16.6 8.2m-2 -3.3l2 3.3l-3.9 .5M584.3 442.8l17.6 8.6m-2 -3.3l2 3.3l-3.9 .5M592.3 442.8l18.6 9.1m-2 -3.3l2 3.3l-3.9 .5M600.4 442.8l19.6 9.3m-2 -3.3l2 3.3l-3.9 .5M608.5 442.8l20.5 9.6m-2.1 -3.3l2.1 3.3l-3.9 .5M616.5 442.8l21.2 9.9m-2.1 -3.3l2.1 3.3l-3.9 .5M624.6 442.8l21.9 10.2m-2.1 -3.3l2.1 3.3l-3.9 .5M632.6 442.8l22.5 10.5m-2.1 -3.3l2.1 3.3l-3.9 .5M640.7 442.8l23.1 10.5m-2.1 -3.3l2.1 3.3l-3.9 .6M648.8 442.8l23.5 10.5m-2.1 -3.3l2.1 3.3l-3.9 .6M656.8 442.8l23.9 10.7m-2.1 -3.3l2.1 3.3l-3.9 .6M664.9 442.8l24.1 10.8m-2.1 -3.3l2.1 3.3l-3.9 .6M672.9 442.8l24.3 10.8m-2.1 -3.3l2.1 3.3l-3.9 .6M681 442.8l24.6 10.7m-2.1 -3.3l2.1 3.3l-3.8 .6M689.1 442.8l24.8 10.7m-2.2 -3.2l2.2 3.2l-3.8 .7M697.1 442.8l24.9 10.7m-2.2 -3.2l2.2 3.2l-3.8 .7M705.2 442.8l25 10.7m-2.2 -3.2l2.2 3.2l-3.8 .7M713.2 442.8l25 10.8m-2.2 -3.2l2.2 3.2l-3.8 .7M721.3 442.8l25 10.8m-2.2 -3.2l2.2 3.2l-3.8 .7M165.2 438.5l3.3 -6.6m-2.3 1.4l2.3 -1.4l.3 2.7M173.2 438.5l3.9 -7.6m-2.3 1.3l2.3 -1.3l.3 2.7M181.3 438.5l5.6 -9.8m-3 1.6l3 -1.6l.2 3.4M189.3 438.5l5.1 -12m-3.2 2.2l3.2 -2.2l.7 3.8M197.4 438.5l2.6 -13.5m-2.7 2.8l2.7 -2.8l1.5 3.6M205.5 438.5l2.3 -13.4m-2.6 2.9l2.6 -2.9l1.5 3.6M213.5 438.5l-.2 -12.9m-2.1 3.3l2.1 -3.3l2.1 3.2M221.6 438.5l-2.7 -11.9m-1.3 3.4l1.3 -3.4l2.6 2.5M229.6 438.5l-3.6 -11.5m-1 3.5l1 -3.5l2.8 2.3M237.7 438.5l-5.1 -10.9m-.5 3.6l.5 -3.6l3.1 1.9M245.8 438.5l-5.4 -10.2m-.3 3.4l.3 -3.4l3 1.7M253.8 438.5l-3.6 -10.4m-.8 3.2l.8 -3.2l2.6 2M261.9 438.5l.2 -10.9m-1.8 2.7l1.8 -2.7l1.7 2.8M269.9 438.5l1.5 -10.7m-2.1 2.4l2.1 -2.4l1.4 2.9M278 438.5l.8 -10.5m-1.9 2.5l1.9 -2.5l1.5 2.8M286.1 438.5l-1.9 -10m-1.1 2.8l1.1 -2.8l2.1 2.2M294.1 438.5l-4.7 -8.7m-.2 2.9l.2 -2.9l2.6 1.4M302.2 438.5l-5.9 -7.5m.3 2.8l-.3 -2.8l2.7 .9M310.2 438.5l-6.4 -6.6m.5 2.7l-.5 -2.7l2.7 .6M318.3 438.5l-6.7 -6.1m.7 2.6l-.7 -2.6l2.7 .4M326.4 438.5l-6.8 -5.9m.8 2.6l-.8 -2.6l2.7 .4M334.4 438.5l-7.1 -5.7m.8 2.6l-.8 -2.6l2.7 .3M342.5 438.5l-8 -5.1m1.2 2.6l-1.2 -2.6l2.8 0M350.5 438.5l-9.4 -3.5m1.8 2.4l-1.8 -2.4l3 -.7M358.6 438.5l-10.3 -2.8m2.1 2.4l-2.1 -2.4l3.1 -1M366.7 438.5l-10.9 -2.4m2.4 2.4l-2.4 -2.4l3.1 -1.2M374.7 438.5l-11.4 0m2.9 1.9l-2.9 -1.9l2.9 -1.9M382.8 438.5l-11.7 2.3m3.3 1.3l-3.3 -1.3l2.6 -2.5M390.8 438.5l-12.5 2.9m3.6 1.3l-3.6 -1.3l2.7 -2.8M398.9 438.5l-13.1 4.3m3.8 1l-3.8 -1l2.5 -3M407 438.5l-13.7 5.4m3.8 .8l-3.8 -.8l2.3 -3.2M415 438.5l-14.2 5.6m3.8 .8l-3.8 -.8l2.3 -3.2M423.1 438.5l-13.7 6.1m3.8 .6l-3.8 -.6l2.1 -3.3M431.1 438.5l-12.5 6.7m3.9 .3l-3.9 -.3l1.9 -3.4M439.2 438.5l-10.5 7.6m3.9 -.2l-3.9 .2l1.4 -3.6M447.3 438.5l-8.6 8.1m3.5 -.6l-3.5 .6l.8 -3.5M455.3 438.5l-7.6 7.8m3.2 -.7l-3.2 .7l.6 -3.2M463.4 438.5l-7.8 6.5m3 -.4l-3 .4l.9 -2.9M471.4 438.5l-7.7 5.7m2.9 -.2l-2.9 .2l1 -2.7M479.5 438.5l-6 6.7m2.6 -.7l-2.6 .7l.4 -2.7M487.6 438.5l-3.1 8m2.2 -1.6l-2.2 1.6l-.5 -2.6M495.6 438.5l.6 8.4m1.3 -2.4l-1.3 2.4l-1.6 -2.2M503.7 438.5l5.3 7m-.2 -2.7l.2 2.7l-2.5 -.9M511.7 438.5l6.5 6.9m-.5 -2.8l.5 2.8l-2.8 -.7M519.8 438.5l7.5 7.3m-.7 -3.1l.7 3.1l-3.1 -.6M527.9 438.5l9 7.3m-1.1 -3.3l1.1 3.3l-3.5 -.4M535.9 438.5l10.9 6.7m-1.6 -3.5l1.6 3.5l-3.8 .1M544 438.5l12.4 6.7m-1.9 -3.4l1.9 3.4l-3.9 .3M552 438.5l13.6 7.1m-1.9 -3.4l1.9 3.4l-3.9 .4M560.1 438.5l14.7 7.5m-2 -3.4l2 3.4l-3.9 .4M568.2 438.5l15.8 7.9m-2 -3.4l2 3.4l-3.9 .4M576.2 438.5l16.9 8.5m-2 -3.4l2 3.4l-3.9 .4M584.3 438.5l17.9 9m-2 -3.4l2 3.4l-3.9 .4M592.3 438.5l18.9 9.5m-2 -3.4l2 3.4l-3.9 .4M600.4 438.5l19.9 9.8m-2 -3.4l2 3.4l-3.9 .5M608.5 438.5l20.7 10.2m-2 -3.3l2 3.3l-3.9 .5M616.5 438.5l21.5 10.6m-2 -3.3l2 3.3l-3.9 .5M624.6 438.5l22.2 10.9m-2 -3.3l2 3.3l-3.9 .5M632.6 438.5l22.8 11.2m-2 -3.3l2 3.3l-3.9 .5M640.7 438.5l23.4 11.2m-2 -3.3l2 3.3l-3.9 .5M648.8 438.5l23.9 11.3m-2 -3.3l2 3.3l-3.9 .5M656.8 438.5l24.2 11.5m-2 -3.3l2 3.3l-3.9 .5M664.9 438.5l24.5 11.6m-2.1 -3.3l2.1 3.3l-3.9 .5M672.9 438.5l24.8 11.7m-2.1 -3.3l2.1 3.3l-3.9 .5M681 438.5l25 11.5m-2.1 -3.3l2.1 3.3l-3.9 .6M689.1 438.5l25.3 11.5m-2.1 -3.3l2.1 3.3l-3.9 .6M697.1 438.5l25.4 11.5m-2.1 -3.3l2.1 3.3l-3.9 .6M705.2 438.5l25.5 11.5m-2.1 -3.3l2.1 3.3l-3.9 .6M713.2 438.5l25.5 11.6m-2.1 -3.3l2.1 3.3l-3.9 .6M721.3 438.5l25.5 11.6m-2.1 -3.3l2.1 3.3l-3.9 .6M181.3 434.2l6.1 -8.5m-2.9 1.1l2.9 -1.1l-.1 3.1M189.3 434.2l6.2 -10.7m-3.3 1.7l3.3 -1.7l.2 3.7M197.4 434.2l4.3 -12.5m-3.1 2.4l3.1 -2.4l1 3.8M205.5 434.2l5.4 -12m-3.3 2.1l3.3 -2.1l.6 3.9M213.5 434.2l3 -12.2m-2.7 2.6l2.7 -2.6l1.2 3.6M221.6 434.2l-1.8 -11.7m-1.5 3.2l1.5 -3.2l2.4 2.7M229.6 434.2l-2.7 -11.3m-1.2 3.3l1.2 -3.3l2.5 2.4M237.7 434.2l-3.6 -10.9m-.9 3.3l.9 -3.3l2.7 2.2M245.8 434.2l-4.7 -10m-.5 3.3l.5 -3.3l2.8 1.8M253.8 434.2l-3.3 -10.1m-.8 3.1l.8 -3.1l2.5 2M261.9 434.2l.3 -10.5m-1.8 2.6l1.8 -2.6l1.7 2.7M269.9 434.2l1.5 -10.3m-2.1 2.4l2.1 -2.4l1.3 2.8M278 434.2l.8 -10.2m-1.9 2.4l1.9 -2.4l1.5 2.7M286.1 434.2l-2.7 -9.6m-.9 2.9l.9 -2.9l2.2 2M294.1 434.2l-5.5 -7.9m.1 2.9l-.1 -2.9l2.7 1.1M302.2 434.2l-6.1 -7m.4 2.8l-.4 -2.8l2.7 .8M310.2 434.2l-6.4 -6.4m.6 2.7l-.6 -2.7l2.7 .6M318.3 434.2l-6.6 -6m.7 2.6l-.7 -2.6l2.7 .4M326.4 434.2l-6.7 -5.7m.8 2.6l-.8 -2.6l2.7 .4M334.4 434.2l-7 -5.7m.8 2.6l-.8 -2.6l2.7 .3M342.5 434.2l-7.9 -5.1m1.2 2.6l-1.2 -2.6l2.8 0M350.5 434.2l-9.6 -3.2m1.9 2.4l-1.9 -2.4l2.9 -.8M358.6 434.2l-10.5 -2.7m2.2 2.4l-2.2 -2.4l3.1 -1M366.7 434.2l-10.9 -2.4m2.4 2.4l-2.4 -2.4l3.1 -1.2M374.7 434.2l-11.3 -.2m2.8 1.9l-2.8 -1.9l2.9 -1.8M382.8 434.2l-11.4 1.4m3.1 1.5l-3.1 -1.5l2.6 -2.2M390.8 434.2l-12.1 1.9m3.3 1.5l-3.3 -1.5l2.7 -2.4M398.9 434.2l-13 3.1m3.7 1.3l-3.7 -1.3l2.7 -2.8M407 434.2l-13.9 4.3m3.8 1.1l-3.8 -1.1l2.5 -3M415 434.2l-14.8 4.6m3.8 1.1l-3.8 -1.1l2.5 -3M423.1 434.2l-15 5.2m3.8 .9l-3.8 -.9l2.4 -3.1M431.1 434.2l-14.4 5.6m3.8 .8l-3.8 -.8l2.3 -3.2M439.2 434.2l-13.1 6m3.9 .6l-3.9 -.6l2.1 -3.3M447.3 434.2l-11.3 6.6m3.9 .2l-3.9 -.2l1.8 -3.5M455.3 434.2l-10 6.4m3.6 0l-3.6 0l1.5 -3.2M463.4 434.2l-9.6 4.8m3.2 .4l-3.2 -.4l1.6 -2.8M471.4 434.2l-9 3.6m2.8 .6l-2.8 -.6l1.7 -2.4M479.5 434.2l-7.6 4.2m2.7 .2l-2.7 -.2l1.3 -2.4M487.6 434.2l-4.2 6.5m2.5 -1.1l-2.5 1.1l0 -2.7M495.6 434.2l2.1 7.1m.8 -2.6l-.8 2.6l-2.1 -1.8M503.7 434.2l4.8 6.1m-.2 -2.7l.2 2.7l-2.6 -.9M511.7 434.2l6 6.3m-.5 -2.7l.5 2.7l-2.6 -.6M519.8 434.2l7.2 6.9m-.7 -2.9l.7 2.9l-2.9 -.6M527.9 434.2l8.8 7m-1.1 -3.2l1.1 3.2l-3.4 -.3M535.9 434.2l10.8 6.6m-1.6 -3.4l1.6 3.4l-3.8 .1M544 434.2l12.4 6.6m-1.9 -3.4l1.9 3.4l-3.9 .3M552 434.2l13.7 7.1m-1.9 -3.4l1.9 3.4l-3.9 .4M560.1 434.2l14.9 7.6m-1.9 -3.4l1.9 3.4l-3.9 .4M568.2 434.2l16 8.1m-2 -3.4l2 3.4l-3.9 .4M576.2 434.2l17.1 8.7m-2 -3.4l2 3.4l-3.9 .4M584.3 434.2l18.2 9.2m-2 -3.4l2 3.4l-3.9 .4M592.3 434.2l19.2 9.7m-2 -3.4l2 3.4l-3.9 .4M600.4 434.2l20.2 10.2m-2 -3.4l2 3.4l-3.9 .4M608.5 434.2l21.1 10.6m-2 -3.4l2 3.4l-3.9 .4M616.5 434.2l21.9 11m-2 -3.4l2 3.4l-3.9 .4M624.6 434.2l22.6 11.3m-2 -3.4l2 3.4l-3.9 .4M632.6 434.2l23.2 11.6m-2 -3.4l2 3.4l-3.9 .4M640.7 434.2l23.8 11.7m-2 -3.4l2 3.4l-3.9 .5M648.8 434.2l24.3 11.8m-2 -3.3l2 3.3l-3.9 .5M656.8 434.2l24.6 12m-2 -3.3l2 3.3l-3.9 .5M664.9 434.2l24.9 12.1m-2 -3.3l2 3.3l-3.9 .5M672.9 434.2l25.1 12.2m-2 -3.3l2 3.3l-3.9 .5M681 434.2l25.4 12.1m-2 -3.3l2 3.3l-3.9 .5M689.1 434.2l25.6 12m-2.1 -3.3l2.1 3.3l-3.9 .5M697.1 434.2l25.8 12m-2.1 -3.3l2.1 3.3l-3.9 .5M705.2 434.2l25.8 12.1m-2.1 -3.3l2.1 3.3l-3.9 .5M713.2 434.2l25.8 12.1m-2.1 -3.3l2.1 3.3l-3.9 .5M721.3 434.2l25.8 12.1m-2.1 -3.3l2.1 3.3l-3.9 .5M181.3 429.9l6.1 -7.4m-2.7 .9l2.7 -.9l-.3 2.9M189.3 429.9l6.7 -9.5m-3.3 1.3l3.3 -1.3l-.1 3.5M197.4 429.9l6.4 -10.8m-3.4 1.7l3.4 -1.7l.2 3.8M205.5 429.9l8.1 -9.7m-3.6 1.1l3.6 -1.1l-.5 3.8M213.5 429.9l6.6 -10.3m-3.3 1.5l3.3 -1.5l0 3.7M221.6 429.9l.4 -11.5m-2 2.8l2 -2.8l1.8 3M229.6 429.9l.4 -11.2m-1.9 2.7l1.9 -2.7l1.7 2.9M237.7 429.9l1.2 -11m-2.1 2.6l2.1 -2.6l1.5 2.9M245.8 429.9l-2.7 -10.3m-1 3l1 -3l2.4 2.1M253.8 429.9l-2.7 -10m-.9 2.9l.9 -2.9l2.3 2.1M261.9 429.9l.6 -10.2m-1.8 2.5l1.8 -2.5l1.5 2.7M269.9 429.9l1.6 -10m-2 2.3l2 -2.3l1.2 2.8M278 429.9l.8 -9.9m-1.8 2.4l1.8 -2.4l1.4 2.6M286.1 429.9l-3.4 -9.1m-.6 2.8l.6 -2.8l2.3 1.7M294.1 429.9l-5.8 -7.4m.3 2.8l-.3 -2.8l2.7 .9M302.2 429.9l-6.1 -6.8m.4 2.7l-.4 -2.7l2.7 .7M310.2 429.9l-6.3 -6.3m.6 2.6l-.6 -2.6l2.6 .6M318.3 429.9l-6.5 -5.9m.7 2.6l-.7 -2.6l2.7 .4M326.4 429.9l-6.7 -5.6m.8 2.6l-.8 -2.6l2.7 .3M334.4 429.9l-7 -5.5m.9 2.6l-.9 -2.6l2.7 .2M342.5 429.9l-8.1 -4.7m1.3 2.5l-1.3 -2.5l2.8 -.1M350.5 429.9l-10 -2.6m2.1 2.3l-2.1 -2.3l2.9 -1M358.6 429.9l-10.8 -2.3m2.4 2.3l-2.4 -2.3l3.1 -1.2M366.7 429.9l-11.2 -1.8m2.5 2.3l-2.5 -2.3l3.1 -1.4M374.7 429.9l-11.3 .4m2.9 1.7l-2.9 -1.7l2.8 -1.9M382.8 429.9l-11.1 1.1m3 1.5l-3 -1.5l2.6 -2.1M390.8 429.9l-11.5 1.3m3.1 1.6l-3.1 -1.6l2.7 -2.2M398.9 429.9l-12.5 2.3m3.5 1.5l-3.5 -1.5l2.8 -2.6M407 429.9l-13.6 3.4m3.7 1.3l-3.7 -1.3l2.7 -2.9M415 429.9l-14.9 3.7m3.7 1.3l-3.7 -1.3l2.7 -2.9M423.1 429.9l-15.7 4.2m3.7 1.2l-3.7 -1.2l2.6 -2.9M431.1 429.9l-15.8 4.4m3.7 1.2l-3.7 -1.2l2.6 -2.9M439.2 429.9l-15.1 4.4m3.7 1.1l-3.7 -1.1l2.5 -3M447.3 429.9l-13.6 5m3.8 .9l-3.8 -.9l2.3 -3.1M455.3 429.9l-12.1 5m3.8 .7l-3.8 -.7l2.2 -3.2M463.4 429.9l-10.9 3.6m3.3 .9l-3.3 -.9l2.2 -2.7M471.4 429.9l-9.6 2.4m2.8 1l-2.8 -1l2 -2.2M479.5 429.9l-7.8 2.4m2.6 .7l-2.6 -.7l1.7 -2.1M487.6 429.9l-3.8 5.1m2.5 -1l-2.5 1l.1 -2.7M495.6 429.9l2.6 5.4m.3 -2.7l-.3 2.7l-2.3 -1.4M503.7 429.9l3.8 5.2m-.2 -2.7l.2 2.7l-2.5 -1M511.7 429.9l5.3 5.6m-.5 -2.7l.5 2.7l-2.6 -.6M519.8 429.9l6.6 6.4m-.6 -2.7l.6 2.7l-2.7 -.5M527.9 429.9l8.5 6.7m-1 -3.1l1 3.1l-3.2 -.3M535.9 429.9l10.6 6.5m-1.6 -3.4l1.6 3.4l-3.7 .1M544 429.9l12.3 6.6m-1.9 -3.4l1.9 3.4l-3.9 .3M552 429.9l13.8 7.1m-1.9 -3.4l1.9 3.4l-3.9 .4M560.1 429.9l15 7.7m-1.9 -3.4l1.9 3.4l-3.9 .4M568.2 429.9l16.2 8.3m-2 -3.4l2 3.4l-3.9 .4M576.2 429.9l17.4 8.8m-2 -3.4l2 3.4l-3.9 .4M584.3 429.9l18.4 9.4m-2 -3.4l2 3.4l-3.9 .4M592.3 429.9l19.5 9.9m-2 -3.4l2 3.4l-3.9 .4M600.4 429.9l20.4 10.4m-2 -3.4l2 3.4l-3.9 .4M608.5 429.9l21.4 10.8m-2 -3.4l2 3.4l-3.9 .4M616.5 429.9l22.2 11.2m-2 -3.4l2 3.4l-3.9 .4M624.6 429.9l22.9 11.6m-2 -3.4l2 3.4l-3.9 .4M632.6 429.9l23.5 11.9m-2 -3.4l2 3.4l-3.9 .4M640.7 429.9l24.1 12.1m-2 -3.4l2 3.4l-3.9 .4M648.8 429.9l24.5 12.2m-2 -3.4l2 3.4l-3.9 .4M656.8 429.9l24.9 12.4m-2 -3.4l2 3.4l-3.9 .4M664.9 429.9l25.1 12.5m-2 -3.4l2 3.4l-3.9 .4M672.9 429.9l25.4 12.6m-2 -3.4l2 3.4l-3.9 .5M681 429.9l25.6 12.4m-2 -3.3l2 3.3l-3.9 .5M689.1 429.9l25.9 12.3m-2 -3.3l2 3.3l-3.9 .5M697.1 429.9l26 12.3m-2 -3.3l2 3.3l-3.9 .5M705.2 429.9l26 12.4m-2 -3.3l2 3.3l-3.9 .5M713.2 429.9l26 12.4m-2 -3.3l2 3.3l-3.9 .5M721.3 429.9l25.9 12.4m-2 -3.3l2 3.3l-3.9 .5M197.4 425.6l7.9 -9m-3.4 1l3.4 -1l-.5 3.5M205.5 425.6l9.1 -8m-3.6 .5l3.6 -.5l-1 3.5M213.5 425.6l8.2 -8.4m-3.4 .8l3.4 -.8l-.7 3.4M221.6 425.6l3.8 -10.5m-2.7 2l2.7 -2l.8 3.3M229.6 425.6l6 -9m-3 1.3l3 -1.3l0 3.2M237.7 425.6l6.7 -8.2m-3 1l3 -1l-.4 3.2M245.8 425.6l2.3 -10m-2.2 2.1l2.2 -2.1l1.1 2.9M253.8 425.6l-.6 -10m-1.5 2.6l1.5 -2.6l1.8 2.4M261.9 425.6l2.1 -9.8m-2.1 2.1l2.1 -2.1l1.1 2.8M269.9 425.6l2.1 -9.6m-2.1 2.1l2.1 -2.1l1 2.8M278 425.6l.7 -9.5m-1.7 2.3l1.7 -2.3l1.4 2.5M286.1 425.6l-4 -8.5m-.4 2.8l.4 -2.8l2.4 1.5M294.1 425.6l-5.9 -7.1m.3 2.7l-.3 -2.7l2.6 .8M302.2 425.6l-6.1 -6.6m.5 2.7l-.5 -2.7l2.6 .7M310.2 425.6l-6.2 -6.2m.6 2.6l-.6 -2.6l2.6 .6M318.3 425.6l-6.4 -5.8m.7 2.6l-.7 -2.6l2.7 .4M326.4 425.6l-6.7 -5.4m.8 2.6l-.8 -2.6l2.7 .3M334.4 425.6l-7.4 -4.8m1.1 2.5l-1.1 -2.5l2.7 0M342.5 425.6l-9.2 -1.8m2 2l-2 -2l2.6 -1.1M350.5 425.6l-10.4 1.2m2.8 1.4l-2.8 -1.4l2.4 -2M358.6 425.6l-10.9 .4m2.8 1.7l-2.8 -1.7l2.7 -1.9M366.7 425.6l-10.5 1.2m2.8 1.4l-2.8 -1.4l2.4 -2M374.7 425.6l-10.9 2.7m3.2 1.1l-3.2 -1.1l2.3 -2.5M382.8 425.6l-10.9 1.4m3 1.4l-3 -1.4l2.5 -2.1M390.8 425.6l-11 1.1m2.9 1.5l-2.9 -1.5l2.6 -2.1M398.9 425.6l-11.6 1.9m3.2 1.4l-3.2 -1.4l2.6 -2.4M407 425.6l-12.8 2.9m3.7 1.3l-3.7 -1.3l2.7 -2.8M415 425.6l-14.2 3.1m3.6 1.4l-3.6 -1.4l2.7 -2.8M423.1 425.6l-15.4 3.4m3.6 1.4l-3.6 -1.4l2.7 -2.8M431.1 425.6l-16.1 3.5m3.6 1.4l-3.6 -1.4l2.8 -2.8M439.2 425.6l-15.9 3.5m3.7 1.4l-3.7 -1.4l2.7 -2.8M447.3 425.6l-14.8 4.1m3.7 1.2l-3.7 -1.2l2.6 -2.9M455.3 425.6l-13.3 4.1m3.8 1.1l-3.8 -1.1l2.5 -3M463.4 425.6l-11.8 3m3.5 1.2l-3.5 -1.2l2.5 -2.7M471.4 425.6l-9.8 1.9m2.8 1.1l-2.8 -1.1l2.2 -2.1M479.5 425.6l-7.4 1.7m2.5 .9l-2.5 -.9l1.9 -1.9M487.6 425.6l-1.5 4.5m2.1 -1.7l-2.1 1.7l-.7 -2.6M495.6 425.6l2.1 3.9m.2 -2.7l-.2 2.7l-2.4 -1.3M503.7 425.6l2.8 4.1m0 -2.7l0 2.7l-2.5 -1.1M511.7 425.6l4.3 4.9m-.4 -2.7l.4 2.7l-2.6 -.7M519.8 425.6l6 5.8m-.6 -2.6l.6 2.6l-2.6 -.5M527.9 425.6l8 6.4m-1 -2.9l1 2.9l-3 -.3M535.9 425.6l10.3 6.3m-1.6 -3.3l1.6 3.3l-3.6 .1M544 425.6l12.2 6.5m-1.9 -3.4l1.9 3.4l-3.9 .3M552 425.6l13.8 7.1m-1.9 -3.4l1.9 3.4l-3.9 .4M560.1 425.6l15.1 7.7m-1.9 -3.4l1.9 3.4l-3.9 .4M568.2 425.6l16.4 8.4m-1.9 -3.4l1.9 3.4l-3.9 .4M576.2 425.6l17.6 8.9m-1.9 -3.4l1.9 3.4l-3.9 .4M584.3 425.6l18.7 9.5m-1.9 -3.4l1.9 3.4l-3.9 .4M592.3 425.6l19.7 10m-1.9 -3.4l1.9 3.4l-3.9 .4M600.4 425.6l20.7 10.5m-1.9 -3.4l1.9 3.4l-3.9 .4M608.5 425.6l21.6 11m-2 -3.4l2 3.4l-3.9 .4M616.5 425.6l22.4 11.4m-2 -3.4l2 3.4l-3.9 .4M624.6 425.6l23.1 11.8m-2 -3.4l2 3.4l-3.9 .4M632.6 425.6l23.8 12.1m-2 -3.4l2 3.4l-3.9 .4M640.7 425.6l24.3 12.3m-2 -3.4l2 3.4l-3.9 .4M648.8 425.6l24.7 12.4m-2 -3.4l2 3.4l-3.9 .4M656.8 425.6l25 12.6m-2 -3.4l2 3.4l-3.9 .4M664.9 425.6l25.3 12.7m-2 -3.4l2 3.4l-3.9 .4M672.9 425.6l25.5 12.8m-2 -3.4l2 3.4l-3.9 .4M681 425.6l25.7 12.6m-2 -3.3l2 3.3l-3.9 .5M689.1 425.6l25.9 12.5m-2 -3.3l2 3.3l-3.9 .5M697.1 425.6l26 12.5m-2 -3.3l2 3.3l-3.9 .5M705.2 425.6l26 12.5m-2 -3.3l2 3.3l-3.9 .5M713.2 425.6l26 12.5m-2 -3.3l2 3.3l-3.9 .5M721.3 425.6l25.9 12.5m-2 -3.3l2 3.3l-3.9 .5M197.4 421.3l8.3 -7.6m-3.3 .6l3.3 -.6l-.9 3.3M205.5 421.3l9.1 -7.1m-3.4 .3l3.4 -.3l-1.1 3.3M213.5 421.3l8.6 -7.3m-3.4 .4l3.4 -.4l-1 3.2M221.6 421.3l6.6 -8.6m-3.1 1.1l3.1 -1.1l-.2 3.2M229.6 421.3l8.2 -6.5m-3.1 .3l3.1 -.3l-1 3M237.7 421.3l8.2 -6.1m-3.1 .2l3.1 -.2l-1.1 2.9M245.8 421.3l6.5 -7.5m-2.9 .8l2.9 -.8l-.4 3M253.8 421.3l3.9 -8.9m-2.5 1.6l2.5 -1.6l.5 2.9M261.9 421.3l5 -8.5m-2.6 1.3l2.6 -1.3l.1 2.9M269.9 421.3l3.8 -8.8m-2.4 1.6l2.4 -1.6l.5 2.8M278 421.3l1.2 -8.3m-1.8 2l1.8 -2l1.1 2.4M286.1 421.3l-3.9 -7.6m-.3 2.7l.3 -2.7l2.3 1.3M294.1 421.3l-5.9 -6.8m.4 2.7l-.4 -2.7l2.6 .8M302.2 421.3l-6 -6.4m.5 2.7l-.5 -2.7l2.6 .7M310.2 421.3l-6.1 -6.1m.6 2.6l-.6 -2.6l2.6 .5M318.3 421.3l-6.4 -5.6m.7 2.6l-.7 -2.6l2.7 .4M326.4 421.3l-7.1 -4.8m1.1 2.5l-1.1 -2.5l2.7 0M334.4 421.3l-8.4 -1.3m2 1.8l-2 -1.8l2.5 -1.1M342.5 421.3l-7.8 5.3m2.8 -.1l-2.8 .1l1.1 -2.6M350.5 421.3l-7.3 7.6m3.1 -.7l-3.1 .7l.6 -3.1M358.6 421.3l-7.3 6.4m2.9 -.4l-2.9 .4l.8 -2.8M366.7 421.3l-5.3 5.2m2.6 -.5l-2.6 .5l.6 -2.6M374.7 421.3l-8.6 6.9m3.3 -.3l-3.3 .3l1 -3.2M382.8 421.3l-10.5 2.7m3.1 1l-3.1 -1l2.2 -2.4M390.8 421.3l-10.4 1.4m2.8 1.3l-2.8 -1.3l2.4 -2.1M398.9 421.3l-10.6 2.1m3 1.2l-3 -1.2l2.3 -2.3M407 421.3l-11.5 2.9m3.4 1.1l-3.4 -1.1l2.4 -2.6M415 421.3l-12.8 2.9m3.7 1.4l-3.7 -1.4l2.7 -2.8M423.1 421.3l-14.1 3m3.6 1.4l-3.6 -1.4l2.8 -2.8M431.1 421.3l-14.9 3.2m3.6 1.4l-3.6 -1.4l2.8 -2.8M439.2 421.3l-15.1 3.7m3.7 1.3l-3.7 -1.3l2.7 -2.8M447.3 421.3l-14.4 4.4m3.7 1.1l-3.7 -1.1l2.5 -3M455.3 421.3l-13.2 4.4m3.8 1l-3.8 -1l2.4 -3.1M463.4 421.3l-11.8 3.2m3.5 1.1l-3.5 -1.1l2.4 -2.7M471.4 421.3l-9.5 2.2m2.8 1l-2.8 -1l2 -2.1M479.5 421.3l-6.4 2.1m2.6 .7l-2.6 -.7l1.7 -2.1M487.6 421.3l-.1 3.9m1.5 -2.2l-1.5 2.2l-1.4 -2.3M495.6 421.3l1.4 2.5m.2 -2.7l-.2 2.7l-2.4 -1.3M503.7 421.3l1.9 3m0 -2.7l0 2.7l-2.5 -1.1M511.7 421.3l3.4 4.1m-.3 -2.7l.3 2.7l-2.6 -.8M519.8 421.3l5.2 5.3m-.5 -2.6l.5 2.6l-2.6 -.6M527.9 421.3l7.4 6m-.9 -2.7l.9 2.7l-2.8 -.3M535.9 421.3l9.9 6.1m-1.5 -3.1l1.5 3.1l-3.5 .1M544 421.3l12 6.4m-1.9 -3.4l1.9 3.4l-3.9 .3M552 421.3l13.8 7.1m-1.9 -3.4l1.9 3.4l-3.9 .4M560.1 421.3l15.2 7.8m-1.9 -3.4l1.9 3.4l-3.9 .4M568.2 421.3l16.5 8.4m-1.9 -3.4l1.9 3.4l-3.9 .4M576.2 421.3l17.7 9m-1.9 -3.4l1.9 3.4l-3.9 .4M584.3 421.3l18.8 9.6m-1.9 -3.4l1.9 3.4l-3.9 .4M592.3 421.3l19.9 10.2m-1.9 -3.4l1.9 3.4l-3.9 .4M600.4 421.3l20.9 10.7m-1.9 -3.4l1.9 3.4l-3.9 .4M608.5 421.3l21.8 11.1m-1.9 -3.4l1.9 3.4l-3.9 .4M616.5 421.3l22.6 11.5m-1.9 -3.4l1.9 3.4l-3.9 .4M624.6 421.3l23.3 11.9m-1.9 -3.4l1.9 3.4l-3.9 .4M632.6 421.3l23.9 12.2m-1.9 -3.4l1.9 3.4l-3.9 .4M640.7 421.3l24.4 12.4m-2 -3.4l2 3.4l-3.9 .4M648.8 421.3l24.8 12.6m-2 -3.4l2 3.4l-3.9 .4M656.8 421.3l25.1 12.7m-2 -3.4l2 3.4l-3.9 .4M664.9 421.3l25.3 12.8m-2 -3.4l2 3.4l-3.9 .4M672.9 421.3l25.4 12.9m-2 -3.4l2 3.4l-3.9 .4M681 421.3l25.7 12.7m-2 -3.4l2 3.4l-3.9 .5M689.1 421.3l25.9 12.6m-2 -3.3l2 3.3l-3.9 .5M697.1 421.3l25.9 12.6m-2 -3.3l2 3.3l-3.9 .5M705.2 421.3l26 12.7m-2 -3.3l2 3.3l-3.9 .5M713.2 421.3l26 12.7m-2 -3.3l2 3.3l-3.9 .5M721.3 421.3l25.9 12.6m-2 -3.3l2 3.3l-3.9 .5M229.6 417l8.5 -5.5m-3 0l3 0l-1.2 2.8M237.7 417l8.3 -5.3m-3 0l3 0l-1.2 2.7M245.8 417l7.6 -5.9m-2.9 .2l2.9 -.2l-1 2.7M253.8 417l6.5 -7m-2.8 .7l2.8 -.7l-.5 2.8M261.9 417l6.9 -7.2m-2.9 .7l2.9 -.7l-.6 3M269.9 417l5.9 -7.2m-2.7 .9l2.7 -.9l-.3 2.8M278 417l2.6 -5.6m-2.3 1.4l2.3 -1.4l.4 2.7M286.1 417l-2.4 -6.6m-.6 2.6l.6 -2.6l2.2 1.6M294.1 417l-5.6 -6.6m.4 2.7l-.4 -2.7l2.6 .8M302.2 417l-6.1 -6.2m.5 2.6l-.5 -2.6l2.6 .6M310.2 417l-6.3 -5.6m.7 2.6l-.7 -2.6l2.7 .4M318.3 417l-6.8 -4.9m1 2.5l-1 -2.5l2.7 .1M326.4 417l-8.2 -1.9m1.9 1.9l-1.9 -1.9l2.5 -.9M334.4 417l-7.1 5m2.7 -.1l-2.7 .1l1 -2.5M342.5 417l-5.5 7.6m2.6 -1l-2.6 1l.1 -2.8M350.5 417l-5.5 9.1m2.9 -1.4l-2.9 1.4l-.1 -3.2M358.6 417l-4.2 7.2m2.4 -1.2l-2.4 1.2l-.1 -2.7M366.7 417l-1.9 3.5m2.4 -1.3l-2.4 1.3l-.2 -2.7M374.7 417l-5.9 9.2m3 -1.4l-3 1.4l0 -3.3M382.8 417l-8.9 6.5m3.3 -.2l-3.3 .2l1.2 -3.1M390.8 417l-9.6 3.2m2.9 .8l-2.9 -.8l1.9 -2.4M398.9 417l-9.2 4m3 .5l-3 -.5l1.7 -2.5M407 417l-9.5 4.4m3.1 .4l-3.1 -.4l1.7 -2.7M415 417l-10.8 3.6m3.3 .9l-3.3 -.9l2.1 -2.7M423.1 417l-12 3.3m3.6 1.1l-3.6 -1.1l2.5 -2.8M431.1 417l-12.7 4m3.8 1l-3.8 -1l2.5 -3M439.2 417l-11.7 5m3.8 .7l-3.8 -.7l2.1 -3.2M447.3 417l-10.6 5.7m3.6 .3l-3.6 -.3l1.7 -3.2M455.3 417l-9.7 5.8m3.4 .1l-3.4 -.1l1.5 -3M463.4 417l-9.7 4.7m3.2 .4l-3.2 -.4l1.7 -2.8M471.4 417l-8.1 4m2.7 .3l-2.7 -.3l1.4 -2.3M479.5 417l-4.5 3.6m2.7 -.3l-2.7 .3l.8 -2.6M487.6 417l0 2.9m1.5 -2.3l-1.5 2.3l-1.5 -2.3M495.6 417l.9 1.8m.3 -2.7l-.3 2.7l-2.4 -1.3M503.7 417l1.3 2.1m.1 -2.7l-.1 2.7l-2.4 -1.2M511.7 417l2.6 3.3m-.2 -2.7l.2 2.7l-2.6 -.9M519.8 417l4.4 4.7m-.5 -2.7l.5 2.7l-2.6 -.6M527.9 417l6.8 5.6m-.8 -2.6l.8 2.6l-2.7 -.3M535.9 417l9.5 5.9m-1.4 -3l1.4 3l-3.3 .1M544 417l11.8 6.4m-1.9 -3.4l1.9 3.4l-3.9 .3M552 417l13.7 7.1m-1.9 -3.4l1.9 3.4l-3.9 .4M560.1 417l15.2 7.8m-1.9 -3.4l1.9 3.4l-3.9 .4M568.2 417l16.6 8.5m-1.9 -3.4l1.9 3.4l-3.9 .4M576.2 417l17.8 9.1m-1.9 -3.4l1.9 3.4l-3.9 .4M584.3 417l18.9 9.7m-1.9 -3.4l1.9 3.4l-3.9 .4M592.3 417l20 10.3m-1.9 -3.4l1.9 3.4l-3.9 .4M600.4 417l21 10.8m-1.9 -3.4l1.9 3.4l-3.9 .4M608.5 417l21.9 11.2m-1.9 -3.4l1.9 3.4l-3.9 .4M616.5 417l22.7 11.6m-1.9 -3.4l1.9 3.4l-3.9 .4M624.6 417l23.4 12m-1.9 -3.4l1.9 3.4l-3.9 .4M632.6 417l23.9 12.3m-1.9 -3.4l1.9 3.4l-3.9 .4M640.7 417l24.4 12.5m-1.9 -3.4l1.9 3.4l-3.9 .4M648.8 417l24.7 12.7m-1.9 -3.4l1.9 3.4l-3.9 .4M656.8 417l25 12.8m-1.9 -3.4l1.9 3.4l-3.9 .4M664.9 417l25.2 12.9m-1.9 -3.4l1.9 3.4l-3.9 .4M672.9 417l25.3 12.9m-1.9 -3.4l1.9 3.4l-3.9 .4M681 417l25.5 12.8m-2 -3.4l2 3.4l-3.9 .4M689.1 417l25.7 12.7m-2 -3.4l2 3.4l-3.9 .5M697.1 417l25.8 12.8m-2 -3.4l2 3.4l-3.9 .5M705.2 417l25.9 12.8m-2 -3.4l2 3.4l-3.9 .5M713.2 417l25.8 12.8m-2 -3.4l2 3.4l-3.9 .5M721.3 417l25.7 12.7m-2 -3.4l2 3.4l-3.9 .5M229.6 412.7l8.4 -5.1m-2.9 -.1l2.9 .1l-1.3 2.6M237.7 412.7l8.2 -4.9m-2.9 -.1l2.9 .1l-1.3 2.6M245.8 412.7l7.8 -5.3m-2.8 .1l2.8 -.1l-1.1 2.6M253.8 412.7l7.1 -6.3m-2.8 .4l2.8 -.4l-.8 2.8M261.9 412.7l7.9 -7.1m-3.1 .5l3.1 -.5l-.8 3.1M269.9 412.7l6.9 -6.4m-2.8 .5l2.8 -.5l-.7 2.7M278 412.7l2.4 -2.6m-2.6 .7l2.6 -.7l-.4 2.7M286.1 412.7l1.3 -5.3m-2 1.8l2 -1.8l.9 2.6M294.1 412.7l-5 -6.8m.2 2.7l-.2 -2.7l2.5 1M302.2 412.7l-6.7 -5.1m.9 2.5l-.9 -2.5l2.7 .2M310.2 412.7l-7.5 -3.5m1.4 2.3l-1.4 -2.3l2.7 -.4M318.3 412.7l-8 -1.8m1.9 1.9l-1.9 -1.9l2.5 -.9M326.4 412.7l-7.3 3.9m2.7 .2l-2.7 -.2l1.3 -2.4M334.4 412.7l-5.1 6.9m2.5 -1l-2.5 1l.2 -2.7M342.5 412.7l-4.8 8m2.5 -1.2l-2.5 1.2l-.1 -2.8M350.5 412.7l-5.2 9.4m2.8 -1.5l-2.8 1.5l-.2 -3.2M358.6 412.7l-4.3 8.3m2.4 -1.4l-2.4 1.4l-.3 -2.8M366.7 412.7l-2.6 5.3m2.3 -1.4l-2.3 1.4l-.3 -2.7M374.7 412.7l-5.4 10.5m3.1 -1.8l-3.1 1.8l-.4 -3.5M382.8 412.7l-6.1 9.5m3.1 -1.4l-3.1 1.4l0 -3.4M390.8 412.7l-6 7.9m2.8 -1l-2.8 1l.2 -3M398.9 412.7l-.9 7.6m1.7 -2.1l-1.7 2.1l-1.2 -2.4M407 412.7l-1.4 7.3m1.9 -1.9l-1.9 1.9l-1 -2.5M415 412.7l-5.2 6.2m2.6 -.8l-2.6 .8l.3 -2.7M423.1 412.7l-7.8 5.2m2.8 0l-2.8 0l1.1 -2.6M431.1 412.7l-7.4 5.7m2.8 -.2l-2.8 .2l.9 -2.7M439.2 412.7l-5.9 6.8m2.6 -.8l-2.6 .8l.4 -2.7M447.3 412.7l-4.6 7.6m2.4 -1.2l-2.4 1.2l-.1 -2.7M455.3 412.7l-3.8 7.7m2.3 -1.4l-2.3 1.4l-.3 -2.7M463.4 412.7l-4.5 6.9m2.5 -1.1l-2.5 1.1l0 -2.7M471.4 412.7l-5 6.3m2.6 -.9l-2.6 .9l.3 -2.7M479.5 412.7l-2.7 4.1m2.5 -1.1l-2.5 1.1l0 -2.7M487.6 412.7l-.3 2.2m1.8 -2l-1.8 2l-1.1 -2.5M495.6 412.7l.8 1.8m.5 -2.7l-.5 2.7l-2.2 -1.5M503.7 412.7l.9 1.8m.2 -2.7l-.2 2.7l-2.4 -1.3M511.7 412.7l2 2.7m-.2 -2.7l.2 2.7l-2.5 -1M519.8 412.7l3.7 4.2m-.4 -2.7l.4 2.7l-2.6 -.7M527.9 412.7l6.1 5.3m-.7 -2.6l.7 2.6l-2.7 -.4M535.9 412.7l9 5.7m-1.3 -2.9l1.3 2.9l-3.2 0M544 412.7l11.5 6.3m-1.9 -3.4l1.9 3.4l-3.9 .3M552 412.7l13.5 7.1m-1.9 -3.4l1.9 3.4l-3.9 .4M560.1 412.7l15.2 7.9m-1.9 -3.4l1.9 3.4l-3.9 .4M568.2 412.7l16.6 8.6m-1.9 -3.4l1.9 3.4l-3.9 .4M576.2 412.7l17.8 9.2m-1.9 -3.4l1.9 3.4l-3.9 .4M584.3 412.7l19 9.8m-1.9 -3.4l1.9 3.4l-3.9 .4M592.3 412.7l20 10.3m-1.9 -3.4l1.9 3.4l-3.9 .4M600.4 412.7l21 10.8m-1.9 -3.4l1.9 3.4l-3.9 .4M608.5 412.7l21.9 11.3m-1.9 -3.4l1.9 3.4l-3.9 .4M616.5 412.7l22.6 11.7m-1.9 -3.4l1.9 3.4l-3.9 .4M624.6 412.7l23.3 12m-1.9 -3.4l1.9 3.4l-3.9 .4M632.6 412.7l23.8 12.3m-1.9 -3.4l1.9 3.4l-3.9 .4M640.7 412.7l24.3 12.5m-1.9 -3.4l1.9 3.4l-3.9 .4M648.8 412.7l24.5 12.7m-1.9 -3.4l1.9 3.4l-3.9 .4M656.8 412.7l24.7 12.9m-1.9 -3.4l1.9 3.4l-3.9 .4M664.9 412.7l24.9 12.9m-1.9 -3.4l1.9 3.4l-3.9 .4M672.9 412.7l25 13m-1.9 -3.4l1.9 3.4l-3.9 .4M681 412.7l25.2 12.9m-1.9 -3.4l1.9 3.4l-3.9 .4M689.1 412.7l25.3 13m-1.9 -3.4l1.9 3.4l-3.9 .4M697.1 412.7l25.3 13.1m-1.9 -3.4l1.9 3.4l-3.9 .4M705.2 412.7l25.4 13.1m-1.9 -3.4l1.9 3.4l-3.9 .4M713.2 412.7l25.4 13m-1.9 -3.4l1.9 3.4l-3.9 .4M721.3 412.7l25.3 13m-1.9 -3.4l1.9 3.4l-3.9 .4M261.9 408.4l8.6 -7.4m-3.4 .4l3.4 -.4l-1 3.3M269.9 408.4l7.7 -6.7m-3 .4l3 -.4l-.9 3M278 408.4l2.5 -2.2m-2.7 .4l2.7 -.4l-.7 2.6M286.1 408.4l3.4 -4.2m-2.6 .8l2.6 -.8l-.3 2.7M294.1 408.4l-1.7 -6.8m-.9 2.6l.9 -2.6l2 1.8M302.2 408.4l-7.9 -2m1.8 2l-1.8 -2l2.6 -.9M310.2 408.4l-8.1 .6m2.4 1.3l-2.4 -1.3l2.1 -1.6M318.3 408.4l-7.7 2.2m2.6 .8l-2.6 -.8l1.8 -2M326.4 408.4l-5.6 5.9m2.6 -.6l-2.6 .6l.5 -2.7M334.4 408.4l-4.4 7.1m2.4 -1.1l-2.4 1.1l-.1 -2.7M342.5 408.4l-4.6 8m2.5 -1.3l-2.5 1.3l-.1 -2.8M350.5 408.4l-5.2 9.5m2.9 -1.5l-2.9 1.5l-.2 -3.2M358.6 408.4l-5.3 10.4m3 -1.7l-3 1.7l-.4 -3.5M366.7 408.4l-4.9 10m2.9 -1.7l-2.9 1.7l-.4 -3.3M374.7 408.4l-5.8 11.8m3.3 -2l-3.3 2l-.5 -3.9M382.8 408.4l-5.1 10.6m3 -1.8l-3 1.8l-.5 -3.5M390.8 408.4l-1.6 9.9m2 -2.2l-2 2.2l-1.2 -2.8M398.9 408.4l4.6 7.9m.1 -2.7l-.1 2.7l-2.5 -1.2M407 408.4l4.9 7.6m0 -2.7l0 2.7l-2.5 -1.1M415 408.4l3.2 7.7m.5 -2.7l-.5 2.7l-2.2 -1.5M423.1 408.4l.3 7.5m1.4 -2.3l-1.4 2.3l-1.6 -2.2M431.1 408.4l-.7 7.6m1.7 -2.1l-1.7 2.1l-1.2 -2.4M439.2 408.4l.1 8m1.4 -2.3l-1.4 2.3l-1.5 -2.2M447.3 408.4l1 8.2m1.2 -2.4l-1.2 2.4l-1.7 -2.1M455.3 408.4l1.5 8.2m1 -2.5l-1 2.5l-1.9 -2M463.4 408.4l.2 7.9m1.4 -2.3l-1.4 2.3l-1.5 -2.2M471.4 408.4l-2.9 6.5m2.3 -1.5l-2.3 1.5l-.4 -2.7M479.5 408.4l-2 3.9m2.4 -1.3l-2.4 1.3l-.3 -2.7M487.6 408.4l-.5 1.9m2 -1.9l-2 1.9l-.9 -2.5M495.6 408.4l.5 1.9m.9 -2.5l-.9 2.5l-2 -1.9M503.7 408.4l.8 1.8m.5 -2.7l-.5 2.7l-2.2 -1.5M511.7 408.4l1.5 2.4m0 -2.7l0 2.7l-2.5 -1.1M519.8 408.4l3.2 3.7m-.4 -2.7l.4 2.7l-2.6 -.8M527.9 408.4l5.6 4.9m-.7 -2.6l.7 2.6l-2.7 -.4M535.9 408.4l8.6 5.5m-1.3 -2.8l1.3 2.8l-3.1 0M544 408.4l11.3 6.2m-1.8 -3.4l1.8 3.4l-3.9 .3M552 408.4l13.4 7.2m-1.9 -3.4l1.9 3.4l-3.9 .3M560.1 408.4l15 8.1m-1.9 -3.4l1.9 3.4l-3.9 .3M568.2 408.4l16.5 8.8m-1.9 -3.4l1.9 3.4l-3.9 .3M576.2 408.4l17.8 9.3m-1.9 -3.4l1.9 3.4l-3.9 .4M584.3 408.4l18.9 9.9m-1.9 -3.4l1.9 3.4l-3.9 .4M592.3 408.4l20 10.4m-1.9 -3.4l1.9 3.4l-3.9 .4M600.4 408.4l20.9 10.9m-1.9 -3.4l1.9 3.4l-3.9 .4M608.5 408.4l21.8 11.3m-1.9 -3.4l1.9 3.4l-3.9 .4M616.5 408.4l22.5 11.7m-1.9 -3.4l1.9 3.4l-3.9 .4M624.6 408.4l23.1 12m-1.9 -3.4l1.9 3.4l-3.9 .4M632.6 408.4l23.5 12.3m-1.9 -3.4l1.9 3.4l-3.9 .4M640.7 408.4l23.9 12.5m-1.9 -3.4l1.9 3.4l-3.9 .4M648.8 408.4l24 12.8m-1.9 -3.4l1.9 3.4l-3.9 .3M656.8 408.4l24.2 12.9m-1.9 -3.4l1.9 3.4l-3.9 .3M664.9 408.4l24.3 12.9m-1.9 -3.4l1.9 3.4l-3.9 .3M672.9 408.4l24.4 12.9m-1.9 -3.4l1.9 3.4l-3.9 .3M681 408.4l24.4 13.1m-1.9 -3.4l1.9 3.4l-3.9 .3M689.1 408.4l24.4 13.4m-1.8 -3.4l1.8 3.4l-3.9 .3M697.1 408.4l24.5 13.6m-1.8 -3.4l1.8 3.4l-3.9 .3M705.2 408.4l24.6 13.6m-1.8 -3.4l1.8 3.4l-3.9 .3M713.2 408.4l24.5 13.6m-1.8 -3.4l1.8 3.4l-3.9 .3M721.3 408.4l23.8 14.5m-1.7 -3.5l1.7 3.5l-3.9 .1M261.9 404.1l8.7 -7.4m-3.4 .4l3.4 -.4l-1 3.3M269.9 404.1l8.7 -7.4m-3.4 .4l3.4 -.4l-1 3.3M278 404.1l4.8 -4.2m-2.7 .4l2.7 -.4l-.7 2.6M286.1 404.1l5.3 -5.5m-2.6 .6l2.6 -.6l-.5 2.6M294.1 404.1l1.9 -6.7m-2 1.8l2 -1.8l.8 2.6M302.2 404.1l-7.3 .2m2.3 1.4l-2.3 -1.4l2.2 -1.5M310.2 404.1l-7.6 2.2m2.6 .8l-2.6 -.8l1.8 -2M318.3 404.1l-7.1 3.1m2.7 .4l-2.7 -.4l1.5 -2.3M326.4 404.1l-5.2 6m2.6 -.8l-2.6 .8l.4 -2.7M334.4 404.1l-4.2 7.1m2.4 -1.2l-2.4 1.2l-.1 -2.7M342.5 404.1l-4.5 7.9m2.4 -1.3l-2.4 1.3l-.2 -2.7M350.5 404.1l-5.2 9.5m2.9 -1.6l-2.9 1.6l-.3 -3.2M358.6 404.1l-5.9 11.6m3.4 -2l-3.4 2l-.4 -3.9M366.7 404.1l-6.2 12.8m3.3 -2l-3.3 2l-.5 -3.9M374.7 404.1l-6.2 12.8m3.3 -2l-3.3 2l-.5 -3.9M382.8 404.1l-5 11.2m3.1 -2l-3.1 2l-.6 -3.6M390.8 404.1l-.2 10.2m1.7 -2.5l-1.7 2.5l-1.6 -2.6M398.9 404.1l5.4 7.3m-.2 -2.7l.2 2.7l-2.6 -.9M407 404.1l5.8 6.5m-.4 -2.7l.4 2.7l-2.6 -.7M415 404.1l5.5 6.7m-.3 -2.7l.3 2.7l-2.6 -.8M423.1 404.1l4.9 7.4m0 -2.7l0 2.7l-2.5 -1.1M431.1 404.1l3.8 7.9m.4 -2.7l-.4 2.7l-2.3 -1.4M439.2 404.1l3.7 8m.4 -2.7l-.4 2.7l-2.3 -1.4M447.3 404.1l4 8.1m.3 -2.7l-.3 2.7l-2.3 -1.4M455.3 404.1l4.1 7.8m.3 -2.7l-.3 2.7l-2.4 -1.3M463.4 404.1l2.6 7.6m.7 -2.6l-.7 2.6l-2.1 -1.7M471.4 404.1l-1.9 6.2m2.1 -1.7l-2.1 1.7l-.7 -2.6M479.5 404.1l-1.8 3.8m2.3 -1.4l-2.3 1.4l-.4 -2.7M487.6 404.1l-.5 2m1.9 -1.9l-1.9 1.9l-.9 -2.5M495.6 404.1l.3 2m1.2 -2.4l-1.2 2.4l-1.7 -2.1M503.7 404.1l.5 1.9m.8 -2.6l-.8 2.6l-2 -1.8M511.7 404.1l1.2 2.2m.2 -2.7l-.2 2.7l-2.4 -1.3M519.8 404.1l2.7 3.4m-.3 -2.7l.3 2.7l-2.6 -.8M527.9 404.1l5.3 4.6m-.7 -2.6l.7 2.6l-2.7 -.4M535.9 404.1l8.3 5.2m-1.2 -2.7l1.2 2.7l-3 0M544 404.1l11 6.2m-1.8 -3.4l1.8 3.4l-3.8 .3M552 404.1l13.2 7.3m-1.8 -3.4l1.8 3.4l-3.9 .3M560.1 404.1l14.7 8.7m-1.7 -3.5l1.7 3.5l-3.9 .2M568.2 404.1l16.3 9m-1.8 -3.4l1.8 3.4l-3.9 .3M576.2 404.1l17.6 9.5m-1.9 -3.4l1.9 3.4l-3.9 .3M584.3 404.1l18.7 10m-1.9 -3.4l1.9 3.4l-3.9 .3M592.3 404.1l19.7 10.5m-1.9 -3.4l1.9 3.4l-3.9 .3M600.4 404.1l20.6 10.9m-1.9 -3.4l1.9 3.4l-3.9 .3M608.5 404.1l21.3 11.2m-1.9 -3.4l1.9 3.4l-3.9 .4M616.5 404.1l21.9 11.6m-1.9 -3.4l1.9 3.4l-3.9 .3M624.6 404.1l22.4 11.9m-1.9 -3.4l1.9 3.4l-3.9 .3M632.6 404.1l22.8 12.1m-1.9 -3.4l1.9 3.4l-3.9 .4M640.7 404.1l23 12.3m-1.9 -3.4l1.9 3.4l-3.9 .3M648.8 404.1l23.2 12.6m-1.9 -3.4l1.9 3.4l-3.9 .3M656.8 404.1l23.3 12.7m-1.9 -3.4l1.9 3.4l-3.9 .3M664.9 404.1l23.3 12.7m-1.9 -3.4l1.9 3.4l-3.9 .3M672.9 404.1l23.4 12.7m-1.9 -3.4l1.9 3.4l-3.9 .3M681 404.1l23.3 13.3m-1.8 -3.5l1.8 3.5l-3.9 .2M689.1 404.1l23.2 13.9m-1.7 -3.5l1.7 3.5l-3.9 .1M697.1 404.1l23.3 14.1m-1.7 -3.5l1.7 3.5l-3.9 .1M705.2 404.1l23.4 14.2m-1.7 -3.5l1.7 3.5l-3.9 .1M713.2 404.1l23 14.7m-1.6 -3.5l1.6 3.5l-3.9 0M721.3 404.1l19.9 18.3m-1 -3.8l1 3.8l-3.8 -.6M269.9 399.8l8.7 -7.4m-3.4 .4l3.4 -.4l-1 3.3M278 399.8l7.4 -6.6m-2.9 .5l2.9 -.5l-.8 2.9M286.1 399.8l7.2 -7.6m-3.1 .7l3.1 -.7l-.6 3.1M294.1 399.8l3.7 -7.5m-2.3 1.4l2.3 -1.4l.3 2.7M302.2 399.8l-6.2 -.2m2.2 1.5l-2.2 -1.5l2.3 -1.4M310.2 399.8l-7.2 2.4m2.6 .7l-2.6 -.7l1.7 -2.1M318.3 399.8l-6.8 3.1m2.7 .4l-2.7 -.4l1.4 -2.3M326.4 399.8l-5.1 5.7m2.6 -.7l-2.6 .7l.4 -2.7M334.4 399.8l-4 6.9m2.4 -1.2l-2.4 1.2l-.1 -2.7M342.5 399.8l-4.4 7.8m2.4 -1.3l-2.4 1.3l-.2 -2.7M350.5 399.8l-5.1 9.5m2.8 -1.6l-2.8 1.6l-.3 -3.2M358.6 399.8l-5.9 11.9m3.4 -2l-3.4 2l-.4 -3.9M366.7 399.8l-6.6 13.6m3.3 -2l-3.3 2l-.5 -3.9M374.7 399.8l-6.5 13.5m3.3 -2l-3.3 2l-.5 -3.9M382.8 399.8l-5.1 11.8m3.2 -2.1l-3.2 2.1l-.6 -3.8M390.8 399.8l0 10.5m1.7 -2.7l-1.7 2.7l-1.7 -2.6M398.9 399.8l5.5 7.3m-.2 -2.7l.2 2.7l-2.6 -.9M407 399.8l5.9 6.3m-.5 -2.7l.5 2.7l-2.6 -.6M415 399.8l5.8 6.2m-.5 -2.7l.5 2.7l-2.6 -.7M423.1 399.8l5.5 6.5m-.3 -2.7l.3 2.7l-2.6 -.8M431.1 399.8l5 7m-.1 -2.7l.1 2.7l-2.5 -1M439.2 399.8l4.8 7.2m0 -2.7l0 2.7l-2.5 -1.1M447.3 399.8l4.8 7.1m0 -2.7l0 2.7l-2.5 -1.1M455.3 399.8l4.7 6.8m-.1 -2.7l.1 2.7l-2.5 -1M463.4 399.8l3.5 6.7m.3 -2.7l-.3 2.7l-2.4 -1.3M471.4 399.8l-1 6.1m1.8 -2l-1.8 2l-1.1 -2.5M479.5 399.8l-1.5 3.9m2.2 -1.6l-2.2 1.6l-.6 -2.6M487.6 399.8l-.3 2.3m1.8 -2l-1.8 2l-1.2 -2.4M495.6 399.8l.2 2m1.2 -2.4l-1.2 2.4l-1.7 -2.1M503.7 399.8l.4 2m1 -2.5l-1 2.5l-1.9 -2M511.7 399.8l.9 2.1m.5 -2.7l-.5 2.7l-2.2 -1.5M519.8 399.8l2.4 3.2m-.2 -2.7l.2 2.7l-2.5 -.9M527.9 399.8l5 4.3m-.8 -2.6l.8 2.6l-2.7 -.4M535.9 399.8l8.1 5.1m-1.2 -2.6l1.2 2.6l-2.9 0M544 399.8l10.8 6.2m-1.7 -3.3l1.7 3.3l-3.7 .2M552 399.8l12.7 7.7m-1.7 -3.5l1.7 3.5l-3.9 .1M560.1 399.8l13.7 9.7m-1.4 -3.6l1.4 3.6l-3.9 -.2M568.2 399.8l15.6 9.4m-1.7 -3.5l1.7 3.5l-3.9 .1M576.2 399.8l17 9.5m-1.8 -3.5l1.8 3.5l-3.9 .2M584.3 399.8l18 9.9m-1.8 -3.4l1.8 3.4l-3.9 .3M592.3 399.8l18.8 10.3m-1.8 -3.4l1.8 3.4l-3.9 .3M600.4 399.8l19.6 10.7m-1.9 -3.4l1.9 3.4l-3.9 .3M608.5 399.8l20.3 10.9m-1.9 -3.4l1.9 3.4l-3.9 .3M616.5 399.8l20.8 11.3m-1.9 -3.4l1.9 3.4l-3.9 .3M624.6 399.8l21.2 11.5m-1.9 -3.4l1.9 3.4l-3.9 .3M632.6 399.8l21.6 11.6m-1.9 -3.4l1.9 3.4l-3.9 .3M640.7 399.8l21.7 11.9m-1.8 -3.4l1.8 3.4l-3.9 .3M648.8 399.8l21.8 12.2m-1.8 -3.4l1.8 3.4l-3.9 .3M656.8 399.8l21.9 12.3m-1.8 -3.5l1.8 3.5l-3.9 .3M664.9 399.8l21.9 12.3m-1.8 -3.5l1.8 3.5l-3.9 .3M672.9 399.8l22 12.4m-1.8 -3.5l1.8 3.5l-3.9 .3M681 399.8l21.7 13.3m-1.7 -3.5l1.7 3.5l-3.9 .1M689.1 399.8l21.6 14m-1.6 -3.6l1.6 3.6l-3.9 0M697.1 399.8l21.8 14.3m-1.6 -3.6l1.6 3.6l-3.9 0M705.2 399.8l21.9 14.5m-1.6 -3.6l1.6 3.6l-3.9 0M713.2 399.8l20.7 16m-1.3 -3.7l1.3 3.7l-3.9 -.3M721.3 399.8l16.3 20.1m-.4 -3.9l.4 3.9l-3.7 -1.2M269.9 395.5l8 -6.9m-3.1 .4l3.1 -.4l-.9 3.1M278 395.5l8.5 -7.9m-3.4 .6l3.4 -.6l-.8 3.4M286.1 395.5l8.2 -9.3m-3.6 1l3.6 -1l-.5 3.7M294.1 395.5l4.8 -8.5m-2.6 1.3l2.6 -1.3l.2 2.9M302.2 395.5l-4.6 -1.9m1.5 2.2l-1.5 -2.2l2.7 -.5M310.2 395.5l-6.8 2.2m2.6 .7l-2.6 -.7l1.7 -2.1M318.3 395.5l-6.4 3.1m2.7 .3l-2.7 -.3l1.4 -2.3M326.4 395.5l-4.9 5.4m2.6 -.7l-2.6 .7l.4 -2.7M334.4 395.5l-3.8 6.7m2.4 -1.2l-2.4 1.2l-.2 -2.7M342.5 395.5l-4.1 7.6m2.4 -1.3l-2.4 1.3l-.2 -2.7M350.5 395.5l-4.9 9.4m2.8 -1.6l-2.8 1.6l-.3 -3.2M358.6 395.5l-5.8 11.9m3.3 -2l-3.3 2l-.5 -3.9M366.7 395.5l-6.7 13.9m3.3 -2l-3.3 2l-.5 -3.9M374.7 395.5l-6.6 14m3.3 -2.1l-3.3 2.1l-.5 -3.9M382.8 395.5l-5.2 12.4m3.2 -2.2l-3.2 2.2l-.7 -3.8M390.8 395.5l-.5 10.9m1.9 -2.7l-1.9 2.7l-1.6 -2.8M398.9 395.5l5.1 7.7m0 -2.8l0 2.8l-2.6 -1.1M407 395.5l5.8 6.3m-.5 -2.7l.5 2.7l-2.6 -.7M415 395.5l5.8 6.1m-.5 -2.7l.5 2.7l-2.6 -.6M423.1 395.5l5.6 6.2m-.4 -2.7l.4 2.7l-2.6 -.7M431.1 395.5l5.3 6.5m-.3 -2.7l.3 2.7l-2.6 -.8M439.2 395.5l5.1 6.7m-.2 -2.7l.2 2.7l-2.5 -.9M447.3 395.5l5 6.6m-.2 -2.7l.2 2.7l-2.5 -.9M455.3 395.5l4.8 6.4m-.2 -2.7l.2 2.7l-2.5 -.9M463.4 395.5l4 6.1m0 -2.7l0 2.7l-2.5 -1.1M471.4 395.5l.5 6m1.3 -2.4l-1.3 2.4l-1.7 -2.1M479.5 395.5l-.9 4.2m1.9 -1.9l-1.9 1.9l-1 -2.5M487.6 395.5l0 2.7m1.5 -2.2l-1.5 2.2l-1.4 -2.3M495.6 395.5l.2 2m1.2 -2.4l-1.2 2.4l-1.7 -2.1M503.7 395.5l.3 2m1.1 -2.4l-1.1 2.4l-1.8 -2M511.7 395.5l.6 2.2m.8 -2.6l-.8 2.6l-2 -1.8M519.8 395.5l2 3.4m.1 -2.7l-.1 2.7l-2.4 -1.2M527.9 395.5l4.8 4.3m-.7 -2.6l.7 2.6l-2.7 -.4M535.9 395.5l7.7 5.1m-1.1 -2.5l1.1 2.5l-2.8 0M544 395.5l10 6.4m-1.5 -3.2l1.5 3.2l-3.6 0M552 395.5l11.4 8.3m-1.4 -3.6l1.4 3.6l-3.9 -.2M560.1 395.5l11.4 10.9m-.9 -3.8l.9 3.8l-3.8 -.7M568.2 395.5l13.9 9.9m-1.4 -3.6l1.4 3.6l-3.9 -.2M576.2 395.5l15.4 9.6m-1.7 -3.5l1.7 3.5l-3.9 .1M584.3 395.5l16.4 9.8m-1.7 -3.5l1.7 3.5l-3.9 .1M592.3 395.5l17.1 10.1m-1.7 -3.5l1.7 3.5l-3.9 .2M600.4 395.5l17.8 10.4m-1.7 -3.5l1.7 3.5l-3.9 .2M608.5 395.5l18.4 10.6m-1.8 -3.5l1.8 3.5l-3.9 .2M616.5 395.5l18.8 11m-1.7 -3.5l1.7 3.5l-3.9 .2M624.6 395.5l19.2 11.2m-1.7 -3.5l1.7 3.5l-3.9 .2M632.6 395.5l19.6 11.2m-1.8 -3.5l1.8 3.5l-3.9 .2M640.7 395.5l19.7 11.6m-1.7 -3.5l1.7 3.5l-3.9 .2M648.8 395.5l19.7 11.9m-1.7 -3.5l1.7 3.5l-3.9 .1M656.8 395.5l19.8 12.1m-1.7 -3.5l1.7 3.5l-3.9 .1M664.9 395.5l19.9 12.1m-1.7 -3.5l1.7 3.5l-3.9 .1M672.9 395.5l20.2 12.1m-1.7 -3.5l1.7 3.5l-3.9 .1M681 395.5l19.7 13.4m-1.5 -3.6l1.5 3.6l-3.9 -.1M689.1 395.5l19.6 14.2m-1.4 -3.6l1.4 3.6l-3.9 -.2M697.1 395.5l19.9 14.6m-1.4 -3.6l1.4 3.6l-3.9 -.2M705.2 395.5l20 14.9m-1.4 -3.7l1.4 3.7l-3.9 -.3M713.2 395.5l17.9 17.2m-.9 -3.8l.9 3.8l-3.8 -.7M721.3 395.5l14.4 19.8m-.2 -3.9l.2 3.9l-3.6 -1.4M269.9 391.2l7.2 -6.4m-2.8 .4l2.8 -.4l-.8 2.8M278 391.2l8.1 -8.1m-3.4 .7l3.4 -.7l-.7 3.4M286.1 391.2l7.8 -9.6m-3.5 1.1l3.5 -1.1l-.4 3.7M294.1 391.2l5 -8.3m-2.6 1.3l2.6 -1.3l.1 2.9M302.2 391.2l-1.9 -4m-.3 2.7l.3 -2.7l2.3 1.4M310.2 391.2l-6.4 2m2.6 .7l-2.6 -.7l1.7 -2.1M318.3 391.2l-5.7 3.2m2.7 .2l-2.7 -.2l1.3 -2.4M326.4 391.2l-4.3 5.3m2.6 -.8l-2.6 .8l.3 -2.7M334.4 391.2l-3.5 6.5m2.4 -1.3l-2.4 1.3l-.2 -2.7M342.5 391.2l-3.8 7.5m2.3 -1.3l-2.3 1.3l-.3 -2.7M350.5 391.2l-4.5 9.3m2.7 -1.6l-2.7 1.6l-.4 -3.1M358.6 391.2l-5.6 11.9m3.3 -2.1l-3.3 2.1l-.5 -3.9M366.7 391.2l-6.6 14.1m3.3 -2.1l-3.3 2.1l-.5 -3.9M374.7 391.2l-6.7 14.5m3.3 -2.1l-3.3 2.1l-.6 -3.9M382.8 391.2l-5.4 12.9m3.2 -2.2l-3.2 2.2l-.7 -3.8M390.8 391.2l-1.7 11.1m2.3 -2.5l-2.3 2.5l-1.4 -3.1M398.9 391.2l4.1 8.5m.3 -2.8l-.3 2.8l-2.4 -1.5M407 391.2l5.6 6.5m-.4 -2.7l.4 2.7l-2.6 -.7M415 391.2l5.7 6.1m-.5 -2.7l.5 2.7l-2.6 -.7M423.1 391.2l5.5 6.2m-.4 -2.7l.4 2.7l-2.6 -.7M431.1 391.2l5.3 6.3m-.3 -2.7l.3 2.7l-2.6 -.8M439.2 391.2l5.2 6.4m-.3 -2.7l.3 2.7l-2.6 -.8M447.3 391.2l5.1 6.4m-.3 -2.7l.3 2.7l-2.6 -.8M455.3 391.2l4.9 6.2m-.3 -2.7l.3 2.7l-2.6 -.9M463.4 391.2l4.3 5.8m-.2 -2.7l.2 2.7l-2.5 -1M471.4 391.2l2.4 5.6m.5 -2.7l-.5 2.7l-2.2 -1.5M479.5 391.2l.5 4.6m1.2 -2.4l-1.2 2.4l-1.7 -2.1M487.6 391.2l.3 3.1m1.2 -2.4l-1.2 2.4l-1.7 -2.1M495.6 391.2l.2 2.1m1.2 -2.4l-1.2 2.4l-1.7 -2.1M503.7 391.2l.2 2m1.2 -2.4l-1.2 2.4l-1.7 -2.1M511.7 391.2l.5 2.4m1 -2.5l-1 2.5l-1.9 -1.9M519.8 391.2l1.6 3.6m.4 -2.7l-.4 2.7l-2.3 -1.5M527.9 391.2l4.2 4.4m-.5 -2.7l.5 2.7l-2.6 -.6M535.9 391.2l6.6 5m-.9 -2.5l.9 2.5l-2.7 -.2M544 391.2l8.4 6.3m-1.1 -3l1.1 3l-3.1 -.2M552 391.2l9.1 8.5m-.9 -3.6l.9 3.6l-3.7 -.7M560.1 391.2l8.2 11.2m-.2 -3.9l.2 3.9l-3.6 -1.4M568.2 391.2l11.1 10.2m-1 -3.8l1 3.8l-3.8 -.6M576.2 391.2l12.9 9.4m-1.4 -3.6l1.4 3.6l-3.9 -.2M584.3 391.2l13.9 9.5m-1.5 -3.6l1.5 3.6l-3.9 -.1M592.3 391.2l14.5 9.9m-1.5 -3.6l1.5 3.6l-3.9 -.1M600.4 391.2l14.8 10.5m-1.4 -3.6l1.4 3.6l-3.9 -.2M608.5 391.2l15.6 10.5m-1.5 -3.6l1.5 3.6l-3.9 -.1M616.5 391.2l15.9 11.1m-1.5 -3.6l1.5 3.6l-3.9 -.1M624.6 391.2l16.2 11.3m-1.5 -3.6l1.5 3.6l-3.9 -.1M632.6 391.2l16.6 11.4m-1.5 -3.6l1.5 3.6l-3.9 -.1M640.7 391.2l16.4 12.3m-1.3 -3.7l1.3 3.7l-3.9 -.3M648.8 391.2l16.4 12.6m-1.3 -3.7l1.3 3.7l-3.9 -.3M656.8 391.2l16.5 12.9m-1.3 -3.7l1.3 3.7l-3.9 -.3M664.9 391.2l16.8 12.8m-1.3 -3.7l1.3 3.7l-3.9 -.3M672.9 391.2l17.3 12.5m-1.4 -3.6l1.4 3.6l-3.9 -.2M681 391.2l16.5 14.3m-1.1 -3.7l1.1 3.7l-3.9 -.5M689.1 391.2l16.6 15.1m-1 -3.8l1 3.8l-3.8 -.6M697.1 391.2l16.9 15.7m-.9 -3.8l.9 3.8l-3.8 -.7M705.2 391.2l16.9 16.2m-.9 -3.8l.9 3.8l-3.8 -.7M713.2 391.2l15 17.9m-.5 -3.9l.5 3.9l-3.7 -1.1M721.3 391.2l13 18.8m-.1 -3.9l.1 3.9l-3.6 -1.5M269.9 386.9l6.4 -6.1m-2.7 .5l2.7 -.5l-.6 2.6M278 386.9l6.9 -7.7m-3 .8l3 -.8l-.5 3.1M286.1 386.9l6.6 -8.7m-3.1 1.1l3.1 -1.1l-.2 3.3M294.1 386.9l4.5 -7.3m-2.4 1.2l2.4 -1.2l.1 2.7M302.2 386.9l.3 -4.7m-1.6 2.2l1.6 -2.2l1.3 2.4M310.2 386.9l-5.5 1.7m2.6 .7l-2.6 -.7l1.7 -2.1M318.3 386.9l-4.8 3.6m2.7 -.2l-2.7 .2l.9 -2.5M326.4 386.9l-3.4 5.2m2.5 -1.1l-2.5 1.1l0 -2.7M334.4 386.9l-3 6.2m2.3 -1.4l-2.3 1.4l-.4 -2.7M342.5 386.9l-3.3 7.3m2.3 -1.5l-2.3 1.5l-.4 -2.7M350.5 386.9l-4.1 9.2m2.5 -1.6l-2.5 1.6l-.5 -3M358.6 386.9l-5.2 11.8m3.2 -2.1l-3.2 2.1l-.6 -3.8M366.7 386.9l-6.4 14.2m3.3 -2.1l-3.3 2.1l-.6 -3.9M374.7 386.9l-6.6 14.8m3.3 -2.1l-3.3 2.1l-.6 -3.9M382.8 386.9l-5.5 13.3m3.2 -2.2l-3.2 2.2l-.7 -3.8M390.8 386.9l-3 11.3m2.6 -2.4l-2.6 2.4l-1.1 -3.3M398.9 386.9l2.2 9.3m1 -2.7l-1 2.7l-2.1 -2M407 386.9l5.2 6.8m-.2 -2.7l.2 2.7l-2.5 -.9M415 386.9l5.5 6.1m-.4 -2.7l.4 2.7l-2.6 -.7M423.1 386.9l5.4 6.2m-.4 -2.7l.4 2.7l-2.6 -.7M431.1 386.9l5.3 6.3m-.3 -2.7l.3 2.7l-2.6 -.8M439.2 386.9l5.2 6.3m-.3 -2.7l.3 2.7l-2.6 -.8M447.3 386.9l5.1 6.3m-.3 -2.7l.3 2.7l-2.6 -.8M455.3 386.9l4.9 6.2m-.3 -2.7l.3 2.7l-2.6 -.9M463.4 386.9l4.4 5.8m-.2 -2.7l.2 2.7l-2.5 -.9M471.4 386.9l3.4 5.3m0 -2.7l0 2.7l-2.5 -1.1M479.5 386.9l1.9 4.5m.5 -2.7l-.5 2.7l-2.2 -1.5M487.6 386.9l.8 3.4m1 -2.5l-1 2.5l-1.9 -1.9M495.6 386.9l.3 2.5m1.2 -2.4l-1.2 2.4l-1.7 -2.1M503.7 386.9l.2 2.2m1.2 -2.4l-1.2 2.4l-1.7 -2.1M511.7 386.9l.4 2.6m1.1 -2.4l-1.1 2.4l-1.8 -2M519.8 386.9l1 3.6m.8 -2.6l-.8 2.6l-2 -1.8M527.9 386.9l3.2 4.4m-.1 -2.7l.1 2.7l-2.5 -1M535.9 386.9l5.2 4.7m-.7 -2.6l.7 2.6l-2.7 -.4M544 386.9l6.5 5.8m-.7 -2.6l.7 2.6l-2.7 -.4M552 386.9l6.6 8m-.4 -3.1l.4 3.1l-3 -.9M560.1 386.9l5.6 10.1m.2 -3.5l-.2 3.5l-3.1 -1.6M568.2 386.9l8.1 9.5m-.5 -3.7l.5 3.7l-3.6 -1.1M576.2 386.9l10.2 8.7m-1.1 -3.7l1.1 3.7l-3.9 -.5M584.3 386.9l11.1 8.7m-1.3 -3.7l1.3 3.7l-3.9 -.4M592.3 386.9l11.5 9.3m-1.2 -3.7l1.2 3.7l-3.9 -.4M600.4 386.9l11.4 10.4m-1 -3.8l1 3.8l-3.8 -.6M608.5 386.9l12.3 10.3m-1.1 -3.7l1.1 3.7l-3.9 -.5M616.5 386.9l12.7 10.7m-1.1 -3.7l1.1 3.7l-3.9 -.5M624.6 386.9l12.9 11.1m-1.1 -3.7l1.1 3.7l-3.9 -.5M632.6 386.9l12.8 11.8m-1 -3.8l1 3.8l-3.8 -.7M640.7 386.9l11.7 13.5m-.5 -3.9l.5 3.9l-3.8 -1.1M648.8 386.9l12 13.6m-.6 -3.9l.6 3.9l-3.8 -1.1M656.8 386.9l12.2 13.8m-.6 -3.9l.6 3.9l-3.8 -1M664.9 386.9l12.7 13.8m-.6 -3.8l.6 3.8l-3.8 -1M672.9 386.9l13.1 13.9m-.7 -3.8l.7 3.8l-3.8 -.9M681 386.9l11.1 16.3m-.1 -3.9l.1 3.9l-3.6 -1.5M689.1 386.9l12 16.6m-.2 -3.9l.2 3.9l-3.6 -1.4M697.1 386.9l12.4 17.3m-.2 -3.9l.2 3.9l-3.6 -1.4M705.2 386.9l12.3 17.9m-.1 -3.9l.1 3.9l-3.6 -1.5M713.2 386.9l11.6 18.3m0 -3.9l0 3.9l-3.5 -1.6M721.3 386.9l11.3 17.8m0 -3.9l0 3.9l-3.5 -1.6M278 382.6l5.5 -7.1m-2.6 .9l2.6 -.9l-.2 2.7M286.1 382.6l5.2 -7.4m-2.5 1l2.5 -1l-.1 2.7M294.1 382.6l3.9 -6.3m-2.4 1.2l2.4 -1.2l.1 2.7M302.2 382.6l1.4 -4.6m-2.1 1.8l2.1 -1.8l.8 2.6M310.2 382.6l-4.1 1.8m2.7 .4l-2.7 -.4l1.5 -2.3M318.3 382.6l-3.5 4m2.6 -.7l-2.6 .7l.4 -2.7M326.4 382.6l-2.6 5m2.3 -1.3l-2.3 1.3l-.3 -2.7M334.4 382.6l-2.5 5.9m2.2 -1.5l-2.2 1.5l-.5 -2.7M342.5 382.6l-2.9 7.1m2.2 -1.6l-2.2 1.6l-.5 -2.6M350.5 382.6l-3.6 9m2.4 -1.7l-2.4 1.7l-.6 -2.9M358.6 382.6l-4.8 11.7m3.1 -2.1l-3.1 2.1l-.7 -3.7M366.7 382.6l-6.2 14.2m3.2 -2.2l-3.2 2.2l-.6 -3.8M374.7 382.6l-6.5 15.1m3.3 -2.2l-3.3 2.2l-.6 -3.8M382.8 382.6l-5.6 13.7m3.2 -2.2l-3.2 2.2l-.7 -3.8M390.8 382.6l-3.8 11.5m2.8 -2.3l-2.8 2.3l-.9 -3.5M398.9 382.6l0 9.8m1.6 -2.5l-1.6 2.5l-1.6 -2.5M407 382.6l4.4 7.4m.1 -2.7l-.1 2.7l-2.4 -1.2M415 382.6l5.3 6.3m-.3 -2.7l.3 2.7l-2.6 -.8M423.1 382.6l5.3 6.2m-.4 -2.7l.4 2.7l-2.6 -.8M431.1 382.6l5.2 6.2m-.3 -2.7l.3 2.7l-2.6 -.8M439.2 382.6l5.2 6.3m-.3 -2.7l.3 2.7l-2.6 -.8M447.3 382.6l5.1 6.3m-.3 -2.7l.3 2.7l-2.6 -.8M455.3 382.6l4.8 6.2m-.2 -2.7l.2 2.7l-2.6 -.9M463.4 382.6l4.3 5.9m-.2 -2.7l.2 2.7l-2.5 -.9M471.4 382.6l3.6 5.3m-.1 -2.7l.1 2.7l-2.5 -1M479.5 382.6l2.6 4.4m.1 -2.7l-.1 2.7l-2.4 -1.2M487.6 382.6l1.3 3.6m.7 -2.6l-.7 2.6l-2.1 -1.7M495.6 382.6l.5 2.8m1.1 -2.5l-1.1 2.5l-1.8 -2M503.7 382.6l.3 2.5m1.2 -2.4l-1.2 2.4l-1.7 -2.1M511.7 382.6l.3 2.7m1.2 -2.4l-1.2 2.4l-1.7 -2.1M519.8 382.6l.6 3.6m1.1 -2.5l-1.1 2.5l-1.8 -2M527.9 382.6l2.3 4.3m.2 -2.7l-.2 2.7l-2.4 -1.3M535.9 382.6l4.1 4.4m-.5 -2.7l.5 2.7l-2.6 -.7M544 382.6l5.1 5.3m-.5 -2.7l.5 2.7l-2.6 -.6M552 382.6l4.8 7.1m0 -2.7l0 2.7l-2.5 -1.1M560.1 382.6l4 8.6m.4 -2.8l-.4 2.8l-2.4 -1.5M568.2 382.6l5.9 8.4m-.1 -3.1l.1 3.1l-2.8 -1.2M576.2 382.6l7.8 7.6m-.7 -3.2l.7 3.2l-3.2 -.6M584.3 382.6l8.7 7.6m-.9 -3.3l.9 3.3l-3.4 -.5M592.3 382.6l8.9 8.2m-.9 -3.5l.9 3.5l-3.6 -.6M600.4 382.6l8.7 9.3m-.7 -3.8l.7 3.8l-3.7 -.9M608.5 382.6l9.5 9.3m-.8 -3.8l.8 3.8l-3.8 -.8M616.5 382.6l10 9.5m-.9 -3.8l.9 3.8l-3.8 -.7M624.6 382.6l10.2 10.1m-.8 -3.8l.8 3.8l-3.8 -.8M632.6 382.6l9.6 11.3m-.5 -3.9l.5 3.9l-3.7 -1.1M640.7 382.6l8.4 12.7m0 -3.9l0 3.9l-3.6 -1.6M648.8 382.6l8.4 13.1m0 -3.9l0 3.9l-3.6 -1.6M656.8 382.6l8.8 13.2m-.1 -3.9l.1 3.9l-3.6 -1.5M664.9 382.6l9.2 13.5m-.1 -3.9l.1 3.9l-3.6 -1.5M672.9 382.6l8.5 14.5m.2 -3.9l-.2 3.9l-3.5 -1.8M681 382.6l5.1 16.8m1.1 -3.7l-1.1 3.7l-3 -2.5M689.1 382.6l7.2 17.1m.7 -3.8l-.7 3.8l-3.2 -2.2M697.1 382.6l7.9 17.8m.6 -3.9l-.6 3.9l-3.3 -2.1M705.2 382.6l7.8 18.5m.7 -3.8l-.7 3.8l-3.2 -2.2M713.2 382.6l7.3 18.6m.8 -3.8l-.8 3.8l-3.2 -2.3M721.3 382.6l8.4 17.4m.5 -3.9l-.5 3.9l-3.3 -2M278 378.3l4 -6.9m-2.4 1.2l2.4 -1.2l.1 2.7M286.1 378.3l4 -6.5m-2.4 1.2l2.4 -1.2l.1 2.7M294.1 378.3l3.2 -5.5m-2.4 1.2l2.4 -1.2l.1 2.7M302.2 378.3l1.6 -4.2m-2.2 1.6l2.2 -1.6l.5 2.6M310.2 378.3l-2.9 2.4m2.7 -.3l-2.7 .3l.8 -2.6M318.3 378.3l-2.3 3.9m2.4 -1.2l-2.4 1.2l-.1 -2.7M326.4 378.3l-2 4.6m2.3 -1.5l-2.3 1.5l-.4 -2.7M334.4 378.3l-2.1 5.5m2.2 -1.6l-2.2 1.6l-.6 -2.6M342.5 378.3l-2.5 6.8m2.2 -1.6l-2.2 1.6l-.6 -2.6M350.5 378.3l-3.2 8.8m2.3 -1.7l-2.3 1.7l-.6 -2.7M358.6 378.3l-4.5 11.5m3 -2.2l-3 2.2l-.7 -3.6M366.7 378.3l-5.9 14.1m3.2 -2.2l-3.2 2.2l-.7 -3.8M374.7 378.3l-6.4 15.3m3.2 -2.2l-3.2 2.2l-.7 -3.8M382.8 378.3l-5.8 14.1m3.2 -2.2l-3.2 2.2l-.7 -3.8M390.8 378.3l-4.2 11.7m3 -2.3l-3 2.3l-.9 -3.6M398.9 378.3l-1.4 10m2 -2.3l-2 2.3l-1.3 -2.7M407 378.3l3.3 8.1m.5 -2.7l-.5 2.7l-2.2 -1.5M415 378.3l5.1 6.5m-.2 -2.7l.2 2.7l-2.6 -.9M423.1 378.3l5.2 6.2m-.3 -2.7l.3 2.7l-2.6 -.8M431.1 378.3l5.2 6.2m-.3 -2.7l.3 2.7l-2.6 -.8M439.2 378.3l5.1 6.3m-.3 -2.7l.3 2.7l-2.6 -.8M447.3 378.3l5 6.3m-.2 -2.7l.2 2.7l-2.6 -.9M455.3 378.3l4.7 6.2m-.2 -2.7l.2 2.7l-2.5 -.9M463.4 378.3l4.3 5.9m-.1 -2.7l.1 2.7l-2.5 -1M471.4 378.3l3.7 5.3m-.1 -2.7l.1 2.7l-2.5 -1M479.5 378.3l2.9 4.5m0 -2.7l0 2.7l-2.5 -1.1M487.6 378.3l1.8 3.8m.4 -2.7l-.4 2.7l-2.3 -1.4M495.6 378.3l.7 3.2m.9 -2.5l-.9 2.5l-1.9 -1.9M503.7 378.3l.3 2.8m1.2 -2.4l-1.2 2.4l-1.7 -2.1M511.7 378.3l.3 3m1.3 -2.4l-1.3 2.4l-1.7 -2.1M519.8 378.3l.4 3.7m1.2 -2.4l-1.2 2.4l-1.7 -2.1M527.9 378.3l1.7 4.4m.6 -2.6l-.6 2.6l-2.2 -1.6M535.9 378.3l3.6 4.6m-.2 -2.7l.2 2.7l-2.5 -.9M544 378.3l4.3 5.3m-.3 -2.7l.3 2.7l-2.6 -.8M552 378.3l3.8 6.7m.2 -2.7l-.2 2.7l-2.4 -1.2M560.1 378.3l3.2 7.6m.5 -2.7l-.5 2.7l-2.2 -1.5M568.2 378.3l4.4 7.6m.1 -2.7l-.1 2.7l-2.4 -1.2M576.2 378.3l6.2 6.8m-.5 -2.7l.5 2.7l-2.7 -.7M584.3 378.3l7 6.6m-.7 -2.8l.7 2.8l-2.8 -.5M592.3 378.3l7 7.2m-.6 -3l.6 3l-3 -.7M600.4 378.3l6.9 8m-.4 -3.1l.4 3.1l-3 -.9M608.5 378.3l7.5 8.1m-.6 -3.3l.6 3.3l-3.2 -.8M616.5 378.3l8 8.3m-.7 -3.4l.7 3.4l-3.4 -.8M624.6 378.3l8 8.9m-.6 -3.6l.6 3.6l-3.5 -.9M632.6 378.3l7.4 10m-.2 -3.7l.2 3.7l-3.5 -1.3M640.7 378.3l6.6 11m.1 -3.8l-.1 3.8l-3.5 -1.7M648.8 378.3l6.5 11.5m.3 -3.9l-.3 3.9l-3.5 -1.8M656.8 378.3l6.8 11.8m.2 -3.9l-.2 3.9l-3.5 -1.8M664.9 378.3l6.9 12.3m.2 -3.9l-.2 3.9l-3.5 -1.8M672.9 378.3l4.8 13.9m.9 -3.8l-.9 3.8l-3.1 -2.4M681 378.3l1.7 15.5m1.7 -3.5l-1.7 3.5l-2.5 -3M689.1 378.3l4 16.2m1.3 -3.7l-1.3 3.7l-2.8 -2.7M697.1 378.3l5.1 17.1m1.1 -3.7l-1.1 3.7l-3 -2.5M705.2 378.3l4.9 17.8m1.2 -3.7l-1.2 3.7l-2.9 -2.6M713.2 378.3l3.8 18m1.4 -3.6l-1.4 3.6l-2.7 -2.8M721.3 378.3l3.8 17.2m1.4 -3.7l-1.4 3.7l-2.8 -2.7M278 374l2.7 -7m-2.2 1.6l2.2 -1.6l.6 2.6M286.1 374l2.8 -6.2m-2.3 1.4l2.3 -1.4l.4 2.7M294.1 374l2.6 -5.1m-2.3 1.4l2.3 -1.4l.3 2.7M302.2 374l1.4 -3.6m-2.2 1.6l2.2 -1.6l.5 2.6M310.2 374l-2 2.9m2.5 -1l-2.5 1l.1 -2.7M318.3 374l-1.6 3.4m2.3 -1.4l-2.3 1.4l-.4 -2.7M326.4 374l-1.6 4.1m2.2 -1.5l-2.2 1.5l-.5 -2.7M334.4 374l-1.9 5.1m2.2 -1.6l-2.2 1.6l-.6 -2.6M342.5 374l-2.3 6.6m2.1 -1.6l-2.1 1.6l-.6 -2.6M350.5 374l-3.1 8.6m2.2 -1.7l-2.2 1.7l-.6 -2.7M358.6 374l-4.3 11.4m2.9 -2.2l-2.9 2.2l-.8 -3.6M366.7 374l-5.8 14.2m3.2 -2.2l-3.2 2.2l-.7 -3.8M374.7 374l-6.5 15.6m3.2 -2.2l-3.2 2.2l-.7 -3.8M382.8 374l-5.9 14.6m3.2 -2.2l-3.2 2.2l-.7 -3.8M390.8 374l-4.4 12.3m3.1 -2.4l-3.1 2.4l-.9 -3.8M398.9 374l-1.7 10.4m2.1 -2.3l-2.1 2.3l-1.3 -2.9M407 374l2.6 8.6m.8 -2.6l-.8 2.6l-2.1 -1.8M415 374l4.8 6.8m-.1 -2.7l.1 2.7l-2.5 -1M423.1 374l5.1 6.3m-.3 -2.7l.3 2.7l-2.6 -.8M431.1 374l5.1 6.3m-.3 -2.7l.3 2.7l-2.6 -.8M439.2 374l4.9 6.4m-.2 -2.7l.2 2.7l-2.5 -.9M447.3 374l4.7 6.5m-.2 -2.7l.2 2.7l-2.5 -1M455.3 374l4.5 6.4m-.1 -2.7l.1 2.7l-2.5 -1M463.4 374l4.2 6m-.1 -2.7l.1 2.7l-2.5 -1M471.4 374l3.7 5.4m-.1 -2.7l.1 2.7l-2.5 -1M479.5 374l3.1 4.7m0 -2.7l0 2.7l-2.5 -1.1M487.6 374l2.2 4m.2 -2.7l-.2 2.7l-2.4 -1.3M495.6 374l1.1 3.6m.8 -2.6l-.8 2.6l-2.1 -1.7M503.7 374l.4 3.4m1.2 -2.4l-1.2 2.4l-1.7 -2.1M511.7 374l.2 3.6m1.3 -2.4l-1.3 2.4l-1.6 -2.2M519.8 374l.3 4.2m1.3 -2.4l-1.3 2.4l-1.6 -2.2M527.9 374l1.2 5m.9 -2.5l-.9 2.5l-1.9 -1.9M535.9 374l3.1 5.3m.1 -2.7l-.1 2.7l-2.4 -1.2M544 374l3.8 5.7m0 -2.7l0 2.7l-2.5 -1.1M552 374l3.2 6.8m.4 -2.7l-.4 2.7l-2.3 -1.4M560.1 374l2.8 7.4m.6 -2.6l-.6 2.6l-2.2 -1.6M568.2 374l3.6 7.3m.3 -2.7l-.3 2.7l-2.3 -1.4M576.2 374l5.1 6.6m-.2 -2.7l.2 2.7l-2.6 -.9M584.3 374l5.9 6.2m-.5 -2.7l.5 2.7l-2.6 -.6M592.3 374l5.9 6.6m-.4 -2.7l.4 2.7l-2.6 -.7M600.4 374l5.9 7m-.3 -2.7l.3 2.7l-2.6 -.8M608.5 374l6.3 7.2m-.4 -2.8l.4 2.8l-2.8 -.8M616.5 374l6.6 7.4m-.5 -2.9l.5 2.9l-2.9 -.8M624.6 374l6.4 8.1m-.3 -3.1l.3 3.1l-2.9 -1M632.6 374l5.9 8.9m0 -3.2l0 3.2l-2.9 -1.3M640.7 374l5.4 9.7m.2 -3.3l-.2 3.3l-2.9 -1.6M648.8 374l5.2 10.2m.4 -3.4l-.4 3.4l-3 -1.7M656.8 374l5.5 10.5m.3 -3.5l-.3 3.5l-3.1 -1.8M664.9 374l5.2 11.2m.5 -3.7l-.5 3.7l-3.1 -2M672.9 374l2.2 12.8m1.5 -3.6l-1.5 3.6l-2.7 -2.9M681 374l.4 14m2 -3.3l-2 3.3l-2.2 -3.2M689.1 374l2.1 15.2m1.7 -3.5l-1.7 3.5l-2.6 -2.9M697.1 374l3.4 16.3m1.4 -3.6l-1.4 3.6l-2.8 -2.8M705.2 374l3.3 17.1m1.5 -3.6l-1.5 3.6l-2.7 -2.8M713.2 374l2 17.1m1.7 -3.5l-1.7 3.5l-2.5 -3M721.3 374l1.2 16.3m1.9 -3.4l-1.9 3.4l-2.4 -3.1M278 369.7l1.9 -7.4m-2 1.8l2 -1.8l.8 2.6M286.1 369.7l1.9 -6.5m-2.1 1.7l2.1 -1.7l.8 2.6M294.1 369.7l1.8 -5.2m-2.1 1.7l2.1 -1.7l.7 2.6M302.2 369.7l.9 -3.5m-2 1.8l2 -1.8l.8 2.6M310.2 369.7l-1.5 2.7m2.4 -1.3l-2.4 1.3l-.2 -2.7M318.3 369.7l-1.3 3m2.2 -1.5l-2.2 1.5l-.5 -2.7M326.4 369.7l-1.4 3.7m2.2 -1.6l-2.2 1.6l-.6 -2.6M334.4 369.7l-1.8 5m2.2 -1.6l-2.2 1.6l-.6 -2.6M342.5 369.7l-2.3 6.6m2.1 -1.7l-2.1 1.7l-.7 -2.6M350.5 369.7l-3.1 8.8m2.2 -1.7l-2.2 1.7l-.7 -2.7M358.6 369.7l-4.4 11.8m3 -2.3l-3 2.3l-.8 -3.7M366.7 369.7l-5.9 14.9m3.2 -2.3l-3.2 2.3l-.8 -3.8M374.7 369.7l-6.7 16.6m3.2 -2.2l-3.2 2.2l-.7 -3.8M382.8 369.7l-6.3 15.8m3.2 -2.3l-3.2 2.3l-.8 -3.8M390.8 369.7l-4.6 13.6m3.1 -2.4l-3.1 2.4l-1 -3.8M398.9 369.7l-1.2 11.5m2.2 -2.7l-2.2 2.7l-1.6 -3.1M407 369.7l2.5 9.3m.9 -2.8l-.9 2.8l-2.2 -1.9M415 369.7l4.5 7.5m.1 -2.7l-.1 2.7l-2.4 -1.2M423.1 369.7l5.1 6.8m-.2 -2.7l.2 2.7l-2.5 -.9M431.1 369.7l4.9 6.8m-.1 -2.7l.1 2.7l-2.5 -1M439.2 369.7l4.5 7.1m0 -2.7l0 2.7l-2.4 -1.1M447.3 369.7l4.3 7.2m.1 -2.7l-.1 2.7l-2.4 -1.2M455.3 369.7l4.4 6.9m0 -2.7l0 2.7l-2.5 -1.1M463.4 369.7l4.2 6.4m0 -2.7l0 2.7l-2.5 -1.1M471.4 369.7l3.9 5.9m0 -2.7l0 2.7l-2.5 -1.1M479.5 369.7l3.4 5.2m0 -2.7l0 2.7l-2.5 -1.1M487.6 369.7l2.7 4.6m.1 -2.7l-.1 2.7l-2.4 -1.2M495.6 369.7l1.5 4.5m.7 -2.6l-.7 2.6l-2.1 -1.7M503.7 369.7l.3 4.4m1.3 -2.4l-1.3 2.4l-1.6 -2.1M511.7 369.7l0 4.5m1.4 -2.3l-1.4 2.3l-1.5 -2.3M519.8 369.7l0 5.1m1.5 -2.3l-1.5 2.3l-1.5 -2.3M527.9 369.7l.6 5.9m1.3 -2.4l-1.3 2.4l-1.7 -2.1M535.9 369.7l2.3 6.4m.6 -2.6l-.6 2.6l-2.2 -1.6M544 369.7l3.3 6.7m.3 -2.7l-.3 2.7l-2.3 -1.4M552 369.7l2.9 7.4m.6 -2.6l-.6 2.6l-2.2 -1.6M560.1 369.7l2.7 7.8m.7 -2.6l-.7 2.6l-2.1 -1.7M568.2 369.7l3.1 7.8m.5 -2.6l-.5 2.6l-2.2 -1.6M576.2 369.7l4.4 7.2m.1 -2.7l-.1 2.7l-2.4 -1.1M584.3 369.7l5.4 6.5m-.3 -2.7l.3 2.7l-2.6 -.8M592.3 369.7l5.5 6.6m-.3 -2.7l.3 2.7l-2.6 -.8M600.4 369.7l5.6 6.8m-.3 -2.7l.3 2.7l-2.6 -.8M608.5 369.7l5.7 6.9m-.3 -2.7l.3 2.7l-2.6 -.8M616.5 369.7l5.8 7.2m-.3 -2.8l.3 2.8l-2.6 -.9M624.6 369.7l5.4 7.9m-.1 -2.9l.1 2.9l-2.6 -1.1M632.6 369.7l5.1 8.5m.1 -3l-.1 3l-2.7 -1.3M640.7 369.7l4.5 9.2m.4 -3.1l-.4 3.1l-2.6 -1.6M648.8 369.7l4.3 9.7m.5 -3.1l-.5 3.1l-2.7 -1.7M656.8 369.7l4.4 10m.5 -3.2l-.5 3.2l-2.7 -1.8M664.9 369.7l3.5 11m.9 -3.3l-.9 3.3l-2.7 -2.2M672.9 369.7l.6 12.3m1.9 -3.2l-1.9 3.2l-2.2 -3M681 369.7l-.1 13.4m2.2 -3.2l-2.2 3.2l-2.1 -3.3M689.1 369.7l.9 14.9m1.9 -3.4l-1.9 3.4l-2.3 -3.1M697.1 369.7l2.3 16.3m1.7 -3.5l-1.7 3.5l-2.6 -2.9M705.2 369.7l2.2 17.1m1.7 -3.5l-1.7 3.5l-2.5 -3M713.2 369.7l1.2 17.1m1.9 -3.4l-1.9 3.4l-2.4 -3.1M721.3 369.7l.7 16.1m2 -3.4l-2 3.4l-2.3 -3.2M278 365.4l1.7 -7.7m-1.9 1.9l1.9 -1.9l.9 2.5M286.1 365.4l1.5 -6.7m-1.9 1.9l1.9 -1.9l.9 2.5M294.1 365.4l1.2 -5.3m-1.9 1.9l1.9 -1.9l.9 2.5M302.2 365.4l.6 -3.9m-1.8 2l1.8 -2l1.1 2.5M310.2 365.4l-1.1 1.9m2.4 -1.2l-2.4 1.2l-.1 -2.7M318.3 365.4l-1.1 2.6m2.2 -1.6l-2.2 1.6l-.5 -2.6M326.4 365.4l-1.3 3.4m2.2 -1.6l-2.2 1.6l-.6 -2.6M334.4 365.4l-1.7 4.9m2.1 -1.7l-2.1 1.7l-.6 -2.6M342.5 365.4l-2.2 6.7m2.1 -1.7l-2.1 1.7l-.7 -2.6M350.5 365.4l-3.1 9.1m2.3 -1.8l-2.3 1.8l-.7 -2.8M358.6 365.4l-4.4 12.2m3.1 -2.3l-3.1 2.3l-.9 -3.8M366.7 365.4l-6 15.5m3.2 -2.3l-3.2 2.3l-.8 -3.8M374.7 365.4l-7 17.6m3.2 -2.3l-3.2 2.3l-.8 -3.8M382.8 365.4l-6.6 17.1m3.2 -2.3l-3.2 2.3l-.8 -3.8M390.8 365.4l-4.4 15m3 -2.5l-3 2.5l-1.1 -3.7M398.9 365.4l-.1 12.7m2.1 -3.2l-2.1 3.2l-2.1 -3.2M407 365.4l2.8 10.1m.9 -3l-.9 3l-2.4 -2.1M415 365.4l4.1 8.4m.3 -2.8l-.3 2.8l-2.4 -1.4M423.1 365.4l4.7 7.6m0 -2.7l0 2.7l-2.4 -1.1M431.1 365.4l4.1 8m.3 -2.7l-.3 2.7l-2.3 -1.4M439.2 365.4l2.8 8.6m.7 -2.6l-.7 2.6l-2.1 -1.7M447.3 365.4l2.8 8.5m.7 -2.6l-.7 2.6l-2.1 -1.7M455.3 365.4l3.9 7.7m.3 -2.7l-.3 2.7l-2.3 -1.4M463.4 365.4l4.2 7m.1 -2.7l-.1 2.7l-2.4 -1.2M471.4 365.4l4 6.6m.1 -2.7l-.1 2.7l-2.4 -1.2M479.5 365.4l3.4 6.1m.2 -2.7l-.2 2.7l-2.4 -1.2M487.6 365.4l2.8 5.6m.3 -2.7l-.3 2.7l-2.3 -1.4M495.6 365.4l1.6 5.5m.8 -2.6l-.8 2.6l-2 -1.8M503.7 365.4l0 5.5m1.5 -2.3l-1.5 2.3l-1.5 -2.3M511.7 365.4l-.6 5.6m1.7 -2.1l-1.7 2.1l-1.2 -2.4M519.8 365.4l-.8 6.1m1.7 -2.1l-1.7 2.1l-1.2 -2.4M527.9 365.4l-.5 6.9m1.6 -2.2l-1.6 2.2l-1.3 -2.4M535.9 365.4l1.1 7.5m1.1 -2.4l-1.1 2.4l-1.8 -2M544 365.4l2.4 7.8m.7 -2.6l-.7 2.6l-2.1 -1.7M552 365.4l2.4 8.2m.8 -2.6l-.8 2.6l-2.1 -1.8M560.1 365.4l2.4 8.4m.8 -2.6l-.8 2.6l-2 -1.8M568.2 365.4l2.6 8.5m.7 -2.6l-.7 2.6l-2.1 -1.7M576.2 365.4l3.7 8m.4 -2.7l-.4 2.7l-2.3 -1.5M584.3 365.4l5 7.1m-.1 -2.7l.1 2.7l-2.5 -1M592.3 365.4l5.4 6.8m-.3 -2.7l.3 2.7l-2.6 -.9M600.4 365.4l5.5 6.9m-.3 -2.7l.3 2.7l-2.6 -.8M608.5 365.4l5.5 7m-.2 -2.7l.2 2.7l-2.6 -.9M616.5 365.4l5.1 7.5m-.1 -2.7l.1 2.7l-2.5 -1.1M624.6 365.4l4.5 8.2m.2 -2.8l-.2 2.8l-2.5 -1.3M632.6 365.4l4.1 8.7m.4 -2.9l-.4 2.9l-2.5 -1.5M640.7 365.4l3.2 9.4m.7 -2.9l-.7 2.9l-2.3 -1.9M648.8 365.4l2.9 9.8m.9 -2.9l-.9 2.9l-2.3 -2M656.8 365.4l2.8 10.1m1 -3l-1 3l-2.4 -2.1M664.9 365.4l1.3 11m1.5 -3l-1.5 3l-2.1 -2.5M672.9 365.4l-.2 11.9m2 -2.9l-2 2.9l-1.9 -3M681 365.4l-.4 13.1m2.2 -3.2l-2.2 3.2l-2 -3.3M689.1 365.4l.2 14.7m2.1 -3.3l-2.1 3.3l-2.2 -3.2M697.1 365.4l1.1 16.4m1.9 -3.4l-1.9 3.4l-2.3 -3.1M705.2 365.4l1.3 17.3m1.9 -3.4l-1.9 3.4l-2.4 -3.1M713.2 365.4l.8 17.2m2 -3.4l-2 3.4l-2.3 -3.2M721.3 365.4l.6 16m2 -3.3l-2 3.3l-2.2 -3.2M278 361.1l1.7 -8.1m-1.9 1.9l1.9 -1.9l1 2.5M286.1 361.1l1.4 -7m-1.9 1.9l1.9 -1.9l1 2.5M294.1 361.1l1 -5.5m-1.9 2l1.9 -2l1 2.5M302.2 361.1l.5 -3.9m-1.7 2.1l1.7 -2.1l1.2 2.4M310.2 361.1l-2 .3m2.5 1.1l-2.5 -1.1l2 -1.8M318.3 361.1l-.9 2.5m2.2 -1.6l-2.2 1.6l-.6 -2.6M326.4 361.1l-1.1 3.4m2.1 -1.7l-2.1 1.7l-.7 -2.6M334.4 361.1l-1.6 5m2.1 -1.7l-2.1 1.7l-.7 -2.6M342.5 361.1l-2.2 6.9m2.1 -1.7l-2.1 1.7l-.7 -2.6M350.5 361.1l-3.1 9.4m2.3 -1.8l-2.3 1.8l-.7 -2.9M358.6 361.1l-4.5 12.6m3.1 -2.4l-3.1 2.4l-.9 -3.8M366.7 361.1l-6.1 16.2m3.1 -2.3l-3.1 2.3l-.8 -3.8M374.7 361.1l-7.1 18.7m3.2 -2.3l-3.2 2.3l-.8 -3.8M382.8 361.1l-6.8 18.6m3.1 -2.3l-3.1 2.3l-.9 -3.8M390.8 361.1l-4.1 16.7m2.8 -2.7l-2.8 2.7l-1.3 -3.7M398.9 361.1l.9 13.9m1.9 -3.4l-1.9 3.4l-2.3 -3.1M407 361.1l3 11m1.1 -3.2l-1.1 3.2l-2.5 -2.3M415 361.1l3.5 9.5m.7 -3l-.7 3l-2.4 -1.8M423.1 361.1l3.3 9.1m.7 -2.8l-.7 2.8l-2.3 -1.8M431.1 361.1l1.3 9.7m1.2 -2.6l-1.2 2.6l-1.9 -2.2M439.2 361.1l-.7 9.7m1.8 -2.3l-1.8 2.3l-1.4 -2.5M447.3 361.1l-.3 9.5m1.6 -2.3l-1.6 2.3l-1.5 -2.4M455.3 361.1l2.5 9m.8 -2.7l-.8 2.7l-2.1 -1.8M463.4 361.1l3.8 8m.4 -2.7l-.4 2.7l-2.3 -1.4M471.4 361.1l3.6 7.7m.4 -2.7l-.4 2.7l-2.3 -1.4M479.5 361.1l2.6 7.5m.6 -2.6l-.6 2.6l-2.1 -1.7M487.6 361.1l1.9 7.1m.8 -2.6l-.8 2.6l-2 -1.8M495.6 361.1l.8 6.9m1.2 -2.4l-1.2 2.4l-1.7 -2.1M503.7 361.1l-1.3 6.5m1.9 -1.9l-1.9 1.9l-1 -2.5M511.7 361.1l-2.2 6.3m2.1 -1.7l-2.1 1.7l-.7 -2.6M519.8 361.1l-2.5 6.6m2.2 -1.6l-2.2 1.6l-.6 -2.6M527.9 361.1l-2.3 7.3m2.1 -1.7l-2.1 1.7l-.7 -2.6M535.9 361.1l-.9 8.4m1.7 -2.1l-1.7 2.1l-1.2 -2.4M544 361.1l1 8.8m1.2 -2.4l-1.2 2.4l-1.7 -2.1M552 361.1l1.3 9.1m1.1 -2.5l-1.1 2.5l-1.8 -2.1M560.1 361.1l1.4 9.3m1.2 -2.6l-1.2 2.6l-1.9 -2.1M568.2 361.1l1.5 9.3m1.1 -2.6l-1.1 2.6l-1.9 -2.1M576.2 361.1l2.4 9.1m.9 -2.7l-.9 2.7l-2.1 -1.9M584.3 361.1l4.5 8m.2 -2.8l-.2 2.8l-2.4 -1.3M592.3 361.1l5.3 7.4m-.1 -2.7l.1 2.7l-2.5 -1M600.4 361.1l5.4 7.3m-.2 -2.7l.2 2.7l-2.5 -1M608.5 361.1l5.3 7.5m-.1 -2.7l.1 2.7l-2.6 -1M616.5 361.1l4.2 8.4m.3 -2.8l-.3 2.8l-2.4 -1.4M624.6 361.1l2.9 9.3m.8 -2.8l-.8 2.8l-2.2 -1.9M632.6 361.1l2.2 9.6m1 -2.8l-1 2.8l-2.1 -2.1M640.7 361.1l.7 10.1m1.5 -2.7l-1.5 2.7l-1.8 -2.4M648.8 361.1l.5 10.2m1.5 -2.7l-1.5 2.7l-1.8 -2.5M656.8 361.1l.5 10.5m1.6 -2.7l-1.6 2.7l-1.8 -2.6M664.9 361.1l-.4 10.9m1.9 -2.7l-1.9 2.7l-1.7 -2.8M672.9 361.1l-.6 11.7m2.1 -2.8l-2.1 2.8l-1.8 -3M681 361.1l-.4 13m2.2 -3.2l-2.2 3.2l-2 -3.3M689.1 361.1l-.2 14.8m2.2 -3.2l-2.2 3.2l-2.1 -3.3M697.1 361.1l.4 16.6m2 -3.3l-2 3.3l-2.2 -3.2M705.2 361.1l.7 17.6m2 -3.4l-2 3.4l-2.2 -3.2M713.2 361.1l.6 17.4m2 -3.3l-2 3.3l-2.2 -3.2M721.3 361.1l.5 16.2m2 -3.3l-2 3.3l-2.2 -3.2M278 356.8l1.6 -8.5m-1.9 2l1.9 -2l1 2.5M286.1 356.8l1.3 -7.3m-1.8 2l1.8 -2l1.1 2.5M294.1 356.8l.9 -5.8m-1.8 2l1.8 -2l1.1 2.5M302.2 356.8l.5 -4.1m-1.7 2.1l1.7 -2.1l1.2 2.4M310.2 356.8l-.2 -2m-1.3 2.4l1.3 -2.4l1.7 2.1M318.3 356.8l-.8 2.5m2.1 -1.7l-2.1 1.7l-.8 -2.6M326.4 356.8l-.9 3.6m2 -1.8l-2 1.8l-.9 -2.6M334.4 356.8l-1.3 5.3m2 -1.8l-2 1.8l-.9 -2.6M342.5 356.8l-2.1 7.3m2 -1.8l-2 1.8l-.8 -2.6M350.5 356.8l-3 9.8m2.4 -2l-2.4 2l-.8 -3M358.6 356.8l-4.4 13.1m3.1 -2.4l-3.1 2.4l-1 -3.8M366.7 356.8l-6.1 17m3.1 -2.4l-3.1 2.4l-.9 -3.8M374.7 356.8l-7.2 19.8m3.1 -2.3l-3.1 2.3l-.9 -3.8M382.8 356.8l-7 20.1m3.1 -2.4l-3.1 2.4l-.9 -3.8M390.8 356.8l-4.1 18.4m2.8 -2.7l-2.8 2.7l-1.4 -3.7M398.9 356.8l1 15.3m1.9 -3.4l-1.9 3.4l-2.3 -3.1M407 356.8l2.7 12.2m1.3 -3.5l-1.3 3.5l-2.7 -2.6M415 356.8l1.8 11m1.3 -3.1l-1.3 3.1l-2.3 -2.5M423.1 356.8l-1.1 9.8m1.9 -2.3l-1.9 2.3l-1.3 -2.6M431.1 356.8l-3.1 9.7m2.4 -1.9l-2.4 1.9l-.8 -3M439.2 356.8l-4 9.4m2.5 -1.7l-2.5 1.7l-.5 -3M447.3 356.8l-3.8 9.3m2.5 -1.7l-2.5 1.7l-.6 -3M455.3 356.8l-.6 9.1m1.6 -2.2l-1.6 2.2l-1.3 -2.4M463.4 356.8l2.2 9.1m.9 -2.6l-.9 2.6l-2 -1.9M471.4 356.8l1.4 9m1.1 -2.5l-1.1 2.5l-1.8 -2M479.5 356.8l-.7 8.4m1.7 -2.1l-1.7 2.1l-1.3 -2.4M487.6 356.8l-1.6 7.6m1.9 -1.9l-1.9 1.9l-1 -2.5M495.6 356.8l-1.9 7.1m2 -1.8l-2 1.8l-.8 -2.6M503.7 356.8l-3.7 6.5m2.4 -1.2l-2.4 1.2l-.2 -2.7M511.7 356.8l-4.5 5.9m2.5 -.9l-2.5 .9l.2 -2.7M519.8 356.8l-4.9 5.9m2.6 -.8l-2.6 .8l.3 -2.7M527.9 356.8l-4.9 6.5m2.5 -.9l-2.5 .9l.2 -2.7M535.9 356.8l-3.8 8m2.3 -1.4l-2.3 1.4l-.4 -2.7M544 356.8l-1.9 9.3m2 -2l-2 2l-1.1 -2.7M552 356.8l-1.5 9.7m2 -2.2l-2 2.2l-1.2 -2.7M560.1 356.8l-1.5 9.8m2 -2.2l-2 2.2l-1.2 -2.7M568.2 356.8l-1.4 9.9m2 -2.3l-2 2.3l-1.3 -2.7M576.2 356.8l-.7 10m1.8 -2.4l-1.8 2.4l-1.5 -2.6M584.3 356.8l2.8 9.5m.9 -2.9l-.9 2.9l-2.3 -1.9M592.3 356.8l4.5 8.6m.3 -2.9l-.3 2.9l-2.5 -1.4M600.4 356.8l4.7 8.4m.2 -2.9l-.2 2.9l-2.6 -1.3M608.5 356.8l4.4 8.7m.3 -2.9l-.3 2.9l-2.5 -1.5M616.5 356.8l2.1 9.9m1.1 -2.8l-1.1 2.8l-2.1 -2.1M624.6 356.8l-.2 10.3m1.7 -2.5l-1.7 2.5l-1.6 -2.6M632.6 356.8l-1 10.2m1.9 -2.4l-1.9 2.4l-1.4 -2.7M640.7 356.8l-2 10.1m2.2 -2.2l-2.2 2.2l-1.1 -2.9M648.8 356.8l-1.9 10.3m2.1 -2.3l-2.1 2.3l-1.2 -2.9M656.8 356.8l-1.4 10.6m2.1 -2.4l-2.1 2.4l-1.4 -2.9M664.9 356.8l-1.2 11m2.1 -2.6l-2.1 2.6l-1.5 -3M672.9 356.8l-.8 11.8m2.1 -2.8l-2.1 2.8l-1.7 -3.1M681 356.8l-.5 13.2m2.2 -3.2l-2.2 3.2l-2 -3.3M689.1 356.8l-.3 15.1m2.2 -3.2l-2.2 3.2l-2.1 -3.3M697.1 356.8l0 17m2.1 -3.3l-2.1 3.3l-2.1 -3.3M705.2 356.8l.4 18.1m2.1 -3.3l-2.1 3.3l-2.2 -3.2M713.2 356.8l.5 17.9m2 -3.3l-2 3.3l-2.2 -3.2M721.3 356.8l.5 16.5m2 -3.3l-2 3.3l-2.2 -3.2M286.1 349.7l1.1 -8.3m-1.8 2l1.8 -2l1.2 2.4M294.1 349.7l.8 -6.7m-1.7 2.1l1.7 -2.1l1.2 2.4M302.2 349.7l.5 -5.1m-1.7 2.1l1.7 -2.1l1.2 2.4M310.2 349.7l.2 -3.1m-1.6 2.2l1.6 -2.2l1.3 2.4M318.3 349.7l-.4 3m1.8 -2l-1.8 2l-1.1 -2.5M326.4 349.7l-.6 4.6m1.8 -2.1l-1.8 2.1l-1.2 -2.4M334.4 349.7l-.9 6.3m1.8 -2l-1.8 2l-1.1 -2.5M342.5 349.7l-1.6 8.3m1.9 -2l-1.9 2l-1 -2.5M350.5 349.7l-2.5 10.8m2.4 -2.3l-2.4 2.3l-1.1 -3.1M358.6 349.7l-3.9 14.2m2.9 -2.6l-2.9 2.6l-1.2 -3.7M366.7 349.7l-5.7 18.3m3 -2.5l-3 2.5l-1 -3.8M374.7 349.7l-7.1 21.8m3 -2.5l-3 2.5l-1 -3.8M382.8 349.7l-7.2 22.7m3 -2.5l-3 2.5l-1 -3.8M390.8 349.7l-5.3 21m2.9 -2.7l-2.9 2.7l-1.3 -3.7M398.9 349.7l-1.3 18m2.4 -3.1l-2.4 3.1l-1.9 -3.4M407 349.7l-.5 14.9m2.2 -3.2l-2.2 3.2l-2 -3.3M415 349.7l-6.1 10.4m3.2 -1.6l-3.2 1.6l-.2 -3.6M423.1 349.7l-8.5 6.2m3.1 -.2l-3.1 .2l1.1 -2.9M431.1 349.7l-8 7.1m3.2 -.5l-3.2 .5l.9 -3.1M439.2 349.7l-7.5 8m3.2 -.8l-3.2 .8l.6 -3.2M447.3 349.7l-7.7 7.4m3.2 -.6l-3.2 .6l.7 -3.1M455.3 349.7l-6.8 6.4m2.8 -.5l-2.8 .5l.7 -2.7M463.4 349.7l-4.9 7.6m2.5 -1.1l-2.5 1.1l0 -2.7M471.4 349.7l-5.7 7.6m2.7 -1l-2.7 1l.2 -2.8M479.5 349.7l-7.1 6.6m2.9 -.5l-2.9 .5l.7 -2.8M487.6 349.7l-7.1 5.5m2.7 -.2l-2.7 .2l.9 -2.6M495.6 349.7l-7.1 4.4m2.7 0l-2.7 0l1.1 -2.4M503.7 349.7l-7.1 3.6m2.7 .3l-2.7 -.3l1.3 -2.3M511.7 349.7l-7.1 3.4m2.7 .3l-2.7 -.3l1.4 -2.3M519.8 349.7l-7.2 3.4m2.7 .4l-2.7 -.4l1.4 -2.3M527.9 349.7l-7.3 3.8m2.7 .3l-2.7 -.3l1.3 -2.3M535.9 349.7l-7.3 4.7m2.7 0l-2.7 0l1.1 -2.5M544 349.7l-7.1 5.8m2.7 -.3l-2.7 .3l.9 -2.6M552 349.7l-7.1 6m2.8 -.4l-2.8 .4l.8 -2.7M560.1 349.7l-7.1 6.1m2.8 -.4l-2.8 .4l.8 -2.7M568.2 349.7l-7.1 6.1m2.8 -.4l-2.8 .4l.8 -2.7M576.2 349.7l-6.9 6.5m2.8 -.5l-2.8 .5l.7 -2.8M584.3 349.7l-5.4 8.8m2.8 -1.3l-2.8 1.3l-.1 -3.1M592.3 349.7l-3 10.4m2.5 -2.1l-2.5 2.1l-1 -3.1M600.4 349.7l-2.3 10.7m2.3 -2.3l-2.3 2.3l-1.2 -3.1M608.5 349.7l-2.9 10.5m2.5 -2.2l-2.5 2.2l-1 -3.1M616.5 349.7l-4.1 9.9m2.7 -1.8l-2.7 1.8l-.6 -3.2M624.6 349.7l-4.2 9.9m2.7 -1.8l-2.7 1.8l-.6 -3.2M632.6 349.7l-4.1 10m2.7 -1.8l-2.7 1.8l-.6 -3.2M640.7 349.7l-4 10.1m2.7 -1.9l-2.7 1.9l-.6 -3.2M648.8 349.7l-3.4 10.5m2.6 -2.1l-2.6 2.1l-.9 -3.2M656.8 349.7l-2.5 11m2.4 -2.4l-2.4 2.4l-1.2 -3.2M664.9 349.7l-1.8 11.5m2.3 -2.6l-2.3 2.6l-1.4 -3.2M672.9 349.7l-1.1 12.4m2.3 -2.9l-2.3 2.9l-1.7 -3.3M681 349.7l-.6 13.9m2.3 -3.2l-2.3 3.2l-2 -3.4M689.1 349.7l-.3 15.9m2.2 -3.2l-2.2 3.2l-2.1 -3.3M697.1 349.7l-.1 18m2.1 -3.3l-2.1 3.3l-2.1 -3.3M705.2 349.7l.2 19.1m2.1 -3.3l-2.1 3.3l-2.2 -3.2M713.2 349.7l.4 18.9m2.1 -3.3l-2.1 3.3l-2.2 -3.2M721.3 349.7l.4 17.3m2 -3.3l-2 3.3l-2.2 -3.2M286.1 342.7l1 -9.5m-1.8 2.2l1.8 -2.2l1.3 2.6M294.1 342.7l.8 -8.3m-1.7 2.1l1.7 -2.1l1.2 2.4M302.2 342.7l.6 -6.9m-1.7 2.1l1.7 -2.1l1.3 2.4M310.2 342.7l.4 -4.6m-1.7 2.1l1.7 -2.1l1.3 2.4M318.3 342.7l-.5 4.8m1.7 -2.1l-1.7 2.1l-1.2 -2.4M326.4 342.7l-.6 6.4m1.7 -2.1l-1.7 2.1l-1.2 -2.4M334.4 342.7l-.8 7.7m1.7 -2.1l-1.7 2.1l-1.2 -2.4M342.5 342.7l-1.2 9.5m1.9 -2.2l-1.9 2.2l-1.2 -2.6M350.5 342.7l-1.9 11.8m2.4 -2.7l-2.4 2.7l-1.5 -3.3M358.6 342.7l-3.1 15.1m2.7 -2.8l-2.7 2.8l-1.4 -3.6M366.7 342.7l-5.1 19.4m2.9 -2.6l-2.9 2.6l-1.2 -3.7M374.7 342.7l-6.8 23.4m3 -2.5l-3 2.5l-1.1 -3.7M382.8 342.7l-7.4 25m3 -2.5l-3 2.5l-1.1 -3.7M390.8 342.7l-6.6 23.3m2.9 -2.6l-2.9 2.6l-1.2 -3.7M398.9 342.7l-5.2 19.8m2.9 -2.6l-2.9 2.6l-1.2 -3.7M407 342.7l-7.4 14.6m3.4 -2l-3.4 2l-.4 -3.9M415 342.7l-10.3 6.1m3.6 .1l-3.6 -.1l1.6 -3.2M423.1 342.7l-10 3.8m3.1 .7l-3.1 -.7l1.9 -2.6M431.1 342.7l-10 4.4m3.2 .5l-3.2 -.5l1.8 -2.7M439.2 342.7l-10 5.2m3.4 .3l-3.4 -.3l1.7 -3M447.3 342.7l-10.2 4.1m3.2 .6l-3.2 -.6l1.9 -2.7M455.3 342.7l-10.2 2.9m3 .9l-3 -.9l2.1 -2.4M463.4 342.7l-10 3.7m3.1 .7l-3.1 -.7l1.9 -2.6M471.4 342.7l-9.8 4.7m3.2 .4l-3.2 -.4l1.7 -2.8M479.5 342.7l-9.6 4.6m3.2 .4l-3.2 -.4l1.7 -2.7M487.6 342.7l-9.3 3.7m3 .6l-3 -.6l1.7 -2.5M495.6 342.7l-9 2.2m2.6 .9l-2.6 -.9l1.9 -2M503.7 342.7l-8.8 1.7m2.5 1l-2.5 -1l1.9 -1.9M511.7 342.7l-8.6 2m2.5 .9l-2.5 -.9l1.9 -1.9M519.8 342.7l-8.6 2.2m2.6 .9l-2.6 -.9l1.8 -2M527.9 342.7l-8.5 2.3m2.6 .8l-2.6 -.8l1.8 -2M535.9 342.7l-8.5 2.7m2.6 .7l-2.6 -.7l1.7 -2.1M544 342.7l-8.4 3.3m2.7 .6l-2.7 -.6l1.6 -2.2M552 342.7l-8.4 3.6m2.7 .5l-2.7 -.5l1.5 -2.3M560.1 342.7l-8.3 3.7m2.7 .4l-2.7 -.4l1.5 -2.3M568.2 342.7l-8.2 3.7m2.7 .4l-2.7 -.4l1.5 -2.3M576.2 342.7l-8.1 4.2m2.7 .3l-2.7 -.3l1.4 -2.4M584.3 342.7l-7.8 5.9m2.9 -.2l-2.9 .2l1 -2.8M592.3 342.7l-7.4 7.1m3 -.6l-3 .6l.7 -3M600.4 342.7l-7.3 7.4m3 -.7l-3 .7l.6 -3M608.5 342.7l-7.2 7.5m3 -.7l-3 .7l.6 -3.1M616.5 342.7l-6.8 8.4m3.1 -1l-3.1 1l.3 -3.2M624.6 342.7l-5.5 10m3 -1.6l-3 1.6l-.2 -3.4M632.6 342.7l-5 10.4m3 -1.8l-3 1.8l-.4 -3.4M640.7 342.7l-4.7 10.7m2.9 -1.9l-2.9 1.9l-.6 -3.5M648.8 342.7l-3.9 11.2m2.8 -2.2l-2.8 2.2l-.8 -3.5M656.8 342.7l-2.9 11.8m2.7 -2.5l-2.7 2.5l-1.2 -3.5M664.9 342.7l-2.2 12.4m2.6 -2.8l-2.6 2.8l-1.5 -3.5M672.9 342.7l-1.4 13.3m2.5 -3l-2.5 3l-1.8 -3.5M681 342.7l-.6 14.9m2.3 -3.2l-2.3 3.2l-2 -3.4M689.1 342.7l-.3 16.9m2.2 -3.2l-2.2 3.2l-2.1 -3.3M697.1 342.7l-.1 19m2.1 -3.3l-2.1 3.3l-2.1 -3.3M705.2 342.7l.1 20.2m2.1 -3.3l-2.1 3.3l-2.1 -3.3M713.2 342.7l.2 19.9m2.1 -3.3l-2.1 3.3l-2.2 -3.2M721.3 342.7l.3 18.3m2.1 -3.3l-2.1 3.3l-2.2 -3.2M286.1 335.6l1 -11m-2 2.6l2 -2.6l1.5 2.9M294.1 335.6l.8 -10.2m-1.9 2.4l1.9 -2.4l1.5 2.7M302.2 335.6l.6 -9.4m-1.7 2.3l1.7 -2.3l1.4 2.5M310.2 335.6l.5 -6.8m-1.6 2.1l1.6 -2.1l1.3 2.4M318.3 335.6l-.3 6.6m1.6 -2.2l-1.6 2.2l-1.4 -2.3M326.4 335.6l-.6 8.5m1.6 -2.2l-1.6 2.2l-1.3 -2.4M334.4 335.6l-.8 9.4m1.7 -2.2l-1.7 2.2l-1.3 -2.5M342.5 335.6l-1.1 10.7m2 -2.5l-2 2.5l-1.5 -2.9M350.5 335.6l-1.6 12.6m2.5 -2.9l-2.5 2.9l-1.7 -3.4M358.6 335.6l-2.6 15.7m2.6 -2.9l-2.6 2.9l-1.6 -3.6M366.7 335.6l-4.6 19.9m2.8 -2.7l-2.8 2.7l-1.3 -3.7M374.7 335.6l-6.6 24.2m2.9 -2.6l-2.9 2.6l-1.2 -3.7M382.8 335.6l-7.5 26.5m2.9 -2.6l-2.9 2.6l-1.2 -3.7M390.8 335.6l-7.2 25.3m2.9 -2.6l-2.9 2.6l-1.2 -3.7M398.9 335.6l-6.7 21.5m3 -2.5l-3 2.5l-1 -3.8M407 335.6l-9.6 14.6m3.6 -1.6l-3.6 1.6l0 -3.9M415 335.6l-11 5.6m3.7 .4l-3.7 -.4l1.9 -3.2M423.1 335.6l-10.6 3.3m3.2 .9l-3.2 -.9l2.1 -2.6M431.1 335.6l-10.7 2.9m3.2 1l-3.2 -1l2.2 -2.5M439.2 335.6l-11 2.6m3.2 1.1l-3.2 -1.1l2.3 -2.4M447.3 335.6l-11.2 1.8m3.1 1.4l-3.1 -1.4l2.5 -2.3M455.3 335.6l-11.3 1.3m3.1 1.5l-3.1 -1.5l2.6 -2.2M463.4 335.6l-11.5 1.5m3.1 1.5l-3.1 -1.5l2.6 -2.3M471.4 335.6l-11.5 2.3m3.3 1.3l-3.3 -1.3l2.5 -2.5M479.5 335.6l-11.4 2.7m3.3 1.2l-3.3 -1.2l2.4 -2.5M487.6 335.6l-11.2 2m3.1 1.3l-3.1 -1.3l2.5 -2.3M495.6 335.6l-10.9 1.1m2.9 1.5l-2.9 -1.5l2.6 -2M503.7 335.6l-10.6 1m2.8 1.5l-2.8 -1.5l2.5 -2M511.7 335.6l-10.4 1.3m2.8 1.4l-2.8 -1.4l2.4 -2M519.8 335.6l-10.2 1.6m2.8 1.3l-2.8 -1.3l2.3 -2.1M527.9 335.6l-9.9 1.7m2.8 1.2l-2.8 -1.2l2.2 -2M535.9 335.6l-9.7 2m2.8 1.1l-2.8 -1.1l2.1 -2.1M544 335.6l-9.5 2.6m2.8 .9l-2.8 -.9l2 -2.2M552 335.6l-9.3 3.1m2.9 .8l-2.9 -.8l1.8 -2.3M560.1 335.6l-9.1 3.2m2.8 .7l-2.8 -.7l1.8 -2.3M568.2 335.6l-9 3.3m2.8 .6l-2.8 -.6l1.7 -2.3M576.2 335.6l-8.8 3.9m2.9 .5l-2.9 -.5l1.6 -2.4M584.3 335.6l-8.6 5.7m3.1 0l-3.1 0l1.2 -2.8M592.3 335.6l-8.3 6.7m3.2 -.3l-3.2 .3l1 -3M600.4 335.6l-8.2 6.9m3.2 -.4l-3.2 .4l.9 -3.1M608.5 335.6l-8.1 7m3.2 -.4l-3.2 .4l.9 -3.1M616.5 335.6l-7.8 7.9m3.3 -.7l-3.3 .7l.7 -3.3M624.6 335.6l-6.6 10m3.3 -1.4l-3.3 1.4l0 -3.6M632.6 335.6l-5.9 10.9m3.3 -1.8l-3.3 1.8l-.3 -3.7M640.7 335.6l-5.6 11.2m3.2 -1.9l-3.2 1.9l-.4 -3.7M648.8 335.6l-4.8 11.9m3.1 -2.2l-3.1 2.2l-.7 -3.8M656.8 335.6l-3.5 12.7m2.9 -2.6l-2.9 2.6l-1.2 -3.7M664.9 335.6l-2.6 13.4m2.7 -2.8l-2.7 2.8l-1.5 -3.6M672.9 335.6l-1.7 14.4m2.5 -3l-2.5 3l-1.7 -3.5M681 335.6l-.7 15.9m2.3 -3.2l-2.3 3.2l-2 -3.4M689.1 335.6l-.2 17.9m2.2 -3.2l-2.2 3.2l-2.1 -3.3M697.1 335.6l-.1 20m2.1 -3.3l-2.1 3.3l-2.1 -3.3M705.2 335.6l0 21.2m2.1 -3.3l-2.1 3.3l-2.1 -3.3M713.2 335.6l.1 20.9m2.1 -3.3l-2.1 3.3l-2.1 -3.3M721.3 335.6l.1 19.2m2.1 -3.3l-2.1 3.3l-2.1 -3.3M302.2 328.5l.3 -11.3m-1.9 2.8l1.9 -2.8l1.8 2.9M310.2 328.5l1.3 -10.6m-2.1 2.5l2.1 -2.5l1.4 2.9M318.3 328.5l3.5 -1.2m-2.6 -.7l2.6 .7l-1.7 2.1M326.4 328.5l2 7.1m.8 -2.6l-.8 2.6l-2 -1.8M334.4 328.5l-.5 10m1.8 -2.5l-1.8 2.5l-1.5 -2.6M342.5 328.5l-.9 10.8m2 -2.6l-2 2.6l-1.5 -2.9M350.5 328.5l-1.2 12.4m2.3 -2.9l-2.3 2.9l-1.7 -3.3M358.6 328.5l-2.1 15m2.6 -2.9l-2.6 2.9l-1.6 -3.5M366.7 328.5l-3.9 18.7m2.7 -2.8l-2.7 2.8l-1.4 -3.6M374.7 328.5l-5.9 22.9m2.9 -2.6l-2.9 2.6l-1.2 -3.7M382.8 328.5l-6.9 25.7m2.9 -2.6l-2.9 2.6l-1.2 -3.7M390.8 328.5l-6.8 25.2m2.9 -2.6l-2.9 2.6l-1.2 -3.7M398.9 328.5l-6.3 21.8m3 -2.5l-3 2.5l-1.1 -3.7M407 328.5l-8.1 16.2m3.4 -2l-3.4 2l-.4 -3.9M415 328.5l-10.6 7.3m3.9 -.1l-3.9 .1l1.5 -3.6M423.1 328.5l-10.2 3.7m3.2 .7l-3.2 -.7l2 -2.6M431.1 328.5l-10.3 2.9m3.1 .9l-3.1 -.9l2.1 -2.4M439.2 328.5l-10.6 2.4m3.1 1.1l-3.1 -1.1l2.3 -2.3M447.3 328.5l-11 1.7m3 1.4l-3 -1.4l2.5 -2.2M455.3 328.5l-11.4 1.2m3 1.6l-3 -1.6l2.7 -2.1M463.4 328.5l-11.7 .9m3.1 1.7l-3.1 -1.7l2.8 -2.1M471.4 328.5l-12 .9m3.2 1.7l-3.2 -1.7l2.9 -2.2M479.5 328.5l-12.2 1m3.2 1.7l-3.2 -1.7l2.9 -2.2M487.6 328.5l-12.2 .8m3.2 1.8l-3.2 -1.8l3 -2.2M495.6 328.5l-12.2 .6m3.2 1.8l-3.2 -1.8l3 -2.2M503.7 328.5l-12.2 .8m3.2 1.8l-3.2 -1.8l2.9 -2.2M511.7 328.5l-12.1 1.1m3.2 1.7l-3.2 -1.7l2.9 -2.2M519.8 328.5l-11.9 1.3m3.2 1.6l-3.2 -1.6l2.8 -2.3M527.9 328.5l-11.6 1.5m3.2 1.5l-3.2 -1.5l2.7 -2.3M535.9 328.5l-11.4 1.8m3.2 1.4l-3.2 -1.4l2.6 -2.3M544 328.5l-11.1 2.4m3.2 1.2l-3.2 -1.2l2.4 -2.4M552 328.5l-10.7 2.9m3.2 1l-3.2 -1l2.2 -2.5M560.1 328.5l-10.4 3.2m3.1 .9l-3.1 -.9l2.1 -2.5M568.2 328.5l-10 3.3m3.1 .8l-3.1 -.8l2 -2.5M576.2 328.5l-9.7 3.9m3.1 .6l-3.1 -.6l1.8 -2.6M584.3 328.5l-9.4 5.5m3.3 .1l-3.3 -.1l1.5 -2.9M592.3 328.5l-9 6.6m3.4 -.2l-3.4 .2l1.2 -3.1M600.4 328.5l-8.8 6.9m3.3 -.3l-3.3 .3l1.1 -3.2M608.5 328.5l-8.6 7m3.3 -.3l-3.3 .3l1 -3.2M616.5 328.5l-8.4 7.5m3.3 -.5l-3.3 .5l.9 -3.3M624.6 328.5l-7.7 9.1m3.4 -1l-3.4 1l.4 -3.6M632.6 328.5l-7.1 10m3.4 -1.3l-3.4 1.3l.2 -3.7M640.7 328.5l-6.8 10.4m3.4 -1.5l-3.4 1.5l0 -3.7M648.8 328.5l-5.8 11.5m3.3 -1.9l-3.3 1.9l-.4 -3.8M656.8 328.5l-4 12.9m3 -2.5l-3 2.5l-1.1 -3.8M664.9 328.5l-2.8 13.7m2.7 -2.8l-2.7 2.8l-1.4 -3.6M672.9 328.5l-2.1 14.5m2.6 -2.9l-2.6 2.9l-1.6 -3.5M681 328.5l-1 16m2.3 -3.1l-2.3 3.1l-1.9 -3.4M689.1 328.5l-.3 17.8m2.2 -3.2l-2.2 3.2l-2.1 -3.3M697.1 328.5l-.1 19.6m2.1 -3.3l-2.1 3.3l-2.1 -3.3M705.2 328.5l-.1 20.6m2.1 -3.3l-2.1 3.3l-2.1 -3.3M713.2 328.5l-.1 20.3m2.1 -3.3l-2.1 3.3l-2.1 -3.3M721.3 328.5l-.1 18.7m2.1 -3.3l-2.1 3.3l-2.1 -3.3M302.2 321.4l.2 -12.6m-2.1 3.1l2.1 -3.1l2 3.2M310.2 321.4l2.3 -11.7m-2.5 2.6l2.5 -2.6l1.3 3.3M318.3 321.4l5.9 -7.6m-2.7 .9l2.7 -.9l-.3 2.9M326.4 321.4l4.7 -2.1m-2.7 -.4l2.7 .4l-1.5 2.3M334.4 321.4l1 9.6m1.3 -2.6l-1.3 2.6l-1.8 -2.3M342.5 321.4l-.5 10.2m1.8 -2.5l-1.8 2.5l-1.5 -2.7M350.5 321.4l-.9 11.6m2.1 -2.8l-2.1 2.8l-1.7 -3.1M358.6 321.4l-1.7 14m2.5 -3l-2.5 3l-1.7 -3.5M366.7 321.4l-3.4 17.4m2.7 -2.8l-2.7 2.8l-1.5 -3.6M374.7 321.4l-5.2 21.4m2.8 -2.7l-2.8 2.7l-1.3 -3.7M382.8 321.4l-6.2 24.5m2.9 -2.7l-2.9 2.7l-1.3 -3.7M390.8 321.4l-6.2 24.7m2.9 -2.7l-2.9 2.7l-1.3 -3.7M398.9 321.4l-5.6 21.8m2.9 -2.6l-2.9 2.6l-1.2 -3.7M407 321.4l-5.9 17.3m3.1 -2.4l-3.1 2.4l-1 -3.8M415 321.4l-8.2 11.7m3.6 -1.5l-3.6 1.5l.1 -3.9M423.1 321.4l-9.2 6.9m3.4 -.2l-3.4 .2l1.2 -3.2M431.1 321.4l-9.3 5.4m3.2 .2l-3.2 -.2l1.5 -2.9M439.2 321.4l-9.6 4.6m3.2 .4l-3.2 -.4l1.7 -2.7M447.3 321.4l-10 3.5m3.1 .8l-3.1 -.8l1.9 -2.5M455.3 321.4l-10.3 2.3m3 1.1l-3 -1.1l2.2 -2.3M463.4 321.4l-10.7 1.4m2.9 1.4l-2.9 -1.4l2.5 -2.1M471.4 321.4l-11.1 1m3 1.6l-3 -1.6l2.6 -2.1M479.5 321.4l-11.5 .7m3 1.7l-3 -1.7l2.8 -2.1M487.6 321.4l-11.9 .6m3.1 1.8l-3.1 -1.8l2.9 -2.1M495.6 321.4l-12.2 .7m3.2 1.8l-3.2 -1.8l3 -2.2M503.7 321.4l-12.5 1m3.3 1.8l-3.3 -1.8l3 -2.3M511.7 321.4l-12.7 1.2m3.4 1.8l-3.4 -1.8l3 -2.4M519.8 321.4l-12.9 1.4m3.5 1.7l-3.5 -1.7l3 -2.5M527.9 321.4l-12.9 1.6m3.5 1.7l-3.5 -1.7l3 -2.5M535.9 321.4l-12.8 1.9m3.5 1.6l-3.5 -1.6l2.9 -2.6M544 321.4l-12.6 2.3m3.6 1.5l-3.6 -1.5l2.8 -2.6M552 321.4l-12.3 2.8m3.6 1.3l-3.6 -1.3l2.6 -2.7M560.1 321.4l-11.9 3.2m3.5 1.1l-3.5 -1.1l2.5 -2.8M568.2 321.4l-11.5 3.4m3.4 1l-3.4 -1l2.3 -2.7M576.2 321.4l-11 3.8m3.4 .8l-3.4 -.8l2.2 -2.8M584.3 321.4l-10.6 5.1m3.5 .5l-3.5 -.5l1.8 -3M592.3 321.4l-10.1 6.3m3.6 .1l-3.6 -.1l1.5 -3.2M600.4 321.4l-9.7 6.7m3.5 -.1l-3.5 .1l1.4 -3.3M608.5 321.4l-9.4 6.8m3.5 -.2l-3.5 .2l1.3 -3.2M616.5 321.4l-9.1 7.1m3.5 -.3l-3.5 .3l1.1 -3.3M624.6 321.4l-8.6 8.4m3.5 -.7l-3.5 .7l.8 -3.5M632.6 321.4l-8.3 9m3.5 -.9l-3.5 .9l.6 -3.6M640.7 321.4l-8 9.5m3.5 -1.1l-3.5 1.1l.5 -3.7M648.8 321.4l-7 10.9m3.5 -1.6l-3.5 1.6l0 -3.9M656.8 321.4l-4.6 13m3.1 -2.4l-3.1 2.4l-.9 -3.8M664.9 321.4l-3.1 13.9m2.8 -2.7l-2.8 2.7l-1.4 -3.7M672.9 321.4l-2.3 14.7m2.6 -2.9l-2.6 2.9l-1.6 -3.6M681 321.4l-1.2 15.9m2.4 -3.1l-2.4 3.1l-1.9 -3.4M689.1 321.4l-.5 17.4m2.2 -3.2l-2.2 3.2l-2 -3.3M697.1 321.4l-.3 18.9m2.2 -3.2l-2.2 3.2l-2.1 -3.3M705.2 321.4l-.3 19.8m2.2 -3.2l-2.2 3.2l-2.1 -3.3M713.2 321.4l-.5 19.4m2.2 -3.2l-2.2 3.2l-2 -3.3M721.3 321.4l-.6 18.1m2.2 -3.2l-2.2 3.2l-2 -3.3M302.2 314.4l.3 -13.3m-2.2 3.2l2.2 -3.2l2.1 3.3M310.2 314.4l2.4 -12m-2.6 2.6l2.6 -2.6l1.4 3.4M318.3 314.4l5.3 -7.7m-2.6 1.1l2.6 -1.1l-.1 2.8M326.4 314.4l4.8 -2.5m-2.7 -.2l2.7 .2l-1.3 2.4M334.4 314.4l2.6 7m.6 -2.6l-.6 2.6l-2.2 -1.6M342.5 314.4l.4 8.8m1.4 -2.3l-1.4 2.3l-1.6 -2.2M350.5 314.4l-.4 10.5m1.8 -2.6l-1.8 2.6l-1.6 -2.7M358.6 314.4l-1.3 12.9m2.4 -3l-2.4 3l-1.8 -3.5M366.7 314.4l-2.9 16m2.7 -2.8l-2.7 2.8l-1.5 -3.6M374.7 314.4l-4.5 19.9m2.8 -2.7l-2.8 2.7l-1.4 -3.7M382.8 314.4l-5.4 23.3m2.8 -2.7l-2.8 2.7l-1.3 -3.7M390.8 314.4l-5.6 24.2m2.8 -2.7l-2.8 2.7l-1.3 -3.7M398.9 314.4l-5.3 21.8m2.8 -2.7l-2.8 2.7l-1.3 -3.7M407 314.4l-5.2 17.7m3 -2.5l-3 2.5l-1.1 -3.7M415 314.4l-5.6 13.8m3.2 -2.2l-3.2 2.2l-.7 -3.8M423.1 314.4l-6.8 10.6m3.4 -1.6l-3.4 1.6l0 -3.8M431.1 314.4l-7.6 8.5m3.3 -.9l-3.3 .9l.5 -3.4M439.2 314.4l-8.1 7.4m3.3 -.5l-3.3 .5l.8 -3.2M447.3 314.4l-8.6 6.3m3.2 -.2l-3.2 .2l1.1 -3M455.3 314.4l-9.1 4.7m3.1 .3l-3.1 -.3l1.5 -2.7M463.4 314.4l-9.4 3.3m2.9 .7l-2.9 -.7l1.8 -2.4M471.4 314.4l-9.7 2.5m2.8 1l-2.8 -1l2 -2.2M479.5 314.4l-10.1 1.8m2.8 1.2l-2.8 -1.2l2.2 -2.1M487.6 314.4l-10.5 1.2m2.8 1.4l-2.8 -1.4l2.4 -2M495.6 314.4l-11 1.2m3 1.5l-3 -1.5l2.6 -2.1M503.7 314.4l-11.6 1.6m3.2 1.5l-3.2 -1.5l2.7 -2.3M511.7 314.4l-12.1 1.8m3.3 1.5l-3.3 -1.5l2.8 -2.4M519.8 314.4l-12.6 2m3.5 1.6l-3.5 -1.6l2.9 -2.6M527.9 314.4l-13.1 2m3.6 1.6l-3.6 -1.6l2.9 -2.6M535.9 314.4l-13.4 2.1m3.6 1.6l-3.6 -1.6l2.9 -2.6M544 314.4l-13.6 2.4m3.6 1.5l-3.6 -1.5l2.9 -2.7M552 314.4l-13.6 2.8m3.6 1.4l-3.6 -1.4l2.8 -2.7M560.1 314.4l-13.4 3.3m3.7 1.3l-3.7 -1.3l2.7 -2.9M568.2 314.4l-13 3.6m3.7 1.2l-3.7 -1.2l2.6 -2.9M576.2 314.4l-12.6 3.9m3.8 1.1l-3.8 -1.1l2.5 -3M584.3 314.4l-12.1 4.6m3.8 .8l-3.8 -.8l2.3 -3.1M592.3 314.4l-11.6 5.6m3.8 .5l-3.8 -.5l2 -3.3M600.4 314.4l-11 6.1m3.8 .3l-3.8 -.3l1.8 -3.3M608.5 314.4l-10.6 6.2m3.7 .2l-3.7 -.2l1.7 -3.3M616.5 314.4l-10.1 6.8m3.7 -.1l-3.7 .1l1.4 -3.4M624.6 314.4l-9.6 8.1m3.7 -.5l-3.7 .5l1.1 -3.6M632.6 314.4l-9.1 8.9m3.7 -.7l-3.7 .7l.8 -3.7M640.7 314.4l-8.7 9.2m3.7 -.9l-3.7 .9l.7 -3.8M648.8 314.4l-7.9 10.5m3.7 -1.3l-3.7 1.3l.3 -3.9M656.8 314.4l-5.7 12.9m3.3 -2.1l-3.3 2.1l-.6 -3.9M664.9 314.4l-3.7 14.2m2.9 -2.6l-2.9 2.6l-1.2 -3.7M672.9 314.4l-2.5 15m2.6 -2.9l-2.6 2.9l-1.6 -3.6M681 314.4l-1.2 16m2.4 -3.1l-2.4 3.1l-1.9 -3.4M689.1 314.4l-.6 17.2m2.2 -3.2l-2.2 3.2l-2 -3.3M697.1 314.4l-.6 18.3m2.2 -3.2l-2.2 3.2l-2 -3.3M705.2 314.4l-.8 18.9m2.3 -3.2l-2.3 3.2l-2 -3.4M713.2 314.4l-1.1 18.6m2.3 -3.1l-2.3 3.1l-1.9 -3.4M721.3 314.4l-1.2 17.4m2.3 -3.1l-2.3 3.1l-1.9 -3.4M302.2 307.3l.5 -13.4m-2.2 3.2l2.2 -3.2l2 3.3M310.2 307.3l1.4 -11.8m-2.3 2.7l2.3 -2.7l1.6 3.2M318.3 307.3l3.5 -7.8m-2.3 1.5l2.3 -1.5l.4 2.7M326.4 307.3l3.3 .7m-1.9 -1.9l1.9 1.9l-2.5 1M334.4 307.3l2.7 4.6m.1 -2.7l-.1 2.7l-2.4 -1.2M342.5 307.3l2 6.4m.7 -2.6l-.7 2.6l-2.1 -1.7M350.5 307.3l.9 9.1m1.3 -2.4l-1.3 2.4l-1.7 -2.1M358.6 307.3l-.3 11.8m2 -2.9l-2 2.9l-1.9 -3M366.7 307.3l-1.8 15m2.5 -3l-2.5 3l-1.7 -3.5M374.7 307.3l-3.6 18.6m2.7 -2.8l-2.7 2.8l-1.5 -3.6M382.8 307.3l-4.8 22.1m2.8 -2.7l-2.8 2.7l-1.4 -3.6M390.8 307.3l-5.3 23.5m2.8 -2.7l-2.8 2.7l-1.4 -3.7M398.9 307.3l-5.3 21.7m2.8 -2.7l-2.8 2.7l-1.3 -3.7M407 307.3l-5.2 17.8m3 -2.5l-3 2.5l-1.1 -3.7M415 307.3l-5.1 14.1m3.1 -2.4l-3.1 2.4l-.9 -3.8M423.1 307.3l-5.6 11.5m3.3 -2l-3.3 2l-.5 -3.8M431.1 307.3l-6.4 9.6m3.2 -1.4l-3.2 1.4l0 -3.5M439.2 307.3l-6.9 8.7m3.2 -1.1l-3.2 1.1l.3 -3.3M447.3 307.3l-7.3 8m3.1 -.8l-3.1 .8l.5 -3.2M455.3 307.3l-7.8 6.8m3.1 -.4l-3.1 .4l.9 -3M463.4 307.3l-8.2 5.7m3 -.1l-3 .1l1.1 -2.8M471.4 307.3l-8.5 5m3 .1l-3 -.1l1.3 -2.6M479.5 307.3l-8.9 3.9m2.9 .5l-2.9 -.5l1.6 -2.4M487.6 307.3l-9.2 2.7m2.7 .8l-2.7 -.8l1.9 -2.2M495.6 307.3l-9.6 2.3m2.8 1l-2.8 -1l2 -2.1M503.7 307.3l-10.2 2.6m3 1l-3 -1l2.1 -2.3M511.7 307.3l-10.8 2.9m3.2 1l-3.2 -1l2.3 -2.5M519.8 307.3l-11.5 2.9m3.4 1.2l-3.4 -1.2l2.4 -2.6M527.9 307.3l-12.2 2.7m3.5 1.3l-3.5 -1.3l2.6 -2.7M535.9 307.3l-12.9 2.5m3.6 1.5l-3.6 -1.5l2.8 -2.7M544 307.3l-13.5 2.6m3.6 1.5l-3.6 -1.5l2.8 -2.7M552 307.3l-13.9 3.1m3.7 1.3l-3.7 -1.3l2.7 -2.8M560.1 307.3l-14.1 3.7m3.7 1.2l-3.7 -1.2l2.6 -2.9M568.2 307.3l-14 4m3.7 1.1l-3.7 -1.1l2.6 -2.9M576.2 307.3l-13.8 4.2m3.7 1.1l-3.7 -1.1l2.5 -3M584.3 307.3l-13.4 4.7m3.8 .9l-3.8 -.9l2.4 -3.1M592.3 307.3l-12.9 5.3m3.8 .7l-3.8 -.7l2.2 -3.2M600.4 307.3l-12.4 5.7m3.9 .6l-3.9 -.6l2.1 -3.3M608.5 307.3l-11.8 6m3.9 .4l-3.9 -.4l1.9 -3.4M616.5 307.3l-11.3 6.8m3.9 .1l-3.9 -.1l1.7 -3.5M624.6 307.3l-10.6 8.2m3.9 -.3l-3.9 .3l1.3 -3.7M632.6 307.3l-10 9.1m3.8 -.6l-3.8 .6l1 -3.8M640.7 307.3l-9.5 9.5m3.8 -.8l-3.8 .8l.8 -3.8M648.8 307.3l-8.9 10.2m3.8 -1.1l-3.8 1.1l.6 -3.9M656.8 307.3l-7.5 12.1m3.5 -1.7l-3.5 1.7l-.1 -3.9M664.9 307.3l-5.5 13.8m3.2 -2.2l-3.2 2.2l-.8 -3.8M672.9 307.3l-3.5 15.1m2.8 -2.7l-2.8 2.7l-1.3 -3.7M681 307.3l-1.4 16.1m2.4 -3.1l-2.4 3.1l-1.8 -3.4M689.1 307.3l-.8 17m2.3 -3.2l-2.3 3.2l-2 -3.4M697.1 307.3l-.9 17.8m2.3 -3.2l-2.3 3.2l-2 -3.4M705.2 307.3l-1.3 18.1m2.4 -3.1l-2.4 3.1l-1.9 -3.4M713.2 307.3l-1.5 17.8m2.4 -3.1l-2.4 3.1l-1.8 -3.4M721.3 307.3l-1.5 16.8m2.4 -3.1l-2.4 3.1l-1.8 -3.4M302.2 300.2l.5 -13.4m-2.3 3.2l2.3 -3.2l2 3.4M310.2 300.2l.9 -11.3m-2.1 2.7l2.1 -2.7l1.6 3M318.3 300.2l2 -7.2m-2 1.8l2 -1.8l.8 2.6M326.4 300.2l2.5 1.9m-1 -2.5l1 2.5l-2.7 -.2M334.4 300.2l2 2.9m-.1 -2.7l.1 2.7l-2.5 -1M342.5 300.2l2.3 4.5m.3 -2.7l-.3 2.7l-2.3 -1.3M350.5 300.2l1.7 7.8m.9 -2.5l-.9 2.5l-1.9 -1.9M358.6 300.2l.6 11m1.6 -2.9l-1.6 2.9l-1.9 -2.7M366.7 300.2l-.4 14.1m2.2 -3.2l-2.2 3.2l-2 -3.3M374.7 300.2l-2.5 17.5m2.6 -2.9l-2.6 2.9l-1.6 -3.5M382.8 300.2l-4.2 20.8m2.7 -2.8l-2.7 2.8l-1.4 -3.6M390.8 300.2l-4.9 22.8m2.8 -2.8l-2.8 2.8l-1.4 -3.6M398.9 300.2l-5.2 21.7m2.8 -2.7l-2.8 2.7l-1.3 -3.7M407 300.2l-5.3 18.1m3 -2.5l-3 2.5l-1.1 -3.7M415 300.2l-5 14.4m3.1 -2.4l-3.1 2.4l-.9 -3.8M423.1 300.2l-5.1 11.9m3.2 -2.2l-3.2 2.2l-.7 -3.8M431.1 300.2l-5.8 10.2m3.1 -1.6l-3.1 1.6l-.2 -3.5M439.2 300.2l-6.3 9.2m3.1 -1.3l-3.1 1.3l.1 -3.3M447.3 300.2l-6.6 8.5m3.1 -1.1l-3.1 1.1l.3 -3.2M455.3 300.2l-7 7.6m3 -.8l-3 .8l.5 -3.1M463.4 300.2l-7.4 6.8m3 -.5l-3 .5l.7 -2.9M471.4 300.2l-7.6 6.4m2.9 -.4l-2.9 .4l.9 -2.8M479.5 300.2l-7.8 5.8m2.9 -.2l-2.9 .2l1 -2.7M487.6 300.2l-8.2 4.4m2.8 .2l-2.8 -.2l1.3 -2.5M495.6 300.2l-8.5 3.5m2.7 .5l-2.7 -.5l1.6 -2.3M503.7 300.2l-9 3.6m2.9 .6l-2.9 -.6l1.7 -2.4M511.7 300.2l-9.6 3.9m3 .6l-3 -.6l1.8 -2.5M519.8 300.2l-10.2 3.9m3.2 .7l-3.2 -.7l1.9 -2.6M527.9 300.2l-11 3.6m3.4 .9l-3.4 -.9l2.2 -2.7M535.9 300.2l-11.8 3.2m3.5 1.1l-3.5 -1.1l2.4 -2.7M544 300.2l-12.6 3.3m3.7 1.2l-3.7 -1.2l2.6 -2.9M552 300.2l-13.3 3.8m3.7 1.1l-3.7 -1.1l2.6 -2.9M560.1 300.2l-13.8 4.3m3.8 1.1l-3.8 -1.1l2.5 -3M568.2 300.2l-14.1 4.5m3.8 1l-3.8 -1l2.5 -3M576.2 300.2l-14.2 4.7m3.8 1l-3.8 -1l2.4 -3M584.3 300.2l-14.1 5.1m3.8 .9l-3.8 -.9l2.4 -3.1M592.3 300.2l-13.8 5.7m3.8 .7l-3.8 -.7l2.2 -3.2M600.4 300.2l-13.4 6.1m3.9 .6l-3.9 -.6l2.1 -3.3M608.5 300.2l-12.9 6.6m3.9 .4l-3.9 -.4l1.9 -3.4M616.5 300.2l-12.4 7.3m3.9 .2l-3.9 -.2l1.7 -3.5M624.6 300.2l-11.8 8.3m3.9 -.2l-3.9 .2l1.4 -3.6M632.6 300.2l-11.1 9.2m3.9 -.5l-3.9 .5l1.1 -3.7M640.7 300.2l-10.5 9.8m3.8 -.7l-3.8 .7l.9 -3.8M648.8 300.2l-9.9 10.1m3.8 -.9l-3.8 .9l.8 -3.8M656.8 300.2l-9.3 10.8m3.7 -1.1l-3.7 1.1l.5 -3.9M664.9 300.2l-8.5 11.8m3.6 -1.4l-3.6 1.4l.2 -3.9M672.9 300.2l-6.7 13.8m3.3 -2l-3.3 2l-.5 -3.9M681 300.2l-3 16.1m2.7 -2.8l-2.7 2.8l-1.5 -3.6M689.1 300.2l-1.9 16.8m2.5 -3l-2.5 3l-1.7 -3.5M697.1 300.2l-2.3 17.2m2.5 -3l-2.5 3l-1.7 -3.5M705.2 300.2l-2.4 17.4m2.6 -2.9l-2.6 2.9l-1.6 -3.5M713.2 300.2l-2.2 17m2.5 -3l-2.5 3l-1.7 -3.5M721.3 300.2l-2.1 16.2m2.5 -3l-2.5 3l-1.7 -3.5M302.2 293.2l.3 -13.5m-2.2 3.2l2.2 -3.2l2 3.3M310.2 293.2l.8 -11.3m-2 2.7l2 -2.7l1.6 3M318.3 293.2l2.1 -6.8m-2.1 1.7l2.1 -1.7l.7 2.6M326.4 293.2l2.4 1.7m-1 -2.5l1 2.5l-2.7 -.1M334.4 293.2l1.8 2.5m-.2 -2.7l.2 2.7l-2.5 -.9M342.5 293.2l2.2 4.2m.3 -2.7l-.3 2.7l-2.3 -1.3M350.5 293.2l1.5 7.6m1 -2.5l-1 2.5l-1.9 -1.9M358.6 293.2l.8 10.6m1.5 -2.8l-1.5 2.8l-1.9 -2.5M366.7 293.2l.3 13.4m2.1 -3.3l-2.1 3.3l-2.2 -3.2M374.7 293.2l-1.5 16.5m2.4 -3.1l-2.4 3.1l-1.8 -3.5M382.8 293.2l-3.6 19.7m2.7 -2.8l-2.7 2.8l-1.5 -3.6M390.8 293.2l-4.5 22m2.7 -2.8l-2.7 2.8l-1.4 -3.6M398.9 293.2l-4.8 21.6m2.8 -2.7l-2.8 2.7l-1.4 -3.7M407 293.2l-4.9 18.5m2.9 -2.6l-2.9 2.6l-1.2 -3.7M415 293.2l-4.6 14.9m3 -2.5l-3 2.5l-1.1 -3.8M423.1 293.2l-4.6 12.4m3.1 -2.3l-3.1 2.3l-.9 -3.8M431.1 293.2l-5.1 10.8m3 -1.9l-3 1.9l-.5 -3.5M439.2 293.2l-5.6 9.8m3 -1.5l-3 1.5l-.2 -3.4M447.3 293.2l-6 9m3 -1.3l-3 1.3l0 -3.2M455.3 293.2l-6.6 8m3 -.9l-3 .9l.4 -3.1M463.4 293.2l-6.8 7.2m2.9 -.7l-2.9 .7l.6 -2.9M471.4 293.2l-6.9 6.8m2.9 -.6l-2.9 .6l.6 -2.8M479.5 293.2l-7.1 6.5m2.8 -.5l-2.8 .5l.7 -2.8M487.6 293.2l-7.4 5.4m2.8 -.1l-2.8 .1l1 -2.6M495.6 293.2l-7.8 4.3m2.7 .2l-2.7 -.2l1.3 -2.4M503.7 293.2l-8.1 4.1m2.7 .3l-2.7 -.3l1.4 -2.4M511.7 293.2l-8.5 4.2m2.8 .3l-2.8 -.3l1.5 -2.5M519.8 293.2l-9.1 4.3m3 .4l-3 -.4l1.6 -2.6M527.9 293.2l-9.8 4.3m3.2 .5l-3.2 -.5l1.8 -2.7M535.9 293.2l-10.6 4.2m3.4 .7l-3.4 -.7l2 -2.8M544 293.2l-11.4 4.5m3.6 .7l-3.6 -.7l2.1 -3M552 293.2l-12.2 5m3.8 .7l-3.8 -.7l2.2 -3.2M560.1 293.2l-12.9 5.2m3.8 .7l-3.8 -.7l2.2 -3.2M568.2 293.2l-13.4 5.2m3.8 .8l-3.8 -.8l2.3 -3.2M576.2 293.2l-13.7 5.2m3.8 .8l-3.8 -.8l2.3 -3.1M584.3 293.2l-13.9 5.6m3.8 .8l-3.8 -.8l2.2 -3.2M592.3 293.2l-13.9 6.2m3.9 .6l-3.9 -.6l2.1 -3.3M600.4 293.2l-13.8 6.8m3.9 .5l-3.9 -.5l2 -3.4M608.5 293.2l-13.5 7.4m3.9 .3l-3.9 -.3l1.8 -3.4M616.5 293.2l-13.1 8m3.9 .1l-3.9 -.1l1.7 -3.5M624.6 293.2l-12.6 8.7m3.9 -.1l-3.9 .1l1.5 -3.6M632.6 293.2l-12 9.3m3.9 -.3l-3.9 .3l1.3 -3.7M640.7 293.2l-11.4 10m3.9 -.6l-3.9 .6l1.1 -3.8M648.8 293.2l-10.8 10.4m3.8 -.7l-3.8 .7l.9 -3.8M656.8 293.2l-10.4 10.5m3.8 -.8l-3.8 .8l.8 -3.8M664.9 293.2l-10 10.5m3.8 -.9l-3.8 .9l.7 -3.8M672.9 293.2l-9.4 11.4m3.7 -1.2l-3.7 1.2l.4 -3.9M681 293.2l-7.1 14.3m3.4 -2l-3.4 2l-.5 -3.9M689.1 293.2l-5.7 15.5m3.1 -2.3l-3.1 2.3l-.9 -3.8M697.1 293.2l-6 15.5m3.2 -2.3l-3.2 2.3l-.8 -3.8M705.2 293.2l-5.3 15.9m3.1 -2.4l-3.1 2.4l-1 -3.8M713.2 293.2l-4.4 15.9m2.9 -2.6l-2.9 2.6l-1.2 -3.7M721.3 293.2l-4.3 15.2m2.9 -2.6l-2.9 2.6l-1.1 -3.7M302.2 286.1l.2 -13.8m-2.2 3.2l2.2 -3.2l2.1 3.3M310.2 286.1l1.1 -11.9m-2.2 2.8l2.2 -2.8l1.7 3.2M318.3 286.1l4.5 -4.8m-2.6 .6l2.6 -.6l-.5 2.7M326.4 286.1l3.6 1.1m-1.7 -2.1l1.7 2.1l-2.6 .7M334.4 286.1l3 2.2m-.9 -2.5l.9 2.5l-2.7 -.2M342.5 286.1l2.9 4.8m.1 -2.7l-.1 2.7l-2.4 -1.2M350.5 286.1l1.5 8.2m1 -2.5l-1 2.5l-1.9 -2M358.6 286.1l1 10.7m1.5 -2.9l-1.5 2.9l-2 -2.5M366.7 286.1l.5 13m2 -3.4l-2 3.4l-2.3 -3.2M374.7 286.1l-1.1 15.6m2.3 -3.1l-2.3 3.1l-1.9 -3.4M382.8 286.1l-3.1 18.6m2.6 -2.9l-2.6 2.9l-1.6 -3.6M390.8 286.1l-3.9 21.2m2.7 -2.8l-2.7 2.8l-1.5 -3.6M398.9 286.1l-4.2 21.5m2.7 -2.8l-2.7 2.8l-1.5 -3.6M407 286.1l-4.1 18.9m2.8 -2.7l-2.8 2.7l-1.4 -3.6M415 286.1l-3.8 15.4m2.9 -2.7l-2.9 2.7l-1.3 -3.7M423.1 286.1l-3.6 12.9m2.9 -2.6l-2.9 2.6l-1.2 -3.7M431.1 286.1l-3.8 11.6m2.9 -2.3l-2.9 2.3l-.9 -3.5M439.2 286.1l-4.3 10.7m2.8 -2l-2.8 2l-.7 -3.4M447.3 286.1l-5 9.9m2.9 -1.7l-2.9 1.7l-.4 -3.3M455.3 286.1l-5.9 8.6m2.9 -1.2l-2.9 1.2l.1 -3.1M463.4 286.1l-6.3 7.6m2.8 -.9l-2.8 .9l.4 -2.9M471.4 286.1l-6.4 7.2m2.8 -.8l-2.8 .8l.4 -2.8M479.5 286.1l-6.4 6.9m2.7 -.7l-2.7 .7l.5 -2.8M487.6 286.1l-6.8 6.1m2.7 -.4l-2.7 .4l.7 -2.6M495.6 286.1l-7.2 4.7m2.7 0l-2.7 0l1.1 -2.5M503.7 286.1l-7.5 4.3m2.7 .1l-2.7 -.1l1.2 -2.4M511.7 286.1l-7.8 4.2m2.7 .2l-2.7 -.2l1.3 -2.4M519.8 286.1l-8.3 4.4m2.8 .3l-2.8 -.3l1.4 -2.5M527.9 286.1l-8.9 4.6m3 .3l-3 -.3l1.5 -2.6M535.9 286.1l-9.6 5.1m3.2 .3l-3.2 -.3l1.6 -2.8M544 286.1l-10.3 5.6m3.5 .3l-3.5 -.3l1.7 -3.1M552 286.1l-11.1 6m3.8 .3l-3.8 -.3l1.8 -3.3M560.1 286.1l-11.8 6.1m3.9 .4l-3.9 -.4l1.9 -3.4M568.2 286.1l-12.4 6m3.9 .5l-3.9 -.5l2 -3.3M576.2 286.1l-12.8 6m3.9 .5l-3.9 -.5l2.1 -3.3M584.3 286.1l-13.1 6.4m3.9 .5l-3.9 -.5l2 -3.3M592.3 286.1l-13.3 7.1m3.9 .3l-3.9 -.3l1.9 -3.4M600.4 286.1l-13.4 7.7m3.9 .2l-3.9 -.2l1.8 -3.5M608.5 286.1l-13.4 8.3m3.9 .1l-3.9 -.1l1.7 -3.5M616.5 286.1l-13.2 8.8m3.9 -.1l-3.9 .1l1.5 -3.6M624.6 286.1l-12.9 9.2m3.9 -.2l-3.9 .2l1.4 -3.6M632.6 286.1l-12.5 9.6m3.9 -.3l-3.9 .3l1.3 -3.7M640.7 286.1l-12 10.3m3.9 -.5l-3.9 .5l1.1 -3.7M648.8 286.1l-11.4 10.9m3.8 -.7l-3.8 .7l.9 -3.8M656.8 286.1l-11 10.9m3.8 -.8l-3.8 .8l.8 -3.8M664.9 286.1l-10.7 10.7m3.8 -.8l-3.8 .8l.8 -3.8M672.9 286.1l-10.4 10.7m3.8 -.9l-3.8 .9l.8 -3.8M681 286.1l-9.6 12m3.7 -1.2l-3.7 1.2l.4 -3.9M689.1 286.1l-8.8 13.1m3.6 -1.5l-3.6 1.5l0 -3.9M697.1 286.1l-8.5 13.3m3.6 -1.6l-3.6 1.6l0 -3.9M705.2 286.1l-7.9 13.7m3.5 -1.8l-3.5 1.8l-.2 -3.9M713.2 286.1l-7 14.1m3.4 -2l-3.4 2l-.4 -3.9M721.3 286.1l-6.6 13.6m3.3 -2l-3.3 2l-.5 -3.9M302.2 279l.8 -14.2m-2.3 3.1l2.3 -3.1l1.9 3.4M310.2 279l3.9 -12.1m-3 2.4l3 -2.4l1 3.7M318.3 279l6.6 -1.1m-2.5 -1.1l2.5 1.1l-2 1.8M326.4 279l5.1 .6m-2.1 -1.7l2.1 1.7l-2.4 1.2M334.4 279l4.6 1.1m-1.9 -1.9l1.9 1.9l-2.5 .9M342.5 279l5 3.8m-.9 -2.5l.9 2.5l-2.7 -.2M350.5 279l3.5 8.5m.5 -2.7l-.5 2.7l-2.3 -1.6M358.6 279l2.1 10.9m1.2 -3.1l-1.2 3.1l-2.3 -2.4M366.7 279l.9 12.8m1.9 -3.4l-1.9 3.4l-2.3 -3.1M374.7 279l-.9 14.9m2.3 -3.1l-2.3 3.1l-1.9 -3.4M382.8 279l-2.6 17.7m2.6 -2.9l-2.6 2.9l-1.6 -3.5M390.8 279l-3.3 20.4m2.6 -2.9l-2.6 2.9l-1.6 -3.6M398.9 279l-3.5 21.1m2.6 -2.9l-2.6 2.9l-1.6 -3.6M407 279l-3.3 19.1m2.6 -2.9l-2.6 2.9l-1.5 -3.6M415 279l-2.9 15.9m2.7 -2.8l-2.7 2.8l-1.5 -3.6M423.1 279l-2.7 13.4m2.7 -2.8l-2.7 2.8l-1.4 -3.6M431.1 279l-2.6 12m2.6 -2.6l-2.6 2.6l-1.3 -3.5M439.2 279l-2.8 11.4m2.6 -2.4l-2.6 2.4l-1.1 -3.3M447.3 279l-3.3 10.8m2.6 -2.2l-2.6 2.2l-.9 -3.3M455.3 279l-4.3 9.8m2.7 -1.7l-2.7 1.7l-.5 -3.2M463.4 279l-5.1 8.7m2.7 -1.3l-2.7 1.3l-.1 -3M471.4 279l-5.3 8.1m2.7 -1.2l-2.7 1.2l0 -2.9M479.5 279l-5.2 8m2.6 -1.2l-2.6 1.2l0 -2.9M487.6 279l-5.7 7.3m2.6 -.9l-2.6 .9l.2 -2.8M495.6 279l-6.5 5.7m2.7 -.4l-2.7 .4l.7 -2.6M503.7 279l-6.9 4.7m2.7 -.1l-2.7 .1l1 -2.5M511.7 279l-7.3 4.5m2.7 .1l-2.7 -.1l1.2 -2.4M519.8 279l-7.7 4.6m2.7 .1l-2.7 -.1l1.2 -2.4M527.9 279l-8.2 5m2.9 .1l-2.9 -.1l1.3 -2.6M535.9 279l-8.8 5.7m3.2 0l-3.2 0l1.3 -2.9M544 279l-9.5 6.3m3.4 0l-3.4 0l1.4 -3.1M552 279l-10.2 6.6m3.6 0l-3.6 0l1.5 -3.3M560.1 279l-10.9 6.6m3.8 .1l-3.8 -.1l1.7 -3.4M568.2 279l-11.4 6.7m3.9 .2l-3.9 -.2l1.7 -3.5M576.2 279l-11.8 7.1m3.9 .1l-3.9 -.1l1.7 -3.5M584.3 279l-12.1 7.9m3.9 0l-3.9 0l1.6 -3.6M592.3 279l-12.3 8.8m3.9 -.2l-3.9 .2l1.4 -3.6M600.4 279l-12.5 9.2m3.9 -.2l-3.9 .2l1.4 -3.7M608.5 279l-12.7 9.6m3.9 -.3l-3.9 .3l1.3 -3.7M616.5 279l-12.8 9.8m3.9 -.3l-3.9 .3l1.3 -3.7M624.6 279l-12.7 10m3.9 -.3l-3.9 .3l1.3 -3.7M632.6 279l-12.6 10.2m3.9 -.4l-3.9 .4l1.2 -3.7M640.7 279l-12.3 10.7m3.9 -.6l-3.9 .6l1.1 -3.8M648.8 279l-11.8 11.2m3.8 -.7l-3.8 .7l.9 -3.8M656.8 279l-11.5 11.2m3.8 -.8l-3.8 .8l.9 -3.8M664.9 279l-11.2 11m3.8 -.8l-3.8 .8l.9 -3.8M672.9 279l-11 10.8m3.8 -.8l-3.8 .8l.8 -3.8M681 279l-10.5 11.3m3.8 -.9l-3.8 .9l.7 -3.8M689.1 279l-9.8 12.2m3.7 -1.2l-3.7 1.2l.4 -3.9M697.1 279l-9.4 12.4m3.7 -1.3l-3.7 1.3l.3 -3.9M705.2 279l-9 12.5m3.6 -1.4l-3.6 1.4l.2 -3.9M713.2 279l-8.2 12.9m3.5 -1.6l-3.5 1.6l0 -3.9M721.3 279l-7.6 12.8m3.5 -1.7l-3.5 1.7l-.2 -3.9M302.2 272l2 -14.3m-2.6 2.9l2.6 -2.9l1.7 3.5M310.2 272l5.1 -12.4m-3.2 2.2l3.2 -2.2l.7 3.8M318.3 272l7.8 -1.3m-2.5 -1.1l2.5 1.1l-2 1.8M326.4 272l6.6 .6m-2.1 -1.7l2.1 1.7l-2.4 1.3M334.4 272l6.1 1.1m-2 -1.8l2 1.8l-2.5 1M342.5 272l6.3 3.5m-1.3 -2.4l1.3 2.4l-2.7 .2M350.5 272l6.3 6.5m-.5 -2.7l.5 2.7l-2.6 -.6M358.6 272l5.6 9.2m.1 -3.2l-.1 3.2l-2.9 -1.4M366.7 272l2.9 12.2m1.3 -3.6l-1.3 3.6l-2.7 -2.6M374.7 272l.3 14.4m2.1 -3.3l-2.1 3.3l-2.2 -3.2M382.8 272l-1.4 16.9m2.4 -3.1l-2.4 3.1l-1.8 -3.4M390.8 272l-2.5 19.6m2.5 -3l-2.5 3l-1.7 -3.5M398.9 272l-2.8 20.6m2.5 -3l-2.5 3l-1.7 -3.5M407 272l-2.6 19m2.6 -2.9l-2.6 2.9l-1.7 -3.5M415 272l-2.4 16m2.6 -2.9l-2.6 2.9l-1.6 -3.5M423.1 272l-2.2 13.5m2.6 -2.9l-2.6 2.9l-1.6 -3.6M431.1 272l-2.1 12.1m2.5 -2.7l-2.5 2.7l-1.4 -3.4M439.2 272l-2.2 11.4m2.4 -2.5l-2.4 2.5l-1.3 -3.2M447.3 272l-2.3 10.9m2.4 -2.4l-2.4 2.4l-1.2 -3.1M455.3 272l-2.7 10.3m2.4 -2.2l-2.4 2.2l-1 -3M463.4 272l-3.2 9.7m2.4 -1.9l-2.4 1.9l-.8 -3M471.4 272l-3.3 9.2m2.3 -1.8l-2.3 1.8l-.7 -2.9M479.5 272l-3.4 8.9m2.3 -1.7l-2.3 1.7l-.6 -2.8M487.6 272l-4 8.3m2.4 -1.4l-2.4 1.4l-.3 -2.8M495.6 272l-5.2 7.2m2.5 -1l-2.5 1l.1 -2.7M503.7 272l-6.1 5.9m2.7 -.5l-2.7 .5l.6 -2.6M511.7 272l-6.7 5.2m2.7 -.2l-2.7 .2l.9 -2.5M519.8 272l-7.2 5.1m2.7 -.1l-2.7 .1l1 -2.5M527.9 272l-7.8 5.6m2.9 -.1l-2.9 .1l1 -2.7M535.9 272l-8.4 6.3m3.1 -.2l-3.1 .2l1.1 -2.9M544 272l-9 6.9m3.4 -.2l-3.4 .2l1.2 -3.2M552 272l-9.8 7.1m3.6 -.2l-3.6 .2l1.3 -3.4M560.1 272l-10.4 7.2m3.8 -.1l-3.8 .1l1.5 -3.5M568.2 272l-10.9 7.5m3.9 -.1l-3.9 .1l1.5 -3.6M576.2 272l-11.1 8.4m3.9 -.3l-3.9 .3l1.3 -3.7M584.3 272l-11 9.9m3.9 -.6l-3.9 .6l1 -3.8M592.3 272l-11.1 10.9m3.8 -.8l-3.8 .8l.8 -3.8M600.4 272l-11.3 11.2m3.8 -.8l-3.8 .8l.8 -3.8M608.5 272l-11.7 11.2m3.8 -.7l-3.8 .7l.9 -3.8M616.5 272l-12 11.1m3.8 -.7l-3.8 .7l1 -3.8M624.6 272l-12.2 11.1m3.9 -.6l-3.9 .6l1 -3.8M632.6 272l-12.3 11.1m3.9 -.6l-3.9 .6l1 -3.8M640.7 272l-12.2 11.3m3.8 -.7l-3.8 .7l1 -3.8M648.8 272l-12.1 11.4m3.8 -.7l-3.8 .7l.9 -3.8M656.8 272l-11.9 11.4m3.8 -.7l-3.8 .7l.9 -3.8M664.9 272l-11.7 11.1m3.8 -.7l-3.8 .7l.9 -3.8M672.9 272l-11.5 10.7m3.8 -.7l-3.8 .7l.9 -3.8M681 272l-11.3 10.5m3.8 -.7l-3.8 .7l.9 -3.8M689.1 272l-10.8 11.1m3.8 -.9l-3.8 .9l.8 -3.8M697.1 272l-10.3 11.3m3.8 -1l-3.8 1l.6 -3.8M705.2 272l-10 11.1m3.8 -1l-3.8 1l.6 -3.9M713.2 272l-9.5 11.1m3.7 -1.1l-3.7 1.1l.5 -3.9M721.3 272l-9 11.1m3.7 -1.2l-3.7 1.2l.4 -3.9M302.2 264.9l2.3 -14.4m-2.6 2.9l2.6 -2.9l1.6 3.6M310.2 264.9l4.5 -13.5m-3 2.4l3 -2.4l1 3.8M318.3 264.9l8.7 -3.6m-2.8 -.5l2.8 .5l-1.6 2.3M326.4 264.9l7.7 .3m-2.2 -1.6l2.2 1.6l-2.3 1.4M334.4 264.9l7.2 1.6m-1.9 -1.9l1.9 1.9l-2.5 .9M342.5 264.9l7.2 4.3m-1.2 -2.4l1.2 2.4l-2.7 .1M350.5 264.9l7.2 6m-.8 -2.7l.8 2.7l-2.8 -.3M358.6 264.9l7 7.6m-.5 -3.1l.5 3.1l-3 -.8M366.7 264.9l4.4 11.4m.8 -3.6l-.8 3.6l-3 -2.2M374.7 264.9l2.1 13.7m1.6 -3.6l-1.6 3.6l-2.6 -2.9M382.8 264.9l.4 16.1m2 -3.3l-2 3.3l-2.2 -3.2M390.8 264.9l-1.3 18.6m2.3 -3.1l-2.3 3.1l-1.9 -3.4M398.9 264.9l-1.9 19.9m2.4 -3.1l-2.4 3.1l-1.8 -3.5M407 264.9l-1.9 18.6m2.4 -3l-2.4 3l-1.8 -3.5M415 264.9l-1.9 15.9m2.5 -3l-2.5 3l-1.7 -3.5M423.1 264.9l-1.9 13.5m2.6 -2.9l-2.6 2.9l-1.6 -3.5M431.1 264.9l-2 12m2.5 -2.7l-2.5 2.7l-1.5 -3.3M439.2 264.9l-1.9 11.3m2.3 -2.5l-2.3 2.5l-1.4 -3.2M447.3 264.9l-1.9 10.8m2.2 -2.4l-2.2 2.4l-1.3 -3M455.3 264.9l-2 10.2m2.2 -2.3l-2.2 2.3l-1.2 -2.9M463.4 264.9l-2.1 9.7m2.1 -2.1l-2.1 2.1l-1.1 -2.8M471.4 264.9l-2.2 9.2m2.1 -1.9l-2.1 1.9l-.9 -2.7M479.5 264.9l-2.5 8.7m2 -1.8l-2 1.8l-.8 -2.6M487.6 264.9l-3 8.3m2.1 -1.6l-2.1 1.6l-.6 -2.6M495.6 264.9l-3.8 7.8m2.3 -1.4l-2.3 1.4l-.3 -2.7M503.7 264.9l-4.9 7.2m2.5 -1l-2.5 1l.1 -2.7M511.7 264.9l-5.9 6.4m2.6 -.7l-2.6 .7l.4 -2.7M519.8 264.9l-6.7 6.1m2.7 -.4l-2.7 .4l.7 -2.6M527.9 264.9l-7.3 6.3m2.9 -.4l-2.9 .4l.8 -2.8M535.9 264.9l-8 6.9m3.1 -.4l-3.1 .4l.9 -3M544 264.9l-8.8 7.4m3.4 -.4l-3.4 .4l1 -3.3M552 264.9l-9.6 7.8m3.7 -.4l-3.7 .4l1.1 -3.5M560.1 264.9l-10.3 8.1m3.9 -.4l-3.9 .4l1.3 -3.7M568.2 264.9l-10.6 8.8m3.9 -.5l-3.9 .5l1.2 -3.7M576.2 264.9l-10.6 10.2m3.8 -.7l-3.8 .7l.9 -3.8M584.3 264.9l-10.2 11.6m3.8 -1.1l-3.8 1.1l.6 -3.9M592.3 264.9l-10.1 12.3m3.7 -1.2l-3.7 1.2l.4 -3.9M600.4 264.9l-10.4 12.5m3.7 -1.1l-3.7 1.1l.5 -3.9M608.5 264.9l-10.9 12.4m3.8 -1.1l-3.8 1.1l.6 -3.9M616.5 264.9l-11.3 12.3m3.8 -1l-3.8 1l.6 -3.8M624.6 264.9l-11.7 12.3m3.8 -.9l-3.8 .9l.7 -3.8M632.6 264.9l-11.9 12.2m3.8 -.8l-3.8 .8l.8 -3.8M640.7 264.9l-12.1 11.9m3.8 -.8l-3.8 .8l.8 -3.8M648.8 264.9l-12.2 11.6m3.8 -.7l-3.8 .7l.9 -3.8M656.8 264.9l-12.2 11.4m3.8 -.7l-3.8 .7l.9 -3.8M664.9 264.9l-12.1 11.1m3.8 -.7l-3.8 .7l1 -3.8M672.9 264.9l-12 10.5m3.9 -.6l-3.9 .6l1.1 -3.8M681 264.9l-11.9 9.6m3.9 -.4l-3.9 .4l1.2 -3.7M689.1 264.9l-11.7 9.2m3.9 -.4l-3.9 .4l1.3 -3.7M697.1 264.9l-11.4 9.1m3.9 -.4l-3.9 .4l1.2 -3.7M705.2 264.9l-11.1 8.4m3.9 -.3l-3.9 .3l1.3 -3.7M713.2 264.9l-10.9 7.2m3.9 0l-3.9 0l1.6 -3.6M721.3 264.9l-10.6 6.3m3.7 .1l-3.7 -.1l1.6 -3.3M302.2 257.8l2.9 -14.1m-2.7 2.8l2.7 -2.8l1.4 3.6M310.2 257.8l6 -12.6m-3.3 2l3.3 -2l.5 3.9M318.3 257.8l8.9 -6m-3.2 .1l3.2 -.1l-1.3 3M326.4 257.8l8.3 -1.6m-2.5 -1l2.5 1l-2 1.9M334.4 257.8l7.8 1.3m-2 -1.8l2 1.8l-2.5 1.1M342.5 257.8l7.7 4.1m-1.3 -2.4l1.3 2.4l-2.7 .2M350.5 257.8l7.6 5.6m-1 -2.6l1 2.6l-2.8 -.2M358.6 257.8l7.2 7.4m-.6 -3l.6 3l-3 -.7M366.7 257.8l4.6 11.2m.7 -3.6l-.7 3.6l-3 -2.1M374.7 257.8l2.9 13m1.4 -3.7l-1.4 3.7l-2.8 -2.7M382.8 257.8l1.7 15.1m1.7 -3.5l-1.7 3.5l-2.5 -3M390.8 257.8l-.1 17.6m2.1 -3.3l-2.1 3.3l-2.1 -3.3M398.9 257.8l-.9 18.9m2.3 -3.2l-2.3 3.2l-2 -3.4M407 257.8l-1.1 18.1m2.3 -3.1l-2.3 3.1l-1.9 -3.4M415 257.8l-1.4 15.7m2.4 -3.1l-2.4 3.1l-1.8 -3.4M423.1 257.8l-1.7 13.4m2.5 -3l-2.5 3l-1.7 -3.5M431.1 257.8l-1.8 11.9m2.4 -2.7l-2.4 2.7l-1.5 -3.3M439.2 257.8l-1.8 11.2m2.3 -2.5l-2.3 2.5l-1.4 -3.1M447.3 257.8l-1.8 10.6m2.2 -2.4l-2.2 2.4l-1.3 -2.9M455.3 257.8l-1.7 10m2.1 -2.2l-2.1 2.2l-1.2 -2.8M463.4 257.8l-1.8 9.3m2 -2.1l-2 2.1l-1.1 -2.6M471.4 257.8l-1.9 8.8m1.9 -1.9l-1.9 1.9l-1 -2.5M479.5 257.8l-2.1 8.3m2 -1.8l-2 1.8l-.9 -2.6M487.6 257.8l-2.5 7.9m2.1 -1.7l-2.1 1.7l-.7 -2.6M495.6 257.8l-3.1 7.7m2.2 -1.6l-2.2 1.6l-.5 -2.6M503.7 257.8l-3.9 7.6m2.3 -1.4l-2.3 1.4l-.3 -2.7M511.7 257.8l-4.9 7.4m2.5 -1.1l-2.5 1.1l0 -2.7M519.8 257.8l-6 7.1m2.7 -.8l-2.7 .8l.3 -2.7M527.9 257.8l-6.9 7.1m2.9 -.7l-2.9 .7l.6 -2.9M535.9 257.8l-7.7 7.5m3.2 -.6l-3.2 .6l.7 -3.1M544 257.8l-8.6 8.1m3.5 -.6l-3.5 .6l.8 -3.4M552 257.8l-9.4 8.7m3.8 -.7l-3.8 .7l.9 -3.7M560.1 257.8l-10.1 9.5m3.8 -.7l-3.8 .7l.9 -3.8M568.2 257.8l-10.3 10.7m3.8 -.9l-3.8 .9l.7 -3.8M576.2 257.8l-10.1 11.9m3.7 -1.1l-3.7 1.1l.5 -3.9M584.3 257.8l-9.8 12.8m3.7 -1.3l-3.7 1.3l.3 -3.9M592.3 257.8l-9.8 13.2m3.7 -1.3l-3.7 1.3l.3 -3.9M600.4 257.8l-10.1 13.2m3.7 -1.3l-3.7 1.3l.3 -3.9M608.5 257.8l-10.5 13.2m3.7 -1.2l-3.7 1.2l.4 -3.9M616.5 257.8l-10.9 13.2m3.7 -1.2l-3.7 1.2l.5 -3.9M624.6 257.8l-11.3 13.1m3.7 -1.1l-3.7 1.1l.5 -3.9M632.6 257.8l-11.7 12.9m3.8 -1l-3.8 1l.6 -3.8M640.7 257.8l-12.1 12.4m3.8 -.9l-3.8 .9l.8 -3.8M648.8 257.8l-12.4 11.9m3.8 -.7l-3.8 .7l.9 -3.8M656.8 257.8l-12.4 11.5m3.8 -.7l-3.8 .7l1 -3.8M664.9 257.8l-12.4 11.2m3.9 -.6l-3.9 .6l1 -3.8M672.9 257.8l-12.3 10.5m3.9 -.5l-3.9 .5l1.1 -3.7M681 257.8l-12.3 9.3m3.9 -.3l-3.9 .3l1.3 -3.7M689.1 257.8l-12.2 8.2m3.9 -.1l-3.9 .1l1.5 -3.6M697.1 257.8l-11.9 7.5m3.9 .1l-3.9 -.1l1.6 -3.5M705.2 257.8l-11.6 6.6m3.9 .2l-3.9 -.2l1.8 -3.5M713.2 257.8l-11.2 5.5m3.7 .5l-3.7 -.5l1.9 -3.2M721.3 257.8l-10.8 4.7m3.5 .6l-3.5 -.6l2 -2.9M310.2 250.8l8.6 -8.6m-3.6 .8l3.6 -.8l-.8 3.6M318.3 250.8l9 -5.9m-3.2 0l3.2 0l-1.3 3M326.4 250.8l8.5 -3.4m-2.7 -.5l2.7 .5l-1.6 2.3M334.4 250.8l7.9 -.4m-2.3 -1.4l2.3 1.4l-2.2 1.6M342.5 250.8l7.8 1.6m-1.9 -1.9l1.9 1.9l-2.5 1M350.5 250.8l7.9 3.4m-1.5 -2.2l1.5 2.2l-2.7 .5M358.6 250.8l7.8 5.7m-1 -2.7l1 2.7l-2.9 -.2M366.7 250.8l5.8 10m.2 -3.5l-.2 3.5l-3.1 -1.6M374.7 250.8l3.7 12.3m1.1 -3.7l-1.1 3.7l-3 -2.5M382.8 250.8l2.3 14.3m1.6 -3.6l-1.6 3.6l-2.6 -2.9M390.8 250.8l.6 16.5m2 -3.3l-2 3.3l-2.2 -3.2M398.9 250.8l-.2 17.8m2.2 -3.2l-2.2 3.2l-2.1 -3.3M407 250.8l-.5 17.3m2.2 -3.2l-2.2 3.2l-2 -3.3M415 250.8l-.9 15.3m2.3 -3.1l-2.3 3.1l-1.9 -3.4M423.1 250.8l-1.4 13.2m2.5 -3l-2.5 3l-1.8 -3.5M431.1 250.8l-1.6 11.9m2.3 -2.7l-2.3 2.7l-1.5 -3.2M439.2 250.8l-1.6 11.1m2.2 -2.5l-2.2 2.5l-1.4 -3M447.3 250.8l-1.6 10.4m2.1 -2.4l-2.1 2.4l-1.3 -2.9M455.3 250.8l-1.6 9.7m2 -2.2l-2 2.2l-1.2 -2.7M463.4 250.8l-1.7 9m1.9 -2l-1.9 2l-1.1 -2.5M471.4 250.8l-1.7 8.4m1.9 -1.9l-1.9 1.9l-1 -2.5M479.5 250.8l-2 7.9m2 -1.8l-2 1.8l-.9 -2.6M487.6 250.8l-2.3 7.5m2.1 -1.7l-2.1 1.7l-.7 -2.6M495.6 250.8l-2.8 7.4m2.2 -1.6l-2.2 1.6l-.6 -2.6M503.7 250.8l-3.3 7.6m2.3 -1.5l-2.3 1.5l-.4 -2.7M511.7 250.8l-4.2 7.7m2.4 -1.3l-2.4 1.3l-.2 -2.7M519.8 250.8l-5.3 7.7m2.6 -1.1l-2.6 1.1l.1 -2.8M527.9 250.8l-6.4 7.7m2.9 -.9l-2.9 .9l.4 -3M535.9 250.8l-7.4 8.1m3.2 -.8l-3.2 .8l.5 -3.2M544 250.8l-8.3 8.8m3.5 -.9l-3.5 .9l.7 -3.6M552 250.8l-9.1 9.8m3.8 -.9l-3.8 .9l.7 -3.8M560.1 250.8l-9.7 11m3.8 -1.1l-3.8 1.1l.6 -3.9M568.2 250.8l-9.9 12.3m3.7 -1.2l-3.7 1.2l.4 -3.9M576.2 250.8l-9.8 13.3m3.7 -1.4l-3.7 1.4l.2 -3.9M584.3 250.8l-9.7 13.7m3.6 -1.4l-3.6 1.4l.2 -3.9M592.3 250.8l-9.8 13.8m3.6 -1.4l-3.6 1.4l.2 -3.9M600.4 250.8l-10.1 13.8m3.6 -1.4l-3.6 1.4l.2 -3.9M608.5 250.8l-10.5 13.7m3.7 -1.3l-3.7 1.3l.3 -3.9M616.5 250.8l-10.9 13.8m3.7 -1.3l-3.7 1.3l.4 -3.9M624.6 250.8l-11.3 13.7m3.7 -1.2l-3.7 1.2l.4 -3.9M632.6 250.8l-11.7 13.5m3.7 -1.1l-3.7 1.1l.5 -3.9M640.7 250.8l-12.2 12.9m3.8 -.9l-3.8 .9l.7 -3.8M648.8 250.8l-12.5 12.2m3.8 -.8l-3.8 .8l.9 -3.8M656.8 250.8l-12.6 11.8m3.8 -.7l-3.8 .7l.9 -3.8M664.9 250.8l-12.6 11.5m3.8 -.6l-3.8 .6l1 -3.8M672.9 250.8l-12.5 10.8m3.9 -.5l-3.9 .5l1.1 -3.7M681 250.8l-12.6 9.4m3.9 -.3l-3.9 .3l1.3 -3.7M689.1 250.8l-12.4 8m3.9 0l-3.9 0l1.6 -3.6M697.1 250.8l-12.1 7.2m3.9 .2l-3.9 -.2l1.7 -3.5M705.2 250.8l-11.8 6.2m3.9 .3l-3.9 -.3l1.9 -3.4M713.2 250.8l-11.4 5.2m3.7 .5l-3.7 -.5l2 -3.2M721.3 250.8l-10.9 4.5m3.5 .6l-3.5 -.6l2 -2.9M318.3 243.7l8.9 -5.4m-3.1 -.1l3.1 .1l-1.3 2.8M326.4 243.7l8.5 -3.2m-2.7 -.6l2.7 .6l-1.6 2.2M334.4 243.7l8 -1m-2.4 -1.2l2.4 1.2l-2.1 1.7M342.5 243.7l7.8 -.1m-2.3 -1.5l2.3 1.5l-2.3 1.5M350.5 243.7l7.8 .9m-2.1 -1.7l2.1 1.7l-2.4 1.2M358.6 243.7l7.9 2.3m-1.8 -2l1.8 2l-2.6 .8M366.7 243.7l7.9 5.3m-1.1 -2.6l1.1 2.6l-2.9 0M374.7 243.7l6.3 9.9m0 -3.5l0 3.5l-3.2 -1.5M382.8 243.7l3.9 13.1m1.1 -3.7l-1.1 3.7l-3 -2.5M390.8 243.7l1.5 15.4m1.8 -3.5l-1.8 3.5l-2.4 -3.1M398.9 243.7l.3 16.6m2.1 -3.3l-2.1 3.3l-2.2 -3.2M407 243.7l-.1 16.4m2.1 -3.3l-2.1 3.3l-2.1 -3.3M415 243.7l-.6 14.8m2.3 -3.2l-2.3 3.2l-2 -3.4M423.1 243.7l-1.1 13.1m2.4 -3.1l-2.4 3.1l-1.8 -3.4M431.1 243.7l-1.4 11.8m2.3 -2.8l-2.3 2.8l-1.6 -3.2M439.2 243.7l-1.4 11m2.2 -2.5l-2.2 2.5l-1.4 -3M447.3 243.7l-1.4 10.3m2 -2.4l-2 2.4l-1.3 -2.8M455.3 243.7l-1.5 9.6m1.9 -2.2l-1.9 2.2l-1.2 -2.7M463.4 243.7l-1.5 8.8m1.8 -2l-1.8 2l-1.1 -2.5M471.4 243.7l-1.7 8.2m1.9 -1.9l-1.9 1.9l-1 -2.5M479.5 243.7l-1.9 7.6m2 -1.8l-2 1.8l-.9 -2.6M487.6 243.7l-2.2 7.3m2.1 -1.7l-2.1 1.7l-.7 -2.6M495.6 243.7l-2.6 7.2m2.2 -1.6l-2.2 1.6l-.6 -2.6M503.7 243.7l-3.1 7.4m2.2 -1.5l-2.2 1.5l-.5 -2.7M511.7 243.7l-3.8 7.8m2.3 -1.4l-2.3 1.4l-.3 -2.7M519.8 243.7l-4.8 8m2.5 -1.2l-2.5 1.2l-.1 -2.8M527.9 243.7l-5.9 8.2m2.8 -1.1l-2.8 1.1l.2 -3M535.9 243.7l-7 8.7m3.2 -1.1l-3.2 1.1l.3 -3.3M544 243.7l-7.9 9.6m3.6 -1.1l-3.6 1.1l.4 -3.7M552 243.7l-8.8 10.8m3.7 -1.2l-3.7 1.2l.4 -3.9M560.1 243.7l-9.3 12.2m3.7 -1.3l-3.7 1.3l.3 -3.9M568.2 243.7l-9.6 13.5m3.6 -1.4l-3.6 1.4l.2 -3.9M576.2 243.7l-9.7 14.2m3.6 -1.5l-3.6 1.5l.1 -3.9M584.3 243.7l-9.7 14.5m3.6 -1.5l-3.6 1.5l0 -3.9M592.3 243.7l-9.8 14.5m3.6 -1.5l-3.6 1.5l.1 -3.9M600.4 243.7l-10 14.4m3.6 -1.5l-3.6 1.5l.1 -3.9M608.5 243.7l-10.4 14.3m3.6 -1.4l-3.6 1.4l.2 -3.9M616.5 243.7l-10.8 14.3m3.7 -1.3l-3.7 1.3l.3 -3.9M624.6 243.7l-11.2 14.3m3.7 -1.3l-3.7 1.3l.3 -3.9M632.6 243.7l-11.6 14.1m3.7 -1.2l-3.7 1.2l.4 -3.9M640.7 243.7l-12.2 13.5m3.8 -1l-3.8 1l.6 -3.9M648.8 243.7l-12.5 12.8m3.8 -.8l-3.8 .8l.8 -3.8M656.8 243.7l-12.7 12.4m3.8 -.8l-3.8 .8l.9 -3.8M664.9 243.7l-12.6 12m3.8 -.7l-3.8 .7l.9 -3.8M672.9 243.7l-12.6 11.3m3.9 -.6l-3.9 .6l1 -3.8M681 243.7l-12.7 9.8m3.9 -.3l-3.9 .3l1.3 -3.7M689.1 243.7l-12.6 8.3m3.9 0l-3.9 0l1.6 -3.6M697.1 243.7l-12.2 7.3m3.9 .1l-3.9 -.1l1.7 -3.5M705.2 243.7l-11.9 6.4m3.9 .3l-3.9 -.3l1.9 -3.4M713.2 243.7l-11.5 5.4m3.8 .5l-3.8 -.5l2 -3.2M721.3 243.7l-11 4.7m3.5 .6l-3.5 -.6l2 -3M350.5 236.6l7.8 .4m-2.2 -1.6l2.2 1.6l-2.3 1.4M358.6 236.6l7.8 1.2m-2 -1.8l2 1.8l-2.5 1.1M366.7 236.6l7.9 2.2m-1.8 -2l1.8 2l-2.6 .8M374.7 236.6l8.1 4.8m-1.3 -2.5l1.3 2.5l-2.8 .1M382.8 236.6l7.6 8.7m-.5 -3.4l.5 3.4l-3.3 -.9M390.8 236.6l4.8 13.3m.9 -3.8l-.9 3.8l-3.1 -2.4M398.9 236.6l1.3 15.5m1.8 -3.4l-1.8 3.4l-2.4 -3.1M407 236.6l.5 15.5m2 -3.3l-2 3.3l-2.2 -3.2M415 236.6l0 14.3m2.1 -3.3l-2.1 3.3l-2.1 -3.3M423.1 236.6l-.7 12.9m2.3 -3.1l-2.3 3.1l-1.9 -3.4M431.1 236.6l-1.1 11.8m2.2 -2.8l-2.2 2.8l-1.6 -3.1M439.2 236.6l-1.2 11m2.1 -2.6l-2.1 2.6l-1.5 -3M447.3 236.6l-1.2 10.3m2 -2.4l-2 2.4l-1.4 -2.8M455.3 236.6l-1.3 9.6m1.9 -2.2l-1.9 2.2l-1.2 -2.6M463.4 236.6l-1.4 8.8m1.8 -2l-1.8 2l-1.1 -2.5M471.4 236.6l-1.5 8.1m1.9 -2l-1.9 2l-1 -2.5M479.5 236.6l-1.8 7.6m2 -1.9l-2 1.9l-.9 -2.5M487.6 236.6l-2.1 7.2m2.1 -1.8l-2.1 1.8l-.8 -2.6M495.6 236.6l-2.5 7.2m2.1 -1.6l-2.1 1.6l-.6 -2.6M503.7 236.6l-3 7.4m2.2 -1.6l-2.2 1.6l-.5 -2.6M511.7 236.6l-3.7 7.8m2.3 -1.4l-2.3 1.4l-.4 -2.7M519.8 236.6l-4.6 8.2m2.5 -1.3l-2.5 1.3l-.2 -2.8M527.9 236.6l-5.6 8.7m2.8 -1.3l-2.8 1.3l0 -3.1M535.9 236.6l-6.5 9.4m3.2 -1.3l-3.2 1.3l.1 -3.4M544 236.6l-7.4 10.4m3.6 -1.4l-3.6 1.4l.2 -3.8M552 236.6l-8.3 11.7m3.6 -1.4l-3.6 1.4l.2 -3.9M560.1 236.6l-9 13.1m3.6 -1.5l-3.6 1.5l.1 -3.9M568.2 236.6l-9.4 14.3m3.6 -1.6l-3.6 1.6l0 -3.9M576.2 236.6l-9.6 15.1m3.5 -1.6l-3.5 1.6l-.1 -3.9M584.3 236.6l-9.5 15.5m3.5 -1.7l-3.5 1.7l-.1 -3.9M592.3 236.6l-9.5 15.4m3.5 -1.7l-3.5 1.7l-.1 -3.9M600.4 236.6l-9.7 15.2m3.5 -1.6l-3.5 1.6l0 -3.9M608.5 236.6l-10.1 15.1m3.6 -1.5l-3.6 1.5l0 -3.9M616.5 236.6l-10.4 15.1m3.6 -1.5l-3.6 1.5l.1 -3.9M624.6 236.6l-10.8 15.2m3.6 -1.4l-3.6 1.4l.2 -3.9M632.6 236.6l-11.2 15.1m3.7 -1.4l-3.7 1.4l.2 -3.9M640.7 236.6l-11.8 14.5m3.7 -1.2l-3.7 1.2l.4 -3.9M648.8 236.6l-12.2 13.8m3.8 -1l-3.8 1l.6 -3.9M656.8 236.6l-12.4 13.3m3.8 -1l-3.8 1l.7 -3.8M664.9 236.6l-12.4 13m3.8 -.9l-3.8 .9l.7 -3.8M672.9 236.6l-12.4 12.2m3.8 -.8l-3.8 .8l.8 -3.8M681 236.6l-12.6 10.6m3.9 -.5l-3.9 .5l1.1 -3.7M689.1 236.6l-12.5 8.9m3.9 -.2l-3.9 .2l1.4 -3.6M697.1 236.6l-12.3 7.9m3.9 0l-3.9 0l1.6 -3.6M705.2 236.6l-11.9 7m3.9 .2l-3.9 -.2l1.8 -3.5M713.2 236.6l-11.5 5.9m3.9 .4l-3.9 -.4l1.9 -3.4M721.3 236.6l-11.1 5.1m3.6 .5l-3.6 -.5l2 -3.1M350.5 229.5l7.8 .5m-2.2 -1.6l2.2 1.6l-2.4 1.3M358.6 229.5l7.8 1m-2.1 -1.7l2.1 1.7l-2.4 1.2M366.7 229.5l7.8 1.2m-2 -1.8l2 1.8l-2.5 1.1M374.7 229.5l8.1 2.7m-1.7 -2.1l1.7 2.1l-2.6 .7M382.8 229.5l8.3 5.4m-1.2 -2.7l1.2 2.7l-3 0M390.8 229.5l7.8 9m-.5 -3.5l.5 3.5l-3.4 -1M398.9 229.5l4.1 13.7m1.1 -3.7l-1.1 3.7l-3 -2.5M407 229.5l2.8 14.2m1.4 -3.6l-1.4 3.6l-2.7 -2.8M415 229.5l2 13.6m1.6 -3.5l-1.6 3.5l-2.6 -2.9M423.1 229.5l.3 12.7m2 -3.2l-2 3.2l-2.1 -3.2M431.1 229.5l-.8 11.8m2.1 -2.8l-2.1 2.8l-1.7 -3.1M439.2 229.5l-1 11.1m2.1 -2.6l-2.1 2.6l-1.6 -3M447.3 229.5l-1 10.4m2 -2.5l-2 2.5l-1.4 -2.8M455.3 229.5l-1 9.7m1.9 -2.3l-1.9 2.3l-1.3 -2.6M463.4 229.5l-1.1 9m1.8 -2.1l-1.8 2.1l-1.2 -2.4M471.4 229.5l-1.3 8.3m1.8 -2l-1.8 2l-1.1 -2.5M479.5 229.5l-1.6 7.8m1.9 -1.9l-1.9 1.9l-1 -2.5M487.6 229.5l-2 7.4m2 -1.8l-2 1.8l-.8 -2.6M495.6 229.5l-2.4 7.4m2.1 -1.7l-2.1 1.7l-.7 -2.6M503.7 229.5l-2.9 7.6m2.2 -1.6l-2.2 1.6l-.6 -2.6M511.7 229.5l-3.6 8m2.3 -1.5l-2.3 1.5l-.4 -2.7M519.8 229.5l-4.5 8.4m2.5 -1.4l-2.5 1.4l-.2 -2.9M527.9 229.5l-5.3 9m2.8 -1.4l-2.8 1.4l-.1 -3.1M535.9 229.5l-6.2 9.9m3.2 -1.5l-3.2 1.5l-.1 -3.5M544 229.5l-7 11m3.5 -1.6l-3.5 1.6l0 -3.9M552 229.5l-7.8 12.4m3.5 -1.6l-3.5 1.6l0 -3.9M560.1 229.5l-8.6 13.9m3.5 -1.7l-3.5 1.7l-.1 -3.9M568.2 229.5l-9 15.2m3.5 -1.7l-3.5 1.7l-.1 -3.9M576.2 229.5l-9.2 16.1m3.5 -1.8l-3.5 1.8l-.2 -3.9M584.3 229.5l-9 16.5m3.4 -1.8l-3.4 1.8l-.3 -3.9M592.3 229.5l-8.9 16.5m3.4 -1.9l-3.4 1.9l-.3 -3.9M600.4 229.5l-8.9 16.3m3.4 -1.8l-3.4 1.8l-.3 -3.9M608.5 229.5l-9.2 16.3m3.5 -1.8l-3.5 1.8l-.2 -3.9M616.5 229.5l-9.4 16.4m3.5 -1.8l-3.5 1.8l-.2 -3.9M624.6 229.5l-9.7 16.5m3.5 -1.7l-3.5 1.7l-.2 -3.9M632.6 229.5l-10.2 16.4m3.5 -1.7l-3.5 1.7l-.1 -3.9M640.7 229.5l-10.9 15.9m3.6 -1.5l-3.6 1.5l.1 -3.9M648.8 229.5l-11.4 15.2m3.7 -1.3l-3.7 1.3l.3 -3.9M656.8 229.5l-11.6 14.8m3.7 -1.3l-3.7 1.3l.4 -3.9M664.9 229.5l-11.6 14.4m3.7 -1.2l-3.7 1.2l.4 -3.9M672.9 229.5l-11.8 13.6m3.7 -1.1l-3.7 1.1l.5 -3.9M681 229.5l-12.1 11.9m3.8 -.8l-3.8 .8l.8 -3.8M689.1 229.5l-12.3 10m3.9 -.4l-3.9 .4l1.2 -3.7M697.1 229.5l-12.1 8.8m3.9 -.2l-3.9 .2l1.4 -3.6M705.2 229.5l-11.8 7.8m3.9 0l-3.9 0l1.6 -3.6M713.2 229.5l-11.5 6.7m3.9 .2l-3.9 -.2l1.8 -3.5M721.3 229.5l-11.1 5.7m3.7 .4l-3.7 -.4l1.8 -3.3M350.5 222.5l7.8 .6m-2.1 -1.7l2.1 1.7l-2.4 1.3M358.6 222.5l7.8 .6m-2.1 -1.6l2.1 1.6l-2.4 1.3M366.7 222.5l7.8 -.8m-2.4 -1.2l2.4 1.2l-2.1 1.7M374.7 222.5l7.8 .1m-2.2 -1.5l2.2 1.5l-2.3 1.4M382.8 222.5l8.2 3.6m-1.5 -2.3l1.5 2.3l-2.7 .4M390.8 222.5l8.4 6.3m-1.1 -2.9l1.1 2.9l-3.1 -.2M398.9 222.5l6.7 10.7m.1 -3.8l-.1 3.8l-3.4 -1.6M407 222.5l5.9 11.7m.4 -3.9l-.4 3.9l-3.4 -2M415 222.5l4.8 11.9m.7 -3.8l-.7 3.8l-3.1 -2.2M423.1 222.5l2.2 12.3m1.4 -3.4l-1.4 3.4l-2.6 -2.7M431.1 222.5l-.1 11.9m2 -3l-2 3l-1.9 -3M439.2 222.5l-.8 11.2m2 -2.7l-2 2.7l-1.6 -3M447.3 222.5l-.9 10.6m2 -2.5l-2 2.5l-1.5 -2.8M455.3 222.5l-.7 10m1.8 -2.4l-1.8 2.4l-1.4 -2.6M463.4 222.5l-.6 9.4m1.7 -2.3l-1.7 2.3l-1.4 -2.5M471.4 222.5l-.7 8.8m1.7 -2.1l-1.7 2.1l-1.3 -2.4M479.5 222.5l-1.2 8.3m1.8 -2l-1.8 2l-1.1 -2.4M487.6 222.5l-1.8 8m1.9 -1.9l-1.9 1.9l-.9 -2.5M495.6 222.5l-2.3 7.9m2 -1.8l-2 1.8l-.8 -2.6M503.7 222.5l-2.8 8.1m2.1 -1.7l-2.1 1.7l-.7 -2.6M511.7 222.5l-3.5 8.4m2.3 -1.5l-2.3 1.5l-.5 -2.7M519.8 222.5l-4.4 8.8m2.6 -1.5l-2.6 1.5l-.3 -2.9M527.9 222.5l-5.3 9.3m2.8 -1.5l-2.8 1.5l-.2 -3.2M535.9 222.5l-6 10.2m3.2 -1.6l-3.2 1.6l-.2 -3.5M544 222.5l-6.7 11.4m3.5 -1.7l-3.5 1.7l-.2 -3.9M552 222.5l-7.4 12.9m3.5 -1.8l-3.5 1.8l-.2 -3.9M560.1 222.5l-8 14.5m3.4 -1.8l-3.4 1.8l-.3 -3.9M568.2 222.5l-8.5 15.9m3.4 -1.9l-3.4 1.9l-.3 -3.9M576.2 222.5l-8.6 16.9m3.4 -2l-3.4 2l-.4 -3.9M584.3 222.5l-8.4 17.3m3.3 -2l-3.3 2l-.5 -3.9M592.3 222.5l-8.2 17.4m3.3 -2.1l-3.3 2.1l-.5 -3.9M600.4 222.5l-8 17.2m3.3 -2.1l-3.3 2.1l-.5 -3.9M608.5 222.5l-8.1 17.2m3.3 -2.1l-3.3 2.1l-.5 -3.9M616.5 222.5l-8.2 17.4m3.3 -2.1l-3.3 2.1l-.5 -3.9M624.6 222.5l-8.4 17.5m3.3 -2l-3.3 2l-.5 -3.9M632.6 222.5l-8.9 17.5m3.4 -2l-3.4 2l-.4 -3.9M640.7 222.5l-9.7 17m3.5 -1.8l-3.5 1.8l-.2 -3.9M648.8 222.5l-10.3 16.3m3.5 -1.6l-3.5 1.6l-.1 -3.9M656.8 222.5l-10.6 15.9m3.6 -1.5l-3.6 1.5l0 -3.9M664.9 222.5l-10.7 15.5m3.6 -1.5l-3.6 1.5l.1 -3.9M672.9 222.5l-11 14.7m3.7 -1.3l-3.7 1.3l.3 -3.9M681 222.5l-11.6 12.8m3.8 -1l-3.8 1l.6 -3.9M689.1 222.5l-11.9 10.8m3.8 -.6l-3.8 .6l1 -3.8M697.1 222.5l-11.8 9.5m3.9 -.4l-3.9 .4l1.2 -3.7M705.2 222.5l-11.6 8.2m3.9 -.2l-3.9 .2l1.4 -3.6M713.2 222.5l-11.3 6.8m3.9 .1l-3.9 -.1l1.7 -3.5M721.3 222.5l-11 5.9m3.7 .3l-3.7 -.3l1.8 -3.3M382.8 215.4l7.9 .1m-2.2 -1.5l2.2 1.5l-2.3 1.4M390.8 215.4l6 -2.1m-2.6 -.6l2.6 .6l-1.7 2.1M398.9 215.4l6.8 4.5m-1.1 -2.5l1.1 2.5l-2.7 0M407 215.4l7 9.7m-.2 -3.6l.2 3.6l-3.3 -1.3M415 215.4l6.2 10.2m.1 -3.6l-.1 3.6l-3.2 -1.5M423.1 215.4l4.3 11.2m.7 -3.5l-.7 3.5l-2.9 -2.1M431.1 215.4l1.2 11.8m1.6 -3.2l-1.6 3.2l-2.2 -2.8M439.2 215.4l-.4 11.4m2 -2.8l-2 2.8l-1.8 -2.9M447.3 215.4l-.6 10.9m1.9 -2.6l-1.9 2.6l-1.6 -2.8M455.3 215.4l-.4 10.3m1.8 -2.5l-1.8 2.5l-1.6 -2.7M463.4 215.4l-.1 9.8m1.6 -2.4l-1.6 2.4l-1.6 -2.5M471.4 215.4l-.1 9.3m1.6 -2.3l-1.6 2.3l-1.5 -2.4M479.5 215.4l-.7 8.9m1.6 -2.1l-1.6 2.1l-1.3 -2.4M487.6 215.4l-1.5 8.6m1.8 -2l-1.8 2l-1.1 -2.5M495.6 215.4l-2.2 8.5m2 -1.8l-2 1.8l-.9 -2.6M503.7 215.4l-2.7 8.7m2.1 -1.8l-2.1 1.8l-.7 -2.6M511.7 215.4l-3.4 9m2.3 -1.7l-2.3 1.7l-.6 -2.8M519.8 215.4l-4.4 9.2m2.6 -1.6l-2.6 1.6l-.4 -3M527.9 215.4l-5.2 9.7m2.9 -1.6l-2.9 1.6l-.3 -3.3M535.9 215.4l-5.9 10.4m3.2 -1.7l-3.2 1.7l-.2 -3.6M544 215.4l-6.5 11.6m3.4 -1.8l-3.4 1.8l-.3 -3.9M552 215.4l-7 13.2m3.4 -1.9l-3.4 1.9l-.4 -3.9M560.1 215.4l-7.5 14.9m3.4 -2l-3.4 2l-.4 -3.9M568.2 215.4l-7.9 16.4m3.3 -2l-3.3 2l-.5 -3.9M576.2 215.4l-8 17.4m3.3 -2.1l-3.3 2.1l-.6 -3.9M584.3 215.4l-7.9 17.9m3.3 -2.1l-3.3 2.1l-.6 -3.9M592.3 215.4l-7.6 17.8m3.2 -2.2l-3.2 2.2l-.7 -3.8M600.4 215.4l-7.4 17.7m3.2 -2.2l-3.2 2.2l-.7 -3.8M608.5 215.4l-7.2 17.6m3.2 -2.2l-3.2 2.2l-.7 -3.8M616.5 215.4l-7.2 17.7m3.2 -2.2l-3.2 2.2l-.7 -3.8M624.6 215.4l-7.4 17.9m3.2 -2.2l-3.2 2.2l-.7 -3.8M632.6 215.4l-7.9 17.8m3.3 -2.1l-3.3 2.1l-.6 -3.9M640.7 215.4l-8.8 17.3m3.4 -2l-3.4 2l-.4 -3.9M648.8 215.4l-9.5 16.8m3.5 -1.8l-3.5 1.8l-.2 -3.9M656.8 215.4l-9.8 16.4m3.5 -1.7l-3.5 1.7l-.1 -3.9M664.9 215.4l-9.9 15.9m3.5 -1.7l-3.5 1.7l-.1 -3.9M672.9 215.4l-10.3 15m3.6 -1.5l-3.6 1.5l.1 -3.9M681 215.4l-11.1 13.1m3.7 -1.1l-3.7 1.1l.5 -3.9M689.1 215.4l-11.6 11m3.8 -.7l-3.8 .7l.9 -3.8M697.1 215.4l-11.6 9.6m3.9 -.5l-3.9 .5l1.1 -3.7M705.2 215.4l-11.4 8.3m3.9 -.2l-3.9 .2l1.4 -3.6M713.2 215.4l-11.2 6.9m3.9 .1l-3.9 -.1l1.7 -3.5M721.3 215.4l-10.8 5.9m3.7 .3l-3.7 -.3l1.8 -3.2M390.8 208.3l2.3 -12.4m-2.6 2.8l2.6 -2.8l1.5 3.5M398.9 208.3l5.3 -3.8m-2.7 .1l2.7 -.1l-1 2.5M407 208.3l7.5 8.2m-.5 -3.3l.5 3.3l-3.2 -.8M415 208.3l6.9 8.7m-.3 -3.3l.3 3.3l-3.2 -1.1M423.1 208.3l6.3 9.1m-.1 -3.3l.1 3.3l-3.1 -1.3M431.1 208.3l4.1 10.7m.7 -3.4l-.7 3.4l-2.8 -2M439.2 208.3l1.1 11.5m1.6 -3.1l-1.6 3.1l-2.1 -2.7M447.3 208.3l0 11.1m1.8 -2.8l-1.8 2.8l-1.8 -2.8M455.3 208.3l.1 10.7m1.7 -2.7l-1.7 2.7l-1.8 -2.7M463.4 208.3l.3 10.2m1.6 -2.6l-1.6 2.6l-1.8 -2.5M471.4 208.3l.2 9.8m1.6 -2.5l-1.6 2.5l-1.7 -2.4M479.5 208.3l-.4 9.5m1.7 -2.3l-1.7 2.3l-1.5 -2.5M487.6 208.3l-1.4 9.3m1.9 -2.1l-1.9 2.1l-1.2 -2.6M495.6 208.3l-2.1 9.2m2 -2l-2 2l-1 -2.7M503.7 208.3l-2.7 9.3m2.2 -1.9l-2.2 1.9l-.9 -2.8M511.7 208.3l-3.3 9.6m2.4 -1.9l-2.4 1.9l-.7 -3M519.8 208.3l-4.3 9.8m2.7 -1.8l-2.7 1.8l-.5 -3.2M527.9 208.3l-5.2 10m2.9 -1.7l-2.9 1.7l-.3 -3.4M535.9 208.3l-5.9 10.7m3.2 -1.7l-3.2 1.7l-.3 -3.6M544 208.3l-6.3 11.8m3.4 -1.9l-3.4 1.9l-.3 -3.9M552 208.3l-6.7 13.3m3.4 -2l-3.4 2l-.4 -3.9M560.1 208.3l-7.1 14.9m3.3 -2l-3.3 2l-.5 -3.9M568.2 208.3l-7.5 16.5m3.3 -2.1l-3.3 2.1l-.6 -3.9M576.2 208.3l-7.7 17.6m3.3 -2.1l-3.3 2.1l-.6 -3.8M584.3 208.3l-7.6 18m3.2 -2.2l-3.2 2.2l-.7 -3.8M592.3 208.3l-7.3 18m3.2 -2.2l-3.2 2.2l-.7 -3.8M600.4 208.3l-7 17.8m3.2 -2.3l-3.2 2.3l-.8 -3.8M608.5 208.3l-6.7 17.6m3.1 -2.3l-3.1 2.3l-.8 -3.8M616.5 208.3l-6.6 17.7m3.1 -2.3l-3.1 2.3l-.8 -3.8M624.6 208.3l-6.8 17.8m3.2 -2.3l-3.2 2.3l-.8 -3.8M632.6 208.3l-7.3 17.7m3.2 -2.2l-3.2 2.2l-.7 -3.8M640.7 208.3l-8.1 17.2m3.3 -2.1l-3.3 2.1l-.5 -3.9M648.8 208.3l-8.8 16.7m3.4 -1.9l-3.4 1.9l-.4 -3.9M656.8 208.3l-9.1 16.3m3.4 -1.8l-3.4 1.8l-.3 -3.9M664.9 208.3l-9.3 15.9m3.5 -1.8l-3.5 1.8l-.2 -3.9M672.9 208.3l-9.7 15m3.6 -1.6l-3.6 1.6l0 -3.9M681 208.3l-10.6 13.1m3.7 -1.2l-3.7 1.2l.4 -3.9M689.1 208.3l-11.2 11m3.8 -.8l-3.8 .8l.8 -3.8M697.1 208.3l-11.2 9.7m3.9 -.5l-3.9 .5l1.1 -3.7M705.2 208.3l-11.1 8.5m3.9 -.3l-3.9 .3l1.3 -3.7M713.2 208.3l-10.9 7.1m3.9 0l-3.9 0l1.6 -3.6M721.3 208.3l-10.6 6.1m3.7 .2l-3.7 -.2l1.7 -3.3M390.8 201.3l1.2 -12.5m-2.3 3l2.3 -3l1.7 3.3M398.9 201.3l4.6 -7.8m-2.4 1.2l2.4 -1.2l.1 2.7M407 201.3l8 5.9m-1 -2.8l1 2.8l-3 -.2M415 201.3l7.8 6.4m-.9 -2.9l.9 2.9l-3 -.3M423.1 201.3l7.7 5.7m-1 -2.7l1 2.7l-2.9 -.2M431.1 201.3l7.3 6.7m-.7 -2.9l.7 2.9l-2.9 -.5M439.2 201.3l5 9.8m.4 -3.3l-.4 3.3l-2.8 -1.7M447.3 201.3l2.1 11.1m1.3 -3.1l-1.3 3.1l-2.3 -2.4M455.3 201.3l1 11m1.5 -2.9l-1.5 2.9l-2 -2.6M463.4 201.3l.6 10.7m1.6 -2.8l-1.6 2.8l-1.9 -2.6M471.4 201.3l.2 10.4m1.6 -2.6l-1.6 2.6l-1.8 -2.6M479.5 201.3l-.5 10.1m1.8 -2.5l-1.8 2.5l-1.5 -2.6M487.6 201.3l-1.4 9.9m2 -2.3l-2 2.3l-1.3 -2.7M495.6 201.3l-2.2 9.8m2.2 -2.1l-2.2 2.1l-1.1 -2.8M503.7 201.3l-2.7 10m2.3 -2.1l-2.3 2.1l-.9 -2.9M511.7 201.3l-3.3 10.2m2.5 -2l-2.5 2l-.8 -3.1M519.8 201.3l-4.2 10.3m2.7 -1.9l-2.7 1.9l-.6 -3.3M527.9 201.3l-5.2 10.4m3 -1.8l-3 1.8l-.4 -3.5M535.9 201.3l-5.8 10.9m3.2 -1.8l-3.2 1.8l-.3 -3.7M544 201.3l-6.1 11.9m3.4 -1.9l-3.4 1.9l-.4 -3.9M552 201.3l-6.4 13.3m3.3 -2l-3.3 2l-.5 -3.9M560.1 201.3l-6.8 14.8m3.3 -2.1l-3.3 2.1l-.6 -3.9M568.2 201.3l-7.2 16.3m3.3 -2.1l-3.3 2.1l-.6 -3.9M576.2 201.3l-7.4 17.4m3.2 -2.2l-3.2 2.2l-.7 -3.8M584.3 201.3l-7.3 18m3.2 -2.2l-3.2 2.2l-.7 -3.8M592.3 201.3l-7 17.9m3.2 -2.3l-3.2 2.3l-.8 -3.8M600.4 201.3l-6.6 17.7m3.1 -2.3l-3.1 2.3l-.9 -3.8M608.5 201.3l-6.1 17.5m3.1 -2.4l-3.1 2.4l-.9 -3.8M616.5 201.3l-6 17.5m3.1 -2.4l-3.1 2.4l-1 -3.8M624.6 201.3l-6.1 17.5m3.1 -2.4l-3.1 2.4l-.9 -3.8M632.6 201.3l-6.5 17.4m3.1 -2.3l-3.1 2.3l-.8 -3.8M640.7 201.3l-7.3 17m3.2 -2.2l-3.2 2.2l-.7 -3.8M648.8 201.3l-7.9 16.6m3.3 -2l-3.3 2l-.5 -3.9M656.8 201.3l-8.2 16.3m3.4 -2l-3.4 2l-.4 -3.9M664.9 201.3l-8.4 16m3.4 -1.9l-3.4 1.9l-.4 -3.9M672.9 201.3l-8.9 15.1m3.5 -1.7l-3.5 1.7l-.2 -3.9M681 201.3l-9.9 13.3m3.7 -1.3l-3.7 1.3l.3 -3.9M689.1 201.3l-10.6 11.3m3.8 -.9l-3.8 .9l.7 -3.8M697.1 201.3l-10.7 10.2m3.8 -.7l-3.8 .7l.9 -3.8M705.2 201.3l-10.6 9.3m3.9 -.6l-3.9 .6l1.1 -3.8M713.2 201.3l-10.4 8.2m3.9 -.3l-3.9 .3l1.3 -3.7M721.3 201.3l-10.2 7.3m3.8 -.2l-3.8 .2l1.4 -3.5M398.9 194.2l6.2 -7.1m-2.7 .8l2.7 -.8l-.4 2.8M407 194.2l8 -2.3m-2.6 -.8l2.6 .8l-1.8 2M415 194.2l7.9 2.1m-1.8 -2l1.8 2l-2.6 .8M423.1 194.2l7.9 3.3m-1.5 -2.2l1.5 2.2l-2.7 .5M431.1 194.2l7.8 3.8m-1.4 -2.3l1.4 2.3l-2.7 .3M439.2 194.2l7.4 5.8m-.9 -2.7l.9 2.7l-2.8 -.2M447.3 194.2l6.2 8.2m-.2 -3.1l.2 3.1l-2.9 -1.1M455.3 194.2l3.4 10.5m.9 -3.2l-.9 3.2l-2.6 -2.1M463.4 194.2l.8 11.1m1.6 -2.9l-1.6 2.9l-2 -2.7M471.4 194.2l-.6 10.9m1.9 -2.6l-1.9 2.6l-1.6 -2.8M479.5 194.2l-1.7 10.5m2.1 -2.4l-2.1 2.4l-1.3 -2.9M487.6 194.2l-2.4 10.3m2.3 -2.2l-2.3 2.2l-1.1 -3M495.6 194.2l-2.6 10.3m2.3 -2.2l-2.3 2.2l-1 -3M503.7 194.2l-2.8 10.5m2.4 -2.2l-2.4 2.2l-1 -3.1M511.7 194.2l-3.3 10.7m2.6 -2.2l-2.6 2.2l-.9 -3.2M519.8 194.2l-4.1 10.8m2.8 -2l-2.8 2l-.7 -3.4M527.9 194.2l-5.1 10.8m3.1 -1.9l-3.1 1.9l-.5 -3.6M535.9 194.2l-5.8 11.2m3.3 -1.9l-3.3 1.9l-.4 -3.8M544 194.2l-5.9 12.1m3.3 -2l-3.3 2l-.5 -3.9M552 194.2l-6.1 13.2m3.3 -2.1l-3.3 2.1l-.6 -3.9M560.1 194.2l-6.5 14.6m3.3 -2.1l-3.3 2.1l-.6 -3.9M568.2 194.2l-6.8 16m3.2 -2.2l-3.2 2.2l-.7 -3.8M576.2 194.2l-7 17.2m3.2 -2.2l-3.2 2.2l-.7 -3.8M584.3 194.2l-7 17.7m3.2 -2.3l-3.2 2.3l-.8 -3.8M592.3 194.2l-6.6 17.8m3.1 -2.3l-3.1 2.3l-.9 -3.8M600.4 194.2l-5.9 17.7m3 -2.4l-3 2.4l-1 -3.8M608.5 194.2l-5.3 17.5m3 -2.5l-3 2.5l-1.1 -3.7M616.5 194.2l-5 17.4m2.9 -2.6l-2.9 2.6l-1.1 -3.7M624.6 194.2l-5 17.3m3 -2.5l-3 2.5l-1.1 -3.7M632.6 194.2l-5.5 17.2m3 -2.5l-3 2.5l-1 -3.8M640.7 194.2l-6.1 17m3.1 -2.4l-3.1 2.4l-.9 -3.8M648.8 194.2l-6.6 16.7m3.2 -2.3l-3.2 2.3l-.8 -3.8M656.8 194.2l-6.8 16.6m3.2 -2.2l-3.2 2.2l-.7 -3.8M664.9 194.2l-6.9 16.3m3.2 -2.2l-3.2 2.2l-.7 -3.8M672.9 194.2l-7.4 15.6m3.3 -2l-3.3 2l-.5 -3.9M681 194.2l-8.6 14.1m3.5 -1.7l-3.5 1.7l-.1 -3.9M689.1 194.2l-9.4 12.5m3.7 -1.3l-3.7 1.3l.3 -3.9M697.1 194.2l-9.5 11.7m3.7 -1.2l-3.7 1.2l.4 -3.9M705.2 194.2l-9.5 11m3.7 -1.1l-3.7 1.1l.5 -3.9M713.2 194.2l-9.4 10.2m3.8 -1l-3.8 1l.7 -3.8M721.3 194.2l-9.3 9.6m3.8 -.9l-3.8 .9l.8 -3.8M423.1 187.1l7.9 2.5m-1.7 -2.1l1.7 2.1l-2.6 .7M431.1 187.1l7.8 3m-1.6 -2.2l1.6 2.2l-2.6 .6M439.2 187.1l7.7 4.1m-1.3 -2.4l1.3 2.4l-2.7 .2M447.3 187.1l7.5 5.3m-1 -2.5l1 2.5l-2.7 -.1M455.3 187.1l6.2 8.3m-.2 -3.1l.2 3.1l-2.9 -1.1M463.4 187.1l.2 11.5m1.8 -2.9l-1.8 2.9l-1.9 -2.9M471.4 187.1l-3.8 10.2m2.6 -1.9l-2.6 1.9l-.7 -3.2M479.5 187.1l-5.5 8.6m2.8 -1.3l-2.8 1.3l0 -3.1M487.6 187.1l-5.5 8.6m2.8 -1.3l-2.8 1.3l0 -3.1M495.6 187.1l-4.3 9.9m2.7 -1.8l-2.7 1.8l-.5 -3.2M503.7 187.1l-3.3 10.7m2.6 -2.1l-2.6 2.1l-.9 -3.2M511.7 187.1l-3.4 11m2.6 -2.2l-2.6 2.2l-1 -3.3M519.8 187.1l-4 11.2m2.8 -2.1l-2.8 2.1l-.8 -3.5M527.9 187.1l-5.1 11.2m3.1 -2l-3.1 2l-.5 -3.6M535.9 187.1l-5.7 11.6m3.3 -2l-3.3 2l-.5 -3.9M544 187.1l-5.7 12.4m3.3 -2.1l-3.3 2.1l-.6 -3.9M552 187.1l-5.7 13.3m3.2 -2.2l-3.2 2.2l-.7 -3.8M560.1 187.1l-6 14.4m3.2 -2.2l-3.2 2.2l-.7 -3.8M568.2 187.1l-6.3 15.7m3.2 -2.2l-3.2 2.2l-.8 -3.8M576.2 187.1l-6.6 16.9m3.2 -2.3l-3.2 2.3l-.8 -3.8M584.3 187.1l-6.5 17.5m3.1 -2.3l-3.1 2.3l-.8 -3.8M592.3 187.1l-5.9 17.7m3.1 -2.4l-3.1 2.4l-1 -3.8M600.4 187.1l-4.9 17.7m2.9 -2.6l-2.9 2.6l-1.2 -3.7M608.5 187.1l-4.1 17.4m2.8 -2.7l-2.8 2.7l-1.3 -3.7M616.5 187.1l-3.8 17.2m2.8 -2.7l-2.8 2.7l-1.4 -3.7M624.6 187.1l-3.9 17.1m2.8 -2.7l-2.8 2.7l-1.4 -3.7M632.6 187.1l-4.2 17m2.8 -2.7l-2.8 2.7l-1.3 -3.7M640.7 187.1l-4.7 16.9m2.9 -2.6l-2.9 2.6l-1.2 -3.7M648.8 187.1l-5 16.8m3 -2.5l-3 2.5l-1.1 -3.7M656.8 187.1l-5.1 16.7m3 -2.5l-3 2.5l-1.1 -3.7M664.9 187.1l-5.2 16.6m3 -2.5l-3 2.5l-1.1 -3.8M672.9 187.1l-5.6 16.1m3.1 -2.4l-3.1 2.4l-.9 -3.8M681 187.1l-6.6 15.1m3.3 -2.1l-3.3 2.1l-.6 -3.8M689.1 187.1l-7.4 14.1m3.4 -1.9l-3.4 1.9l-.4 -3.9M697.1 187.1l-7.6 13.4m3.5 -1.8l-3.5 1.8l-.2 -3.9M705.2 187.1l-7.9 12.5m3.5 -1.6l-3.5 1.6l0 -3.9M713.2 187.1l-8.3 11.3m3.6 -1.4l-3.6 1.4l.2 -3.9M721.3 187.1l-8.5 10.5m3.7 -1.2l-3.7 1.2l.4 -3.9M423.1 180.1l7.8 2.3m-1.8 -2.1l1.8 2.1l-2.6 .8M431.1 180.1l7.8 2.8m-1.6 -2.2l1.6 2.2l-2.6 .6M439.2 180.1l7.8 3.8m-1.4 -2.3l1.4 2.3l-2.7 .3M447.3 180.1l7.7 4.3m-1.3 -2.4l1.3 2.4l-2.7 .2M455.3 180.1l6 4.8m-.8 -2.6l.8 2.6l-2.7 -.3M463.4 180.1l-4.2 4.9m2.6 -.8l-2.6 .8l.4 -2.7M471.4 180.1l-7.2 4.8m2.7 0l-2.7 0l1.1 -2.5M479.5 180.1l-7.4 4m2.7 .2l-2.7 -.2l1.3 -2.4M487.6 180.1l-7.4 4.3m2.7 .2l-2.7 -.2l1.2 -2.4M495.6 180.1l-7 6.7m2.9 -.5l-2.9 .5l.7 -2.8M503.7 180.1l-4.9 10m2.9 -1.7l-2.9 1.7l-.4 -3.3M511.7 180.1l-3.8 11.1m2.8 -2.2l-2.8 2.2l-.9 -3.4M519.8 180.1l-4.2 11.3m2.9 -2.1l-2.9 2.1l-.8 -3.5M527.9 180.1l-5.2 11.4m3.2 -2l-3.2 2l-.6 -3.7M535.9 180.1l-5.6 12.3m3.3 -2.1l-3.3 2.1l-.6 -3.9M544 180.1l-5.5 13.1m3.2 -2.2l-3.2 2.2l-.7 -3.8M552 180.1l-5.4 13.5m3.2 -2.3l-3.2 2.3l-.8 -3.8M560.1 180.1l-5.5 14.2m3.2 -2.3l-3.2 2.3l-.8 -3.8M568.2 180.1l-5.8 15.3m3.1 -2.3l-3.1 2.3l-.8 -3.8M576.2 180.1l-6.1 16.4m3.1 -2.3l-3.1 2.3l-.9 -3.8M584.3 180.1l-5.9 17.1m3.1 -2.4l-3.1 2.4l-.9 -3.8M592.3 180.1l-5.1 17.5m3 -2.5l-3 2.5l-1.1 -3.7M600.4 180.1l-4 17.5m2.8 -2.7l-2.8 2.7l-1.3 -3.7M608.5 180.1l-3.3 17.1m2.7 -2.8l-2.7 2.8l-1.5 -3.6M616.5 180.1l-3 16.8m2.7 -2.8l-2.7 2.8l-1.5 -3.6M624.6 180.1l-3 16.6m2.7 -2.8l-2.7 2.8l-1.5 -3.6M632.6 180.1l-3.2 16.6m2.7 -2.8l-2.7 2.8l-1.5 -3.6M640.7 180.1l-3.6 16.5m2.8 -2.8l-2.8 2.8l-1.4 -3.6M648.8 180.1l-3.8 16.5m2.8 -2.7l-2.8 2.7l-1.3 -3.7M656.8 180.1l-3.8 16.4m2.8 -2.7l-2.8 2.7l-1.3 -3.7M664.9 180.1l-3.9 16.3m2.8 -2.7l-2.8 2.7l-1.3 -3.7M672.9 180.1l-4.2 16m2.9 -2.6l-2.9 2.6l-1.2 -3.7M681 180.1l-5.1 15.3m3 -2.4l-3 2.4l-1 -3.8M689.1 180.1l-5.9 14.6m3.2 -2.2l-3.2 2.2l-.8 -3.8M697.1 180.1l-6.2 14m3.3 -2.1l-3.3 2.1l-.6 -3.8M705.2 180.1l-6.8 13.1m3.4 -1.9l-3.4 1.9l-.4 -3.9M713.2 180.1l-7.6 11.7m3.6 -1.6l-3.6 1.6l0 -3.9M721.3 180.1l-8 10.6m3.7 -1.3l-3.7 1.3l.3 -3.9M439.2 173l7.8 3.7m-1.4 -2.3l1.4 2.3l-2.7 .4M447.3 173l7.1 2.7m-1.6 -2.2l1.6 2.2l-2.6 .6M455.3 173l-1.9 -6.9m-.8 2.6l.8 -2.6l2 1.8M463.4 173l-6.6 -5.4m.8 2.6l-.8 -2.6l2.7 .3M471.4 173l-7.5 .3m2.3 1.4l-2.3 -1.4l2.2 -1.6M479.5 173l-7.6 2m2.6 .8l-2.6 -.8l1.8 -2M487.6 173l-7.6 2.2m2.6 .8l-2.6 -.8l1.8 -2M495.6 173l-7.7 3.3m2.7 .5l-2.7 -.5l1.5 -2.2M503.7 173l-7.2 6.9m3 -.6l-3 .6l.7 -2.9M511.7 173l-5.8 9.7m3 -1.5l-3 1.5l-.1 -3.4M519.8 173l-5.9 10m3.1 -1.5l-3.1 1.5l-.1 -3.5M527.9 173l-6.2 10.7m3.3 -1.7l-3.3 1.7l-.2 -3.7M535.9 173l-5.8 12.9m3.3 -2.1l-3.3 2.1l-.6 -3.9M544 173l-5.6 14.2m3.2 -2.3l-3.2 2.3l-.8 -3.8M552 173l-5.3 14.1m3.1 -2.3l-3.1 2.3l-.8 -3.8M560.1 173l-5.3 14.2m3.1 -2.3l-3.1 2.3l-.9 -3.8M568.2 173l-5.5 14.9m3.1 -2.3l-3.1 2.3l-.9 -3.8M576.2 173l-5.6 15.9m3.1 -2.4l-3.1 2.4l-.9 -3.8M584.3 173l-5.3 16.8m3 -2.5l-3 2.5l-1 -3.8M592.3 173l-4.4 17.2m2.9 -2.6l-2.9 2.6l-1.2 -3.7M600.4 173l-3.5 17.1m2.7 -2.8l-2.7 2.8l-1.4 -3.6M608.5 173l-2.9 16.7m2.7 -2.9l-2.7 2.9l-1.5 -3.6M616.5 173l-2.6 16.3m2.6 -2.9l-2.6 2.9l-1.6 -3.6M624.6 173l-2.5 16.1m2.6 -2.9l-2.6 2.9l-1.6 -3.6M632.6 173l-2.7 16m2.6 -2.9l-2.6 2.9l-1.6 -3.6M640.7 173l-2.9 16m2.7 -2.8l-2.7 2.8l-1.5 -3.6M648.8 173l-3.1 15.9m2.7 -2.8l-2.7 2.8l-1.5 -3.6M656.8 173l-3.2 15.9m2.7 -2.8l-2.7 2.8l-1.4 -3.6M664.9 173l-3.2 15.8m2.7 -2.8l-2.7 2.8l-1.4 -3.6M672.9 173l-3.4 15.6m2.8 -2.7l-2.8 2.7l-1.4 -3.7M681 173l-4.3 15m2.9 -2.6l-2.9 2.6l-1.1 -3.7M689.1 173l-5.1 14.3m3.1 -2.4l-3.1 2.4l-.9 -3.8M697.1 173l-5.4 13.8m3.2 -2.3l-3.2 2.3l-.8 -3.8M705.2 173l-6 13.1m3.3 -2.1l-3.3 2.1l-.6 -3.9M713.2 173l-6.9 11.9m3.5 -1.8l-3.5 1.8l-.2 -3.9M721.3 173l-7.6 10.6m3.6 -1.4l-3.6 1.4l.2 -3.9M463.4 165.9l-6.4 -8.6m.2 3.2l-.2 -3.2l3 1.1M471.4 165.9l-7.8 -2.8m1.6 2.2l-1.6 -2.2l2.6 -.6M479.5 165.9l-7.6 1.1m2.4 1.1l-2.4 -1.1l2 -1.8M487.6 165.9l-7.7 1.4m2.5 1l-2.5 -1l2 -1.9M495.6 165.9l-7.7 1.7m2.5 1l-2.5 -1l1.9 -1.9M503.7 165.9l-7.8 2.5m2.6 .7l-2.6 -.7l1.7 -2.1M511.7 165.9l-8 3.4m2.7 .5l-2.7 -.5l1.5 -2.2M519.8 165.9l-8.1 4.3m2.7 .3l-2.7 -.3l1.4 -2.4M527.9 165.9l-8.3 7.2m3.3 -.5l-3.3 .5l.9 -3.2M535.9 165.9l-6.9 12.7m3.4 -1.9l-3.4 1.9l-.3 -3.9M544 165.9l-6.2 15.4m3.2 -2.2l-3.2 2.2l-.8 -3.8M552 165.9l-5.7 15.3m3.1 -2.3l-3.1 2.3l-.8 -3.8M560.1 165.9l-5.3 14.3m3.1 -2.3l-3.1 2.3l-.9 -3.8M568.2 165.9l-5.2 14.5m3.1 -2.4l-3.1 2.4l-.9 -3.8M576.2 165.9l-5.2 15.3m3.1 -2.4l-3.1 2.4l-1 -3.8M584.3 165.9l-4.6 16.3m2.9 -2.6l-2.9 2.6l-1.1 -3.7M592.3 165.9l-3.9 16.7m2.8 -2.7l-2.8 2.7l-1.3 -3.7M600.4 165.9l-3.4 16.5m2.7 -2.8l-2.7 2.8l-1.4 -3.6M608.5 165.9l-2.8 16.1m2.7 -2.9l-2.7 2.9l-1.5 -3.6M616.5 165.9l-2.4 15.8m2.6 -2.9l-2.6 2.9l-1.6 -3.6M624.6 165.9l-2.3 15.5m2.6 -2.9l-2.6 2.9l-1.6 -3.5M632.6 165.9l-2.4 15.4m2.6 -2.9l-2.6 2.9l-1.6 -3.6M640.7 165.9l-2.6 15.3m2.6 -2.9l-2.6 2.9l-1.5 -3.6M648.8 165.9l-2.8 15.3m2.7 -2.8l-2.7 2.8l-1.5 -3.6M656.8 165.9l-2.8 15.3m2.7 -2.8l-2.7 2.8l-1.5 -3.6M664.9 165.9l-2.9 15.2m2.7 -2.8l-2.7 2.8l-1.5 -3.6M672.9 165.9l-3.1 15m2.7 -2.8l-2.7 2.8l-1.4 -3.6M681 165.9l-3.9 14.5m2.9 -2.6l-2.9 2.6l-1.2 -3.7M689.1 165.9l-4.7 13.9m3.1 -2.4l-3.1 2.4l-1 -3.8M697.1 165.9l-5 13.5m3.1 -2.3l-3.1 2.3l-.8 -3.8M705.2 165.9l-5.4 13m3.2 -2.2l-3.2 2.2l-.7 -3.8M713.2 165.9l-6.2 12.1m3.4 -1.9l-3.4 1.9l-.4 -3.9M463.4 158.8l-4.6 -10.8m-.6 3.5l.6 -3.5l2.9 2M471.4 158.8l-7 -7.8m.5 3.1l-.5 -3.1l3 .8M479.5 158.8l-7.7 -.7m2.1 1.7l-2.1 -1.7l2.4 -1.2M487.6 158.8l-7.7 .3m2.3 1.4l-2.3 -1.4l2.2 -1.6M495.6 158.8l-7.7 0m2.3 1.5l-2.3 -1.5l2.3 -1.5M503.7 158.8l-7.8 .2m2.3 1.4l-2.3 -1.4l2.2 -1.5M511.7 158.8l-7.9 1.1m2.5 1.1l-2.5 -1.1l2 -1.8M519.8 158.8l-8.1 2.5m2.6 .7l-2.6 -.7l1.7 -2.1M527.9 158.8l-8.6 5.2m3 .1l-3 -.1l1.3 -2.7M535.9 158.8l-8 11.8m3.6 -1.5l-3.6 1.5l.1 -3.9M544 158.8l-7.1 16.4m3.2 -2.2l-3.2 2.2l-.6 -3.8M552 158.8l-6.6 16.8m3.2 -2.3l-3.2 2.3l-.8 -3.8M560.1 158.8l-5.7 15m3.1 -2.3l-3.1 2.3l-.8 -3.8M568.2 158.8l-5.2 14.2m3.1 -2.3l-3.1 2.3l-.9 -3.8M576.2 158.8l-4.8 14.8m3 -2.5l-3 2.5l-1 -3.8M584.3 158.8l-4.1 15.7m2.9 -2.6l-2.9 2.6l-1.2 -3.7M592.3 158.8l-3.6 16.1m2.8 -2.7l-2.8 2.7l-1.3 -3.7M600.4 158.8l-3.3 15.9m2.7 -2.8l-2.7 2.8l-1.4 -3.6M463.4 151.8l-2.7 -11.9m-1.3 3.4l1.3 -3.4l2.6 2.5M471.4 151.8l-4 -11.3m-.8 3.5l.8 -3.5l2.8 2.2M479.5 151.8l-7.7 -5.9m1 2.7l-1 -2.7l2.9 .2M487.6 151.8l-7.9 -2.3m1.8 2l-1.8 -2l2.6 -.8M495.6 151.8l-7.8 -1.5m1.9 1.9l-1.9 -1.9l2.5 -1M503.7 151.8l-7.8 -.4m2.2 1.6l-2.2 -1.6l2.3 -1.4M511.7 151.8l-7.9 1m2.4 1.2l-2.4 -1.2l2.1 -1.8M519.8 151.8l-8.1 2.6m2.6 .7l-2.6 -.7l1.7 -2.1M527.9 151.8l-8.5 5.1m3 .1l-3 -.1l1.3 -2.7M535.9 151.8l-8.2 11.3m3.6 -1.4l-3.6 1.4l.2 -3.9M544 151.8l-7.7 17m3.3 -2.1l-3.3 2.1l-.6 -3.9M552 151.8l-7.6 18.6m3.2 -2.2l-3.2 2.2l-.7 -3.8M560.1 151.8l-6.4 16.2m3.2 -2.3l-3.2 2.3l-.8 -3.8M568.2 151.8l-5.4 14.2m3.1 -2.3l-3.1 2.3l-.8 -3.8M576.2 151.8l-4.6 14.3m3 -2.5l-3 2.5l-1 -3.8M584.3 151.8l-3.8 15.1m2.9 -2.6l-2.9 2.6l-1.3 -3.7M463.4 144.7l-2.5 -12.1m-1.3 3.5l1.3 -3.5l2.6 2.6M471.4 144.7l-3.9 -11.4m-.9 3.5l.9 -3.5l2.8 2.2M479.5 144.7l-7.3 -7.3m.7 3l-.7 -3l3 .6M487.6 144.7l-7.9 -3.9m1.4 2.3l-1.4 -2.3l2.7 -.3M495.6 144.7l-7.9 -2.2m1.8 2l-1.8 -2l2.6 -.8M503.7 144.7l-7.8 -.5m2.2 1.6l-2.2 -1.6l2.3 -1.3M511.7 144.7l-7.9 1.2m2.5 1.1l-2.5 -1.1l2 -1.8M519.8 144.7l-8.1 3m2.6 .6l-2.6 -.6l1.6 -2.2M527.9 144.7l-8.3 5.4m3 0l-3 0l1.2 -2.7M535.9 144.7l-8 10.7m3.7 -1.4l-3.7 1.4l.2 -3.9M544 144.7l-7.7 16.8m3.3 -2.1l-3.3 2.1l-.6 -3.9M552 144.7l-8.1 19.9m3.2 -2.2l-3.2 2.2l-.7 -3.8M463.4 137.6l-2.6 -12.3m-1.3 3.5l1.3 -3.5l2.7 2.7M471.4 137.6l-5.2 -10.7m-.4 3.5l.4 -3.5l3 1.8M479.5 137.6l-7.4 -7.2m.7 3l-.7 -3l3 .6M487.6 137.6l-7.9 -4.8m1.2 2.5l-1.2 -2.5l2.8 -.1M495.6 137.6l-7.9 -2.7m1.7 2.1l-1.7 -2.1l2.6 -.7M503.7 137.6l-7.8 -.6m2.1 1.6l-2.1 -1.6l2.4 -1.3M511.7 137.6l-7.8 1.5m2.5 1l-2.5 -1l2 -1.9M519.8 137.6l-8 3.6m2.7 .4l-2.7 -.4l1.5 -2.3M527.9 137.6l-8 6.1m3 -.2l-3 .2l1 -2.8M535.9 137.6l-7.5 10.2m3.6 -1.3l-3.6 1.3l.2 -3.8M544 137.6l-7 16m3.3 -2.2l-3.3 2.2l-.6 -3.8M552 137.6l-7.7 20.2m3.1 -2.3l-3.1 2.3l-.8 -3.8M447.3 130.6l-.1 -12.5m-2 3.1l2 -3.1l2.1 3.1M455.3 130.6l-.2 -12.8m-2 3.3l2 -3.3l2.2 3.2M463.4 130.6l-1.4 -13.2m-1.8 3.5l1.8 -3.5l2.5 3M471.4 130.6l-4.6 -11.5m-.7 3.6l.7 -3.6l3 2.1M479.5 130.6l-6.9 -8.4m.3 3.2l-.3 -3.2l3.1 1M487.6 130.6l-7.6 -6m.9 2.8l-.9 -2.8l2.9 .3M495.6 130.6l-7.8 -3.4m1.5 2.3l-1.5 -2.3l2.7 -.4M503.7 130.6l-7.5 -.7m2.1 1.7l-2.1 -1.7l2.4 -1.2M511.7 130.6l-7.6 1.9m2.5 .9l-2.5 -.9l1.9 -2M519.8 130.6l-7.9 4.6m2.7 .1l-2.7 -.1l1.2 -2.4M527.9 130.6l-7.5 7.2m3.1 -.6l-3.1 .6l.7 -3M535.9 130.6l-6.5 10.5m3.4 -1.6l-3.4 1.6l-.1 -3.7M544 130.6l-5.2 15.2m3.1 -2.4l-3.1 2.4l-1 -3.8M552 130.6l-5.6 19.8m2.9 -2.6l-2.9 2.6l-1.2 -3.7M439.2 123.5l0 -12.4m-2 3.1l2 -3.1l2 3.1M447.3 123.5l.1 -12.5m-2.1 3.1l2.1 -3.1l2 3.2M455.3 123.5l.2 -13.4m-2.2 3.2l2.2 -3.2l2.1 3.3M463.4 123.5l-.3 -14.5m-2 3.3l2 -3.3l2.2 3.2M471.4 123.5l-2.8 -13.2m-1.4 3.6l1.4 -3.6l2.8 2.8M479.5 123.5l-5.5 -10.2m-.3 3.5l.3 -3.5l3.1 1.7M487.6 123.5l-6.8 -7.7m.5 3l-.5 -3l3 .8M495.6 123.5l-7 -4.4m1.1 2.5l-1.1 -2.5l2.7 0M503.7 123.5l-6.4 -.9m2 1.8l-2 -1.8l2.4 -1.1M511.7 123.5l-6.7 2.3m2.6 .6l-2.6 -.6l1.7 -2.1M519.8 123.5l-7.1 6m2.8 -.3l-2.8 .3l.8 -2.7M527.9 123.5l-6.5 8.8m3.1 -1.1l-3.1 1.1l.2 -3.3M535.9 123.5l-5.1 11.1m3.1 -2l-3.1 2l-.5 -3.6M544 123.5l-3.6 14.2m2.9 -2.7l-2.9 2.7l-1.3 -3.7M447.3 116.4l.3 -12.6m-2.1 3.1l2.1 -3.1l2 3.2M455.3 116.4l.5 -14.3m-2.2 3.2l2.2 -3.2l2 3.3M463.4 116.4l.3 -16.5m-2.2 3.2l2.2 -3.2l2.1 3.3M471.4 116.4l-1.4 -14.6m-1.8 3.5l1.8 -3.5l2.4 3.1M479.5 116.4l-3.5 -11.7m-1 3.5l1 -3.5l2.8 2.4M487.6 116.4l-4.8 -9.5m-.3 3.2l.3 -3.2l2.8 1.6M495.6 116.4l-5.1 -5.6m.4 2.7l-.4 -2.7l2.6 .7M503.7 116.4l-4.2 -1m1.8 2l-1.8 -2l2.6 -.9M511.7 116.4l-4.7 2.9m2.7 .1l-2.7 -.1l1.2 -2.4M519.8 116.4l-5.1 7.5m2.5 -1.1l-2.5 1.1l.1 -2.7M527.9 116.4l-4.5 10.5m2.8 -1.9l-2.8 1.9l-.6 -3.4M535.9 116.4l-3.4 11.8m2.8 -2.4l-2.8 2.4l-1.1 -3.5M447.3 109.4l.6 -12.8m-2.2 3.1l2.2 -3.1l1.9 3.3M455.3 109.4l.9 -15.5m-2.3 3.1l2.3 -3.1l1.9 3.4M463.4 109.4l.9 -19.1m-2.3 3.2l2.3 -3.2l2 3.4M471.4 109.4l0 -16.2m-2.1 3.3l2.1 -3.3l2.1 3.3M479.5 109.4l-.9 -12.7m-1.8 3.3l1.8 -3.3l2.3 3M487.6 109.4l-1.3 -10.7m-1.4 2.9l1.4 -2.9l2.1 2.5M495.6 109.4l-1.6 -6.9m-.9 2.5l.9 -2.5l1.9 1.9M503.7 109.4l-2.1 -2.1m.6 2.6l-.6 -2.6l2.6 .5M511.7 109.4l-1.7 4.2m2.2 -1.5l-2.2 1.5l-.5 -2.7M519.8 109.4l-1.5 8.8m1.8 -2l-1.8 2l-1.1 -2.5M527.9 109.4l-1.2 11.5m2.2 -2.7l-2.2 2.7l-1.6 -3.1M535.9 109.4l-.9 12.4m2.3 -3l-2.3 3l-1.8 -3.3M447.3 102.3l1.1 -12.9m-2.4 3.1l2.4 -3.1l1.8 3.4M455.3 102.3l1.7 -16.7m-2.4 3l2.4 -3l1.8 3.5M463.4 102.3l2.6 -21.6m-2.5 3l2.5 -3l1.7 3.5M471.4 102.3l2.4 -17.5m-2.6 2.9l2.6 -2.9l1.7 3.5M479.5 102.3l2.3 -12.6m-2.6 2.8l2.6 -2.8l1.5 3.6M487.6 102.3l2.7 -10.4m-2.4 2.2l2.4 -2.2l1 3M495.6 102.3l3 -6.5m-2.3 1.5l2.3 -1.5l.4 2.7M503.7 102.3l2.8 -1.4m-2.7 -.3l2.7 .3l-1.4 2.3M511.7 102.3l3 3.6m-.3 -2.7l.3 2.7l-2.6 -.8M519.8 102.3l2.9 8.4m.7 -2.6l-.7 2.6l-2.1 -1.7M527.9 102.3l2.5 11.2m1.2 -3.2l-1.2 3.2l-2.5 -2.4M535.9 102.3l3 11.8m1.2 -3.5l-1.2 3.5l-2.7 -2.5M447.3 95.2l2.4 -12.7m-2.7 2.8l2.7 -2.8l1.5 3.6M455.3 95.2l3.8 -17.1m-2.8 2.7l2.8 -2.7l1.4 3.7M463.4 95.2l5.7 -22.7m-2.9 2.7l2.9 -2.7l1.3 3.7M471.4 95.2l5.5 -17.6m-3 2.5l3 -2.5l1 3.8M479.5 95.2l5.1 -11.5m-3.2 2l3.2 -2l.6 3.7M487.6 95.2l5.7 -8.9m-2.9 1.3l2.9 -1.3l0 3.2M495.6 95.2l5.9 -5.3m-2.7 .4l2.7 -.4l-.7 2.6M503.7 95.2l5 -1m-2.5 -1l2.5 1l-1.9 1.9M511.7 95.2l5.4 2.6m-1.4 -2.3l1.4 2.3l-2.7 .3M519.8 95.2l6 7m-.4 -2.7l.4 2.7l-2.6 -.8M527.9 95.2l5.5 9.7m.2 -3.3l-.2 3.3l-3 -1.5M535.9 95.2l6.2 9.3m0 -3.4l0 3.4l-3.1 -1.3M463.4 88.1l6.8 -22.7m-3 2.5l3 -2.5l1.1 3.7M471.4 88.1l6.8 -17.1m-3.2 2.3l3.2 -2.3l.8 3.8M479.5 88.1l6.5 -10.3m-3.3 1.5l3.3 -1.5l0 3.7M487.6 88.1l6.9 -7.7m-3 .8l3 -.8l-.5 3.1M495.6 88.1l7.3 -4.6m-2.7 0l2.7 0l-1.1 2.4M503.7 88.1l6.8 -.9m-2.4 -1.1l2.4 1.1l-2 1.8M511.7 88.1l7.1 2.1m-1.7 -2.1l1.7 2.1l-2.6 .8M519.8 88.1l7.4 5.4m-1 -2.6l1 2.6l-2.7 -.2M527.9 88.1l7 7.9m-.5 -3.1l.5 3.1l-3 -.8M535.9 88.1l7 8.1m-.4 -3.2l.4 3.2l-3.1 -.9M544 88.1l7.2 7.7m-.5 -3.1l.5 3.1l-3.1 -.8M463.4 81.1l6.8 -21.3m-3 2.5l3 -2.5l1 3.8M471.4 81.1l7.1 -16m-3.3 2.1l3.3 -2.1l.6 3.9" fill="none" stroke="#000" stroke-width="1" shape-rendering="crispEdges"/>
<g fill="none" stroke="#000" stroke-width="3" stroke-linejoin="round" stroke-linecap="round" shape-rendering="crispEdges">
<polyline points="98,549 95.6,528 92.4,521.7 96.7,517.4 93.5,495.8 94.6,488 102,486 106.5,476 114,466.5 112.5,461 128,446 141,435 145.4,428.7 151,423 148,419 140,421 128,428 120,428 122,420 125,411 140,407 144,400 143,391 136,384 132.6,376 135,368 141,364 147,359.6 160,360.4 168,363 171.4,367.6 163,373 160.4,380 162,387 170,391 177.4,393 177,399 172,403 162,406 149,409 151,417 154,416 164,408 172,403 186,400 202,398 218,397.6 234,395 247,394 255,388 259,368 262,340 266,332 257,322 258,319 270,318 275,310 278,300 277.5,290 277,273 270,275 263,270 259,275 252,268 270,250 290,237 304,229 318,219 330,210 342,202 354,194 363,189 370,178 382.5,164 400,150 405,141 415,130 427.5,117.5 429,110 426,104 437.5,101 444,94 446,80 441,71 445,66 460,61 480,55 490,53"/>
<polyline points="112.5,461 115,441.6 120.5,435 132.4,430.8 141,424 150,423 145.4,428.7"/>
<polyline points="270,249 262,256 255,255 253,250 252,232 256,218 258,205 267,207 266,222 272,232 275,243 292,234 288,226 289,218 299,215 305,219 305,207 310,212 311,203 318,200 326,205 334,203 336,192 342,198 342,202"/>
<polyline points="336,102.5 341,96 350,93 361,105 366,101 387.5,125 390,132.5 397.5,140 396,149 390,152.5 374,127.5 367.5,125 357.5,123 344,114 336,102.5"/>
<polyline points="569,59 581.5,67 598,63 631,65 664,71.5 697,73.6 709,77.7 720,67 726,55"/>
<polyline points="667.5,53 672.5,60 680,56 687.5,54 697.5,60 710,60 726,56"/>
<polyline points="569,59 581,70 594,81 596,75 620,76 635,82.5 650,81 654,87.5 657.5,95 645,100 627.5,101 612.5,105 610,109 617.5,114 635,112.5 647.5,117.5 660,121 667.5,127.5 685,132.5 692.5,142.5 705,147.5 726,152.5"/>
<polyline points="567.5,98 566,104 575,116 595,122.5 615,127.5 642.5,132.5 669,137.5" stroke-width="3.6"/>
<polyline points="567.5,98 571,106 580,115 612,123 640,128" stroke-width="2"/>
</g>
</g>
<ellipse cx="345.5" cy="325" rx="2.2" ry="1.6" fill="#fff"/>
<rect x="73.0" y="53.0" width="653.0" height="495.0" fill="none" stroke="#000" stroke-width="2" shape-rendering="crispEdges"/>
<path d="M153.25 548.0v5M235.6 548.0v5M318.0 548.0v5M400.4 548.0v5M482.75 548.0v5M565.1 548.0v5M647.5 548.0v5M73.0 72.0h-5M73.0 167.75h-5M73.0 263.5h-5M73.0 359.25h-5M73.0 455.0h-5" fill="none" stroke="#000" stroke-width="1" shape-rendering="crispEdges"/>
<g shape-rendering="crispEdges">
<rect x="734" y="532.99" width="15" height="7.91" fill="#0033ff"/>
<rect x="734" y="525.48" width="15" height="7.91" fill="#0035ff"/>
<rect x="734" y="517.98" width="15" height="7.91" fill="#0037ff"/>
<rect x="734" y="510.47" width="15" height="7.91" fill="#0039ff"/>
<rect x="734" y="502.96" width="15" height="7.91" fill="#003bff"/>
<rect x="734" y="495.45" width="15" height="7.91" fill="#003eff"/>
<rect x="734" y="487.95" width="15" height="7.91" fill="#0040ff"/>
<rect x="734" y="480.44" width="15" height="7.91" fill="#0042ff"/>
<rect x="734" y="472.93" width="15" height="7.91" fill="#0044ff"/>
<rect x="734" y="465.42" width="15" height="7.91" fill="#0046ff"/>
<rect x="734" y="457.91" width="15" height="7.91" fill="#0048ff"/>
<rect x="734" y="450.41" width="15" height="7.91" fill="#004aff"/>
<rect x="734" y="442.90" width="15" height="7.91" fill="#004cff"/>
<rect x="734" y="435.39" width="15" height="7.91" fill="#0058ff"/>
<rect x="734" y="427.88" width="15" height="7.91" fill="#0068ff"/>
<rect x="734" y="420.38" width="15" height="7.91" fill="#0078ff"/>
<rect x="734" y="412.87" width="15" height="7.91" fill="#0087ff"/>
<rect x="734" y="405.36" width="15" height="7.91" fill="#0097ff"/>
<rect x="734" y="397.85" width="15" height="7.91" fill="#00a7ff"/>
<rect x="734" y="390.34" width="15" height="7.91" fill="#00b7ff"/>
<rect x="734" y="382.84" width="15" height="7.91" fill="#00c7ff"/>
<rect x="734" y="375.33" width="15" height="7.91" fill="#00d7ff"/>
<rect x="734" y="367.82" width="15" height="7.91" fill="#00e7ff"/>
<rect x="734" y="360.31" width="15" height="7.91" fill="#00f7ff"/>
<rect x="734" y="352.80" width="15" height="7.91" fill="#08fff7"/>
<rect x="734" y="345.30" width="15" height="7.91" fill="#18ffe7"/>
<rect x="734" y="337.79" width="15" height="7.91" fill="#28ffd7"/>
<rect x="734" y="330.28" width="15" height="7.91" fill="#38ffc7"/>
<rect x="734" y="322.77" width="15" height="7.91" fill="#48ffb7"/>
<rect x="734" y="315.27" width="15" height="7.91" fill="#58ffa7"/>
<rect x="734" y="307.76" width="15" height="7.91" fill="#68ff97"/>
<rect x="734" y="300.25" width="15" height="7.91" fill="#78ff87"/>
<rect x="734" y="292.74" width="15" height="7.91" fill="#87ff78"/>
<rect x="734" y="285.23" width="15" height="7.91" fill="#97ff68"/>
<rect x="734" y="277.73" width="15" height="7.91" fill="#a7ff58"/>
<rect x="734" y="270.22" width="15" height="7.91" fill="#b7ff48"/>
<rect x="734" y="262.71" width="15" height="7.91" fill="#c7ff38"/>
<rect x="734" y="255.20" width="15" height="7.91" fill="#d7ff28"/>
<rect x="734" y="247.70" width="15" height="7.91" fill="#e7ff18"/>
<rect x="734" y="240.19" width="15" height="7.91" fill="#f7ff08"/>
<rect x="734" y="232.68" width="15" height="7.91" fill="#fff700"/>
<rect x="734" y="225.17" width="15" height="7.91" fill="#ffe700"/>
<rect x="734" y="217.66" width="15" height="7.91" fill="#ffd700"/>
<rect x="734" y="210.16" width="15" height="7.91" fill="#ffc700"/>
<rect x="734" y="202.65" width="15" height="7.91" fill="#ffb700"/>
<rect x="734" y="195.14" width="15" height="7.91" fill="#ffa700"/>
<rect x="734" y="187.63" width="15" height="7.91" fill="#ff9700"/>
<rect x="734" y="180.12" width="15" height="7.91" fill="#ff8700"/>
<rect x="734" y="172.62" width="15" height="7.91" fill="#ff7800"/>
<rect x="734" y="165.11" width="15" height="7.91" fill="#ff6800"/>
<rect x="734" y="157.60" width="15" height="7.91" fill="#ff5800"/>
<rect x="734" y="150.09" width="15" height="7.91" fill="#ff4800"/>
<rect x="734" y="142.59" width="15" height="7.91" fill="#ff3800"/>
<rect x="734" y="135.08" width="15" height="7.91" fill="#ff2800"/>
<rect x="734" y="127.57" width="15" height="7.91" fill="#ff1800"/>
<rect x="734" y="120.06" width="15" height="7.91" fill="#ff0800"/>
<rect x="734" y="112.55" width="15" height="7.91" fill="#f70000"/>
<rect x="734" y="105.05" width="15" height="7.91" fill="#e70000"/>
<rect x="734" y="97.54" width="15" height="7.91" fill="#d70000"/>
<rect x="734" y="90.03" width="15" height="7.91" fill="#c70000"/>
<rect x="734" y="82.52" width="15" height="7.91" fill="#b70000"/>
<rect x="734" y="75.02" width="15" height="7.91" fill="#a70000"/>
<rect x="734" y="67.51" width="15" height="7.91" fill="#970000"/>
<rect x="734" y="60.00" width="15" height="7.91" fill="#870000"/>
</g>
<text y="41" font-size="23.8" stroke="#fff" stroke-width="0.15"><tspan x="19" textLength="88.5" lengthAdjust="spacingAndGlyphs">Current</tspan> <tspan x="116" textLength="78" lengthAdjust="spacingAndGlyphs">velocity</tspan> <tspan x="212.5" textLength="76" lengthAdjust="spacingAndGlyphs">(m/s).</tspan> <tspan x="302.5" textLength="52.5" lengthAdjust="spacingAndGlyphs">Date</tspan> <tspan x="371" textLength="131.5" lengthAdjust="spacingAndGlyphs">2009.05.25.</tspan> <tspan x="517.5" textLength="51.5" lengthAdjust="spacingAndGlyphs">Time</tspan> <tspan x="584" textLength="136" lengthAdjust="spacingAndGlyphs">00(h):00(m)</tspan> <tspan x="740" textLength="41" lengthAdjust="spacingAndGlyphs">GMT</tspan></text>
<text y="107" font-size="19.5" stroke="#fff" stroke-width="0.45"><tspan x="110.6" textLength="11.4" lengthAdjust="spacingAndGlyphs">Z</tspan> <tspan x="139" textLength="14" lengthAdjust="spacingAndGlyphs">=</tspan> <tspan x="170" textLength="32.5" lengthAdjust="spacingAndGlyphs">2.5</tspan> <tspan x="220" textLength="18.5" lengthAdjust="spacingAndGlyphs">m</tspan></text>
<text y="588.7" font-size="19.5"><tspan x="323.8" textLength="85.5" lengthAdjust="spacingAndGlyphs">Longitude</tspan> <tspan x="422.5" textLength="52.5" lengthAdjust="spacingAndGlyphs">(East)</tspan></text>
<text transform="translate(30.7 381.7) rotate(-90)" font-size="19.5"><tspan x="0" textLength="79.4" lengthAdjust="spacingAndGlyphs">Latitude</tspan> <tspan x="90" textLength="62.4" lengthAdjust="spacingAndGlyphs">(North)</tspan></text>
<g font-size="12.3">
<text x="153.25" y="563" text-anchor="middle">29</text>
<text x="235.6" y="563" text-anchor="middle">29.5</text>
<text x="318.0" y="563" text-anchor="middle">30</text>
<text x="400.4" y="563" text-anchor="middle">30.5</text>
<text x="482.75" y="563" text-anchor="middle">31</text>
<text x="565.1" y="563" text-anchor="middle">31.5</text>
<text x="647.5" y="563" text-anchor="middle">32</text>
<text x="66.5" y="76.5" text-anchor="end">46.5</text>
<text x="66.5" y="172.25" text-anchor="end">46</text>
<text x="66.5" y="268.0" text-anchor="end">45.5</text>
<text x="66.5" y="363.75" text-anchor="end">45</text>
<text x="66.5" y="459.5" text-anchor="end">44.5</text>
</g>
<g font-size="13.3">
<text x="760" y="71.5" textLength="29" lengthAdjust="spacingAndGlyphs">0.52</text>
<text x="760" y="184" textLength="29" lengthAdjust="spacingAndGlyphs">0.39</text>
<text x="760" y="302.5" textLength="29" lengthAdjust="spacingAndGlyphs">0.26</text>
<text x="760" y="421.5" textLength="29" lengthAdjust="spacingAndGlyphs">0.13</text>
<text x="760" y="539.5" textLength="29" lengthAdjust="spacingAndGlyphs">0.00</text>
</g>
</svg>
</body>
</html>
